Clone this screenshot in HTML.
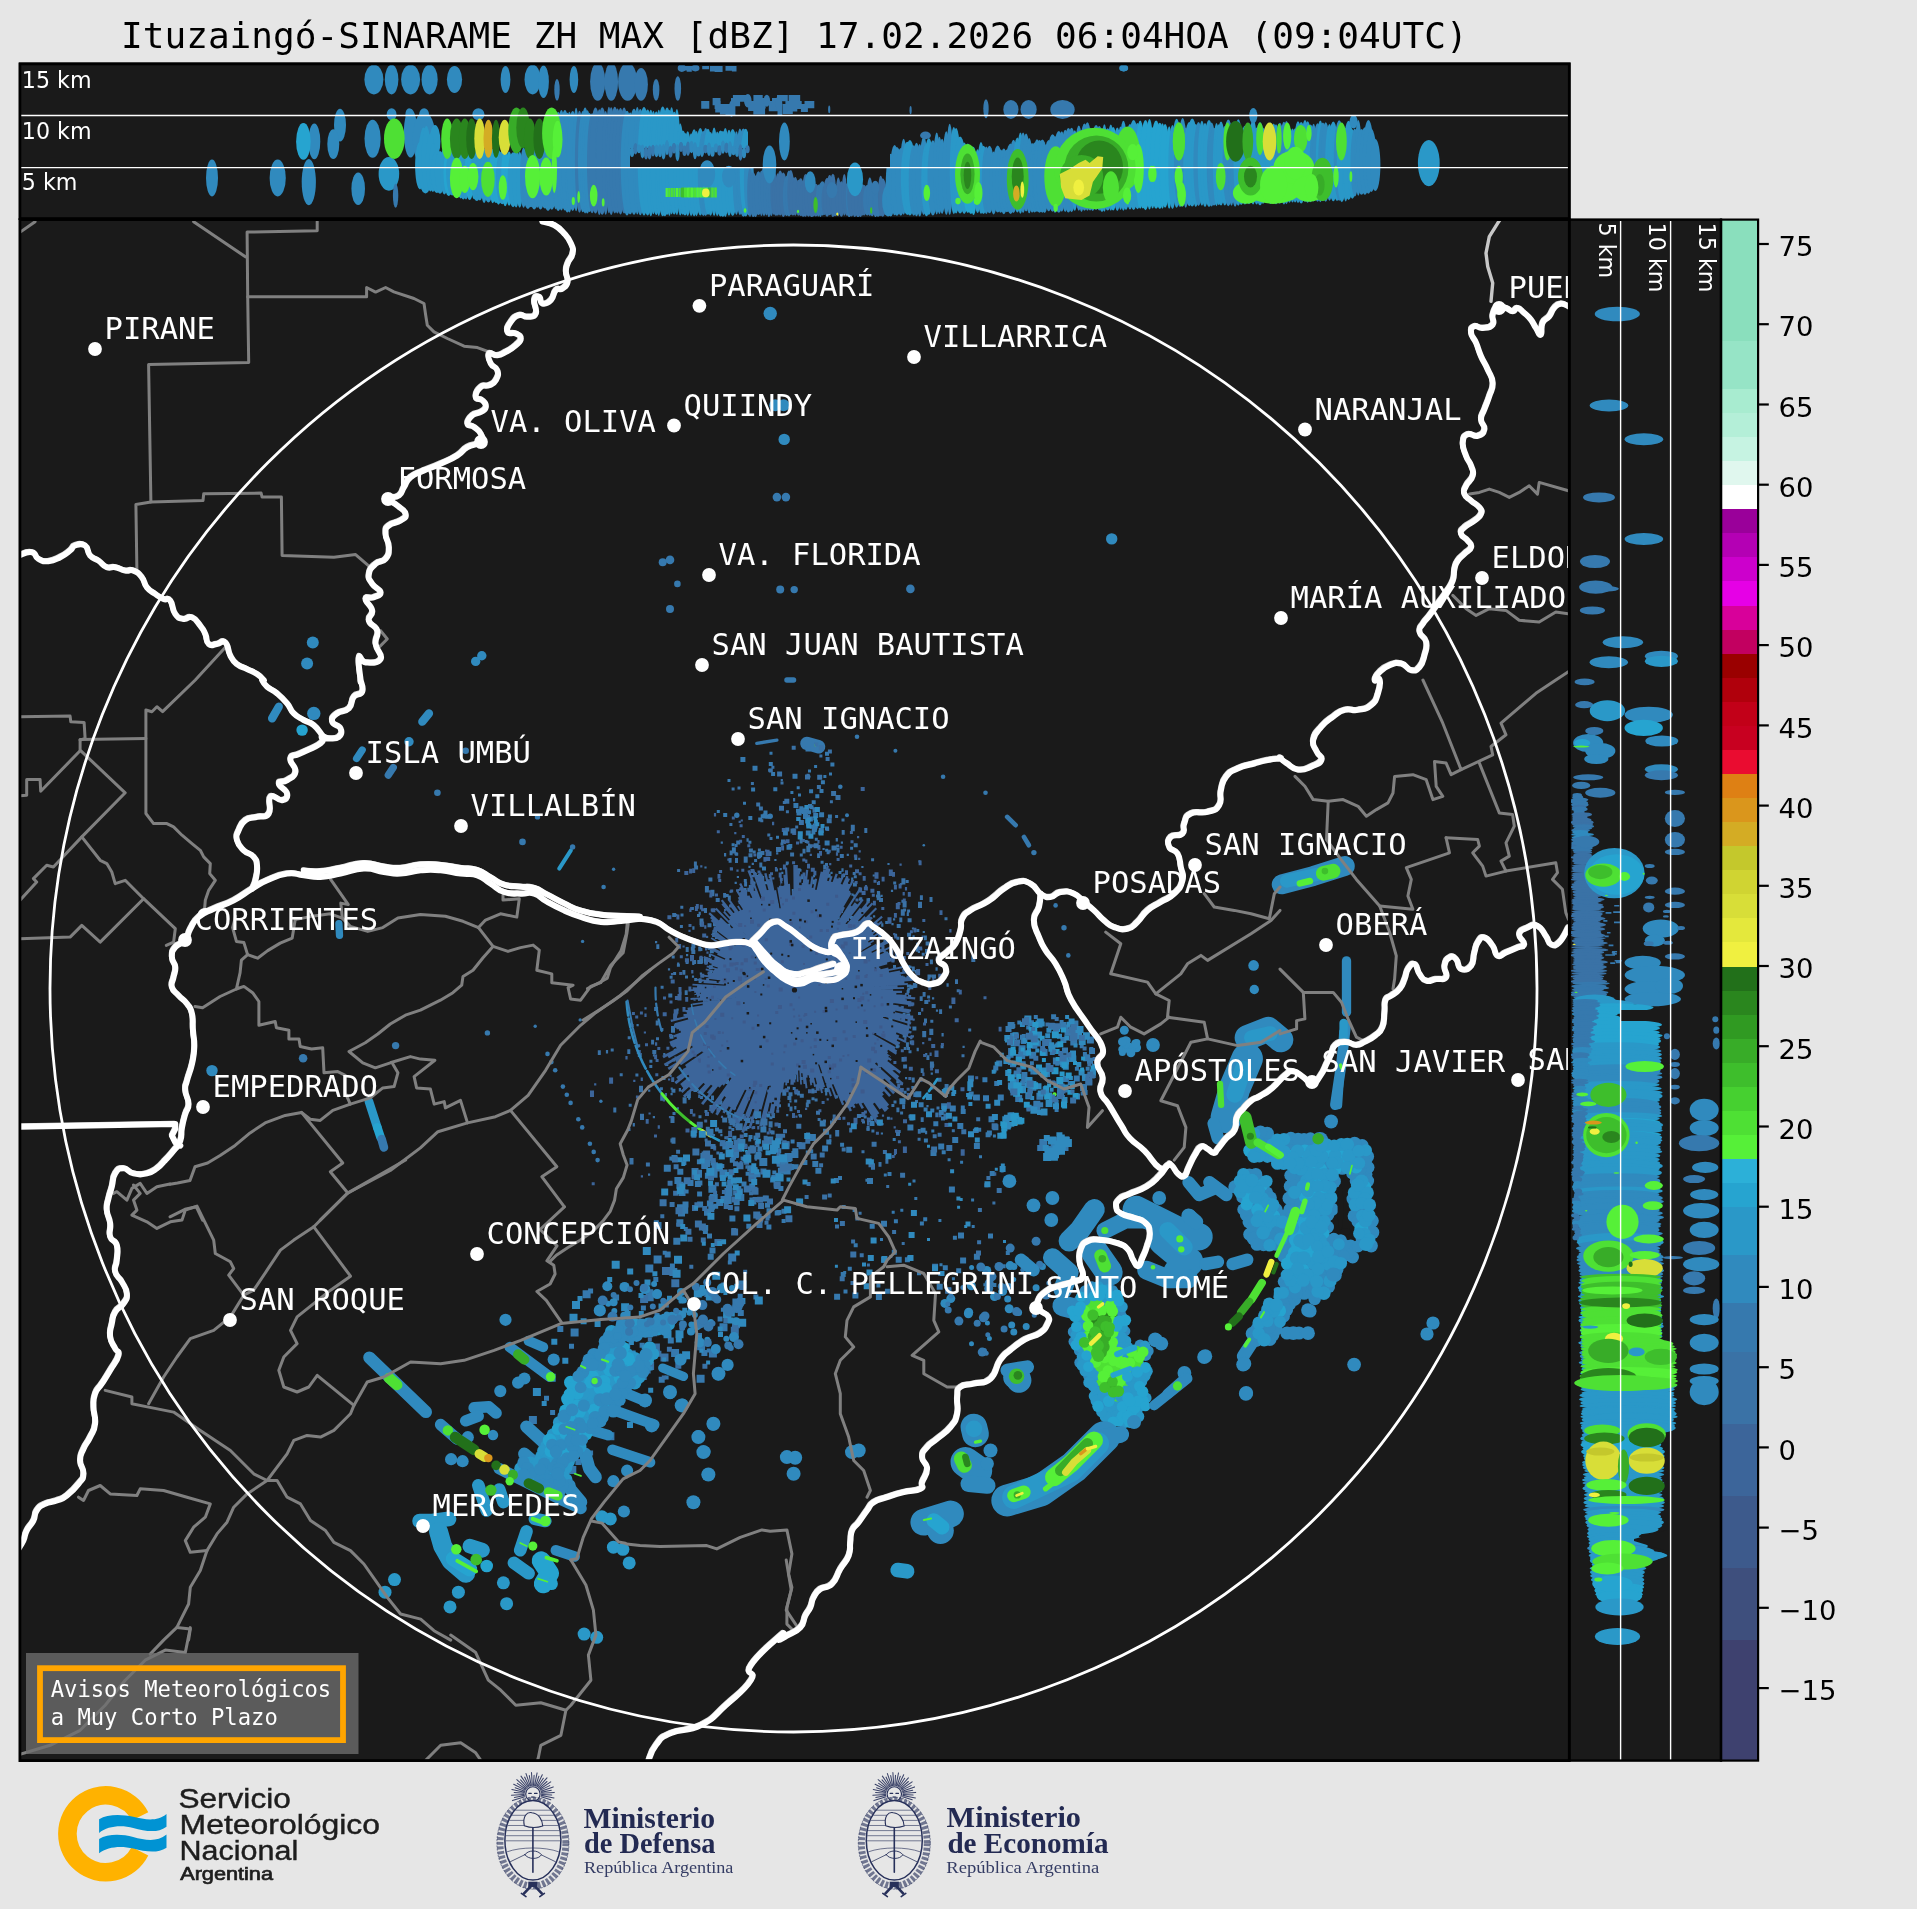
<!DOCTYPE html>
<html lang="es"><head><meta charset="utf-8"><title>Ituzaingó-SINARAME ZH MAX</title>
<style>
html,body{margin:0;padding:0;background:#e6e6e6;}
body{width:1917px;height:1909px;overflow:hidden;position:relative;}
svg{position:absolute;left:0;top:0;display:block;will-change:transform}
.mono{font-family:"DejaVu Sans Mono","Liberation Mono",monospace;}
.sans{font-family:"DejaVu Sans","Liberation Sans",sans-serif;}
.city{font-family:"DejaVu Sans Mono","Liberation Mono",monospace;font-size:30.5px;fill:#fff;}
.km{font-family:"DejaVu Sans","Liberation Sans",sans-serif;font-size:22.2px;fill:#fff;}
.tick{font-family:"DejaVu Sans","Liberation Sans",sans-serif;font-size:27.4px;fill:#000;}
.wb{fill:none;stroke:#fff;stroke-width:6;stroke-linejoin:round;stroke-linecap:round}
.wb2{fill:none;stroke:#d0d0d0;stroke-width:4.2;stroke-linejoin:round;stroke-linecap:round}
.gb{fill:none;stroke:#808080;stroke-width:3;stroke-linejoin:round;stroke-linecap:round}
</style></head><body>
<svg width="1917" height="1909" viewBox="0 0 1917 1909">
<rect x="0" y="0" width="1917" height="1909" fill="#e6e6e6"/>

<text x="121" y="47.5" class="mono" font-size="36.1" fill="#000" xml:space="preserve">Ituzaingó-SINARAME ZH MAX [dBZ] 17.02.2026 06:04HOA (09:04UTC)</text>
<rect x="19" y="62.5" width="1551.5" height="157.5" fill="#1a1a1a"/>
<rect x="19" y="219" width="1551.5" height="1542" fill="#1a1a1a"/>
<rect x="1569" y="219" width="152" height="1542" fill="#1a1a1a"/>
<defs>
<clipPath id="cmap"><rect x="20.6" y="221" width="1547.4" height="1538.6"/></clipPath>
<clipPath id="ctop"><rect x="20.6" y="65" width="1547.4" height="152.5"/></clipPath>
<clipPath id="cside"><rect x="1570.7" y="221" width="149.6" height="1538.6"/></clipPath>
</defs>
<g clip-path="url(#cmap)">
<g fill="none" stroke-linecap="round" stroke-linejoin="round"><path fill="#3a72a6" d="M841.7,1147.5h4v4h-4zM697,914h3v3h-3zM858.5,887.3h2.2v3.5h-2.2zM884.1,951.9h4v4h-4zM640,1113.7h4v6.4h-4zM870.7,1105.4h2.2v3.5h-2.2zM764.1,881.3h3v3h-3zM731.3,1128h3v3h-3zM909.3,985.3h4v4h-4zM871.4,1129.5h3v3h-3zM893,965h3v3h-3zM897.5,1045.2h2.2v2.2h-2.2zM678.8,1087.9h2.2v3.5h-2.2zM908.6,1035h3v3h-3zM925.6,941.6h4v4h-4zM853.8,875.3h3v3h-3zM904.7,992.9h4v4h-4zM880.4,944.3h3v3h-3zM740.9,897.3h3v3h-3zM907.1,988.2h2.2v2.2h-2.2zM903.6,1090.8h3v3h-3zM644.4,1007.2h2.2v2.2h-2.2zM692.1,960h4v4h-4zM748.4,865.8h2.2v2.2h-2.2zM861.3,865.9h2.2v2.2h-2.2zM654.1,1007.1h4v4h-4zM692.3,926.2h2.2v3.5h-2.2zM915,1100.1h3v3h-3zM794.2,1099.6h3v3h-3zM665.3,1063.1h3v3h-3zM824.6,1088.1h4v4h-4zM796.9,1090.8h3v4.8h-3zM825.1,1091.9h2.2v3.5h-2.2zM734.2,1112.2h3v4.8h-3zM939.1,1009.2h3v4.8h-3zM792.7,1087h3v3h-3zM747.3,887.8h4v4h-4zM835.2,1130h4v6.4h-4zM628.7,1103.7h3v3h-3zM704.4,866.4h2.2v2.2h-2.2zM774.3,858.9h2.2v2.2h-2.2zM852.9,882.6h4v4h-4zM860.6,1114h3v3h-3zM656.3,944.2h3v4.8h-3zM637.8,1053.1h4v4h-4zM751.7,862.7h2.2v2.2h-2.2zM771.9,1113.1h3v4.8h-3zM680.5,913.5h3v3h-3zM752.7,850.5h3v3h-3zM770.6,1130.5h4v4h-4zM782.3,1089.3h4v6.4h-4zM879,898.1h4v4h-4zM944.6,1084.1h4v6.4h-4zM906.7,912.5h2.2v3.5h-2.2zM925.1,1053h2.2v2.2h-2.2zM671,1026.3h4v6.4h-4zM878.4,934.1h3v4.8h-3zM627.5,1128.1h3v3h-3zM727.8,895.5h3v4.8h-3zM716.4,1151.5h3v3h-3zM785.7,863.1h2.2v2.2h-2.2zM849.5,883h2.2v2.2h-2.2zM714.9,935.9h3v3h-3zM936.5,1106.5h3v3h-3zM671.7,955.4h3v3h-3zM728.5,1126.3h3v3h-3zM708.4,877.4h4v4h-4zM921.7,952.7h3v3h-3zM962.5,1045.8h2.2v2.2h-2.2zM639,1085.8h4v6.4h-4zM670.6,1087.6h2.2v2.2h-2.2zM814.8,837.7h3v3h-3zM789.5,1106.5h3v4.8h-3zM800.7,874.4h3v4.8h-3zM787.8,1103.3h2.2v3.5h-2.2zM900.1,1111.4h3v3h-3zM645.9,1162.6h4v4h-4zM897.7,1129.9h3v3h-3zM924,1018.4h3v4.8h-3zM652.8,1116.1h2.2v2.2h-2.2zM886.2,1185h3v3h-3zM901.4,878.2h4v6.4h-4zM671.4,1088.7h4v4h-4zM699.4,947.9h3v3h-3zM877.2,891.6h3v4.8h-3zM712.1,932.3h3v4.8h-3zM660.6,985.7h3v3h-3zM741,1146.5h3v3h-3zM837,1116.6h3v3h-3zM684.7,990.3h3v4.8h-3zM907,1046.9h3v3h-3zM712.9,1134h2.2v2.2h-2.2zM851.1,877.5h2.2v3.5h-2.2zM909.4,965.8h2.2v2.2h-2.2zM724.3,1136.3h3v3h-3zM704,957.4h4v6.4h-4zM913.3,1092.3h3v4.8h-3zM713.9,1162.3h4v4h-4zM799.8,1093.7h4v4h-4zM798.4,1114.1h2.2v2.2h-2.2zM707.5,923.3h4v4h-4zM757.5,856.7h2.2v2.2h-2.2zM785.8,861.4h3v3h-3zM769.4,1116.2h3v3h-3zM940.6,1045.3h3v3h-3zM808.1,844.2h4v4h-4zM866.5,898.2h3v4.8h-3zM693.9,861.5h3v4.8h-3zM736.2,840.5h4v4h-4zM886.9,1116.7h3v3h-3zM694.1,865.6h4v4h-4zM673.1,971.9h3v3h-3zM873,915.2h2.2v2.2h-2.2zM697.3,942.1h2.2v2.2h-2.2zM755.6,1120.2h4v4h-4zM911.3,1086h3v3h-3zM674.6,1048.6h2.2v3.5h-2.2zM806,814.7h4v6.4h-4zM725.7,894h3v3h-3zM931.2,1063.8h3v3h-3zM822.5,847.9h2.2v2.2h-2.2zM694.2,978h3v3h-3zM806.3,845.8h4v6.4h-4zM779.6,868h2.2v2.2h-2.2zM923.9,935.5h3v4.8h-3zM876.9,882.1h3v3h-3zM655.7,1020.6h3v4.8h-3zM691.6,1087.2h3v3h-3zM927.3,979.3h2.2v3.5h-2.2zM918.4,860.2h2.2v2.2h-2.2zM955,979.2h3v4.8h-3zM690.8,946.8h4v4h-4zM944.5,917.3h3v3h-3zM893.9,1151.7h2.2v3.5h-2.2zM816,1110.7h4v4h-4zM710.4,889.8h4v6.4h-4zM705.4,943.8h3v4.8h-3zM929.3,1028.7h4v6.4h-4zM913.3,983.7h4v4h-4zM651.1,1039.7h3v4.8h-3zM613.3,1107.6h3v4.8h-3zM728.7,1139.8h3v3h-3zM732.6,1123.8h3v3h-3zM727.3,1114.3h4v4h-4zM909.2,984.5h2.2v2.2h-2.2zM691.4,943.9h4v4h-4zM669.5,1034.7h4v4h-4zM917.8,950.8h2.2v2.2h-2.2zM675.4,1010.8h3v3h-3zM799.6,838.6h3v4.8h-3zM781,839.6h4v4h-4zM841.4,868.2h2.2v3.5h-2.2zM905.9,1042.3h3v4.8h-3zM919.7,996.2h3v4.8h-3zM794.2,1105.9h2.2v3.5h-2.2zM671.5,1137.4h4v6.4h-4zM839.8,853.9h4v4h-4zM709.8,949.3h4v4h-4zM794.5,1090.5h4v4h-4zM660.4,1028.1h3v3h-3zM878.4,1122.7h3v3h-3zM748.8,884.9h2.2v3.5h-2.2zM897.5,975.2h3v3h-3zM871.1,858.3h3v3h-3zM930.7,1072.5h2.2v2.2h-2.2zM723.3,1107h2.2v3.5h-2.2zM708.5,1175.9h3v3h-3zM734.5,852.3h3v3h-3zM806.5,1099.7h4v4h-4zM676.5,1008.6h2.2v2.2h-2.2zM672.2,912.9h4v4h-4zM691.9,975.6h2.2v2.2h-2.2zM902.7,1033.5h4v4h-4zM627.3,1049.3h3v4.8h-3zM672.5,1058.5h3v3h-3zM676.9,963.8h3v3h-3zM893.2,881.5h3v3h-3zM676.3,1023.7h3v3h-3zM668.3,993.6h4v4h-4zM926.4,1105.1h2.2v2.2h-2.2zM850.8,824.8h4v6.4h-4zM660.2,1094.3h4v6.4h-4zM670.5,1116.6h4v6.4h-4zM853.7,843.2h4v4h-4zM823.2,864.7h3v4.8h-3zM935.9,1009.5h2.2v2.2h-2.2zM754.9,1115.6h2.2v3.5h-2.2zM637.2,1044.2h3v3h-3zM629.5,1158.1h4v6.4h-4zM677.1,869h3v3h-3zM670.8,1116.1h3v3h-3zM787.4,1096.1h4v4h-4zM672.5,1112.1h3v3h-3zM767.3,833.6h3v3h-3zM830.4,871.8h2.2v2.2h-2.2zM905,1077.1h2.2v2.2h-2.2zM961.5,1054.2h3v3h-3zM893,918.3h2.2v2.2h-2.2zM805.8,1102.4h3v4.8h-3zM790.1,852.6h4v4h-4zM734.6,844.1h3v3h-3zM713.9,942.8h2.2v2.2h-2.2zM880.5,894.7h2.2v2.2h-2.2zM841.3,874.3h3v3h-3zM901.4,998.2h4v4h-4zM655,941h2.2v2.2h-2.2zM675.1,913.9h2.2v2.2h-2.2zM901.4,899.7h3v3h-3zM788.5,1092.3h4v4h-4zM748.2,1138.4h3v3h-3zM916.6,1047.7h2.2v3.5h-2.2zM708.8,953.8h2.2v3.5h-2.2zM938.9,952.6h4v6.4h-4zM724,853.1h2.2v3.5h-2.2zM861.5,1150.2h3v3h-3zM744.1,881.8h3v4.8h-3zM895.7,1043.4h3v4.8h-3zM708.3,942.6h2.2v3.5h-2.2zM785.9,810.2h3v3h-3zM691.3,950h4v4h-4zM686,954h2.2v2.2h-2.2zM916.3,929.1h3v3h-3zM760.2,876h4v4h-4zM698.2,946.4h3v4.8h-3zM883.5,939.9h3v3h-3zM799.8,853.5h3v3h-3zM896.5,955.5h2.2v3.5h-2.2zM856.9,1113.9h4v4h-4zM890.9,889.7h2.2v2.2h-2.2zM673.9,1024.2h3v3h-3zM746.5,838.2h2.2v3.5h-2.2zM827.1,1089.3h2.2v2.2h-2.2zM649.3,1065.1h3v3h-3zM937.6,1132.8h4v4h-4zM814.6,1098.6h3v3h-3zM850.1,846.7h3v3h-3zM777.8,1123.1h3v4.8h-3zM759.3,862.6h3v4.8h-3zM667.9,968.2h2.2v2.2h-2.2zM891.4,923h2.2v2.2h-2.2zM880.8,1132.4h2.2v2.2h-2.2zM787,1086.4h3v3h-3zM710.7,974.5h2.2v2.2h-2.2zM680.3,905.8h3v3h-3zM768.8,1137.7h4v6.4h-4zM700.4,960.5h2.2v3.5h-2.2zM880.8,930.8h2.2v2.2h-2.2zM739.5,901.5h2.2v2.2h-2.2zM912.4,1026.5h4v4h-4zM925,949h3v4.8h-3zM728.6,857.9h3v4.8h-3zM927.1,995.5h3v3h-3zM840.8,841.6h2.2v2.2h-2.2zM908.5,1114.8h2.2v3.5h-2.2zM773.3,1145.1h3v3h-3zM768.8,874.4h2.2v3.5h-2.2zM906.6,989.9h3v3h-3zM679.9,924.9h3v3h-3zM885.2,920.9h3v3h-3zM743.6,888h3v4.8h-3zM796.7,868.3h4v4h-4zM834.9,1095.3h3v3h-3zM663.2,1053h2.2v2.2h-2.2zM673.7,1049.1h4v4h-4zM903.1,1064.5h4v4h-4zM705.8,1126.8h4v4h-4zM881.2,923.3h2.2v3.5h-2.2zM928.9,974.4h3v3h-3zM710.7,1196.4h4v4h-4zM709.4,970.3h3v3h-3zM723.1,893h3v4.8h-3zM935.3,1112.4h3v4.8h-3zM906.2,1013.4h4v4h-4zM878.5,1162h3v4.8h-3zM927.5,974.4h3v4.8h-3zM887.4,862.9h2.2v2.2h-2.2zM870.1,1115.8h3v4.8h-3zM745.4,1165.2h2.2v3.5h-2.2zM867,1118.1h4v4h-4zM751.5,883.2h2.2v2.2h-2.2zM698.6,911.8h2.2v3.5h-2.2zM919.9,895.2h3v4.8h-3zM774.4,1141.2h2.2v2.2h-2.2zM881.4,1123.1h2.2v2.2h-2.2zM836.5,848h3v4.8h-3zM903.1,908.5h3v3h-3zM911.8,966.6h3v4.8h-3zM728.4,1118h2.2v2.2h-2.2zM692.2,962.7h2.2v2.2h-2.2zM906.9,984.5h3v3h-3zM863.7,1115.4h3v3h-3zM729.6,850.5h3v4.8h-3zM671.1,1026.1h4v4h-4zM781.2,871.8h2.2v2.2h-2.2zM922.7,930.9h2.2v2.2h-2.2zM648.1,1089.6h2.2v2.2h-2.2zM769.5,837.1h3v3h-3zM670.5,1093h2.2v2.2h-2.2zM912.5,935.2h2.2v2.2h-2.2zM768.5,851.2h3v4.8h-3zM956.7,989.3h3v3h-3zM902.6,901.1h4v6.4h-4zM619.7,1073.2h3v3h-3zM720,1168.3h3v3h-3zM683,1087.6h2.2v2.2h-2.2zM676.2,1059h4v4h-4zM720.3,1134.1h2.2v2.2h-2.2zM932,974.4h4v4h-4zM833.5,846.3h3v3h-3zM775,868.4h3v3h-3zM922.6,991.9h3v4.8h-3zM683.3,1068.4h4v4h-4zM677.1,962.6h2.2v3.5h-2.2zM743.7,856.4h4v6.4h-4zM908.8,974.5h3v4.8h-3zM812.9,875h2.2v2.2h-2.2zM720.7,841.5h2.2v2.2h-2.2zM743.8,879h3v3h-3zM903.7,1047.1h3v3h-3zM713,922.3h4v4h-4zM734.6,881.7h2.2v2.2h-2.2zM871,1163.3h4v6.4h-4zM685.7,947.1h3v4.8h-3zM884.9,951.7h3v3h-3zM795.2,825.6h3v3h-3zM732.3,1115.2h4v4h-4zM699.5,918.5h4v6.4h-4zM736.8,875.9h2.2v2.2h-2.2zM718.3,1129.2h4v4h-4zM820.6,860.8h3v3h-3zM676.7,1107.3h2.2v2.2h-2.2zM682.6,1097.2h4v6.4h-4zM694.5,994.1h3v3h-3zM748.5,853.2h4v4h-4zM935.5,967.3h2.2v3.5h-2.2zM776.1,852.2h2.2v2.2h-2.2zM669.6,975.8h3v3h-3zM902.1,1104.3h3v4.8h-3zM846.7,853.7h2.2v2.2h-2.2zM864.3,828.1h3v4.8h-3zM726.4,1111.7h3v3h-3zM872.7,1110h3v4.8h-3zM756.4,875.1h3v4.8h-3zM768.6,1121.2h4v6.4h-4zM852.7,872h3v3h-3zM627.7,1036.2h3v3h-3zM755.5,1142.9h4v4h-4zM924.3,1000h4v4h-4zM817.1,853.3h3v4.8h-3zM610.7,1048.6h3v3h-3zM597.8,1050.2h3v4.8h-3zM698.5,1115.3h3v3h-3zM811.5,1097.2h3v3h-3zM716.2,932.7h2.2v2.2h-2.2zM841.5,818.5h3v3h-3zM757.5,1152.7h4v4h-4zM656,1037.3h3v3h-3zM908,988.1h2.2v2.2h-2.2zM876.9,890.9h3v3h-3zM704.9,886h4v6.4h-4zM912.8,984.1h3v3h-3zM941.5,1033.1h2.2v3.5h-2.2zM930.3,1019.7h3v3h-3zM652.3,1050.1h4v4h-4zM844.9,884.3h4v6.4h-4zM993.6,1067.7h3v4.8h-3zM780.7,779.1h2.2v2.2h-2.2zM636.5,1024.1h2.2v2.2h-2.2zM854.3,855.2h3v4.8h-3zM929.9,959.5h3v4.8h-3zM711,1095.5h3v4.8h-3zM731.9,847.2h4v6.4h-4zM891.4,1104h3v3h-3zM925,1130.7h2.2v3.5h-2.2zM812.3,879.4h3v4.8h-3zM917.6,1137.8h3v3h-3zM893.5,1100.4h3v3h-3zM718.4,1100.7h4v4h-4zM707.6,943.7h4v6.4h-4zM872.7,874.4h2.2v2.2h-2.2zM825,862.9h3v3h-3zM715.7,897.9h4v4h-4zM729.5,890.6h2.2v2.2h-2.2zM734.6,1143.2h3v4.8h-3zM649.4,1059.8h3v3h-3zM661.5,1076h4v4h-4zM853.1,894.6h2.2v2.2h-2.2zM918,1012.1h3v3h-3zM896.3,1080.3h3v3h-3zM876,894.5h3v3h-3zM699.2,956.8h4v6.4h-4zM931.7,1004h4v4h-4zM866.6,1126h3v4.8h-3zM735,858.1h3v4.8h-3zM714.1,929h3v4.8h-3zM905.7,880.1h3v3h-3zM635.4,1073.6h3v3h-3zM688.8,1076.4h3v3h-3zM802.5,848.8h3v4.8h-3zM838.5,870.9h3v3h-3zM951.8,1129.2h3v3h-3zM670.4,1138.6h4v4h-4zM793,798.1h2.2v3.5h-2.2zM749.1,1191.3h4v4h-4zM862,1120.5h3v3h-3zM940.6,953.8h4v4h-4zM867.8,898h2.2v3.5h-2.2zM817.6,1118h3v3h-3zM907.1,932.7h4v4h-4zM746.5,1126.1h3v3h-3zM876.7,896.3h4v4h-4zM914.8,969.9h2.2v3.5h-2.2zM659.9,1087.3h3v3h-3zM911.7,1077.6h3v4.8h-3zM605.9,1050.1h2.2v3.5h-2.2zM699.9,972.6h2.2v2.2h-2.2zM752.5,881.4h3v3h-3zM708.8,965.3h4v4h-4zM799.8,1077h3v3h-3zM885.4,1159h3v4.8h-3zM896.4,936.8h3v3h-3zM899.3,917.5h3v4.8h-3zM699.8,972.4h2.2v2.2h-2.2zM849.2,1127.8h3v4.8h-3zM799,1114.4h3v3h-3zM948.9,1005.4h3v3h-3zM778,1104.3h3v3h-3zM719.8,1152h3v4.8h-3zM686.9,1091.5h4v6.4h-4zM902.6,1012.8h3v3h-3zM918,901.7h4v6.4h-4zM910.1,937.2h3v3h-3zM932.7,1134.3h4v4h-4zM894.1,933.8h3v3h-3zM904.9,1026.6h4v4h-4zM652.9,1054.2h2.2v2.2h-2.2zM968.2,1028.4h3v3h-3zM793.1,1074.8h3v4.8h-3zM830,1120.4h4v4h-4zM688.1,1097.5h2.2v2.2h-2.2zM943.5,1113.4h4v6.4h-4zM896.7,924.1h4v4h-4zM896.4,1107.5h3v4.8h-3zM685.6,959.2h3v4.8h-3zM829.2,1134.5h2.2v3.5h-2.2zM709.4,1104.9h4v4h-4zM798.5,868.9h3v4.8h-3zM929.9,1061.5h4v6.4h-4zM758.7,851.7h2.2v3.5h-2.2zM937.5,1077.7h4v4h-4zM900.1,883h2.2v2.2h-2.2zM917.8,1129h3v4.8h-3zM915.7,947h3v4.8h-3zM858.8,898.5h2.2v2.2h-2.2zM743.5,1145.1h4v4h-4zM698.6,978.2h3v4.8h-3zM911.9,927.4h2.2v2.2h-2.2zM835.7,838h2.2v3.5h-2.2zM841.7,830h3v4.8h-3zM900.8,909.3h4v6.4h-4zM971.3,955.6h4v6.4h-4zM738.7,899.3h3v4.8h-3zM699.9,1095.9h3v3h-3zM632.7,1123h2.2v3.5h-2.2zM648,1173.5h2.2v2.2h-2.2zM682.4,969.9h3v4.8h-3zM914.4,1093.3h2.2v3.5h-2.2zM743.4,1126.8h4v4h-4zM843,873.6h2.2v3.5h-2.2zM901.5,1056.9h3v4.8h-3zM922.2,1030.9h4v6.4h-4zM920.7,1068.3h3v4.8h-3zM943.3,1109.4h3v3h-3zM693.4,1087.9h4v4h-4zM907.3,965.3h3v4.8h-3zM704.5,1109.9h3v3h-3zM704.6,1138.4h3v3h-3zM690.9,907h3v3h-3zM908.5,1050.3h3v3h-3zM769.8,1130.2h3v3h-3zM760.4,850.9h4v4h-4zM907.6,918.3h4v4h-4zM699.8,922.7h4v4h-4zM902.1,976.4h3v3h-3zM929.5,897.1h3v4.8h-3zM877.2,942.6h3v3h-3zM826.7,873.7h4v4h-4zM946.5,983.2h2.2v3.5h-2.2zM920.7,1117.3h3v4.8h-3zM753.8,873.1h3v3h-3zM786.1,1114.1h2.2v2.2h-2.2zM811.5,1088.6h3v4.8h-3zM718.6,1099.7h3v4.8h-3zM832.7,1114.5h3v4.8h-3zM909.7,1040.5h4v4h-4zM780.5,842.6h3v3h-3zM685,975.6h3v3h-3zM698.2,1094.5h2.2v3.5h-2.2zM789.3,1100.2h2.2v2.2h-2.2zM720.9,1140.6h4v4h-4zM704,908.1h3v4.8h-3zM932,997.2h2.2v2.2h-2.2zM808,843.4h2.2v2.2h-2.2zM907.1,909.6h3v3h-3zM891.5,956.6h3v4.8h-3zM741.8,1114.1h3v4.8h-3zM859.3,897.2h3v3h-3zM884.8,951.6h3v4.8h-3zM748.8,886h3v4.8h-3zM926.4,1055.3h3v4.8h-3zM912.9,983.1h3v4.8h-3zM735.6,1141.2h2.2v3.5h-2.2zM916.1,942.8h3v4.8h-3zM697.3,960h4v4h-4zM725,1102.7h3v4.8h-3zM751.4,1119.9h3v3h-3zM768.1,768.7h3v3h-3zM851.4,893.6h2.2v2.2h-2.2zM842.2,976h3v3h-3zM812,960.9h3v3h-3zM789.8,905.5h3v3h-3zM797.6,1044.2h2v2h-2zM754.3,1033.7h3v3h-3zM715.3,998.3h2v2h-2zM744.4,966.8h2v2h-2zM720.6,982.1h2v2h-2zM829.3,1062.3h3v3h-3zM751.9,967.2h4v4h-4zM790.7,938.6h2v2h-2zM799.7,1051.5h3v3h-3zM732.1,972.3h4v4h-4zM814.3,973.9h3v3h-3zM835.9,942h4v4h-4zM747.5,987.2h2v2h-2zM845.6,969.3h3v3h-3zM713.4,1015h3v3h-3zM718.2,996.8h2v2h-2zM827.9,902.2h3v3h-3zM876.6,1039.1h3v3h-3zM762.4,937.3h2v2h-2zM738.7,1052.5h3v3h-3zM865.4,994.3h3v3h-3zM816.7,1040h2v2h-2zM828.7,916.2h4v4h-4zM734.7,1080.8h3v3h-3zM823.9,936h3v3h-3zM725.9,1081h3v3h-3zM773.5,994.1h4v4h-4zM757.8,1083.1h2v2h-2zM777.6,1053.3h3v3h-3zM729.1,969h2v2h-2zM794.2,938.2h3v3h-3zM803.4,924.1h3v3h-3zM744.7,941.7h2v2h-2zM803.5,905.6h2v2h-2zM852.6,1069.2h2v2h-2zM796.2,1056.2h2v2h-2zM852.2,1028.7h2v2h-2zM713.8,1013.7h4v4h-4zM765.7,1005.1h4v4h-4zM739.8,1016.7h4v4h-4zM844.9,1061.8h2v2h-2zM773.8,928.8h4v4h-4zM762.2,963h3v3h-3zM805.1,916.3h4v4h-4zM792.5,1015.8h3v3h-3zM823.6,934.6h4v4h-4zM864.5,1032.4h4v4h-4zM846.2,926.7h3v3h-3zM859.2,1002.3h3v3h-3zM768.5,926.9h3v3h-3zM839.2,1073.8h2v2h-2zM782.9,902.3h3v3h-3zM868,1040.3h3v3h-3zM866.8,1049.6h4v4h-4zM717.2,1015.8h4v4h-4zM715,1006.6h2v2h-2zM811.6,1021h3v3h-3zM708.9,1051.6h4v4h-4zM706.7,1016.8h4v4h-4zM721.8,1066.5h4v4h-4zM736.1,965.6h4v4h-4zM792.4,1023h3v3h-3zM739.4,969h3v3h-3zM806.9,1060.6h4v4h-4zM745.5,956.3h4v4h-4zM846.3,978.3h3v3h-3zM712.5,996.6h3v3h-3zM805.5,1028.4h2v2h-2zM786.9,972.5h3v3h-3zM752.6,1055.5h3v3h-3zM795.1,1057.7h3v3h-3zM850.5,933.7h2v2h-2zM778.1,985.5h4v4h-4zM828.7,1069.2h3v3h-3zM833.8,974.8h3v3h-3zM825.5,992h3v3h-3zM801.3,1041.4h3v3h-3zM862.4,979.1h3v3h-3zM800.4,1030.6h2v2h-2zM802.1,912.4h3v3h-3zM790.6,1038.8h4v4h-4zM784.5,1049.2h4v4h-4zM831.4,947.7h3v3h-3zM833.3,1076.6h3v3h-3zM783.8,1013.5h3v3h-3zM804.5,1031.7h4v4h-4zM752.7,985.9h2v2h-2zM843.5,914.1h3v3h-3zM828.7,892.3h3v3h-3zM731.4,975.8h2v2h-2zM733.3,958.9h2v2h-2zM765,955.9h3v3h-3zM697.6,1030.6h4v4h-4zM766,944h2v2h-2zM762.8,894.2h3v3h-3zM722.6,1030.6h4v4h-4zM827.3,981h4v4h-4zM758.2,1086.4h4v4h-4zM745.4,944.8h2v2h-2zM807,1040.3h3v3h-3zM712,996.5h3v3h-3zM873.9,995.3h3v3h-3zM792.6,957.7h3v3h-3zM857.2,1086.4h3v3h-3zM781,1071.5h3v3h-3zM841.6,923.2h3v3h-3zM859,938.1h2v2h-2zM778.9,1013.7h3v3h-3zM867.7,952.5h3v3h-3zM855.2,919.6h3v3h-3zM760.5,908.7h4v4h-4zM827.3,1017.9h3v3h-3zM780.8,1068.4h2v2h-2zM764.4,1056.6h3v3h-3zM820.6,940.2h3v3h-3zM823.6,937.9h3v3h-3zM827,1008.8h2v2h-2zM855.2,981.8h3v3h-3zM816.1,900.9h2v2h-2zM865.5,979.8h3v3h-3zM810.7,958.6h3v3h-3zM830.3,999.3h4v4h-4zM729.4,1055.3h4v4h-4zM836.4,964.3h2v2h-2zM757,969.7h3v3h-3zM785,925.3h2v2h-2zM822,974.2h3v3h-3zM751.3,957h4v4h-4zM817.5,926.3h3v3h-3zM840.6,907.4h3v3h-3zM822,890.8h3v3h-3zM788.1,921.2h3v3h-3zM712.3,1051h3v3h-3zM744,1022.9h2v2h-2zM846.2,1029.8h3v3h-3zM717.3,1037.2h2v2h-2zM837.9,995.5h3v3h-3zM815.7,1035.1h2v2h-2zM783,940.7h3v3h-3zM830.7,1055.7h4v4h-4zM754.3,979.2h3v3h-3zM851.1,964.3h3v3h-3zM785.3,906.5h3v3h-3zM736.2,1001.4h2v2h-2zM793.5,963.1h2v2h-2zM790.8,963.6h3v3h-3zM842.9,959.3h2v2h-2zM808.3,932.2h4v4h-4zM809.2,957.3h3v3h-3zM791.8,1041h3v3h-3zM750.1,1002.4h4v4h-4zM784.1,1055.1h4v4h-4zM751.9,975.9h2v2h-2zM843.9,989.2h4v4h-4zM760.8,986.6h3v3h-3zM818.4,953.2h3v3h-3zM861.2,927.3h4v4h-4zM748.8,925h3v3h-3zM862.2,1002.1h3v3h-3zM786.6,1028.7h2v2h-2zM836.5,1040.4h3v3h-3zM835.9,1047.3h2v2h-2zM795.5,1059.1h2v2h-2zM776.2,916h3v3h-3zM793.7,1027.8h4v4h-4zM744.7,972.4h3v3h-3zM811.5,973.1h3v3h-3zM771.5,988.9h2v2h-2zM821.1,1014.7h4v4h-4zM866.3,957.9h2v2h-2zM850,915.9h3v3h-3zM859.9,945.4h3v3h-3zM867.5,1060h4v4h-4zM846.1,985.8h3v3h-3zM839,1033.5h4v4h-4zM756.2,957.5h2v2h-2zM729.6,1014.3h3v3h-3zM785.6,1070.1h3v3h-3zM827.4,981.9h3v3h-3zM860.5,1012.1h4v4h-4zM862.6,946.8h2v2h-2zM761.6,1087.6h2v2h-2zM871.3,1002.4h4v4h-4zM734.1,965.9h3v3h-3zM841.1,969.7h3v3h-3zM785.2,915.9h3v3h-3zM788.2,926.3h2v2h-2zM786.9,1039.2h2v2h-2zM838.5,1084.3h2v2h-2zM750.8,1005.1h2v2h-2zM796.7,988.9h4v4h-4zM814.5,1052.6h2v2h-2zM721.7,1048.5h4v4h-4zM803,981.2h3v3h-3zM821.5,896h3v3h-3zM825.2,927.3h3v3h-3zM835.2,946.4h4v4h-4zM889.9,1021.8h2v2h-2zM837.2,979.9h2v2h-2zM817.2,926.5h4v4h-4zM839.9,910.1h3v3h-3zM856.2,955.9h3v3h-3zM812.5,999.4h4v4h-4zM691.5,1047.7h3v3h-3zM853.8,968h3v3h-3zM767.9,1093.2h3v3h-3zM874.2,1041.8h3v3h-3zM815.6,939.2h2v2h-2zM851.5,1002h3v3h-3zM800.1,967.9h4v4h-4zM725.7,1053.1h4v4h-4zM696.1,1024.9h3v3h-3zM825.6,1001.3h2v2h-2zM726.2,969h3v3h-3zM775.6,903.4h3v3h-3zM795,1008.2h4v4h-4zM847.1,1076.7h2v2h-2zM749,996.9h3v3h-3zM800.2,965.4h4v4h-4zM739.7,1041.7h3v3h-3zM740.1,930.8h2v2h-2zM842.7,1085.2h2v2h-2zM853.2,978.6h3v3h-3zM799.7,1061.8h3v3h-3zM857.4,1060.7h3v3h-3zM712.9,1019.1h4v4h-4zM776.1,1056h3v3h-3zM725,1079.4h4v4h-4zM704.5,1040.8h3v3h-3zM886.5,1026h2v2h-2zM840.5,953h4v4h-4zM742.8,922.6h3v3h-3zM791.4,966.5h4v4h-4zM786.7,1010h4v4h-4zM792.8,932.3h2v2h-2zM844.7,975h2v2h-2zM773.8,941.1h3v3h-3zM806.6,1050.6h2v2h-2zM787.6,1058.2h3v3h-3zM844.4,967.5h3v3h-3zM749.2,973.1h3v3h-3zM831.4,890.7h4v4h-4zM800,989.9h3v3h-3zM757.2,1101.3h3v3h-3zM692.7,1043.5h4v4h-4zM759.2,970.6h3v3h-3zM827.8,893.2h2v2h-2zM835.7,915h3v3h-3zM787.1,1040.3h4v4h-4zM773,1029h2v2h-2zM866.7,980h3v3h-3zM740,988.2h4v4h-4zM730.4,959.6h3v3h-3zM740.5,1035.4h4v4h-4zM738.1,915.9h3v3h-3zM853.7,985.5h3v3h-3zM791.6,979.3h3v3h-3zM768.3,1064.8h3v3h-3zM771.1,1068.7h3v3h-3zM745,997h3v3h-3zM741.3,1041.1h4v4h-4zM744.8,1034.6h4v4h-4zM806.9,908h3v3h-3zM812.6,1029.5h2v2h-2zM786.6,1053.6h4v4h-4zM764.3,1071.2h3v3h-3zM877.7,1001.2h3v3h-3zM751,965.6h3v3h-3zM751.3,914.3h3v3h-3zM827.1,1045.4h2v2h-2zM788.9,987.5h3v3h-3zM785.7,1025.7h3v3h-3zM815.3,897.7h2v2h-2zM699.6,1059.9h2v2h-2zM755.1,1070.5h4v4h-4zM722.7,1055.4h4v4h-4zM773.1,953h3v3h-3zM886.7,997.6h4v4h-4zM760,919.2h3v3h-3zM729.7,991.5h3v3h-3zM837.8,954h2v2h-2zM768.6,987.5h3v3h-3zM770.1,897.4h2v2h-2zM861.8,1041.9h3v3h-3zM726.1,923.8h4v4h-4zM836.7,916.4h3v3h-3zM782,929.8h3v3h-3zM847.9,1013.5h3v3h-3zM777.5,915h3v3h-3zM788.2,1030h3v3h-3zM827,1009.1h3v3h-3zM877.9,1067.4h3v3h-3zM781.7,914.9h3v3h-3zM871.8,958.9h3v3h-3zM813.1,973.9h2v2h-2zM792.8,962.1h3v3h-3zM711.6,1009.7h3v3h-3zM838.6,953.1h3v3h-3zM777.9,1079.1h4v4h-4zM850.6,961.3h2v2h-2zM799.3,899.9h4v4h-4zM693.6,1028.1h3v3h-3zM828,971.5h2v2h-2zM837.8,1074.4h4v4h-4zM854.9,930.3h4v4h-4zM775.2,968.3h3v3h-3zM755.4,920.6h4v4h-4zM763,910.8h3v3h-3zM755.1,1008.8h3v3h-3zM755.1,986.7h2v2h-2zM744.8,1060.4h4v4h-4zM772.1,1053.8h3v3h-3zM856.9,969.8h3v3h-3zM841.4,1037.7h2v2h-2zM809.4,978.9h4v4h-4zM883,1004.7h4v4h-4zM751.8,920.8h2v2h-2zM729.5,965.5h3v3h-3zM776.3,907.8h2v2h-2zM764.3,977.7h4v4h-4zM709.3,1021.7h4v4h-4zM814.7,983h3v3h-3zM791.9,1019.9h2v2h-2zM771.1,924.7h4v4h-4zM743.1,963h3v3h-3zM761.8,907.2h2v2h-2zM841.8,974.7h3v3h-3zM739.7,1071.5h2v2h-2zM731.1,987.5h2v2h-2zM803.1,979.9h3v3h-3zM761.9,899h3v3h-3zM794.4,955.8h2v2h-2zM783.2,964.3h4v4h-4zM747.7,1033.6h2v2h-2zM861.3,978.9h4v4h-4zM822.8,929.8h3v3h-3zM766.2,969.8h2v2h-2zM710.3,1026.5h3v3h-3zM734.3,993.4h3v3h-3zM834.4,991.2h4v4h-4zM871,985.8h3v3h-3zM734.7,940.7h3v3h-3zM817.4,962.4h2v2h-2zM709.5,1035.2h3v3h-3zM880.5,1007h2v2h-2zM796.4,1037.6h4v4h-4zM797.2,1025.5h2v2h-2zM754.9,958.4h3v3h-3zM733.5,928.7h3v3h-3zM838.1,945.5h3v3h-3zM844.8,924.1h4v4h-4zM838.3,931.2h3v3h-3zM823.6,964.7h4v4h-4zM865.3,1072.6h3v3h-3zM770.7,1033.6h3v3h-3zM835.6,1067.7h3v3h-3zM869.1,986.3h2v2h-2zM761.7,1029.9h3v3h-3zM818.6,1060.4h4v4h-4zM819.6,1025.4h3v3h-3zM826.5,919.7h2v2h-2zM730.8,971.7h4v4h-4zM870.5,977.7h2v2h-2zM818.7,1045.2h2v2h-2zM723.5,990.7h4v4h-4zM806.4,1038.1h3v3h-3zM727.9,933.3h3v3h-3zM766.6,952.1h3v3h-3zM735.3,941.6h3v3h-3zM741.3,1029h4v4h-4zM819.8,910.2h2v2h-2zM825.6,954h4v4h-4zM858.7,982.2h3v3h-3zM749.7,1035.1h3v3h-3zM735.3,926h4v4h-4zM816.8,923.7h2v2h-2zM701.7,1029.2h3v3h-3zM771.7,993.2h3v3h-3zM772.8,948.3h4v4h-4zM848,928.8h3v3h-3zM791.8,889h2v2h-2zM761.6,974.6h3v3h-3zM787.2,1011.2h3v3h-3zM818.1,1022.7h2v2h-2zM804,1058.8h4v4h-4zM850.7,933.2h2v2h-2zM748.5,946.2h3v3h-3zM816,971.6h3v3h-3zM767.1,937.3h2v2h-2zM856.5,1057.8h2v2h-2zM759.9,931.5h3v3h-3zM700.4,1047.3h2v2h-2zM842.3,975.7h4v4h-4zM784.3,1034.5h3v3h-3zM878.6,977h3v3h-3zM773.5,939.6h3v3h-3zM733,998.3h4v4h-4zM874,987h3v3h-3zM828.7,1039.7h2v2h-2zM733.4,966.5h3v3h-3zM766.1,977.3h2v2h-2zM858.7,995.8h4v4h-4zM868.1,1082.5h3v3h-3zM802.9,900.1h2v2h-2zM743.3,975.5h3v3h-3zM862.4,989.2h3v3h-3zM874.8,980.4h3v3h-3zM835.9,990.8h3v3h-3zM880.7,1011.4h2v2h-2zM732,1067.3h2v2h-2zM861.1,924.5h4v4h-4zM731.2,1055.1h4v4h-4zM888.5,1016.9h4v4h-4zM854.4,931.6h3v3h-3zM854.7,1080.4h2v2h-2zM787.2,1013.7h4v4h-4zM782.9,977.7h2v2h-2zM794.7,1044.5h2v2h-2zM795,933.9h3v3h-3zM867.7,969.4h2v2h-2zM746.3,1059.2h3v3h-3zM704.9,1062.6h4v4h-4zM729.7,948.7h3v3h-3zM796.4,942.9h4v4h-4zM798.5,890h3v3h-3zM727.1,947h4v4h-4zM701.8,1011.7h3v3h-3zM793.2,993.2h3v3h-3zM726.2,924.4h4v4h-4zM829.1,1067.8h3v3h-3zM708.3,999.3h3v3h-3zM711.7,1065.1h3v3h-3zM688.1,1038.3h4v4h-4zM770.1,992.5h3v3h-3zM882.3,986.5h3v3h-3zM800.7,1003.7h3v3h-3zM877.5,1055.3h3v3h-3zM836.5,898.7h4v4h-4zM873,996.5h2v2h-2zM731.1,1008.3h4v4h-4zM850.3,1024.2h3v3h-3zM857.1,981.8h3v3h-3zM727.6,1020.9h3v3h-3zM791.8,1026h4v4h-4zM708.5,1051.6h2v2h-2z"/>
<path fill="#3c659a" d="M808,1089.3h4v4h-4zM763.4,856.9h3v4.8h-3zM688.4,929.7h2.2v2.2h-2.2zM716.4,1107.6h3v4.8h-3zM904.2,1037.1h2.2v3.5h-2.2zM895,1129.7h3v3h-3zM888.5,1084.6h4v4h-4zM934.9,1069.3h4v4h-4zM889.4,949.2h3v4.8h-3zM701.1,908.2h3v3h-3zM921.6,935.6h2.2v2.2h-2.2zM960.7,1149.3h4v6.4h-4zM699.8,904.7h3v4.8h-3zM669.5,1074.8h2.2v2.2h-2.2zM778.7,872.6h3v4.8h-3zM730,867.5h3v3h-3zM713.1,1101.8h2.2v2.2h-2.2zM994.1,1172.2h2.2v3.5h-2.2zM805.2,859.6h2.2v3.5h-2.2zM819,851h3v4.8h-3zM794.2,1089.2h4v4h-4zM925.5,962.9h3v3h-3zM902.6,892.1h2.2v3.5h-2.2zM739.6,824.2h3v3h-3zM809.7,853.8h2.2v2.2h-2.2zM691.2,969.9h2.2v3.5h-2.2zM837.9,1117.1h3v3h-3zM918.2,946.6h4v4h-4zM683.5,1014h2.2v2.2h-2.2zM668,1078.4h2.2v2.2h-2.2zM754.8,1157.3h2.2v3.5h-2.2zM909.5,1002.2h4v4h-4zM888.8,869.5h4v6.4h-4zM727.3,858.6h2.2v2.2h-2.2zM893.9,884.8h3v4.8h-3zM715,893.4h3v3h-3zM692.2,868.2h3v4.8h-3zM951.4,997.5h4v6.4h-4zM920.2,948.3h2.2v2.2h-2.2zM645.7,1118.9h3v4.8h-3zM705.9,958.1h4v4h-4zM882.8,949.3h3v3h-3zM818.4,1109.2h3v3h-3zM719.1,870h3v3h-3zM739.1,839.7h3v3h-3zM682.5,945.4h2.2v2.2h-2.2zM817.4,845h3v4.8h-3zM839.6,845.7h3v3h-3zM861.6,891h4v4h-4zM685.5,1128.5h4v4h-4zM694.9,906.1h3v4.8h-3zM772,821.7h2.2v3.5h-2.2zM801.9,839.1h3v3h-3zM668.9,1116h2.2v2.2h-2.2zM908.3,1076.9h3v3h-3zM734,1116.5h4v4h-4zM797,1110.1h3v3h-3zM928.3,987.1h3v3h-3zM906.9,1093.1h4v6.4h-4zM702.2,933.5h4v4h-4zM902.3,969h2.2v3.5h-2.2zM751.5,1127.1h2.2v2.2h-2.2zM921.1,1008h2.2v3.5h-2.2zM863.9,886.4h4v4h-4zM903.8,1056.7h3v4.8h-3zM729.8,867.2h3v3h-3zM704.2,1119.6h3v3h-3zM709,890.2h2.2v2.2h-2.2zM774.9,866.9h2.2v3.5h-2.2zM704.5,961.7h3v3h-3zM670.9,973.1h2.2v2.2h-2.2zM854.6,881.1h3v3h-3zM866.9,1117.4h4v4h-4zM934.5,1050.6h4v6.4h-4zM932.3,977.9h2.2v3.5h-2.2zM749.8,884.9h4v6.4h-4zM983.5,996.2h3v3h-3zM859.1,887.6h3v4.8h-3zM881.3,907.1h3v3h-3zM706,935.8h2.2v2.2h-2.2zM744.2,889.9h3v4.8h-3zM744.4,1143.7h3v4.8h-3zM781.1,845.6h3v4.8h-3zM867,1118.2h3v3h-3zM736.4,869.6h2.2v2.2h-2.2zM877.1,941.2h3v4.8h-3zM698.9,1095.8h2.2v2.2h-2.2zM884.5,941h3v3h-3zM726.4,1136.1h2.2v3.5h-2.2zM902.9,1146.5h4v6.4h-4zM846.2,1105.2h2.2v2.2h-2.2zM678.5,987.1h3v4.8h-3zM923.1,1054.1h3v3h-3zM688.5,924.1h3v3h-3zM939.5,910.2h3v4.8h-3zM949.3,928.9h2.2v3.5h-2.2zM940.9,1042.9h3v3h-3zM960.5,1087.3h4v4h-4zM884.4,937.8h3v3h-3zM699.5,955.7h3v3h-3zM674.4,1056.6h3v3h-3zM829.1,1138.5h2.2v3.5h-2.2zM861.2,1119.1h3v3h-3zM906.6,1009.8h2.2v2.2h-2.2zM696.2,991.9h3v4.8h-3zM892,872h3v4.8h-3zM710.7,908.4h3v3h-3zM690.1,907h2.2v2.2h-2.2zM717.5,873.9h3v4.8h-3zM922.3,919.1h3v3h-3zM894,1149.1h3v4.8h-3zM778.2,1099.9h2.2v2.2h-2.2zM707.8,971.5h3v4.8h-3zM813.9,1090.1h3v3h-3zM751.1,1148h4v4h-4zM655,1042.3h2.2v3.5h-2.2zM677.5,994.1h4v6.4h-4zM911.3,1002.4h3v3h-3zM692.4,1113.4h3v3h-3zM762.6,1124.8h3v3h-3zM907.5,1019.5h3v4.8h-3zM895.8,902.9h4v6.4h-4zM678.1,944h3v4.8h-3zM737.7,888.9h2.2v2.2h-2.2zM891.5,957.8h3v4.8h-3zM720.9,1115.8h2.2v2.2h-2.2zM724,909.1h2.2v2.2h-2.2zM919.5,1076.9h3v4.8h-3zM753.4,853.4h3v3h-3zM886,953.3h3v3h-3zM938.2,973.8h4v4h-4zM709.3,894.5h3v3h-3zM689.1,868.7h3v4.8h-3zM899.8,1088.1h4v4h-4zM938.5,1112.4h3v4.8h-3zM784.7,1088.3h4v4h-4zM897.2,1083.6h3v4.8h-3zM728.1,1130.8h4v6.4h-4zM654,1134.4h3v3h-3zM861.4,1112h4v4h-4zM718.2,878.9h3v3h-3zM673.7,1009.2h4v6.4h-4zM752.2,1125.9h3v3h-3zM667.4,915.2h4v4h-4zM734.9,1114.4h3v3h-3zM743.5,1115.9h3v4.8h-3zM796,870.7h3v3h-3zM946.9,1102.3h4v6.4h-4zM935.6,956.6h3v3h-3zM810.8,867.8h4v4h-4zM998.6,1026.7h3v4.8h-3zM904.7,999.2h2.2v3.5h-2.2zM870.4,888.7h4v4h-4zM893.6,1126.3h2.2v2.2h-2.2zM975.2,1076.3h3v3h-3zM853.5,1117.8h4v6.4h-4zM753.2,871.9h3v4.8h-3zM887.5,917.3h4v6.4h-4zM757.2,1125.9h2.2v3.5h-2.2zM768.5,1128.1h2.2v3.5h-2.2zM781.8,828.1h4v4h-4zM688.4,986.6h3v4.8h-3zM806.4,840.8h3v3h-3zM739.7,1134.6h4v4h-4zM903,1119.3h4v4h-4zM862.7,876h3v4.8h-3zM728.1,1150.7h4v4h-4zM946.1,947.7h3v3h-3zM750.3,878.6h3v3h-3zM916.1,968.9h4v6.4h-4zM930.1,1067.6h3v3h-3zM922.3,1072.5h2.2v3.5h-2.2zM826.6,1098.3h2.2v2.2h-2.2zM635.2,1015.5h3v3h-3zM842.2,1098.6h2.2v2.2h-2.2zM792.2,828.5h4v6.4h-4zM864.9,885.1h2.2v2.2h-2.2zM792.1,861.3h3v3h-3zM833.3,1116.4h2.2v2.2h-2.2zM767.7,879.2h2.2v2.2h-2.2zM685.8,959.7h3v3h-3zM826.2,827.9h3v3h-3zM891.7,1067.3h3v3h-3zM640.8,1175.3h2.2v2.2h-2.2zM795.3,1115.5h2.2v2.2h-2.2zM881.9,1114.5h2.2v2.2h-2.2zM835.9,852.3h2.2v3.5h-2.2zM594.1,1083.3h2.2v2.2h-2.2zM640.7,1077.6h2.2v3.5h-2.2zM890.3,1117.5h2.2v2.2h-2.2zM891.7,1154.9h3v3h-3zM711.4,908.2h4v4h-4zM625.4,1055.9h2.2v3.5h-2.2zM679.2,972h3v3h-3zM733,1106.4h3v3h-3zM673.1,1013.5h4v6.4h-4zM872.9,900.7h3v4.8h-3zM654.1,1054.4h3v4.8h-3zM750.1,1116.4h3v3h-3zM836.9,1114.7h3v3h-3zM685.2,996.9h3v4.8h-3zM871.8,893.7h3v3h-3zM764.4,1108.4h3v4.8h-3zM927.9,999.6h2.2v2.2h-2.2zM689.3,908.4h2.2v3.5h-2.2zM757.5,1149.5h3v3h-3zM908,1003.6h3v3h-3zM738.6,820.8h2.2v2.2h-2.2zM911.8,1035.2h2.2v2.2h-2.2zM689.9,1109.1h3v4.8h-3zM905.6,992.8h3v4.8h-3zM679.8,955.3h3v3h-3zM706.2,978h3v3h-3zM899.5,863.5h2.2v2.2h-2.2zM853.9,854.6h3v3h-3zM774.5,1122.4h4v4h-4zM906.5,975.8h3v4.8h-3zM858.6,850.2h2.2v2.2h-2.2zM732.5,1136.7h2.2v2.2h-2.2zM860.7,787h4v4h-4zM849.2,864.4h3v3h-3zM731.8,816.5h3v3h-3zM631.9,1012.1h3v3h-3zM776.2,1109.7h3v3h-3zM684.9,958.3h4v4h-4zM889.3,950.2h4v6.4h-4zM847,1122.3h3v3h-3zM894.2,935.4h3v3h-3zM905.5,967.3h2.2v2.2h-2.2zM821.6,1101.1h3v3h-3zM914.5,977.1h3v3h-3zM709.5,1200.2h4v6.4h-4zM662.8,1098h2.2v3.5h-2.2zM772.2,877.3h2.2v2.2h-2.2zM894.9,951.7h3v4.8h-3zM750.4,869.1h4v4h-4zM923,1022.4h3v3h-3zM636.8,1050.1h4v4h-4zM657.3,1047.1h3v3h-3zM675.2,937.8h3v4.8h-3zM590,1090.5h4v6.4h-4zM827.8,849.8h3v3h-3zM911.2,1040.5h3v4.8h-3zM740.7,819.4h2.2v2.2h-2.2zM954.7,1018.2h4v4h-4zM855.5,898.6h3v3h-3zM867,1122.1h2.2v3.5h-2.2zM770,872.2h3v3h-3zM643.8,1031.4h2.2v2.2h-2.2zM759.3,872.5h2.2v3.5h-2.2zM729,1117.8h3v3h-3zM666.4,1046.8h3v3h-3zM858.1,857.7h2.2v2.2h-2.2zM901.7,956.1h4v4h-4zM609.1,1077.4h4v6.4h-4zM901.1,1015.3h4v6.4h-4zM874.5,872.3h4v6.4h-4zM757.5,870.5h3v3h-3zM691.7,1088.1h3v3h-3zM817.4,840h2.2v3.5h-2.2zM782.9,864.6h3v4.8h-3zM913.4,927.7h3v4.8h-3zM906.6,1087.8h3v3h-3zM909.9,930.2h3v3h-3zM811.7,844.2h3v3h-3zM875.9,1131.7h3v3h-3zM766.7,1131.5h3v3h-3zM792,1113.1h3v4.8h-3zM783.7,840.4h2.2v3.5h-2.2zM807,863.8h3v4.8h-3zM873.5,879.7h3v3h-3zM706.4,951.6h2.2v2.2h-2.2zM639.9,1011.6h3v3h-3zM663,996.5h3v3h-3zM929.5,1052.5h2.2v3.5h-2.2zM635.9,1095.4h3v3h-3zM845,870.2h3v4.8h-3zM741.3,868.7h3v3h-3zM850.5,840.3h3v3h-3zM802.3,858.4h3v3h-3zM805,1107.7h2.2v2.2h-2.2zM903.1,1099.6h2.2v2.2h-2.2zM893.9,912.9h3v4.8h-3zM729,904.6h3v3h-3zM907.8,892h3v4.8h-3zM906.3,952.1h3v3h-3zM910.2,1015.4h3v4.8h-3zM907.4,1023.5h2.2v3.5h-2.2zM591.7,1182.2h3v3h-3zM633.2,1079.8h2.2v2.2h-2.2zM737.4,1138h3v4.8h-3zM648.5,1112.4h2.2v2.2h-2.2zM682.5,1007h3v4.8h-3zM898.6,883.8h3v4.8h-3zM765,849.6h2.2v2.2h-2.2zM739.6,1160.9h3v3h-3zM664.8,1093.1h2.2v3.5h-2.2zM700.2,973.8h4v4h-4zM758.3,851.8h4v4h-4zM671.2,1077.3h3v4.8h-3zM796,841.5h3v3h-3zM904.9,887.1h2.2v3.5h-2.2zM779.8,878.1h3v3h-3zM736,889.2h2.2v2.2h-2.2zM741.8,835h3v3h-3zM644.4,1013.5h2.2v3.5h-2.2zM897.5,901.9h3v3h-3zM655.6,1059.1h3v3h-3zM900,1082.3h3v3h-3zM705,1111.9h4v4h-4zM690,954.9h4v6.4h-4zM958.8,989.8h3v4.8h-3zM765.6,849.8h4v6.4h-4zM928.2,1037.7h3v3h-3zM801.1,872.6h4v4h-4zM918.6,860.4h3v4.8h-3zM700.2,865.3h2.2v2.2h-2.2zM763.9,1138h4v4h-4zM678.7,991.7h3v3h-3zM900.8,1049.2h3v3h-3zM881.6,876.8h3v4.8h-3zM881.5,945.6h3v4.8h-3zM944.5,1122.9h4v4h-4zM730.2,889.6h3v3h-3zM813.4,870.7h3v4.8h-3zM716.8,830.2h3v3h-3zM858.6,872.2h3v3h-3zM931.2,1044.1h4v4h-4zM700.2,979.9h2.2v2.2h-2.2zM829.1,863h2.2v2.2h-2.2zM742.2,896.2h3v4.8h-3zM734.2,832.1h2.2v2.2h-2.2zM897.9,1140.2h3v3h-3zM896.1,1130.2h3v3h-3zM878.4,932.8h2.2v3.5h-2.2zM873.8,925.3h3v3h-3zM855,869.2h4v4h-4zM750.2,880h3v4.8h-3zM922.1,1042.1h2.2v2.2h-2.2zM713.9,813h2.2v3.5h-2.2zM655.3,1073.2h3v3h-3zM704.2,925.3h2.2v3.5h-2.2zM645,1043.2h3v3h-3zM670.7,979.4h4v4h-4zM630.6,1023.9h3v3h-3zM657.7,1125.2h2.2v3.5h-2.2zM815.7,1084.3h4v6.4h-4zM695.9,991.5h4v4h-4zM849.9,831.1h3v3h-3zM676.4,914.6h3v4.8h-3zM766.2,857h4v4h-4zM693.5,998.5h2.2v2.2h-2.2zM784,831.4h3v3h-3zM795.5,872.6h4v6.4h-4zM893.4,1061h3v3h-3zM911.2,976h3v3h-3zM747.3,844.3h3v3h-3zM768.1,1111.4h2.2v2.2h-2.2zM836.6,858.1h3v3h-3zM713.4,928.2h3v3h-3zM842.4,1116.8h3v3h-3zM701.1,921.6h3v4.8h-3zM684.3,871.1h4v4h-4zM857,836.1h2.2v2.2h-2.2zM863.9,1110.6h3v3h-3zM709.5,891.9h3v3h-3zM785.5,839.3h4v4h-4zM674.9,995.9h4v4h-4zM662.7,1012.2h4v4h-4zM877.8,880.9h2.2v3.5h-2.2zM751.9,875h2.2v2.2h-2.2zM930.5,1084.7h3v4.8h-3zM908.8,1066.7h4v4h-4zM893.1,933h2.2v2.2h-2.2zM909.8,1035.2h3v3h-3zM695.8,903.9h3v4.8h-3zM705,947h2.2v3.5h-2.2zM910.1,1037h2.2v2.2h-2.2zM713.2,1145.8h3v4.8h-3zM669.1,1034h3v3h-3zM902.8,898.6h3v3h-3zM669.5,1000.5h3v3h-3zM794.5,990L793.3,865.1L795.7,865.1zM794.5,990L795.5,865.1L797.9,865.1zM794.5,990L797.5,869.9L799.8,869.9zM794.5,990L799.4,876.1L801.6,876.2zM794.5,990L801,882.9L803,883zM794.5,990L803.4,876L805.6,876.2zM794.5,990L806,869.8L808.3,870zM794.5,990L807,879.2L809.2,879.4zM794.5,990L808.4,883.9L810.4,884.2zM794.5,990L811.4,876.3L813.6,876.7zM794.5,990L811.6,887.6L813.5,887.9zM794.5,990L815,878.6L817.2,879zM794.5,990L814.8,889.6L816.8,890zM794.5,990L820.7,871.5L822.9,872zM794.5,990L823.3,869.6L825.6,870.1zM794.5,990L826.6,865.6L829,866.2zM794.5,990L828.1,868.3L830.5,869zM794.5,990L826.8,880.5L828.9,881.2zM794.5,990L830.4,875.8L832.6,876.6zM794.5,990L830.7,881.5L832.8,882.2zM794.5,990L835.6,873.5L837.9,874.3zM794.5,990L836.3,878L838.4,878.8zM794.5,990L838.8,877.3L840.9,878.2zM794.5,990L842.7,873.4L844.9,874.3zM794.5,990L840.6,883.8L842.6,884.7zM794.5,990L846.4,875.8L848.6,876.8zM794.5,990L847.9,877.9L850,878.9zM794.5,990L848.1,882.2L850.2,883.3zM794.5,990L852.1,879.2L854.2,880.3zM794.5,990L848.5,890.2L850.5,891.3zM794.5,990L849.8,892.1L851.6,893.2zM794.5,990L843.4,906.8L845,907.7zM794.5,990L837.6,919.6L838.9,920.4zM794.5,990L858.7,889L860.7,890.2zM794.5,990L850.4,905.3L852.1,906.4zM794.5,990L854.7,902.3L856.3,903.5zM794.5,990L856.1,903.4L857.8,904.6zM794.5,990L861.9,898.7L863.7,900zM794.5,990L845.4,923.5L846.7,924.5zM794.5,990L859.9,907.7L861.4,909zM794.5,990L867.9,900.8L869.6,902.2zM794.5,990L866.3,905.8L867.9,907.2zM794.5,990L871.7,902.6L873.3,904.1zM794.5,990L857.1,921.5L858.4,922.7zM794.5,990L864.5,916.1L865.9,917.4zM794.5,990L875.5,907.4L877.1,909zM794.5,990L869.8,915.9L871.2,917.4zM794.5,990L871.5,916.8L872.9,918.3zM794.5,990L869.9,920.7L871.3,922.2zM794.5,990L868.7,924.2L870,925.6zM794.5,990L881.4,915.7L882.8,917.4zM794.5,990L876.9,921.9L878.2,923.5zM794.5,990L881.4,920.8L882.7,922.5zM794.5,990L871.4,930.9L872.6,932.3zM794.5,990L879.4,927.1L880.6,928.7zM794.5,990L872.9,934L873.9,935.5zM794.5,990L882.6,929.3L883.8,931zM794.5,990L867.9,941.3L868.8,942.7zM794.5,990L873.3,939.7L874.2,941.2zM794.5,990L870.5,943.3L871.4,944.8zM794.5,990L860.2,951.2L861,952.5zM794.5,990L875.9,943.8L876.8,945.4zM794.5,990L884.2,941.2L885.1,942.9zM794.5,990L888,941.2L888.9,943zM794.5,990L871.3,951.6L872,953.1zM794.5,990L881.1,948.6L881.9,950.3zM794.5,990L889.8,946.5L890.6,948.3zM794.5,990L878.2,953.5L878.9,955.1zM794.5,990L886.6,951.7L887.4,953.5zM794.5,990L889.3,952.6L890,954.4zM794.5,990L889.9,954.3L890.5,956.1zM794.5,990L889.7,956.2L890.3,958zM794.5,990L896.5,955.8L897.2,957.7zM794.5,990L891,959.5L891.6,961.3zM794.5,990L886.9,962.5L887.4,964.3zM794.5,990L874.7,967.7L875.1,969.2zM794.5,990L880.2,967.8L880.6,969.4zM794.5,990L888.2,967.4L888.6,969.2zM794.5,990L903,965.9L903.4,967.9zM794.5,990L888.8,970.7L889.1,972.5zM794.5,990L899.8,970.4L900.2,972.4zM794.5,990L905.7,971.3L906,973.4zM794.5,990L900.8,974L901.1,976.1zM794.5,990L903.3,975.6L903.6,977.7zM794.5,990L909.6,976.8L909.8,979zM794.5,990L913.3,978.5L913.5,980.7zM794.5,990L904.4,981.3L904.5,983.4zM794.5,990L907.8,983L907.9,985.1zM794.5,990L897.5,985.4L897.6,987.4zM794.5,990L904,987L904.1,989.1zM794.5,990L893.1,989.1L893.1,990.9zM794.5,990L902,990.8L902,992.9zM794.5,990L896.4,992.6L896.3,994.5zM794.5,990L911.2,995L911.1,997.2zM794.5,990L915.3,997.3L915.1,999.6zM794.5,990L905.2,998.6L905,1000.7zM794.5,990L911.5,1001.2L911.3,1003.4zM794.5,990L910.5,1003.1L910.3,1005.3zM794.5,990L893.3,1002.9L893.1,1004.8zM794.5,990L904,1006.3L903.7,1008.4zM794.5,990L911.2,1009.4L910.8,1011.7zM794.5,990L909.9,1011.3L909.5,1013.5zM794.5,990L895.4,1010.4L895,1012.4zM794.5,990L912.4,1016L911.9,1018.3zM794.5,990L915,1018.8L914.4,1021.1zM794.5,990L901.1,1017.5L900.5,1019.5zM794.5,990L911.4,1022.3L910.8,1024.5zM794.5,990L883.6,1016.3L883,1018zM794.5,990L911.4,1026.7L910.7,1029zM794.5,990L907.9,1027.8L907.2,1030zM794.5,990L911.8,1031.4L911,1033.7zM794.5,990L909.5,1032.9L908.7,1035.1zM794.5,990L909.9,1035.4L909,1037.6zM794.5,990L896.6,1032.2L895.8,1034.2zM794.5,990L899.3,1035.5L898.4,1037.5zM794.5,990L906.5,1040.9L905.5,1043.1zM794.5,990L897.5,1039L896.6,1041zM794.5,990L900.3,1042.6L899.3,1044.7zM794.5,990L897.9,1043.7L896.9,1045.7zM794.5,990L873.2,1032.6L872.4,1034.2zM794.5,990L895.8,1047.2L894.7,1049.1zM794.5,990L897.3,1050.4L896.1,1052.4zM794.5,990L897.1,1052.8L895.9,1054.7zM794.5,990L888.2,1049.6L887.1,1051.4zM794.5,990L888.3,1051.9L887.1,1053.7zM794.5,990L890.9,1056.2L889.6,1058zM794.5,990L891.8,1059.3L890.5,1061.1zM794.5,990L888.5,1059.5L887.2,1061.2zM794.5,990L901.1,1071.6L899.5,1073.7zM794.5,990L893.9,1069L892.4,1070.9zM794.5,990L899.3,1076.3L897.6,1078.3zM794.5,990L903.6,1083L901.8,1085.1zM794.5,990L876.3,1062.2L874.9,1063.8zM794.5,990L891.5,1078.7L889.7,1080.5zM794.5,990L903.6,1093.3L901.5,1095.4zM794.5,990L884.6,1078.4L882.9,1080.1zM794.5,990L895.2,1092.3L893.2,1094.2zM794.5,990L886.2,1086.5L884.4,1088.3zM794.5,990L891.1,1095.3L889.1,1097.1zM794.5,990L884,1091L882.1,1092.7zM794.5,990L883.9,1094.5L881.9,1096.2zM794.5,990L889.2,1104.7L887,1106.5zM794.5,990L888.9,1108.4L886.6,1110.2zM794.5,990L887,1110.4L884.7,1112.1zM794.5,990L881.9,1107.9L879.6,1109.5zM794.5,990L874.9,1102.6L872.8,1104.1zM794.5,990L879.4,1113.3L877,1114.9zM794.5,990L878.4,1116.5L875.9,1118.1zM794.5,990L878.9,1122.3L876.4,1123.9zM794.5,990L863.5,1102.4L861.3,1103.7zM794.5,990L864,1107.7L861.7,1109zM794.5,990L858.6,1103.1L856.5,1104.3zM794.5,990L856.1,1103.2L853.9,1104.4zM794.5,990L855.6,1107.2L853.4,1108.3zM794.5,990L852.7,1106.4L850.4,1107.5zM794.5,990L852,1110.4L849.7,1111.5zM794.5,990L844.6,1099.7L842.5,1100.7zM794.5,990L844.3,1104.3L842.1,1105.3zM794.5,990L833.5,1083.9L831.7,1084.7zM794.5,990L837.2,1098.2L835.2,1099zM794.5,990L831,1087.4L829.1,1088.1zM794.5,990L832,1095.7L830,1096.4zM794.5,990L819.3,1064L817.9,1064.5zM794.5,990L825.1,1086.8L823.3,1087.4zM794.5,990L823.9,1088.9L822,1089.4zM794.5,990L823.1,1092.8L821.1,1093.3zM794.5,990L819.1,1084.8L817.3,1085.3zM794.5,990L815.6,1077.5L813.9,1077.9zM794.5,990L816,1086.6L814.1,1087zM794.5,990L813.4,1082.4L811.6,1082.8zM794.5,990L812.2,1085L810.4,1085.4zM794.5,990L808.8,1075.1L807.2,1075.4zM794.5,990L807.7,1077.5L806,1077.8zM794.5,990L807.5,1088.1L805.6,1088.4zM794.5,990L805.3,1083.9L803.5,1084zM794.5,990L802.6,1073.2L801,1073.3zM794.5,990L802,1084.4L800.2,1084.6zM794.5,990L799.5,1070.5L797.9,1070.6zM794.5,990L798.6,1081.8L796.8,1081.8zM794.5,990L796.8,1074.8L795.2,1074.8zM794.5,990L795.4,1082.4L793.6,1082.4zM794.5,990L793.8,1084.7L791.9,1084.7zM794.5,990L792.1,1084.7L790.3,1084.7zM794.5,990L790.7,1079.4L789,1079.3zM794.5,990L788.9,1082.9L787.1,1082.8zM794.5,990L787.1,1085.4L785.2,1085.2zM794.5,990L785.7,1082.5L783.9,1082.3zM794.5,990L782.9,1092.5L780.9,1092.2zM794.5,990L778.8,1109.8L776.5,1109.5zM794.5,990L777.2,1106.4L775,1106.1zM794.5,990L773.6,1115.8L771.1,1115.4zM794.5,990L771.7,1113.6L769.3,1113.2zM794.5,990L771.6,1102.9L769.5,1102.5zM794.5,990L765.9,1119.7L763.4,1119.1zM794.5,990L761.8,1126.6L759.2,1126zM794.5,990L769.7,1086.3L767.8,1085.8zM794.5,990L761.4,1109.7L759.1,1109zM794.5,990L757.6,1115L755.2,1114.2zM794.5,990L751,1128.3L748.4,1127.4zM794.5,990L754.7,1109.4L752.4,1108.7zM794.5,990L744,1132.9L741.3,1131.9zM794.5,990L747.3,1116.5L744.9,1115.6zM794.5,990L755,1090.6L753.1,1089.8zM794.5,990L737.2,1128.7L734.5,1127.6zM794.5,990L736.6,1123.5L734,1122.4zM794.5,990L734.3,1122.5L731.7,1121.3zM794.5,990L746.7,1090.4L744.8,1089.4zM794.5,990L734.6,1110.5L732.2,1109.3zM794.5,990L730.9,1112.4L728.6,1111.2zM794.5,990L730.8,1107.5L728.6,1106.2zM794.5,990L724.7,1113.6L722.4,1112.2zM794.5,990L724.4,1109.3L722.1,1107.9zM794.5,990L717.7,1115.6L715.3,1114.1zM794.5,990L726.2,1097.4L724.2,1096zM794.5,990L712.7,1113.8L710.3,1112.2zM794.5,990L710.9,1111.8L708.6,1110.2zM794.5,990L731.6,1078.4L729.9,1077.2zM794.5,990L723.8,1085.7L722,1084.3zM794.5,990L719.7,1087.7L717.8,1086.2zM794.5,990L703.2,1105L701,1103.2zM794.5,990L708.9,1094.1L706.9,1092.4zM794.5,990L712.6,1086.1L710.8,1084.5zM794.5,990L701.6,1095.2L699.6,1093.4zM794.5,990L699.1,1094.3L697.1,1092.4zM794.5,990L705.1,1084.4L703.3,1082.6zM794.5,990L696.5,1089.9L694.6,1088zM794.5,990L685,1097.8L682.9,1095.7zM794.5,990L690.7,1088.7L688.8,1086.7zM794.5,990L682.4,1092.9L680.5,1090.7zM794.5,990L683.5,1088.3L681.7,1086.2zM794.5,990L682,1086.2L680.2,1084zM794.5,990L689.6,1076.6L688,1074.6zM794.5,990L676.2,1084.3L674.4,1082zM794.5,990L678,1079.5L676.3,1077.3zM794.5,990L682.4,1073.1L680.8,1071zM794.5,990L686.5,1067.2L685,1065.1zM794.5,990L703.9,1052.4L702.7,1050.7zM794.5,990L680.9,1065.3L679.5,1063.2zM794.5,990L669,1070.1L667.5,1067.7zM794.5,990L676.8,1062.3L675.5,1060zM794.5,990L665.2,1066.3L663.8,1063.8zM794.5,990L693.1,1047.5L692,1045.5zM794.5,990L668.9,1058.3L667.6,1055.9zM794.5,990L663.6,1058.3L662.3,1055.8zM794.5,990L676.8,1048.8L675.7,1046.5zM794.5,990L672.9,1048.1L671.8,1045.8zM794.5,990L671.1,1046.4L670.1,1044zM794.5,990L670.3,1044.1L669.3,1041.7zM794.5,990L677.1,1038.7L676.2,1036.5zM794.5,990L674.3,1037.5L673.4,1035.2zM794.5,990L681.1,1032.5L680.3,1030.3zM794.5,990L679.2,1030.9L678.5,1028.7zM794.5,990L676.8,1029.5L676,1027.2zM794.5,990L674.6,1027.9L673.9,1025.6zM794.5,990L675.1,1025.5L674.5,1023.2zM794.5,990L688.3,1019.6L687.7,1017.5zM794.5,990L671.1,1022L670.5,1019.7zM794.5,990L684.8,1016.4L684.3,1014.3zM794.5,990L687.1,1013.9L686.7,1011.8zM794.5,990L685.7,1012.2L685.3,1010.1zM794.5,990L687.8,1009.9L687.4,1007.8zM794.5,990L705.1,1005L704.8,1003.3zM794.5,990L692.5,1005.3L692.2,1003.4zM794.5,990L703,1002.1L702.8,1000.4zM794.5,990L698.1,1001.1L697.9,999.2zM794.5,990L690.6,1000.1L690.4,998.1zM794.5,990L700,997.5L699.9,995.7zM794.5,990L699.4,995.9L699.3,994.1zM794.5,990L700.7,994.2L700.6,992.4zM794.5,990L694.2,992.7L694.2,990.8zM794.5,990L689.9,991L689.9,989zM794.5,990L692.6,989.2L692.6,987.2zM794.5,990L697.1,987.5L697.1,985.7zM794.5,990L692.4,985.6L692.5,983.7zM794.5,990L724.5,985.8L724.6,984.4zM794.5,990L703.5,982.9L703.7,981.2zM794.5,990L696.2,980.6L696.4,978.7zM794.5,990L719.8,981.6L720,980.1zM794.5,990L708.1,978.7L708.4,977zM794.5,990L702.6,976.4L702.9,974.6zM794.5,990L710.5,976L710.8,974.4zM794.5,990L707.3,973.9L707.6,972.2zM794.5,990L712.5,973.4L712.8,971.8zM794.5,990L705.5,970.3L705.9,968.6zM794.5,990L714.1,970.8L714.5,969.2zM794.5,990L706.5,967.3L706.9,965.6zM794.5,990L717.4,968.7L717.8,967.2zM794.5,990L711.2,965.4L711.7,963.8zM794.5,990L709.1,963.1L709.6,961.5zM794.5,990L707.3,960.9L707.9,959.3zM794.5,990L703.5,957.9L704.1,956.1zM794.5,990L711.3,959L711.9,957.4zM794.5,990L714.1,958.4L714.7,956.9zM794.5,990L709.9,955.1L710.6,953.4zM794.5,990L724.7,959.7L725.3,958.4zM794.5,990L717.1,954.8L717.8,953.3zM794.5,990L709.5,949.5L710.3,947.9zM794.5,990L706,945.9L706.8,944.3zM794.5,990L719.7,951.1L720.4,949.7zM794.5,990L708.6,943.5L709.5,941.8zM794.5,990L718,946.8L718.8,945.3zM794.5,990L718.5,945.3L719.4,943.9zM794.5,990L710.7,938.8L711.7,937.2zM794.5,990L724.1,945.2L725,943.9zM794.5,990L710.9,934.8L712,933.2zM794.5,990L714.1,934.8L715.1,933.3zM794.5,990L711.9,931.2L713.1,929.6zM794.5,990L734.9,946L735.8,944.9zM794.5,990L713.4,927.9L714.6,926.3zM794.5,990L715.1,926.9L716.3,925.4zM794.5,990L710.7,921L712,919.4zM794.5,990L710,917.9L711.4,916.3zM794.5,990L708.4,914L709.9,912.3zM794.5,990L718.6,920.6L720,919.2zM794.5,990L719.5,919L720.9,917.5zM794.5,990L731.9,928.6L733.1,927.4zM794.5,990L715.1,909.3L716.6,907.8zM794.5,990L728.6,920.7L730,919.4zM794.5,990L723.1,912.3L724.6,910.9zM794.5,990L729.5,916.6L730.9,915.4zM794.5,990L721.4,904.5L723,903.1zM794.5,990L720.8,900.8L722.6,899.4zM794.5,990L733.4,913.3L734.8,912.1zM794.5,990L729.1,905L730.8,903.7zM794.5,990L727.9,900.2L729.7,898.9zM794.5,990L738.5,911.6L740,910.6zM794.5,990L737,906.5L738.6,905.4zM794.5,990L741.6,910.2L743.1,909.2zM794.5,990L737.6,900.9L739.4,899.9zM794.5,990L737.8,897.7L739.6,896.6zM794.5,990L736,890.9L737.9,889.8zM794.5,990L739.4,892.7L741.2,891.7zM794.5,990L738.9,887.9L740.9,886.8zM794.5,990L739.1,883.9L741.2,882.9zM794.5,990L747.6,896.1L749.4,895.2zM794.5,990L750.6,898.2L752.4,897.4zM794.5,990L748.1,888.4L750.1,887.5zM794.5,990L750.8,889.6L752.7,888.8zM794.5,990L753.5,891.1L755.4,890.4zM794.5,990L747.4,870.8L749.7,869.9zM794.5,990L760.3,898.8L762.1,898.1zM794.5,990L752.2,870.9L754.5,870.1zM794.5,990L756.4,876.3L758.5,875.6zM794.5,990L757.9,874.2L760.1,873.6zM794.5,990L760.3,874.9L762.5,874.3zM794.5,990L766.7,890.3L768.7,889.7zM794.5,990L764.2,873.4L766.5,872.9zM794.5,990L768.3,881.5L770.4,881zM794.5,990L768.7,874.3L771,873.8zM794.5,990L774.1,890.4L776.1,890zM794.5,990L779.3,908.2L780.8,908zM794.5,990L777.2,887.2L779.2,886.9zM794.5,990L778.8,885.7L780.8,885.4zM794.5,990L779,872.9L781.2,872.6zM794.5,990L782.5,885.3L784.5,885.1zM794.5,990L783.3,874.7L785.5,874.5zM794.5,990L784.8,867.6L787.1,867.4zM794.5,990L787.9,883.9L790,883.8zM794.5,990L790.3,895.3L792.1,895.3zM794.5,990L791.8,891.1L793.7,891.1zM834.1,940.4h3v3h-3zM816.3,1022.3h3v3h-3zM786.1,912.7h2v2h-2zM779.6,1034.7h3v3h-3zM790.3,952h3v3h-3zM843.8,915.3h2v2h-2zM758.5,1083.3h3v3h-3zM861.4,1041.7h2v2h-2zM870.6,1080.7h3v3h-3zM735.3,919.5h2v2h-2zM821.4,970.9h4v4h-4zM775.9,957.1h3v3h-3zM795.8,1058.9h4v4h-4zM762.3,894h3v3h-3zM797.4,932.1h3v3h-3zM805.5,980.2h3v3h-3zM865,957.8h3v3h-3zM702.7,1003h3v3h-3zM764.6,1018.5h3v3h-3zM823.5,977.1h3v3h-3zM729.3,1009h4v4h-4zM820.6,1073.2h3v3h-3zM835.2,1047.2h2v2h-2zM815.3,917.8h3v3h-3zM810,1060.2h3v3h-3zM738.4,1053.9h3v3h-3zM819.5,937h3v3h-3zM714,987.4h2v2h-2zM820.2,995.7h3v3h-3zM803.8,968.2h2v2h-2zM719.6,1007h2v2h-2zM801.2,895.7h2v2h-2zM856.4,1010.4h4v4h-4zM765.3,1021.2h4v4h-4zM743.5,920.9h3v3h-3zM759.5,1079h4v4h-4zM874.1,1001.2h3v3h-3zM785.8,999h2v2h-2zM890.8,1021h2v2h-2zM888.5,1022.6h2v2h-2zM851.9,993.3h2v2h-2zM857.2,940.9h4v4h-4zM788.5,989.4h3v3h-3zM708.2,1050.4h2v2h-2zM819.3,1029.4h3v3h-3zM870.7,1057.1h4v4h-4zM799.4,1006.1h2v2h-2zM820.1,1040.2h2v2h-2zM767.7,999.1h3v3h-3zM837.1,958.6h2v2h-2zM821.6,1037.3h4v4h-4zM741,958.4h3v3h-3zM692.1,1030.5h3v3h-3zM845.2,932.3h4v4h-4zM727.8,970.1h2v2h-2zM728.4,978.7h2v2h-2zM886.6,983.9h3v3h-3zM747.2,938.9h3v3h-3zM731.1,947.4h3v3h-3zM796,1020.8h3v3h-3zM725.7,972.5h2v2h-2zM788.4,1027.2h3v3h-3zM818.7,989.3h3v3h-3zM871.1,1014.8h4v4h-4zM700.4,1011.5h3v3h-3zM767.1,1089.5h3v3h-3zM843.2,1019.8h4v4h-4zM844.3,972.8h3v3h-3zM859.4,1075.6h3v3h-3zM757.3,943.8h3v3h-3zM739.7,988.9h3v3h-3zM733.3,938.5h2v2h-2zM832.3,977.5h4v4h-4zM794.1,1052.9h4v4h-4zM877.7,1063h4v4h-4zM849.8,962.7h3v3h-3zM807.3,1021.7h4v4h-4zM730.7,936h3v3h-3zM848.8,1044.3h3v3h-3zM820.8,955.4h3v3h-3zM834.7,1020h2v2h-2zM781.7,942.7h3v3h-3zM715.7,1046.3h2v2h-2zM835.7,909h3v3h-3zM703,1039.8h4v4h-4zM749.3,924.5h3v3h-3zM836.3,1076.9h3v3h-3zM837.8,910.6h3v3h-3zM866.1,981.8h2v2h-2zM847.9,1035.3h3v3h-3zM765.3,1079.6h2v2h-2zM759.4,922.4h4v4h-4zM766.4,996.8h3v3h-3zM883.1,1015h2v2h-2zM759.6,974.4h2v2h-2zM756.7,1013.6h3v3h-3zM808.1,975.5h2v2h-2zM786.4,1033.9h2v2h-2zM770.8,1053.4h2v2h-2zM842.8,1026.9h2v2h-2zM845.9,1016.1h4v4h-4zM807.5,993.4h4v4h-4zM879,1059.6h3v3h-3zM707,1024.8h3v3h-3zM827.8,992.2h2v2h-2zM841,916.2h4v4h-4zM863.7,983h3v3h-3zM837.3,995.1h2v2h-2zM868.7,1004.5h3v3h-3zM763.2,1085.2h3v3h-3zM858.1,931.5h4v4h-4zM716.7,1012.7h2v2h-2zM861.2,944.4h2v2h-2zM835.1,1057.2h3v3h-3zM838.8,1068.5h4v4h-4zM839.7,996.7h3v3h-3zM740.6,928.5h3v3h-3zM858.5,1028.8h4v4h-4zM860.2,1061.3h3v3h-3zM760.8,1031.3h3v3h-3zM861,960h4v4h-4zM752.6,987.9h2v2h-2zM717.6,987.7h3v3h-3zM777.9,1044.7h2v2h-2zM825.9,888.6h3v3h-3zM735.3,1057.2h3v3h-3zM814.6,986.1h2v2h-2zM820.5,1057.8h3v3h-3zM781.4,1015.6h2v2h-2zM756.5,1062.6h2v2h-2zM723.8,1077.8h2v2h-2zM804.3,1014.8h3v3h-3zM753.6,942.6h3v3h-3zM811.2,922h2v2h-2zM759.4,984.4h4v4h-4zM718.4,1018.8h3v3h-3zM827,1017.8h2v2h-2zM773.1,1004.2h4v4h-4zM847.7,974.9h3v3h-3zM736.5,916.6h3v3h-3zM862.8,1030.5h4v4h-4zM772.1,958.9h3v3h-3zM856.6,1062h4v4h-4zM828.4,991.1h3v3h-3zM835.8,947.7h2v2h-2zM726.8,978.2h3v3h-3zM743.5,1030.2h2v2h-2zM841.4,942.5h4v4h-4zM826,1004.8h3v3h-3zM737.7,980.7h3v3h-3zM779.9,980.1h3v3h-3zM804.1,995.6h3v3h-3zM742,971.9h3v3h-3zM749.4,992.2h3v3h-3zM880.2,995h3v3h-3zM825.7,962.5h3v3h-3zM852,966.6h2v2h-2zM790.1,968.1h3v3h-3zM824.3,997.8h3v3h-3zM707.4,1026h3v3h-3zM754.7,1055.4h3v3h-3zM775.2,1077h4v4h-4zM824.5,897.2h2v2h-2zM764.6,931h3v3h-3zM798.8,1053h3v3h-3zM858.9,920.7h3v3h-3zM745.2,1024.1h3v3h-3zM783.7,909.5h4v4h-4zM859.1,997.9h4v4h-4zM835.4,956.7h3v3h-3zM836.6,964.7h4v4h-4zM740.6,1078h2v2h-2zM852.5,923h3v3h-3zM876.2,965.5h3v3h-3zM833.4,925.2h2v2h-2zM846.5,1051.5h3v3h-3zM851.6,959.3h3v3h-3zM837,951.5h4v4h-4zM782.7,982.9h3v3h-3zM699.8,1031.6h3v3h-3zM737.3,999.7h3v3h-3zM835.2,986.3h3v3h-3zM826.8,987.8h4v4h-4zM711.7,1048.7h2v2h-2zM857.1,1017.3h2v2h-2zM783.2,1046.7h4v4h-4zM792.9,1009.4h3v3h-3zM777.3,915.4h3v3h-3zM764.9,1060.4h2v2h-2zM715.2,1045.7h3v3h-3zM806.7,1020.8h3v3h-3zM779.6,1054.8h3v3h-3zM775.3,944.4h3v3h-3zM797.9,1026.2h3v3h-3zM728.6,1081.8h3v3h-3zM783,897h4v4h-4zM822.7,976.5h3v3h-3zM875.6,984.1h2v2h-2zM743.9,1005.3h4v4h-4zM863.6,1011.2h3v3h-3zM775.3,1044.5h4v4h-4zM773.6,948.3h2v2h-2zM783.4,1067.7h3v3h-3zM762.7,937h4v4h-4zM805.2,900.5h3v3h-3zM855.4,1003.9h3v3h-3zM732.8,946h4v4h-4zM803.8,1030.7h4v4h-4zM788.5,914.1h2v2h-2zM858.2,921.1h2v2h-2zM735.2,986h4v4h-4zM775.1,993.6h3v3h-3zM744.5,941.1h4v4h-4zM808.5,1008.8h3v3h-3zM709.4,1070.8h2v2h-2zM846.3,973h2v2h-2zM802.4,941.9h3v3h-3zM824.9,968.1h2v2h-2zM805.7,979.8h3v3h-3zM850.4,1072.9h3v3h-3zM820.6,911.5h3v3h-3zM808.5,1059h3v3h-3zM696.1,1017.7h3v3h-3zM747.8,931.9h2v2h-2zM784.3,896.8h3v3h-3zM773.5,987.5h4v4h-4zM799.8,1063.1h3v3h-3zM734.2,951.5h3v3h-3zM764.2,960.3h3v3h-3zM789.8,1018.6h3v3h-3zM702.3,1048.3h4v4h-4zM834.4,1014.4h2v2h-2zM785.6,930.5h3v3h-3zM732.6,957.2h3v3h-3zM814.9,907.2h3v3h-3zM827.7,983.2h4v4h-4zM847,918.9h2v2h-2zM834.9,902.1h2v2h-2z"/>
<path fill="#3d5a8c" d="M835.1,894.8h3v3h-3zM792,896.4h3v3h-3zM693.6,1053.7h3v3h-3zM844.7,1037.4h3v3h-3zM736.4,1001.3h4v4h-4zM752.9,977.1h3v3h-3zM863.2,1019.9h4v4h-4zM754.7,1101.2h2v2h-2zM791.8,986.5h3v3h-3zM725.2,997.5h2v2h-2zM728.6,947.2h3v3h-3zM754.4,991.1h2v2h-2zM831.2,947.1h4v4h-4zM818.4,984h2v2h-2zM697.9,1058.5h3v3h-3zM708.7,997.8h2v2h-2zM832.2,1063.4h4v4h-4zM800.6,1039.2h3v3h-3zM803.4,1014.7h2v2h-2zM865.8,974.1h2v2h-2zM725.9,968.2h4v4h-4zM802.9,1064.7h4v4h-4zM847.7,929.8h4v4h-4zM813.8,1044.9h3v3h-3zM882.5,1031h2v2h-2zM827.8,967.3h3v3h-3zM763,927.9h3v3h-3zM798.1,996.5h2v2h-2zM691.6,1050.4h3v3h-3zM751.9,938.6h4v4h-4zM841.2,952.3h3v3h-3zM830.9,1066.4h3v3h-3zM843.9,1005.3h4v4h-4zM765.6,1039.3h3v3h-3zM881.4,1033.4h4v4h-4zM822.6,1010h3v3h-3zM874,968.2h3v3h-3zM843.6,941.6h4v4h-4zM819.7,928.9h3v3h-3zM760.9,896.7h4v4h-4zM863.6,1009.4h2v2h-2zM798.9,1018.4h3v3h-3zM775.3,1011h3v3h-3zM873.9,1050.3h3v3h-3zM753.8,961.4h3v3h-3zM710.4,1053.5h3v3h-3zM783.8,1044.6h3v3h-3zM865.2,991.3h3v3h-3zM801.6,1060.1h4v4h-4zM860.6,1089.4h4v4h-4zM753.2,1080.7h4v4h-4zM798.7,926.4h2v2h-2zM851.7,1083.3h4v4h-4zM779.5,973.8h4v4h-4zM851.4,1078.2h3v3h-3zM740.5,982.2h2v2h-2zM744.1,925.1h2v2h-2zM757.2,923.8h3v3h-3zM755.8,968.1h3v3h-3zM718.5,1066.7h3v3h-3zM767,958h4v4h-4zM809.3,935.4h3v3h-3zM736,939.8h4v4h-4zM783.3,1051.2h2v2h-2zM707.7,1070.4h3v3h-3zM782,1067.4h3v3h-3zM792.8,1008.5h2v2h-2zM864.4,975h3v3h-3zM720.3,1012.8h4v4h-4zM827.8,1056h3v3h-3zM789.5,1003.2h3v3h-3zM751.5,1026.7h3v3h-3zM747,1097.3h3v3h-3zM778.7,987.6h4v4h-4zM703.8,1031.9h3v3h-3zM731.2,1017.3h2v2h-2zM729.4,962.6h4v4h-4zM722.7,978.2h4v4h-4zM801.6,945h3v3h-3zM762.7,908.6h3v3h-3zM790.1,939.5h2v2h-2zM726.5,941.4h3v3h-3zM721.3,1044.6h2v2h-2zM832.6,1037.1h4v4h-4zM857.5,1006.4h2v2h-2zM735.6,962.1h3v3h-3zM734.9,967.3h3v3h-3zM789.8,921.7h3v3h-3zM872.3,1032.4h2v2h-2zM782,903.3h2v2h-2zM816.5,968.8h4v4h-4zM857.4,998h4v4h-4zM800.1,981.9h3v3h-3zM814.1,1010.8h2v2h-2zM826,928.9h3v3h-3zM711.7,1035.7h4v4h-4zM759.2,945.9h3v3h-3zM803,963.1h2v2h-2zM835.6,1008.5h2v2h-2zM707,1046.1h3v3h-3zM867.3,1058.6h4v4h-4zM789.2,942h4v4h-4zM810.5,910.2h3v3h-3zM770.8,1062.4h3v3h-3zM733,962.5h3v3h-3zM742.7,1020.6h3v3h-3zM819,915h3v3h-3zM862.3,992.8h2v2h-2zM868.3,959.5h2v2h-2zM739.7,968.7h3v3h-3zM831.2,982.1h2v2h-2zM714.4,1017.9h2v2h-2zM842.5,1054.9h2v2h-2zM740.5,962.3h3v3h-3zM764.7,977.9h2v2h-2zM867.5,999.4h2v2h-2zM848.7,952h2v2h-2zM750,919.7h4v4h-4zM698.8,1060.7h2v2h-2zM748.8,910.2h2v2h-2zM865.3,1071.1h3v3h-3zM754.3,1091.2h3v3h-3zM744.8,974.7h3v3h-3zM852.4,924.5h3v3h-3zM847.9,923.9h4v4h-4zM836.1,1076.1h3v3h-3zM705.5,1025.1h3v3h-3zM732.9,939.8h3v3h-3zM719.6,1050.1h2v2h-2zM737.9,976.4h4v4h-4zM842.6,1030.2h3v3h-3zM713,984.9h3v3h-3zM810.3,1068.5h4v4h-4zM871.7,1068.1h4v4h-4zM726.2,1040.3h2v2h-2zM799.9,982.5h3v3h-3zM751.4,938.9h3v3h-3zM752.8,1084h3v3h-3zM766.7,984.5h3v3h-3zM710.2,1034.6h4v4h-4zM804.2,1013h3v3h-3zM759.4,967.7h3v3h-3zM785,898.7h3v3h-3zM823.4,978h2v2h-2zM763.9,960.4h3v3h-3zM830.3,963.6h3v3h-3zM728.7,945.1h4v4h-4zM792.4,911.8h3v3h-3zM750.7,955.4h3v3h-3zM779.7,897h2v2h-2zM711,995.8h3v3h-3zM809.9,942.1h3v3h-3zM815,951.7h3v3h-3zM743.9,958.3h4v4h-4zM874.3,1042.5h2v2h-2zM757.1,1014.4h2v2h-2zM826.3,902.7h3v3h-3zM798.1,1014.8h2v2h-2zM798,887.9h3v3h-3zM827.7,1070.2h3v3h-3zM804.6,920.2h3v3h-3zM855,937.1h2v2h-2zM738.7,978.2h3v3h-3zM777.9,1004.9h4v4h-4zM840.8,944.6h4v4h-4zM721.9,1031.8h2v2h-2zM879.7,974.1h3v3h-3zM836.8,927.8h2v2h-2zM717.7,1031.1h3v3h-3zM845.2,978.1h2v2h-2zM793.2,1015.4h2v2h-2zM738.2,923.1h4v4h-4zM726.8,1073.4h3v3h-3zM809.9,1046.5h2v2h-2zM852.7,1035h3v3h-3zM816.7,977.9h3v3h-3zM764.8,938.2h3v3h-3zM828.6,1064.5h3v3h-3zM818.3,972.9h2v2h-2zM880.6,1003.2h3v3h-3zM703.1,1043.1h3v3h-3zM771.3,1052.7h2v2h-2zM839.1,1058.5h3v3h-3zM748.6,1088.1h3v3h-3zM871.1,1046.8h4v4h-4zM770.3,900.1h4v4h-4zM706.8,1064.4h3v3h-3zM759.2,1084h3v3h-3zM873.6,1005.2h2v2h-2zM863.6,959.5h4v4h-4zM860.7,948.6h2v2h-2zM879.4,1025.4h3v3h-3zM847.3,1054.3h2v2h-2zM837.4,922h3v3h-3zM740,941.1h3v3h-3zM741.9,944h3v3h-3zM796.1,1063.5h3v3h-3zM813.7,1038.3h3v3h-3zM816.9,914.4h3v3h-3zM759.8,952.2h4v4h-4zM829.9,999h4v4h-4zM860.3,996.2h4v4h-4zM707.5,1055.9h2v2h-2zM880.9,996.4h2v2h-2zM823.3,970.8h2v2h-2zM840.1,910.5h2v2h-2zM876.7,1038.5h2v2h-2zM780.7,960.3h3v3h-3zM766.1,960.5h2v2h-2zM846,934.1h3v3h-3zM835.1,956.4h3v3h-3zM793.2,1042.4h3v3h-3zM723.2,964.4h3v3h-3zM855.8,975.3h4v4h-4z"/>
<rect x="891.2" y="1025.4" width="2" height="2" fill="#1a1a1a"/>
<rect x="762.8" y="984.2" width="1.5" height="1.5" fill="#1a1a1a"/>
<rect x="831.2" y="935.0" width="1.5" height="1.5" fill="#1a1a1a"/>
<rect x="746.7" y="975.4" width="1.5" height="1.5" fill="#1a1a1a"/>
<rect x="774.4" y="1097.7" width="2.5" height="2.5" fill="#1a1a1a"/>
<rect x="855.6" y="1060.0" width="2" height="2" fill="#1a1a1a"/>
<rect x="789.5" y="919.0" width="2" height="2" fill="#1a1a1a"/>
<rect x="775.1" y="967.6" width="2" height="2" fill="#1a1a1a"/>
<rect x="824.7" y="1006.8" width="2.5" height="2.5" fill="#1a1a1a"/>
<rect x="860.3" y="983.9" width="2.5" height="2.5" fill="#1a1a1a"/>
<rect x="742.4" y="971.9" width="2.5" height="2.5" fill="#1a1a1a"/>
<rect x="804.7" y="938.2" width="2.5" height="2.5" fill="#1a1a1a"/>
<rect x="854.6" y="985.6" width="2.5" height="2.5" fill="#1a1a1a"/>
<rect x="720.4" y="999.9" width="2.5" height="2.5" fill="#1a1a1a"/>
<rect x="815.1" y="1062.3" width="2" height="2" fill="#1a1a1a"/>
<rect x="804.0" y="920.5" width="2" height="2" fill="#1a1a1a"/>
<rect x="855.5" y="1021.4" width="1.5" height="1.5" fill="#1a1a1a"/>
<rect x="769.2" y="1022.3" width="2" height="2" fill="#1a1a1a"/>
<rect x="750.2" y="917.5" width="1.5" height="1.5" fill="#1a1a1a"/>
<rect x="712.0" y="1069.2" width="1.5" height="1.5" fill="#1a1a1a"/>
<rect x="879.2" y="927.8" width="2" height="2" fill="#1a1a1a"/>
<rect x="716.7" y="980.8" width="2" height="2" fill="#1a1a1a"/>
<rect x="874.7" y="1033.0" width="1.5" height="1.5" fill="#1a1a1a"/>
<rect x="841.3" y="997.6" width="2.5" height="2.5" fill="#1a1a1a"/>
<rect x="815.1" y="909.3" width="2" height="2" fill="#1a1a1a"/>
<rect x="860.9" y="1004.4" width="2" height="2" fill="#1a1a1a"/>
<rect x="880.2" y="1044.9" width="2" height="2" fill="#1a1a1a"/>
<rect x="749.0" y="1087.1" width="1.5" height="1.5" fill="#1a1a1a"/>
<rect x="819.3" y="1038.8" width="2" height="2" fill="#1a1a1a"/>
<rect x="704.8" y="986.8" width="1.5" height="1.5" fill="#1a1a1a"/>
<rect x="743.2" y="972.7" width="2.5" height="2.5" fill="#1a1a1a"/>
<rect x="760.3" y="993.5" width="2" height="2" fill="#1a1a1a"/>
<rect x="865.9" y="1034.4" width="2.5" height="2.5" fill="#1a1a1a"/>
<rect x="831.7" y="920.9" width="2" height="2" fill="#1a1a1a"/>
<rect x="724.1" y="978.7" width="1.5" height="1.5" fill="#1a1a1a"/>
<rect x="805.8" y="1025.7" width="2.5" height="2.5" fill="#1a1a1a"/>
<rect x="754.8" y="956.8" width="1.5" height="1.5" fill="#1a1a1a"/>
<rect x="841.7" y="988.0" width="1.5" height="1.5" fill="#1a1a1a"/>
<rect x="842.0" y="955.6" width="1.5" height="1.5" fill="#1a1a1a"/>
<rect x="743.1" y="942.5" width="2.5" height="2.5" fill="#1a1a1a"/>
<rect x="853.0" y="997.2" width="2" height="2" fill="#1a1a1a"/>
<rect x="861.3" y="912.0" width="2" height="2" fill="#1a1a1a"/>
<rect x="732.8" y="980.0" width="2" height="2" fill="#1a1a1a"/>
<rect x="790.9" y="1032.1" width="1.5" height="1.5" fill="#1a1a1a"/>
<rect x="743.6" y="982.8" width="1.5" height="1.5" fill="#1a1a1a"/>
<rect x="858.1" y="970.0" width="1.5" height="1.5" fill="#1a1a1a"/>
<rect x="800.0" y="871.7" width="2.5" height="2.5" fill="#1a1a1a"/>
<rect x="746.9" y="985.2" width="2.5" height="2.5" fill="#1a1a1a"/>
<rect x="746.6" y="1012.0" width="2.5" height="2.5" fill="#1a1a1a"/>
<rect x="790.9" y="943.8" width="2.5" height="2.5" fill="#1a1a1a"/>
<rect x="812.7" y="1053.9" width="1.5" height="1.5" fill="#1a1a1a"/>
<rect x="762.9" y="1035.8" width="2.5" height="2.5" fill="#1a1a1a"/>
<rect x="726.8" y="1047.0" width="2.5" height="2.5" fill="#1a1a1a"/>
<rect x="743.1" y="1002.3" width="1.5" height="1.5" fill="#1a1a1a"/>
<rect x="768.3" y="903.8" width="2" height="2" fill="#1a1a1a"/>
<rect x="742.6" y="938.1" width="2.5" height="2.5" fill="#1a1a1a"/>
<rect x="826.7" y="1039.5" width="1.5" height="1.5" fill="#1a1a1a"/>
<rect x="807.3" y="899.4" width="2.5" height="2.5" fill="#1a1a1a"/>
<rect x="902.6" y="991.9" width="2.5" height="2.5" fill="#1a1a1a"/>
<rect x="839.9" y="933.6" width="1.5" height="1.5" fill="#1a1a1a"/>
<rect x="769.2" y="1085.7" width="1.5" height="1.5" fill="#1a1a1a"/>
<rect x="727.4" y="982.4" width="1.5" height="1.5" fill="#1a1a1a"/>
<rect x="865.9" y="1027.2" width="2" height="2" fill="#1a1a1a"/>
<rect x="781.1" y="883.4" width="2.5" height="2.5" fill="#1a1a1a"/>
<rect x="824.7" y="1083.1" width="1.5" height="1.5" fill="#1a1a1a"/>
<rect x="781.2" y="953.7" width="2" height="2" fill="#1a1a1a"/>
<rect x="849.2" y="1092.7" width="1.5" height="1.5" fill="#1a1a1a"/>
<rect x="825.3" y="982.4" width="1.5" height="1.5" fill="#1a1a1a"/>
<rect x="869.8" y="994.1" width="1.5" height="1.5" fill="#1a1a1a"/>
<rect x="761.0" y="967.7" width="2.5" height="2.5" fill="#1a1a1a"/>
<rect x="724.0" y="983.5" width="2" height="2" fill="#1a1a1a"/>
<rect x="796.6" y="1027.3" width="2" height="2" fill="#1a1a1a"/>
<rect x="709.8" y="999.2" width="1.5" height="1.5" fill="#1a1a1a"/>
<rect x="906.5" y="994.9" width="1.5" height="1.5" fill="#1a1a1a"/>
<rect x="714.5" y="941.4" width="2.5" height="2.5" fill="#1a1a1a"/>
<rect x="825.8" y="958.4" width="2" height="2" fill="#1a1a1a"/>
<rect x="831.5" y="1044.6" width="2.5" height="2.5" fill="#1a1a1a"/>
<rect x="759.4" y="1045.5" width="2.5" height="2.5" fill="#1a1a1a"/>
<rect x="856.9" y="938.2" width="1.5" height="1.5" fill="#1a1a1a"/>
<rect x="831.0" y="925.6" width="2" height="2" fill="#1a1a1a"/>
<rect x="761.0" y="903.9" width="1.5" height="1.5" fill="#1a1a1a"/>
<rect x="819.0" y="914.3" width="2.5" height="2.5" fill="#1a1a1a"/>
<rect x="830.0" y="1077.9" width="1.5" height="1.5" fill="#1a1a1a"/>
<rect x="898.7" y="1004.1" width="2.5" height="2.5" fill="#1a1a1a"/>
<rect x="835.0" y="933.8" width="2" height="2" fill="#1a1a1a"/>
<rect x="888.6" y="1055.9" width="1.5" height="1.5" fill="#1a1a1a"/>
<rect x="756.9" y="1024.0" width="2.5" height="2.5" fill="#1a1a1a"/>
<rect x="769.1" y="918.7" width="2.5" height="2.5" fill="#1a1a1a"/>
<rect x="809.8" y="948.8" width="2.5" height="2.5" fill="#1a1a1a"/>
<rect x="806.1" y="1032.1" width="1.5" height="1.5" fill="#1a1a1a"/>
<rect x="829.1" y="1067.6" width="2" height="2" fill="#1a1a1a"/>
<rect x="822.4" y="963.7" width="1.5" height="1.5" fill="#1a1a1a"/>
<rect x="798.4" y="1065.5" width="2" height="2" fill="#1a1a1a"/>
<rect x="789.5" y="940.1" width="2.5" height="2.5" fill="#1a1a1a"/>
<rect x="777.0" y="919.1" width="2" height="2" fill="#1a1a1a"/>
<rect x="799.2" y="882.6" width="2.5" height="2.5" fill="#1a1a1a"/>
<rect x="835.4" y="1020.4" width="2" height="2" fill="#1a1a1a"/>
<rect x="810.3" y="947.0" width="2.5" height="2.5" fill="#1a1a1a"/>
<rect x="848.2" y="882.0" width="2" height="2" fill="#1a1a1a"/>
<rect x="799.1" y="918.8" width="2.5" height="2.5" fill="#1a1a1a"/>
<rect x="908.1" y="1033.6" width="2.5" height="2.5" fill="#1a1a1a"/>
<rect x="787.5" y="955.1" width="2" height="2" fill="#1a1a1a"/>
<rect x="810.4" y="1023.0" width="1.5" height="1.5" fill="#1a1a1a"/>
<rect x="706.3" y="997.1" width="1.5" height="1.5" fill="#1a1a1a"/>
<rect x="893.4" y="1011.8" width="1.5" height="1.5" fill="#1a1a1a"/>
<rect x="767.8" y="976.5" width="2.5" height="2.5" fill="#1a1a1a"/>
<rect x="711.8" y="957.4" width="2.5" height="2.5" fill="#1a1a1a"/>
<rect x="808.4" y="1078.1" width="1.5" height="1.5" fill="#1a1a1a"/>
<rect x="729.5" y="958.1" width="2" height="2" fill="#1a1a1a"/>
<rect x="870.5" y="1068.5" width="2" height="2" fill="#1a1a1a"/>
<rect x="694.3" y="994.9" width="2.5" height="2.5" fill="#1a1a1a"/>
<rect x="795.2" y="1037.8" width="2" height="2" fill="#1a1a1a"/>
<rect x="771.9" y="1102.1" width="2" height="2" fill="#1a1a1a"/>
<rect x="816.1" y="1031.4" width="2.5" height="2.5" fill="#1a1a1a"/>
<rect x="740.7" y="1059.8" width="2.5" height="2.5" fill="#1a1a1a"/>
<rect x="886.7" y="1003.0" width="2.5" height="2.5" fill="#1a1a1a"/>
<rect x="824.5" y="1060.6" width="2.5" height="2.5" fill="#1a1a1a"/>
<rect x="828.7" y="961.6" width="1.5" height="1.5" fill="#1a1a1a"/>
<rect x="770.2" y="952.6" width="2" height="2" fill="#1a1a1a"/>
<rect x="824.9" y="1009.7" width="2.5" height="2.5" fill="#1a1a1a"/>
<path d="M626.6,1001.7 A168.3,168.3 0 0 0 661.9,1093.6" fill="none" stroke="#308abe" stroke-width="2.6" stroke-dasharray="14 3 9 2"/>
<path d="M661.9,1093.6 A168.3,168.3 0 0 0 677.6,1111.1" fill="none" stroke="#56f038" stroke-width="3"/>
<path d="M677.6,1111.1 A168.3,168.3 0 0 0 690.9,1122.6" fill="none" stroke="#3ebe2c" stroke-width="3"/>
<path d="M690.9,1122.6 A168.3,168.3 0 0 0 702.8,1131.1" fill="none" stroke="#56f038" stroke-width="3"/>
<path d="M702.8,1131.1 A168.3,168.3 0 0 0 710.4,1135.8" fill="none" stroke="#f0f040" stroke-width="3.4"/>
<path d="M710.4,1135.8 A168.3,168.3 0 0 0 748.1,1151.8" fill="none" stroke="#2a98c8" stroke-width="2.6" stroke-dasharray="10 3"/>
<path d="M655.5,987.6 A139,139 0 0 0 662.3,1033.0" fill="none" stroke="#3679ae" stroke-width="2.2" stroke-dasharray="12 4"/>
<path d="M679.3,1067.7 A139,139 0 0 0 749.2,1121.4" fill="none" stroke="#3679ae" stroke-width="2.2" stroke-dasharray="16 5 8 3"/>
<path d="M691.5,1004.5 A104,104 0 0 0 734.8,1075.2" fill="none" stroke="#3679ae" stroke-width="1.6" stroke-dasharray="10 6"/>
<path d="M923.4,1098.2 A168.3,168.3 0 0 0 937.2,1079.2" fill="none" stroke="#2a98c8" stroke-width="2.6" stroke-dasharray="6 3"/>
<circle cx="794.5" cy="990.0" r="2.6" fill="#1a1a1a"/>
<g fill="#308abe"><circle cx="312.8" cy="642.4" r="6"/><circle cx="307.1" cy="663.4" r="6"/><circle cx="475.7" cy="661.4" r="4.7"/><circle cx="481.8" cy="655.7" r="4.7"/><circle cx="770.2" cy="313.5" r="6.7"/><circle cx="775.2" cy="405.3" r="6"/><circle cx="783.6" cy="405.3" r="6"/><circle cx="784.2" cy="439.4" r="5.7"/><circle cx="1111.7" cy="538.9" r="5.7"/></g>
<g fill="#3679ae"><circle cx="776.9" cy="497.1" r="4.3"/><circle cx="785.9" cy="497.1" r="4.3"/><circle cx="662.7" cy="562.2" r="4"/><circle cx="670" cy="559.9" r="4.3"/><circle cx="677.4" cy="583.9" r="3.3"/><circle cx="670" cy="609" r="4"/><circle cx="780.2" cy="589.6" r="4"/><circle cx="794.2" cy="589.6" r="3.7"/><circle cx="910.4" cy="588.9" r="4.3"/></g>
<polyline points="272.1,718.4 278.8,706.7" stroke="#308abe" stroke-width="8.3"/>
<polyline points="422.3,721.7 429,713.4" stroke="#308abe" stroke-width="8.3"/>
<polyline points="356.6,758.5 362.2,750.1" stroke="#308abe" stroke-width="7.3"/>
<polyline points="388.3,775.1 393.3,767.5" stroke="#3679ae" stroke-width="7.3"/>
<polyline points="559.2,868.6 570.9,850.3" stroke="#2a98c8" stroke-width="4"/>
<polyline points="338.9,923.7 339.5,935.4" stroke="#308abe" stroke-width="7.3"/>
<polyline points="368.9,1101.3 377.3,1127.4" stroke="#2a98c8" stroke-width="8.7"/>
<polyline points="377.3,1127.4 380.6,1137.4" stroke="#26a4d0" stroke-width="8.7"/>
<polyline points="381.6,1139.1 383.9,1147.4" stroke="#3679ae" stroke-width="8.7"/>
<polyline points="627.6,1000.5 632.7,1027.2 637.7,1047.2" stroke="#3679ae" stroke-width="2"/>
<g fill="#308abe"><circle cx="313.8" cy="713.4" r="6.7"/><circle cx="409" cy="741.8" r="4.7"/><circle cx="212" cy="1070.6" r="5.7"/><circle cx="1253.6" cy="965.4" r="5.3"/><circle cx="1254.3" cy="989.5" r="4.7"/></g>
<g fill="#26a4d0"><circle cx="302.1" cy="730.1" r="5.7"/></g>
<g fill="#3679ae"><circle cx="465.7" cy="750.8" r="3.3"/><circle cx="437.4" cy="792.8" r="3.3"/><circle cx="537.5" cy="816.9" r="2.7"/><circle cx="522.5" cy="841.9" r="3.3"/><circle cx="572.6" cy="846.9" r="2.7"/><circle cx="613.6" cy="869.3" r="1.7"/><circle cx="603.6" cy="887" r="2.3"/><circle cx="582.6" cy="941.4" r="1.7"/><circle cx="395.6" cy="1045.6" r="3.7"/><circle cx="487.4" cy="1032.9" r="2.7"/><circle cx="535.2" cy="1026.2" r="1.7"/><circle cx="580.2" cy="1019.9" r="1.7"/><circle cx="303.1" cy="1058.3" r="4.3"/><circle cx="600.9" cy="1101.3" r="1.7"/><circle cx="547.5" cy="1053.9" r="2.3"/><circle cx="551.4" cy="1062.1" r="2.3"/><circle cx="555.2" cy="1070.3" r="2.3"/><circle cx="562.9" cy="1086.6" r="2.3"/><circle cx="566.8" cy="1094.8" r="2.3"/><circle cx="570.6" cy="1102.9" r="2.3"/><circle cx="578.3" cy="1119.3" r="2.3"/><circle cx="582.2" cy="1127.4" r="2.3"/><circle cx="589.9" cy="1143.8" r="2.3"/><circle cx="593.7" cy="1151.9" r="2.3"/><circle cx="597.6" cy="1160.1" r="2.3"/><circle cx="857" cy="736.8" r="2.3"/><circle cx="895.4" cy="750.8" r="2"/><circle cx="943.1" cy="776.8" r="2.3"/><circle cx="985.5" cy="792.8" r="2.3"/><circle cx="1033.9" cy="852.6" r="2.7"/><circle cx="1064" cy="927.7" r="2.7"/><circle cx="1068.3" cy="955.4" r="2.3"/><circle cx="1055.6" cy="905.4" r="2.3"/><circle cx="1152.5" cy="1044.9" r="3"/><circle cx="923.8" cy="845.3" r="1.3"/><circle cx="808.6" cy="776.8" r="2"/><circle cx="840.3" cy="786.8" r="2.3"/><circle cx="736.8" cy="815.2" r="2.7"/><circle cx="770.2" cy="816.2" r="2.7"/><circle cx="847" cy="815.2" r="2"/></g>
<polyline points="1007.2,816.9 1015.6,825.2" stroke="#3679ae" stroke-width="4.7"/>
<polyline points="1023.9,836.9 1028.9,845.3" stroke="#3679ae" stroke-width="4.7"/>
<polyline points="756.8,743.4 776.9,740.1" stroke="#3679ae" stroke-width="3.3"/>
<polyline points="806.9,743.4 818.6,746.8" stroke="#3679ae" stroke-width="13.4"/>
<polyline points="815.3,745.1 815.3,745.1" stroke="#56f038" stroke-width="2.7"/>
<polyline points="786.9,680 793.6,680" stroke="#3679ae" stroke-width="5.3"/>
<g fill="#308abe"><circle cx="1427" cy="1334" r="6.6"/><circle cx="1433" cy="1323" r="6.6"/><circle cx="1310" cy="1311" r="6.6"/><circle cx="1299" cy="1333" r="6.6"/><circle cx="1287" cy="1333" r="6.6"/></g>
<polyline points="1281.7,884.4 1313.2,876.1 1344.8,866.1" stroke="#308abe" stroke-width="19.9"/>
<polyline points="1286.6,881 1316.6,874.4" stroke="#2a98c8" stroke-width="13.3"/>
<polyline points="1323.2,873.4 1333.2,871.1" stroke="#4ee034" stroke-width="14.6"/>
<polyline points="1299.9,883.4 1309.9,881" stroke="#56f038" stroke-width="6.6"/>
<polyline points="1324.9,871.1 1324.9,871.1" stroke="#3ebe2c" stroke-width="6.6"/>
<polyline points="1346.5,960.8 1346.5,1012.3" stroke="#308abe" stroke-width="9.3"/>
<polyline points="1343.1,1032.2 1338.2,1105.3" stroke="#308abe" stroke-width="8"/>
<polyline points="1329.8,1121.9 1329.9,1121.9" stroke="#308abe" stroke-width="10"/>
<polyline points="1319.9,1140.2 1319.9,1140.2" stroke="#308abe" stroke-width="16.6"/>
<polyline points="1319.2,1140.2 1319.2,1140.2" stroke="#3ebe2c" stroke-width="10"/>
<path fill="#3679ae" d="M677,1204.2h6v6h-6zM726,1185.2h6v6h-6zM732.4,1135.8h4v4h-4zM706.5,1128.7h7v7h-7zM710.6,1170.8h7v7h-7zM762.8,1195.5h6v6h-6zM691.3,1132.8h5v5h-5zM713.2,1203.8h5v5h-5zM806,1132.5h4v4h-4zM707,1233.6h5v5h-5zM802.4,1160h5v5h-5zM750.7,1167.3h7v7h-7zM715,1127.4h4v4h-4zM749.4,1197.4h7v7h-7zM760.4,1126.5h6v6h-6zM781.6,1219.1h4v4h-4zM754.3,1154.5h5v5h-5zM754.1,1111.2h7v7h-7zM722.3,1142.6h7v7h-7zM726,1141.1h7v7h-7zM731.1,1177.4h5v5h-5zM737.3,1194.1h7v7h-7zM677.3,1168.8h6v6h-6zM766.5,1208.3h5v5h-5zM682.4,1161.1h4v4h-4zM791.4,1151.1h7v7h-7zM674.4,1177.1h7v7h-7zM765,1202.8h5v5h-5zM773.7,1182.4h4v4h-4zM790.6,1139.5h4v4h-4zM770.1,1177.6h5v5h-5zM765.5,1140h4v4h-4zM687.5,1180h6v6h-6zM654.5,1222.1h7v7h-7zM774.7,1210.4h5v5h-5zM671.5,1155.1h6v6h-6zM745.6,1171.8h4v4h-4zM776.7,1160.7h6v6h-6zM683.8,1227h4v4h-4zM792.3,1148.2h6v6h-6zM750.1,1170.2h6v6h-6zM708.6,1131.3h4v4h-4zM743.6,1133h4v4h-4zM684.6,1189.6h4v4h-4zM700.4,1152.9h6v6h-6zM748.5,1135.1h4v4h-4zM781.5,1208.8h5v5h-5zM706.9,1200.6h6v6h-6zM805.8,1150.4h4v4h-4zM702,1162.9h6v6h-6zM733.1,1151h6v6h-6zM697.1,1191.5h5v5h-5zM731.1,1154.8h5v5h-5zM705.2,1161.9h5v5h-5zM678.5,1188.9h7v7h-7zM720.3,1164.1h4v4h-4zM708.3,1205.9h6v6h-6zM755.3,1152.1h6v6h-6zM653.8,1220.3h5v5h-5zM746.9,1186h5v5h-5zM678,1209.5h7v7h-7zM704,1208.8h7v7h-7zM776.3,1210.1h5v5h-5zM772.3,1170.5h4v4h-4zM663.8,1164.7h7v7h-7zM729.4,1215.5h6v6h-6zM808.9,1134.1h7v7h-7zM797.1,1198.8h4v4h-4zM736.3,1186h5v5h-5zM793.6,1164.2h5v5h-5zM681.2,1206.7h7v7h-7zM682.5,1201.6h6v6h-6zM812.3,1161h6v6h-6zM673.3,1237.7h7v7h-7zM676.4,1219.2h7v7h-7zM669.3,1156.5h4v4h-4zM784.6,1155h7v7h-7zM734.8,1154h4v4h-4zM716.2,1199h7v7h-7zM783.7,1167.4h7v7h-7zM702.2,1225.1h6v6h-6zM766.3,1113.6h4v4h-4zM733.7,1199.2h6v6h-6zM711.7,1164.3h7v7h-7zM768.4,1137.3h4v4h-4zM766.4,1224.5h5v5h-5zM785.5,1168.4h4v4h-4zM748.7,1147.2h4v4h-4zM746.3,1223.8h5v5h-5zM676.4,1181.7h7v7h-7zM702.9,1228.9h5v5h-5zM697.1,1201.6h6v6h-6zM710.7,1160.6h5v5h-5zM747.2,1165.2h6v6h-6zM815.4,1167.8h6v6h-6zM809.2,1149.2h4v4h-4zM704.9,1172.8h6v6h-6zM678.4,1206.6h7v7h-7zM729.8,1157.7h5v5h-5zM757.5,1146.4h5v5h-5zM694.9,1181.1h6v6h-6zM741.5,1181.5h5v5h-5zM709.3,1194.9h5v5h-5zM749.2,1183.6h6v6h-6zM743.6,1155.8h6v6h-6zM765.2,1136.4h8v8h-8zM771.3,1175.1h6v6h-6zM719.5,1169.6h8v8h-8zM724.5,1188h8v8h-8zM753.5,1135.4h5v5h-5zM716.5,1166.5h5v5h-5zM763.3,1143.4h6v6h-6zM701.2,1163.9h5v5h-5zM775.3,1172.7h6v6h-6zM749.6,1145.3h5v5h-5zM774.4,1184.1h5v5h-5zM727.1,1179.8h6v6h-6zM706.8,1154.7h6v6h-6zM734.2,1143.7h8v8h-8zM708.4,1184.8h8v8h-8zM709.7,1193.9h8v8h-8zM776.2,1148.2h5v5h-5zM710,1204.8h5v5h-5zM702.4,1154.9h8v8h-8zM777.9,1167.7h6v6h-6zM771.4,1146.3h6v6h-6zM781.5,1141.3h8v8h-8zM784.6,1153.1h8v8h-8zM737.4,1139.1h8v8h-8zM736.9,1188.4h6v6h-6zM694,1169.8h8v8h-8zM787.8,1163.9h6v6h-6zM778.4,1186h5v5h-5zM748.4,1173.6h8v8h-8zM755.6,1172.3h5v5h-5zM780.3,1157h8v8h-8zM697.4,1180.5h5v5h-5zM745.4,1150.9h5v5h-5zM759.3,1158.1h8v8h-8zM723.7,1196.1h8v8h-8zM696.9,1159.3h5v5h-5zM720.5,1196h5v5h-5zM992.4,1283.1h4v4h-4zM912.5,1179.5h3v3h-3zM852.4,1292.5h6v6h-6zM932.1,1263.8h6v6h-6zM904.9,1257.3h5v5h-5zM834.1,1293.7h6v6h-6zM883.8,1173.6h3v3h-3zM992.9,1134.6h3v3h-3zM847.8,1266.8h4v4h-4zM852.6,1208h4v4h-4zM914.3,1196.9h3v3h-3zM1001.6,1264.2h4v4h-4zM1001,1287.4h3v3h-3zM843.5,1289.5h4v4h-4zM1000.6,1169.6h3v3h-3zM939.5,1263.2h3v3h-3zM895.7,1256.8h6v6h-6zM867,1178h6v6h-6zM884.9,1288.7h5v5h-5zM941.7,1150.2h4v4h-4zM822.1,1145.6h6v6h-6zM846.2,1146.7h6v6h-6zM958,1232.5h6v6h-6zM869.7,1223.7h5v5h-5zM931.3,1129.5h3v3h-3zM938.1,1271.7h4v4h-4zM952.2,1137h6v6h-6zM840.7,1272h5v5h-5zM900.3,1208.7h3v3h-3zM942.8,1265.2h5v5h-5zM971.1,1198.5h3v3h-3zM952.9,1235.8h4v4h-4zM960.1,1257.4h6v6h-6zM826.3,1139.5h5v5h-5zM881,1220.8h6v6h-6zM881.1,1257h6v6h-6zM917,1271.3h4v4h-4zM880,1238.1h3v3h-3zM840.1,1142.7h4v4h-4zM1005.8,1251.1h4v4h-4zM983.4,1283.3h3v3h-3zM930.5,1149.9h6v6h-6zM887.5,1172.1h4v4h-4zM960.1,1160.8h3v3h-3zM833.9,1177.9h5v5h-5zM951.9,1277.3h3v3h-3zM869.5,1121h5v5h-5zM919.9,1221.4h4v4h-4zM891.8,1249.7h5v5h-5zM973.9,1143.1h6v6h-6zM988,1233.6h5v5h-5zM986.9,1130.4h5v5h-5zM992.4,1124.3h6v6h-6zM909.7,1116.4h4v4h-4zM865.4,1178.8h3v3h-3zM893.9,1219.3h4v4h-4zM907.4,1124.5h6v6h-6zM938.4,1218.9h3v3h-3zM947.6,1158.2h3v3h-3zM936.7,1283.7h6v6h-6zM956.2,1268.2h5v5h-5zM948.9,1186.4h6v6h-6zM923.2,1217.3h4v4h-4zM891.7,1210.8h3v3h-3zM841.7,1205h4v4h-4zM979,1155.3h3v3h-3zM843.2,1271.1h3v3h-3zM823.1,1128.7h6v6h-6zM892.7,1138h3v3h-3zM853.7,1243.2h4v4h-4zM973.9,1253.7h6v6h-6zM876.4,1283.6h4v4h-4zM971.7,1225.1h3v3h-3zM945.3,1287.3h6v6h-6zM819.7,1120.5h6v6h-6zM875.9,1294.1h6v6h-6zM989.7,1171h5v5h-5zM838,1176.1h4v4h-4zM654.5,1312.9h5v5h-5zM707.7,1253.7h6v6h-6zM646.6,1369.6h4v4h-4zM717.6,1316.4h5v5h-5zM664.7,1267.8h5v5h-5zM653.3,1277.1h5v5h-5zM721.3,1282.6h4v4h-4zM691.2,1305.1h6v6h-6zM640.9,1305.6h5v5h-5zM737.8,1310h6v6h-6zM737.7,1293.8h5v5h-5zM645.3,1264.6h8v8h-8zM709.5,1247.5h6v6h-6zM701.1,1341.9h4v4h-4zM640.3,1361.3h4v4h-4zM648.2,1289.3h5v5h-5zM664.7,1251.6h6v6h-6zM706.7,1348.6h4v4h-4zM719.5,1323.3h8v8h-8zM669.3,1268h8v8h-8zM669.9,1263.6h5v5h-5zM732.4,1298.4h8v8h-8zM667.8,1337.6h6v6h-6zM753.4,1294.4h5v5h-5zM701.4,1350.1h6v6h-6zM642.8,1362.5h8v8h-8zM727.8,1260.4h4v4h-4zM720.9,1307.8h4v4h-4zM697,1333.1h5v5h-5zM645.7,1293.3h8v8h-8zM643.1,1363.8h5v5h-5zM639.6,1342.7h5v5h-5zM658.7,1376.7h6v6h-6zM667.7,1318.1h5v5h-5zM697.1,1342.3h8v8h-8zM649.3,1328.3h8v8h-8zM641.3,1284.5h6v6h-6zM696.6,1374.8h8v8h-8zM660.8,1299.6h8v8h-8zM664.6,1375.6h4v4h-4zM708.9,1349.6h8v8h-8zM675.7,1310h5v5h-5zM688,1303.9h8v8h-8zM728.2,1253.5h8v8h-8zM738.5,1280.4h8v8h-8zM647.2,1327.2h8v8h-8zM671.1,1349h8v8h-8zM704.3,1288.9h8v8h-8zM653.6,1255.6h8v8h-8zM662.7,1250.7h4v4h-4zM640.7,1373.9h6v6h-6zM695.7,1300.6h4v4h-4zM638.8,1359h6v6h-6zM704.4,1320.4h6v6h-6zM550.1,1410h5v5h-5zM583,1454h8v8h-8zM616.2,1319.7h6v6h-6zM570.6,1328.5h8v8h-8zM605,1400h5v5h-5zM635.3,1354.5h5v5h-5zM544,1395.8h5v5h-5zM568.3,1466h8v8h-8zM580.9,1409.2h8v8h-8zM588.1,1288.5h5v5h-5zM607,1347.4h8v8h-8zM613.1,1294.6h6v6h-6zM569,1343.8h5v5h-5zM560,1427.5h5v5h-5zM582.6,1290.2h8v8h-8zM606.4,1432.2h8v8h-8zM602.1,1374.7h5v5h-5zM588.1,1450.6h5v5h-5zM528.9,1416.1h8v8h-8zM557.3,1326h6v6h-6zM575.4,1458.9h6v6h-6zM583.1,1450.6h5v5h-5zM582.1,1374.3h8v8h-8zM558.2,1453.1h6v6h-6zM625.8,1372.1h8v8h-8zM620.7,1346.4h8v8h-8zM604.4,1384.4h6v6h-6zM973.7,1127.9h5v5h-5zM972.9,1128.9h4v4h-4zM996.2,1060.4h6v6h-6zM915.3,1091.2h6v6h-6zM923.6,1107.5h4v4h-4zM957.3,1123.1h6v6h-6zM993.3,1065.5h5v5h-5zM994.2,1080.9h5v5h-5zM930.3,1108.6h4v4h-4zM967.9,1075.5h6v6h-6zM977.2,1127.8h4v4h-4zM973.9,1094.6h6v6h-6zM943,1092.1h5v5h-5zM985.6,1132.2h5v5h-5zM960.7,1109.1h5v5h-5zM920.6,1127.7h5v5h-5zM968.7,1091.6h5v5h-5zM941.1,1103.2h6v6h-6zM918.6,1102.2h5v5h-5zM983,1095.3h6v6h-6zM941,1116.6h4v4h-4zM960.8,1105.6h4v4h-4zM923.9,1138.5h4v4h-4zM982.4,1077.2h5v5h-5zM938.8,1110.1h5v5h-5zM973,1095.3h5v5h-5zM933.3,1121.2h5v5h-5zM938.2,1143.6h6v6h-6zM997.8,1094.5h6v6h-6zM899.4,1098.2h6v6h-6zM949.8,1105.5h6v6h-6zM988.5,1116.2h6v6h-6z"/>
<path fill="#3a72a6" d="M681.2,1182.8h4v4h-4zM713.1,1190.8h4v4h-4zM784.4,1141.6h5v5h-5zM779.5,1164.6h7v7h-7zM767,1198.5h6v6h-6zM676.3,1222.8h4v4h-4zM796.7,1141.9h5v5h-5zM764.5,1220.8h4v4h-4zM743.7,1185.6h7v7h-7zM819.1,1163.3h4v4h-4zM675.5,1207.3h7v7h-7zM753.5,1186.8h4v4h-4zM733,1161.3h5v5h-5zM785.4,1215.3h7v7h-7zM692.4,1148.5h7v7h-7zM673.1,1190.7h5v5h-5zM765.6,1213.2h5v5h-5zM673.6,1164.3h5v5h-5zM759.1,1218.5h4v4h-4zM733.5,1139.8h5v5h-5zM728.4,1118.3h5v5h-5zM692,1205.1h6v6h-6zM702.2,1206h5v5h-5zM659.6,1199.3h7v7h-7zM736.5,1162.2h7v7h-7zM732.8,1197.2h4v4h-4zM755.6,1213.7h6v6h-6zM714.9,1182.3h4v4h-4zM701.6,1151.5h7v7h-7zM758.1,1203.1h6v6h-6zM810.7,1153.5h6v6h-6zM728.4,1169.3h6v6h-6zM763.5,1195.8h4v4h-4zM708.6,1195.9h6v6h-6zM798.5,1142.2h7v7h-7zM760.5,1118.6h7v7h-7zM676.1,1149.7h4v4h-4zM763.6,1135.7h4v4h-4zM710.7,1158.1h5v5h-5zM748,1146.5h7v7h-7zM710.5,1144.1h5v5h-5zM752.6,1196.9h5v5h-5zM715.3,1239h6v6h-6zM775.7,1133.7h7v7h-7zM721.9,1190.1h4v4h-4zM758.4,1215.9h5v5h-5zM691.5,1167.9h7v7h-7zM731.7,1145.1h7v7h-7zM698.9,1223.4h7v7h-7zM731.1,1228.5h7v7h-7zM691.3,1126.9h6v6h-6zM683.7,1177.2h7v7h-7zM806.6,1182.1h4v4h-4zM660.3,1214.3h4v4h-4zM757.2,1196.7h6v6h-6zM749.2,1170.1h5v5h-5zM705.1,1154.8h5v5h-5zM769.1,1138.7h4v4h-4zM782.6,1140.3h4v4h-4zM748.9,1176.7h5v5h-5zM735.7,1123.2h7v7h-7zM744.1,1159.7h5v5h-5zM685.4,1228.8h6v6h-6zM761.9,1140.3h7v7h-7zM773.7,1181.4h7v7h-7zM765.5,1216.5h4v4h-4zM805.3,1138.7h5v5h-5zM734.4,1206.3h5v5h-5zM760.4,1168.4h6v6h-6zM738.3,1116.7h4v4h-4zM729.5,1119.3h6v6h-6zM672,1156.6h6v6h-6zM756.5,1222h6v6h-6zM755.2,1132.8h5v5h-5zM703.1,1150.5h7v7h-7zM727.9,1205.1h5v5h-5zM804.6,1195h4v4h-4zM732,1145.6h6v6h-6zM700.8,1237.5h5v5h-5zM776.6,1160.8h4v4h-4zM753.2,1211.4h7v7h-7zM694.4,1202.2h5v5h-5zM750.4,1146.3h6v6h-6zM745.2,1118.1h5v5h-5zM733.1,1190.5h5v5h-5zM722.2,1117.4h5v5h-5zM796.3,1123.8h5v5h-5zM781.1,1133.8h4v4h-4zM731.3,1228.1h5v5h-5zM669.6,1201.9h5v5h-5zM694.9,1220.5h7v7h-7zM705,1140.4h6v6h-6zM783,1129.3h4v4h-4zM667.6,1180.7h5v5h-5zM785.1,1163.6h7v7h-7zM719.7,1140.3h6v6h-6zM696.8,1121.8h6v6h-6zM714.4,1239h7v7h-7zM776.5,1152.3h4v4h-4zM754.8,1141.1h4v4h-4zM708,1174.5h6v6h-6zM731.6,1196.4h6v6h-6zM740.6,1156.5h4v4h-4zM687.5,1236.7h5v5h-5zM751.5,1187.7h7v7h-7zM723.7,1204h5v5h-5zM691.5,1174.5h5v5h-5zM976.2,1117.2h4v4h-4zM822.1,1194.4h5v5h-5zM839.7,1276.2h5v5h-5zM851.1,1239.4h4v4h-4zM871.6,1141.7h5v5h-5zM832,1118.8h4v4h-4zM823,1119.6h3v3h-3zM945.2,1287.8h6v6h-6zM835,1224.5h4v4h-4zM839.9,1220.9h5v5h-5zM996.7,1188.1h5v5h-5zM855.3,1216.6h4v4h-4zM882.9,1150h4v4h-4zM901.7,1241.9h3v3h-3zM984.4,1183.3h4v4h-4zM850.3,1251.6h6v6h-6zM991.6,1123.2h6v6h-6zM900.1,1172.7h5v5h-5zM906.9,1256.3h4v4h-4zM859.7,1253.3h4v4h-4zM896,1131.9h4v4h-4zM868.5,1162.3h5v5h-5zM946.3,1145h6v6h-6zM858.6,1211.8h3v3h-3zM977.1,1240.2h4v4h-4zM827.7,1193.5h4v4h-4zM889.3,1255h3v3h-3zM866.5,1127.7h3v3h-3zM866.9,1263.6h3v3h-3zM992.4,1201.5h3v3h-3zM976,1250.4h5v5h-5zM850.5,1281.1h4v4h-4zM977.9,1208.1h4v4h-4zM931.1,1146.5h6v6h-6zM961.3,1129.2h5v5h-5zM892.1,1230.1h4v4h-4zM819.7,1152.6h5v5h-5zM986.4,1176h4v4h-4zM642.9,1365.4h4v4h-4zM732,1320.2h8v8h-8zM655.4,1350.7h6v6h-6zM675.3,1362.8h6v6h-6zM730.8,1326.7h8v8h-8zM723.3,1315.1h8v8h-8zM661.8,1375.4h4v4h-4zM651.9,1343.6h8v8h-8zM646.1,1362h8v8h-8zM652.4,1343.5h4v4h-4zM660.5,1353.5h8v8h-8zM647.8,1337.2h4v4h-4zM702.4,1363.8h5v5h-5zM666.9,1346.8h5v5h-5zM739.5,1284.1h6v6h-6zM689.3,1264.7h4v4h-4zM662,1267h8v8h-8zM671.3,1279.2h8v8h-8zM743.2,1269.7h4v4h-4zM707.2,1339.3h4v4h-4zM640.1,1295.1h8v8h-8zM641.9,1352.3h8v8h-8z"/>
<path fill="#308abe" d="M733.1,1185.5h5v5h-5zM681.3,1162.1h4v4h-4zM690.6,1130.6h6v6h-6zM786.5,1177.6h4v4h-4zM751.2,1179.1h6v6h-6zM796.1,1198.4h7v7h-7zM730.8,1177.8h6v6h-6zM802.5,1179.5h5v5h-5zM661.2,1188.5h7v7h-7zM725,1172h4v4h-4zM676.8,1187.3h7v7h-7zM804.2,1132.9h6v6h-6zM710.1,1119.9h7v7h-7zM679.3,1183.5h6v6h-6zM775.1,1138.3h6v6h-6zM698.8,1130.7h7v7h-7zM765.5,1150.3h5v5h-5zM707.4,1212.7h7v7h-7zM727.7,1137.9h4v4h-4zM680.2,1234.5h7v7h-7zM677.9,1157.2h5v5h-5zM771,1176.6h5v5h-5zM743.4,1214.6h7v7h-7zM727.7,1174.7h5v5h-5zM763.1,1143.8h6v6h-6zM738.1,1143.6h6v6h-6zM719.9,1198.9h4v4h-4zM694.1,1174.2h6v6h-6zM683,1154.6h7v7h-7zM694.1,1205.8h4v4h-4zM784.1,1206.2h7v7h-7zM680.2,1224h5v5h-5zM782.4,1142.9h6v6h-6zM733.4,1168h5v5h-5zM742.5,1157.1h4v4h-4zM762.5,1169.7h8v8h-8zM708.1,1180.8h5v5h-5zM736,1177.3h6v6h-6zM721.6,1181.6h5v5h-5zM719.9,1174.9h6v6h-6zM770,1144.5h8v8h-8zM755.9,1138.7h5v5h-5zM771.9,1155.8h8v8h-8zM779.1,1154.2h8v8h-8zM706.3,1167.7h8v8h-8zM734.9,1193.3h6v6h-6zM732.7,1184.3h6v6h-6zM716.5,1163.2h6v6h-6zM737.1,1190.2h5v5h-5zM692.1,1169.7h5v5h-5zM775.6,1173.4h8v8h-8zM748.3,1200.1h6v6h-6zM725.5,1149.3h8v8h-8zM751.3,1163.2h5v5h-5zM718.8,1153.6h6v6h-6zM699.6,1158.4h5v5h-5zM771.8,1140.2h8v8h-8zM743.3,1154.8h8v8h-8zM750.9,1166.9h6v6h-6zM754.3,1169.2h5v5h-5zM770,1148.2h6v6h-6zM834.9,1264.7h3v3h-3zM959.7,1198h3v3h-3zM1000.8,1163.5h4v4h-4zM964.2,1225.1h3v3h-3zM939.5,1271.1h5v5h-5zM885.5,1153.3h6v6h-6zM907.5,1255h6v6h-6zM876.9,1119.5h6v6h-6zM850.8,1123.3h6v6h-6zM994.8,1167.8h3v3h-3zM927,1144.8h3v3h-3zM999.6,1165.9h6v6h-6zM868.9,1159.2h5v5h-5zM830.7,1178.5h5v5h-5zM910.9,1210.1h6v6h-6zM834,1217.9h4v4h-4zM950.1,1169.2h4v4h-4zM908.2,1182.7h3v3h-3zM1003,1239.9h3v3h-3zM870.6,1237.6h6v6h-6zM881.4,1255.9h6v6h-6zM866.5,1269.4h6v6h-6zM927,1237.9h3v3h-3zM974.8,1137.6h5v5h-5zM956.4,1196.5h4v4h-4zM965.5,1221.5h5v5h-5zM932,1265.3h6v6h-6zM865.7,1158.6h6v6h-6zM957.1,1205.8h3v3h-3zM862,1262.6h4v4h-4zM984.5,1181.2h6v6h-6zM863.7,1283.3h6v6h-6zM908.6,1232h6v6h-6zM867.8,1254.9h6v6h-6zM723.4,1310.4h6v6h-6zM677.5,1314.5h6v6h-6zM718,1332.1h5v5h-5zM675.5,1330.3h8v8h-8zM727.6,1317.5h6v6h-6zM648.6,1366.4h4v4h-4zM676.1,1294.4h4v4h-4zM652.4,1271.3h5v5h-5zM679.2,1299.4h4v4h-4zM638.1,1356.1h4v4h-4zM664.3,1387.7h4v4h-4zM682.3,1307.8h5v5h-5zM706.1,1360.6h4v4h-4zM672.6,1269.8h8v8h-8zM658.5,1303.5h6v6h-6zM644.5,1279.5h6v6h-6zM642.8,1247h8v8h-8zM721.1,1239.2h5v5h-5zM710.8,1243.1h4v4h-4zM696.9,1321.1h6v6h-6zM717.2,1241.1h5v5h-5zM701.8,1241.8h4v4h-4zM754.8,1296.4h8v8h-8zM688.1,1305.9h8v8h-8zM738.2,1318.8h8v8h-8zM729.7,1286.8h4v4h-4zM674,1255.7h8v8h-8zM682.1,1351.3h8v8h-8zM667,1295.7h5v5h-5zM678.5,1296.6h6v6h-6zM739.4,1298h6v6h-6zM644.9,1329.3h8v8h-8zM697.6,1334.9h4v4h-4zM638.8,1311.1h5v5h-5zM732.2,1307.6h5v5h-5zM648.2,1387.7h5v5h-5zM662.2,1357.4h4v4h-4zM705.8,1292.6h8v8h-8zM638.5,1292.9h5v5h-5zM712.3,1271.8h8v8h-8zM678.5,1355.8h4v4h-4zM723.1,1310.1h8v8h-8zM699.3,1348.7h4v4h-4zM640.4,1357.6h6v6h-6zM734.7,1250.4h5v5h-5zM734.2,1283.8h5v5h-5zM675.8,1336.5h6v6h-6zM663.5,1330.2h8v8h-8zM717.7,1326.4h5v5h-5zM723.4,1290.9h4v4h-4zM693.8,1289.6h8v8h-8zM641.7,1345.3h4v4h-4zM730.8,1312.6h4v4h-4zM700,1284.9h5v5h-5zM614.1,1395.1h6v6h-6zM562.3,1357.8h6v6h-6zM624.6,1311h6v6h-6zM594,1416.7h6v6h-6zM627,1422h6v6h-6zM580.6,1318.2h6v6h-6zM595.3,1395.6h8v8h-8zM594.6,1321.1h6v6h-6zM625.2,1343.6h5v5h-5zM611.7,1260.7h8v8h-8zM541.5,1444.8h6v6h-6zM572,1301h8v8h-8zM577.5,1295.9h5v5h-5zM541.7,1401h5v5h-5zM532.9,1387.9h8v8h-8zM607.2,1277h5v5h-5zM561.8,1453.5h5v5h-5zM551.3,1338.8h6v6h-6zM627.3,1375.6h6v6h-6zM628.9,1340.1h5v5h-5zM568.8,1393.2h8v8h-8zM581.3,1406.9h5v5h-5zM543.9,1373.5h5v5h-5zM621.1,1303.2h8v8h-8zM577.9,1418.5h8v8h-8zM633.8,1323.2h8v8h-8zM547.7,1373.7h8v8h-8zM557.9,1454.1h8v8h-8zM629.7,1350.4h6v6h-6zM586.3,1393.6h6v6h-6zM569.5,1313.7h8v8h-8zM627.2,1268.4h6v6h-6zM616.3,1388.1h8v8h-8zM909.4,1114.2h6v6h-6zM968,1131.3h6v6h-6zM994.2,1099.8h6v6h-6zM952.4,1116.5h5v5h-5zM991.9,1113.9h6v6h-6zM926,1111.2h6v6h-6zM943.3,1087.8h6v6h-6zM945.9,1112.8h6v6h-6zM985.6,1103.7h5v5h-5zM925.9,1093.9h6v6h-6zM941.7,1105.8h5v5h-5zM994.7,1061.8h4v4h-4zM968.4,1101.9h4v4h-4zM997.1,1079.9h5v5h-5zM952.2,1090h4v4h-4zM949.3,1085.6h5v5h-5zM967.3,1087h4v4h-4zM967.2,1094.5h5v5h-5zM911,1101.7h6v6h-6zM974.4,1127.3h4v4h-4zM968,1079.2h5v5h-5zM991.7,1069.7h4v4h-4zM1006.8,1125.5h4v4h-4zM966.1,1092.9h4v4h-4zM967.3,1081.2h6v6h-6zM948.1,1122.8h4v4h-4zM951.3,1092.1h4v4h-4zM941.8,1088.9h6v6h-6z"/>
<g fill="#308abe"><circle cx="1007.7" cy="1298.9" r="3.5"/><circle cx="1010.1" cy="1265.6" r="4.5"/><circle cx="1013.9" cy="1266.5" r="3.5"/><circle cx="971.6" cy="1267.6" r="2.5"/><circle cx="1013.7" cy="1279.6" r="2.5"/><circle cx="950.8" cy="1298.6" r="4.5"/><circle cx="1009.2" cy="1308.7" r="4.5"/><circle cx="991.5" cy="1277.6" r="3.5"/><circle cx="994.5" cy="1296.6" r="4.5"/><circle cx="971.5" cy="1343.8" r="2.5"/><circle cx="1042.4" cy="1266.4" r="3.5"/><circle cx="1013.8" cy="1332.1" r="3.5"/><circle cx="1036.1" cy="1287.7" r="3.5"/><circle cx="1026.2" cy="1326.5" r="3.5"/><circle cx="1067.1" cy="1289.8" r="2.5"/><circle cx="1009.5" cy="1285.8" r="2.5"/><circle cx="1018.6" cy="1312.6" r="3.5"/><circle cx="986.8" cy="1270.4" r="4.5"/><circle cx="989.4" cy="1338.5" r="2.5"/><circle cx="1011.7" cy="1324.9" r="3.5"/><circle cx="1002.6" cy="1291.4" r="4.5"/><circle cx="968.7" cy="1312.3" r="4.5"/><circle cx="944.9" cy="1303.4" r="4.5"/><circle cx="968.4" cy="1313.7" r="4.5"/><circle cx="987.4" cy="1322.9" r="2.5"/><circle cx="1057.9" cy="1266.8" r="4.5"/><circle cx="971.3" cy="1285.8" r="4.5"/></g>
<g fill="#3679ae"><circle cx="989.2" cy="1283.1" r="4.5"/><circle cx="1039.6" cy="1264.3" r="3.5"/><circle cx="1025.7" cy="1260" r="3.5"/><circle cx="1010.2" cy="1248.1" r="4.5"/><circle cx="1001.3" cy="1286.3" r="3.5"/><circle cx="1007.2" cy="1286.4" r="3.5"/><circle cx="985" cy="1316" r="4.5"/><circle cx="950.8" cy="1295.9" r="2.5"/><circle cx="958.9" cy="1321.1" r="4.5"/><circle cx="948.2" cy="1309.9" r="3.5"/><circle cx="982.2" cy="1352.1" r="4.5"/><circle cx="977.2" cy="1323.2" r="3.5"/><circle cx="997.4" cy="1296.4" r="3.5"/><circle cx="987.8" cy="1334.8" r="2.5"/><circle cx="1059.5" cy="1292.9" r="3.5"/><circle cx="1046.1" cy="1295.1" r="4.5"/><circle cx="1048.8" cy="1283.1" r="2.5"/><circle cx="985.8" cy="1272.4" r="2.5"/><circle cx="986.2" cy="1353.3" r="2.5"/><circle cx="947.9" cy="1304.1" r="2.5"/><circle cx="992" cy="1276.6" r="4.5"/><circle cx="962.9" cy="1287.6" r="2.5"/><circle cx="980.8" cy="1267" r="4.5"/><circle cx="1036.1" cy="1241.2" r="4.5"/><circle cx="1022.7" cy="1269.9" r="2.5"/><circle cx="988.7" cy="1288.5" r="4.5"/><circle cx="1016.6" cy="1311.6" r="4.5"/><circle cx="1056" cy="1261.9" r="2.5"/><circle cx="1034.3" cy="1315.2" r="2.5"/><circle cx="1004.1" cy="1329.1" r="3.5"/><circle cx="983.4" cy="1317.7" r="4.5"/><circle cx="984.4" cy="1350.4" r="2.5"/><circle cx="999" cy="1266.5" r="4.5"/></g>
<path fill="#3679ae" d="M827.9,814.5h4v4h-4zM748.3,816h4v4h-4zM740.4,756.9h5v5h-5zM751.1,787.5h4v4h-4zM760.7,814.2h4v4h-4zM806,823.6h3v3h-3zM773.3,787.3h4v4h-4zM808,769.6h3v3h-3zM716.8,810.1h3v3h-3zM825,751.8h4v4h-4zM825,826.6h4v4h-4zM830.4,762.4h4v4h-4zM796.7,786.2h3v3h-3zM823.4,774.9h3v3h-3zM771.1,772.1h4v4h-4zM723.2,812.9h4v4h-4zM788.3,843.9h4v4h-4zM782.9,830.5h5v5h-5zM752.5,765.8h5v5h-5zM743,801.8h3v3h-3zM820.9,780.3h4v4h-4zM786.5,844.7h5v5h-5zM768.8,762.1h4v4h-4zM825.2,848.8h3v3h-3zM732,847.9h3v3h-3zM765.3,814.7h4v4h-4zM762,866.6h4v4h-4zM762.6,813.4h5v5h-5zM757.1,852.3h5v5h-5zM809.1,789.3h4v4h-4zM731.6,843.2h3v3h-3zM758.2,817.4h4v4h-4zM727.5,779.1h3v3h-3zM769.5,751.7h3v3h-3zM776,835.8h3v3h-3zM824.6,840.5h5v5h-5zM829,772.6h3v3h-3zM814.1,764.9h3v3h-3zM815.3,794.2h4v4h-4zM805.5,746.4h5v5h-5zM798,793.6h3v3h-3zM819.5,788.9h4v4h-4zM763.5,810.4h4v4h-4zM792.5,773.8h5v5h-5zM790.4,791.1h3v3h-3zM806.6,822.8h4v4h-4zM801.4,807.5h4v4h-4zM796,808.8h4v4h-4zM818.8,827.9h5v5h-5zM818.3,830.5h4v4h-4zM802,808.9h5v5h-5zM808,804h4v4h-4zM809.5,805.2h4v4h-4zM793.4,803h5v5h-5zM811.8,827h5v5h-5zM797.4,810.2h4v4h-4zM809.8,824.8h4v4h-4zM803,814h5v5h-5zM813,807.2h4v4h-4zM807.9,816.4h5v5h-5zM796.3,817.1h4v4h-4zM819.1,812.3h5v5h-5zM796.5,810.6h5v5h-5zM796.6,809.9h5v5h-5zM811.4,830.4h4v4h-4zM813.1,826.6h4v4h-4zM799.3,806.2h4v4h-4zM811.7,800.2h4v4h-4zM812.8,823.4h5v5h-5zM805.8,830.5h5v5h-5zM807.1,810.3h4v4h-4zM800.6,808.4h5v5h-5zM813.2,812.9h5v5h-5zM799.6,807.4h4v4h-4zM806.8,831.6h4v4h-4zM804.1,808.1h5v5h-5z"/>
<path fill="#3a72a6" d="M756.2,802.5h4v4h-4zM748.9,848.5h4v4h-4zM757,854.2h4v4h-4zM814.2,742.4h4v4h-4zM804.7,840h3v3h-3zM835.5,794.9h5v5h-5zM735.2,852.8h3v3h-3zM791.7,745.8h4v4h-4zM831.5,845.5h5v5h-5zM737.5,786.5h3v3h-3zM818.8,745.2h5v5h-5zM729.4,823.1h3v3h-3zM771.4,765.8h3v3h-3zM758.9,806.5h4v4h-4zM757.9,848.5h3v3h-3zM731.6,787.4h3v3h-3zM748.4,840.8h3v3h-3zM806.5,773.8h3v3h-3zM827.9,749.4h4v4h-4zM816.9,785h4v4h-4zM768.8,768.6h4v4h-4zM798.9,819.9h5v5h-5zM782.8,801.1h3v3h-3zM790.5,828.4h5v5h-5zM780.5,781.4h3v3h-3zM754.1,858.9h3v3h-3zM777.1,771.5h5v5h-5zM831.1,791.1h5v5h-5zM776,846.9h5v5h-5zM779,805.8h5v5h-5zM825.6,757.1h4v4h-4zM785.3,827.4h4v4h-4zM812.5,808.8h4v4h-4zM836.2,844.5h3v3h-3zM760.3,819.3h3v3h-3zM817.2,774.8h5v5h-5zM813.7,843.3h5v5h-5zM819.4,754.6h3v3h-3zM826.6,851.2h3v3h-3zM829.9,800.3h3v3h-3zM750.9,781.9h3v3h-3zM835.1,815.1h3v3h-3zM826.7,818.2h5v5h-5zM784.3,798.7h5v5h-5zM805,774.6h5v5h-5z"/>
<path fill="#308abe" d="M813.3,816.3h4v4h-4zM813.9,819.7h4v4h-4zM814.9,806.9h5v5h-5zM797.8,831.2h5v5h-5zM818.6,830.5h5v5h-5zM806.3,823.4h5v5h-5zM805.2,818.4h5v5h-5zM815.3,822.3h4v4h-4zM820.5,824.1h4v4h-4zM807,817.4h4v4h-4zM804.4,805.1h4v4h-4zM808.4,833.7h5v5h-5zM797.7,834.6h5v5h-5zM796.5,817h4v4h-4z"/>
<polyline points="369.3,1357.5 425.9,1412" stroke="#308abe" stroke-width="12.2"/>
<polyline points="440.6,1424.6 457.3,1439.2" stroke="#308abe" stroke-width="11.5"/>
<polyline points="499.2,1468.6 557.9,1497.9 581,1508.4" stroke="#308abe" stroke-width="11.5"/>
<polyline points="509.7,1347.1 549.5,1376.4" stroke="#308abe" stroke-width="10.5"/>
<polyline points="528.6,1340.8 543.2,1347.1" stroke="#308abe" stroke-width="10.1"/>
<polyline points="620.8,1391.1 645.9,1401.5" stroke="#308abe" stroke-width="10.5"/>
<polyline points="618.7,1412 654.3,1424.6" stroke="#308abe" stroke-width="10.5"/>
<polyline points="612.4,1449.7 650.1,1462.3" stroke="#308abe" stroke-width="10.5"/>
<polyline points="662.7,1368 683.6,1376.4" stroke="#308abe" stroke-width="9.2"/>
<polyline points="597.7,1401.5 610.3,1405.7" stroke="#308abe" stroke-width="10.5"/>
<polyline points="593.5,1430.9 608.2,1435.1" stroke="#308abe" stroke-width="10.5"/>
<polyline points="474.1,1407.8 488.8,1406.8 496.1,1413.1" stroke="#308abe" stroke-width="11.5"/>
<polyline points="465.7,1420.8 478.3,1416.2" stroke="#308abe" stroke-width="11.5"/>
<polyline points="493,1435.1 493,1435.1" stroke="#308abe" stroke-width="10.5"/>
<polyline points="526.5,1426.7 549.5,1447.6" stroke="#308abe" stroke-width="12.6"/>
<polyline points="524.4,1453.9 541.2,1468.6" stroke="#308abe" stroke-width="12.6"/>
<polyline points="585.2,1453.9 589.3,1468.6 595.6,1477" stroke="#308abe" stroke-width="12.6"/>
<polyline points="570.5,1489.5 581,1502.1" stroke="#308abe" stroke-width="12.6"/>
<polyline points="419.6,1521 432.2,1521 449,1518.9" stroke="#2a98c8" stroke-width="14.7"/>
<polyline points="438.5,1531.4 442.7,1546.1 451.1,1560.8 465.7,1573.3" stroke="#2a98c8" stroke-width="18.9"/>
<polyline points="469.9,1546.1 482.5,1550.3" stroke="#2a98c8" stroke-width="14.7"/>
<polyline points="486.7,1566 486.7,1566" stroke="#26a4d0" stroke-width="12.6"/>
<polyline points="453.1,1558.7 469.9,1569.2" stroke="#26a4d0" stroke-width="14.7"/>
<polyline points="478.3,1485.3 486.7,1510.5" stroke="#2a98c8" stroke-width="12.6"/>
<polyline points="499.2,1489.5 503.4,1502.1" stroke="#2a98c8" stroke-width="12.6"/>
<polyline points="526.5,1531.4 520.2,1550.3" stroke="#2a98c8" stroke-width="12.6"/>
<polyline points="513.9,1562.9 528.6,1573.3" stroke="#2a98c8" stroke-width="12.6"/>
<polyline points="541.2,1560.8 549.5,1573.3 543.2,1583.8" stroke="#26a4d0" stroke-width="18.9"/>
<polyline points="555.8,1550.3 574.7,1556.6" stroke="#308abe" stroke-width="10.5"/>
<polyline points="551.6,1583.8 551.6,1583.8" stroke="#26a4d0" stroke-width="12.6"/>
<polyline points="534.9,1518.9 545.3,1521" stroke="#2a98c8" stroke-width="12.6"/>
<g fill="#2a98c8"><circle cx="606.6" cy="1353.9" r="6.5"/><circle cx="585.9" cy="1375.5" r="6"/><circle cx="605.7" cy="1376.7" r="6.2"/><circle cx="532.5" cy="1469.6" r="5.9"/><circle cx="558.8" cy="1456.5" r="6.6"/><circle cx="628" cy="1325.5" r="6.6"/><circle cx="597.3" cy="1404.6" r="5.8"/><circle cx="520.2" cy="1468.2" r="5.9"/><circle cx="610.2" cy="1348.2" r="6.2"/><circle cx="590" cy="1416.7" r="6.3"/><circle cx="550.3" cy="1474.6" r="6.2"/><circle cx="582.6" cy="1416.1" r="6.3"/><circle cx="634.7" cy="1382.7" r="6.7"/><circle cx="579.8" cy="1446.5" r="6.7"/><circle cx="530.6" cy="1462.7" r="6.1"/><circle cx="534.3" cy="1480.4" r="6.4"/><circle cx="541.2" cy="1456.6" r="6.1"/><circle cx="598.6" cy="1409.9" r="6.4"/><circle cx="638.9" cy="1377.2" r="6.5"/><circle cx="593.4" cy="1399.6" r="6.6"/><circle cx="566.4" cy="1479.3" r="6"/><circle cx="546.2" cy="1445.5" r="5.8"/><circle cx="601.7" cy="1404.9" r="6"/><circle cx="586.6" cy="1388.4" r="5.9"/><circle cx="597.2" cy="1393.8" r="6.5"/><circle cx="613.2" cy="1377.7" r="6.4"/><circle cx="587.1" cy="1410.6" r="6.6"/><circle cx="577.2" cy="1381.2" r="6.2"/><circle cx="602.3" cy="1360.2" r="6.6"/><circle cx="633.5" cy="1375.6" r="5.9"/><circle cx="546.8" cy="1468.7" r="6.7"/><circle cx="550.2" cy="1463" r="6.4"/><circle cx="570" cy="1406.1" r="5.9"/><circle cx="615" cy="1381.3" r="5.8"/><circle cx="669" cy="1324.6" r="6"/><circle cx="602.7" cy="1370.4" r="6"/><circle cx="615.7" cy="1347" r="6.6"/><circle cx="588.4" cy="1406.2" r="5.9"/><circle cx="634.7" cy="1324.1" r="6"/><circle cx="662.9" cy="1324.1" r="6.2"/><circle cx="579.5" cy="1400.4" r="5.9"/><circle cx="586.7" cy="1399.2" r="6.2"/><circle cx="559.1" cy="1422.5" r="6.2"/><circle cx="611.5" cy="1331.7" r="6.6"/><circle cx="613.5" cy="1388.3" r="6.5"/><circle cx="599.8" cy="1377.6" r="6.7"/><circle cx="566.1" cy="1467.6" r="6.3"/><circle cx="593.9" cy="1387.2" r="6.4"/><circle cx="608.3" cy="1382.8" r="6.6"/><circle cx="627" cy="1353.7" r="6"/><circle cx="556.2" cy="1440" r="5.9"/><circle cx="573.9" cy="1400" r="6"/><circle cx="605" cy="1364.9" r="6.4"/><circle cx="562.9" cy="1473.3" r="6.1"/><circle cx="658.1" cy="1329.5" r="5.9"/><circle cx="588.7" cy="1392.8" r="6.6"/><circle cx="596" cy="1370.3" r="6.6"/><circle cx="566" cy="1446.3" r="6.6"/><circle cx="612.6" cy="1398.4" r="6"/><circle cx="587.3" cy="1423.6" r="6.4"/><circle cx="572.1" cy="1423.5" r="5.9"/><circle cx="590.7" cy="1370.2" r="5.7"/><circle cx="602.6" cy="1394.8" r="6.4"/><circle cx="615.3" cy="1359.9" r="6"/><circle cx="583.7" cy="1393.9" r="5.9"/><circle cx="543.2" cy="1450.8" r="6.1"/><circle cx="653.2" cy="1353.9" r="6.1"/><circle cx="554.3" cy="1457.5" r="6.2"/><circle cx="547.7" cy="1457.8" r="5.9"/><circle cx="634.9" cy="1358.4" r="6.5"/><circle cx="648" cy="1360" r="6"/><circle cx="568.9" cy="1461.6" r="6.1"/><circle cx="537.8" cy="1462.6" r="6"/><circle cx="560.2" cy="1434.5" r="6.6"/><circle cx="578.7" cy="1434.6" r="6.2"/><circle cx="575.6" cy="1427.7" r="6.2"/><circle cx="623.4" cy="1359.3" r="6.4"/><circle cx="563.4" cy="1440.2" r="6.3"/><circle cx="577.4" cy="1415.8" r="6.5"/><circle cx="583.2" cy="1381.4" r="6.2"/><circle cx="553.2" cy="1434.9" r="6.6"/><circle cx="612" cy="1353.7" r="6.5"/><circle cx="624.9" cy="1365.1" r="6.4"/><circle cx="649.7" cy="1347.5" r="6.3"/><circle cx="608.4" cy="1405" r="5.7"/><circle cx="601.9" cy="1516.8" r="6.5"/><circle cx="610.3" cy="1518.9" r="6.5"/><circle cx="613.4" cy="1547.2" r="6.5"/><circle cx="622.9" cy="1549.3" r="6.5"/><circle cx="629.2" cy="1562.9" r="6.5"/><circle cx="503.4" cy="1582.8" r="6.5"/><circle cx="458.4" cy="1592.2" r="6.5"/><circle cx="450" cy="1606.9" r="6.5"/><circle cx="506.6" cy="1603.7" r="6.5"/><circle cx="394.5" cy="1579.6" r="6.5"/><circle cx="385" cy="1592.2" r="6.5"/><circle cx="584.1" cy="1634.1" r="6.5"/><circle cx="596.7" cy="1637.3" r="6.5"/></g>
<g fill="#26a4d0"><circle cx="549.5" cy="1440.2" r="6.7"/><circle cx="603.8" cy="1381.4" r="6.5"/><circle cx="609.7" cy="1370" r="6.5"/><circle cx="592.4" cy="1376.5" r="6.5"/><circle cx="609.5" cy="1393.8" r="6"/><circle cx="633.6" cy="1365.2" r="6.4"/><circle cx="570.5" cy="1382.3" r="6.5"/><circle cx="576.6" cy="1405.8" r="6.2"/><circle cx="577.4" cy="1393.4" r="6.2"/><circle cx="600.1" cy="1387.7" r="6.7"/><circle cx="567.5" cy="1399.1" r="6.4"/><circle cx="579.8" cy="1412.2" r="5.8"/><circle cx="572.5" cy="1387.7" r="5.8"/><circle cx="609.7" cy="1360.4" r="6.6"/><circle cx="605.1" cy="1388.4" r="6.2"/><circle cx="593.9" cy="1410.1" r="6.3"/><circle cx="557.7" cy="1428.9" r="6"/><circle cx="568.8" cy="1450.6" r="6.4"/><circle cx="612" cy="1365.5" r="6"/><circle cx="537.5" cy="1474.3" r="6.1"/><circle cx="566" cy="1422.8" r="5.8"/><circle cx="565.4" cy="1433.3" r="5.9"/><circle cx="569.5" cy="1394.2" r="6"/><circle cx="623.3" cy="1347.9" r="6.2"/><circle cx="590.1" cy="1382.6" r="5.9"/><circle cx="551" cy="1451.2" r="6.3"/><circle cx="585.9" cy="1434" r="6.5"/><circle cx="620.3" cy="1377.8" r="6.7"/><circle cx="628.2" cy="1358.6" r="6.5"/><circle cx="568.8" cy="1416.4" r="6.6"/><circle cx="562.5" cy="1451.1" r="6.1"/><circle cx="565.6" cy="1410.9" r="6.6"/></g>
<g fill="#308abe"><circle cx="595" cy="1427.8" r="5.8"/><circle cx="664.6" cy="1319.5" r="6.1"/><circle cx="630.2" cy="1336.6" r="6.1"/><circle cx="544.1" cy="1463.8" r="6.3"/><circle cx="583.8" cy="1405.6" r="6.2"/><circle cx="557.5" cy="1486.2" r="6.5"/><circle cx="605" cy="1341.4" r="6.3"/><circle cx="602.3" cy="1417.2" r="6.4"/><circle cx="615" cy="1336" r="6.5"/><circle cx="577.5" cy="1451.5" r="5.8"/><circle cx="582.8" cy="1372" r="6.5"/><circle cx="569.2" cy="1485.5" r="6.5"/><circle cx="582.3" cy="1440" r="5.7"/><circle cx="615.2" cy="1370.8" r="5.9"/><circle cx="621.5" cy="1370.6" r="6.1"/><circle cx="557.2" cy="1463.2" r="6"/><circle cx="586.9" cy="1365.3" r="6.4"/><circle cx="590.1" cy="1428.3" r="5.9"/><circle cx="626.3" cy="1331.1" r="6.7"/><circle cx="652.8" cy="1329.9" r="6.5"/><circle cx="664.8" cy="1329.7" r="6.2"/><circle cx="553.2" cy="1479.4" r="6.2"/><circle cx="596.4" cy="1381.7" r="5.8"/><circle cx="612.1" cy="1342.6" r="5.8"/><circle cx="641.5" cy="1359.7" r="6.3"/><circle cx="603.9" cy="1348.7" r="6.4"/><circle cx="579.3" cy="1423.2" r="6"/><circle cx="645.1" cy="1331.1" r="6.7"/><circle cx="618.2" cy="1389.2" r="6.3"/><circle cx="570.4" cy="1427.7" r="6.6"/><circle cx="609.1" cy="1336.5" r="6.3"/><circle cx="573" cy="1434.1" r="6.2"/><circle cx="553.4" cy="1467.6" r="6.1"/><circle cx="552.2" cy="1444.8" r="6.1"/><circle cx="560.9" cy="1445" r="6"/><circle cx="572.4" cy="1445.9" r="6.5"/><circle cx="570.8" cy="1440.3" r="6.4"/><circle cx="576.9" cy="1440.3" r="6.1"/><circle cx="622.1" cy="1325.6" r="6.6"/><circle cx="544.4" cy="1473.8" r="5.8"/><circle cx="615" cy="1404.6" r="6.1"/><circle cx="595.2" cy="1417.7" r="6.6"/><circle cx="600.6" cy="1421.7" r="5.8"/><circle cx="580.6" cy="1387.5" r="5.8"/><circle cx="605" cy="1411.3" r="6.6"/><circle cx="593.9" cy="1354.6" r="6.7"/><circle cx="638.1" cy="1331.1" r="6.2"/><circle cx="547.3" cy="1480.5" r="6.7"/><circle cx="556.1" cy="1451.9" r="6.3"/><circle cx="636.6" cy="1335.7" r="6.2"/><circle cx="618.7" cy="1341.1" r="6.6"/><circle cx="644.7" cy="1364.8" r="5.9"/><circle cx="635" cy="1369.7" r="5.7"/><circle cx="523.6" cy="1462.7" r="6.3"/><circle cx="597" cy="1360.5" r="6.1"/><circle cx="620.2" cy="1353" r="6.6"/><circle cx="550.6" cy="1485.4" r="6.6"/><circle cx="648.3" cy="1324" r="6.4"/><circle cx="646" cy="1354.6" r="6.6"/><circle cx="539.8" cy="1479" r="6.1"/><circle cx="643.1" cy="1372" r="6.2"/><circle cx="578.5" cy="1376.3" r="6.1"/><circle cx="559.2" cy="1491.2" r="6.5"/><circle cx="600" cy="1399.8" r="6.5"/><circle cx="625.6" cy="1388.4" r="6.3"/><circle cx="600.3" cy="1365.2" r="6"/><circle cx="622" cy="1393.8" r="6.1"/><circle cx="599.9" cy="1354.5" r="6"/><circle cx="658.4" cy="1320.2" r="6"/><circle cx="564.2" cy="1416.3" r="6.7"/><circle cx="581.9" cy="1427.5" r="5.9"/><circle cx="630.1" cy="1382.9" r="6"/><circle cx="588.5" cy="1359.3" r="5.9"/><circle cx="622.5" cy="1382.7" r="6"/><circle cx="643.4" cy="1325.4" r="6.6"/><circle cx="619.9" cy="1400.2" r="5.8"/><circle cx="527.5" cy="1468.7" r="6.6"/><circle cx="592.4" cy="1364.7" r="6.4"/><circle cx="638.8" cy="1366.2" r="6.3"/><circle cx="621.6" cy="1336.5" r="6.2"/><circle cx="671.8" cy="1318.4" r="6.6"/><circle cx="618.9" cy="1331.7" r="6.7"/><circle cx="531.1" cy="1473.5" r="5.8"/><circle cx="566.8" cy="1458" r="5.7"/><circle cx="630.1" cy="1371.8" r="6.1"/><circle cx="632.4" cy="1331.7" r="5.9"/><circle cx="606.8" cy="1398.8" r="6.5"/><circle cx="563" cy="1484.6" r="6.1"/><circle cx="656.7" cy="1325.3" r="6.3"/><circle cx="613.3" cy="1411" r="6.6"/><circle cx="615.4" cy="1394.4" r="6.3"/><circle cx="559.5" cy="1481" r="6.5"/><circle cx="543.4" cy="1485.1" r="6.4"/><circle cx="625.4" cy="1375.8" r="6.1"/><circle cx="562.4" cy="1462.5" r="6.3"/><circle cx="540.1" cy="1469.1" r="6.1"/><circle cx="573.5" cy="1455.9" r="5.8"/><circle cx="559" cy="1469" r="6.2"/><circle cx="557.7" cy="1473.8" r="6.4"/><circle cx="564.2" cy="1429.1" r="5.8"/><circle cx="618.2" cy="1364.6" r="6.6"/><circle cx="572.1" cy="1409.9" r="6.3"/><circle cx="523.6" cy="1475.1" r="6.5"/><circle cx="592.6" cy="1423.4" r="5.7"/><circle cx="537.7" cy="1485.6" r="6"/><circle cx="670" cy="1393.1" r="6.1"/><circle cx="682.6" cy="1404.7" r="6.1"/><circle cx="680.5" cy="1359.6" r="6.1"/><circle cx="727.6" cy="1364.9" r="6.1"/><circle cx="718.2" cy="1374.3" r="6.1"/><circle cx="713" cy="1424.6" r="6.1"/><circle cx="698.3" cy="1436.1" r="6.1"/><circle cx="704.6" cy="1451.8" r="6.1"/><circle cx="707.7" cy="1474.9" r="6.1"/><circle cx="694.1" cy="1502.1" r="6.1"/><circle cx="623.9" cy="1511.5" r="6.1"/><circle cx="613.4" cy="1481.2" r="6.1"/><circle cx="627.1" cy="1470.7" r="6.1"/><circle cx="451.1" cy="1459.2" r="6.1"/><circle cx="462.6" cy="1461.2" r="6.1"/><circle cx="467.8" cy="1437.2" r="6.1"/><circle cx="500.3" cy="1391.1" r="6.1"/><circle cx="505.5" cy="1319.8" r="6.1"/><circle cx="599.8" cy="1310.4" r="6.1"/><circle cx="553.7" cy="1359.6" r="6.1"/><circle cx="524.4" cy="1378.5" r="6.1"/><circle cx="518.1" cy="1382.7" r="6.1"/><circle cx="682.3" cy="1314.4" r="4"/><circle cx="624.5" cy="1286.9" r="5"/><circle cx="608.2" cy="1303.8" r="3"/><circle cx="692.8" cy="1325.3" r="3"/><circle cx="736.1" cy="1321.2" r="4"/><circle cx="681" cy="1292" r="4"/><circle cx="699.7" cy="1342.4" r="5"/><circle cx="640.8" cy="1322.5" r="4"/><circle cx="726.3" cy="1338.8" r="3"/><circle cx="643.7" cy="1288.9" r="4"/><circle cx="689.5" cy="1312.8" r="3"/><circle cx="666.8" cy="1314.5" r="3"/><circle cx="701.4" cy="1291.5" r="5"/><circle cx="607.3" cy="1286.3" r="5"/><circle cx="732.1" cy="1287.9" r="3"/><circle cx="614.3" cy="1310.9" r="3"/><circle cx="696.7" cy="1325.5" r="5"/><circle cx="654.1" cy="1284" r="3"/><circle cx="679.5" cy="1297.2" r="3"/><circle cx="614.3" cy="1339.5" r="4"/><circle cx="617.5" cy="1336" r="4"/><circle cx="694.9" cy="1315" r="3"/><circle cx="683.9" cy="1300.6" r="3"/><circle cx="707.3" cy="1339.7" r="3"/><circle cx="710.9" cy="1322" r="3"/><circle cx="626.9" cy="1331.1" r="4"/><circle cx="613.6" cy="1302.3" r="4"/><circle cx="657.1" cy="1294.1" r="5"/><circle cx="654.4" cy="1322.7" r="5"/><circle cx="734" cy="1337.1" r="5"/><circle cx="624.2" cy="1315.7" r="4"/><circle cx="721.9" cy="1288.3" r="5"/><circle cx="715.8" cy="1349.1" r="5"/><circle cx="645.3" cy="1289.1" r="5"/><circle cx="691.4" cy="1324.4" r="3"/><circle cx="691" cy="1331.4" r="4"/></g>
<g fill="#3679ae"><circle cx="663.1" cy="1322.6" r="3"/><circle cx="613.6" cy="1295.1" r="3"/><circle cx="663.3" cy="1300.7" r="3"/><circle cx="738.5" cy="1344.2" r="5"/><circle cx="736.9" cy="1307.9" r="5"/><circle cx="715.4" cy="1297.8" r="4"/><circle cx="729" cy="1311.8" r="5"/><circle cx="707.7" cy="1343.1" r="4"/><circle cx="682.2" cy="1327.9" r="3"/><circle cx="727.5" cy="1308.7" r="5"/><circle cx="730.8" cy="1347.9" r="3"/><circle cx="682.9" cy="1324.4" r="4"/><circle cx="700.2" cy="1323.4" r="5"/><circle cx="707.2" cy="1282.4" r="4"/><circle cx="708.4" cy="1326.5" r="5"/><circle cx="676.1" cy="1310.8" r="3"/><circle cx="602.7" cy="1300.5" r="5"/><circle cx="629.7" cy="1323.2" r="5"/><circle cx="712.3" cy="1291.9" r="5"/><circle cx="636.5" cy="1283" r="3"/><circle cx="702.4" cy="1321.7" r="3"/><circle cx="612.5" cy="1316.6" r="5"/><circle cx="629.1" cy="1331.8" r="4"/><circle cx="717.2" cy="1299.6" r="4"/><circle cx="712.5" cy="1323.4" r="3"/><circle cx="737.8" cy="1306.2" r="5"/><circle cx="695.8" cy="1286.7" r="4"/><circle cx="672.4" cy="1319.8" r="5"/><circle cx="678.9" cy="1317.5" r="3"/><circle cx="703" cy="1319.5" r="5"/><circle cx="650.6" cy="1321.6" r="4"/><circle cx="647" cy="1324.2" r="3"/><circle cx="630.3" cy="1307.6" r="3"/><circle cx="702.4" cy="1305.1" r="5"/><circle cx="630" cy="1289.3" r="3"/><circle cx="739.7" cy="1302.7" r="5"/><circle cx="728.3" cy="1345.4" r="4"/><circle cx="652.8" cy="1306.5" r="3"/><circle cx="644.1" cy="1287.8" r="4"/></g>
<polyline points="389.2,1378.1 397,1384.8" stroke="#4ee034" stroke-width="10.9"/>
<polyline points="447.9,1430.4 447.9,1430.4" stroke="#4ee034" stroke-width="10.5"/>
<polyline points="455.2,1437.2 474.1,1449.7" stroke="#22701a" stroke-width="10.9"/>
<polyline points="479.3,1453.9 484.6,1457.1" stroke="#d8de38" stroke-width="9.6"/>
<polyline points="488.3,1458.1 488.4,1458.1" stroke="#da961c" stroke-width="8.4"/>
<polyline points="496.1,1465.4 496.1,1465.4" stroke="#22701a" stroke-width="9.6"/>
<polyline points="504.5,1469.6 504.5,1469.6" stroke="#d8de38" stroke-width="10.5"/>
<polyline points="512.9,1474.9 512.9,1474.9" stroke="#38ac28" stroke-width="10.1"/>
<polyline points="528.6,1483.2 539.1,1488.5" stroke="#22701a" stroke-width="10.1"/>
<polyline points="548.5,1492 557.9,1495.8" stroke="#4ee034" stroke-width="9.6"/>
<polyline points="518.1,1354.4 524.4,1359.6" stroke="#38ac28" stroke-width="10.1"/>
<polyline points="550.6,1376.8 550.6,1376.8" stroke="#56f038" stroke-width="9.6"/>
<polyline points="484.6,1429.8 484.6,1429.8" stroke="#56f038" stroke-width="10.5"/>
<polyline points="490.9,1490.2 490.9,1490.2" stroke="#3ebe2c" stroke-width="11.3"/>
<polyline points="509.7,1481.2 509.7,1481.2" stroke="#56f038" stroke-width="8.4"/>
<polyline points="456.3,1549.3 456.3,1549.3" stroke="#56f038" stroke-width="10.5"/>
<polyline points="476.2,1559.7 476.2,1559.7" stroke="#3ebe2c" stroke-width="11.7"/>
<polyline points="457.3,1560.8 476.2,1571.3" stroke="#56f038" stroke-width="3.8"/>
<polyline points="545.3,1521 545.4,1521" stroke="#56f038" stroke-width="10.5"/>
<polyline points="532.8,1518.9 541.2,1522" stroke="#56f038" stroke-width="4.2"/>
<polyline points="532.8,1546.1 532.8,1546.1" stroke="#56f038" stroke-width="9.2"/>
<polyline points="546.4,1557.6 556.9,1560.8" stroke="#56f038" stroke-width="3.8"/>
<polyline points="538,1578.6 547.4,1581.7" stroke="#56f038" stroke-width="1.7"/>
<polyline points="520.2,1543 526.5,1546.1" stroke="#56f038" stroke-width="1.7"/>
<polyline points="574.7,1473.8 581,1475.9" stroke="#56f038" stroke-width="1.7"/>
<polyline points="566.3,1426.7 574.7,1429.8" stroke="#56f038" stroke-width="1.7"/>
<polyline points="594.6,1381 594.6,1381" stroke="#56f038" stroke-width="6.3"/>
<polyline points="581,1365.9 585.2,1368" stroke="#56f038" stroke-width="2.1"/>
<polyline points="601.9,1359.6 608.2,1361.7" stroke="#56f038" stroke-width="2.1"/>
<polyline points="1247.2,1037.7 1268.2,1029.3 1280.8,1039.8" stroke="#308abe" stroke-width="25.1"/>
<polyline points="1251.4,1037.7 1270.3,1033.5" stroke="#2a98c8" stroke-width="14.7"/>
<polyline points="1247.2,1058.7 1234.7,1088 1226.3,1117.3" stroke="#308abe" stroke-width="31.4"/>
<polyline points="1243.1,1069.1 1234.7,1094.3" stroke="#2a98c8" stroke-width="16.8"/>
<polyline points="1213.7,1123.6 1217.9,1138.3" stroke="#308abe" stroke-width="12.6"/>
<polyline points="1345.7,1025.1 1341.5,1062.9 1335.3,1104.8" stroke="#308abe" stroke-width="10.5"/>
<polyline points="1343.6,1023 1343.6,1041.9" stroke="#2a98c8" stroke-width="8.4"/>
<polyline points="1188.6,1182.3 1199.1,1194.9 1213.7,1188.6" stroke="#308abe" stroke-width="12.6"/>
<polyline points="1209.5,1182.3 1226.3,1194.9" stroke="#308abe" stroke-width="12.6"/>
<polyline points="1251.4,1343.6 1243.1,1356.2" stroke="#308abe" stroke-width="12.6"/>
<polyline points="1268.2,1326.9 1278.7,1320.6" stroke="#308abe" stroke-width="12.6"/>
<g fill="#308abe"><circle cx="1270" cy="1139.3" r="6.3"/><circle cx="1263.1" cy="1139.9" r="6.4"/><circle cx="1274.5" cy="1239.8" r="6.8"/><circle cx="1253.6" cy="1214.6" r="6.6"/><circle cx="1357.5" cy="1209.4" r="6.3"/><circle cx="1269.5" cy="1315.3" r="6.2"/><circle cx="1249.4" cy="1175.2" r="6.7"/><circle cx="1299.5" cy="1157.7" r="6.6"/><circle cx="1290.5" cy="1186.2" r="6.7"/><circle cx="1308.4" cy="1262.1" r="6.1"/><circle cx="1287.2" cy="1227.1" r="6.2"/><circle cx="1276.3" cy="1234" r="6"/><circle cx="1350.6" cy="1245.7" r="6.2"/><circle cx="1286.4" cy="1239.8" r="6.8"/><circle cx="1243.4" cy="1209.5" r="6.1"/><circle cx="1294.5" cy="1216.8" r="6"/><circle cx="1365.9" cy="1174.3" r="6.5"/><circle cx="1340.7" cy="1250.7" r="6.6"/><circle cx="1280.4" cy="1298.7" r="6.1"/><circle cx="1314.9" cy="1227.7" r="6.3"/><circle cx="1301.3" cy="1262.3" r="6.7"/><circle cx="1296.7" cy="1210" r="6.3"/><circle cx="1327.2" cy="1273.8" r="6"/><circle cx="1328.8" cy="1181.1" r="5.9"/><circle cx="1368.3" cy="1167.3" r="6.2"/><circle cx="1335.1" cy="1275.3" r="6.7"/><circle cx="1265.8" cy="1240.2" r="6.3"/><circle cx="1260.1" cy="1226.8" r="6.8"/><circle cx="1340.8" cy="1240.3" r="6"/><circle cx="1314.7" cy="1299" r="6.2"/><circle cx="1361.5" cy="1238.5" r="5.9"/><circle cx="1273.6" cy="1322.3" r="6.8"/><circle cx="1325.3" cy="1149.7" r="6.1"/><circle cx="1297.7" cy="1222.3" r="6.1"/><circle cx="1352.7" cy="1257.1" r="6.3"/><circle cx="1304" cy="1139.2" r="6.2"/><circle cx="1331.9" cy="1209.3" r="6.7"/><circle cx="1263.2" cy="1222" r="6.2"/><circle cx="1310.9" cy="1292.7" r="6.4"/><circle cx="1352.7" cy="1199" r="6.2"/><circle cx="1250.1" cy="1210.2" r="6.8"/><circle cx="1299.6" cy="1191.7" r="6.9"/><circle cx="1283" cy="1233.8" r="6.7"/><circle cx="1294.2" cy="1299.2" r="6.9"/><circle cx="1290.2" cy="1222.2" r="6.7"/><circle cx="1263.5" cy="1327.9" r="5.9"/><circle cx="1362.1" cy="1145.7" r="6.6"/><circle cx="1263.5" cy="1245.3" r="5.9"/><circle cx="1252.6" cy="1333.7" r="6.9"/><circle cx="1289.7" cy="1233.9" r="6.1"/><circle cx="1306.7" cy="1286.6" r="6.2"/><circle cx="1287.6" cy="1298.2" r="6.4"/><circle cx="1313.7" cy="1145.3" r="6.5"/><circle cx="1300" cy="1144.9" r="6.4"/><circle cx="1365.3" cy="1209.9" r="6.7"/><circle cx="1351.2" cy="1151.1" r="6.7"/><circle cx="1267.2" cy="1133.5" r="6.8"/><circle cx="1367.4" cy="1156.4" r="6.7"/><circle cx="1266.8" cy="1192.8" r="6.3"/><circle cx="1372.5" cy="1232.4" r="6.8"/><circle cx="1321.9" cy="1286.4" r="6.2"/><circle cx="1321.5" cy="1263.4" r="6.8"/><circle cx="1367.9" cy="1181" r="6.2"/><circle cx="1304.2" cy="1293.5" r="6.3"/><circle cx="1333.8" cy="1239.1" r="6.3"/><circle cx="1290.6" cy="1151.3" r="6.1"/><circle cx="1276.8" cy="1315.5" r="6.9"/><circle cx="1269.8" cy="1339.2" r="6.7"/><circle cx="1287.3" cy="1215.1" r="6.7"/><circle cx="1359" cy="1175.5" r="6.7"/><circle cx="1272.9" cy="1334.9" r="6.5"/><circle cx="1276" cy="1244.4" r="6.4"/><circle cx="1257" cy="1233.8" r="6.4"/><circle cx="1323.3" cy="1268.2" r="6.8"/><circle cx="1292.8" cy="1145.2" r="6.8"/><circle cx="1253.5" cy="1203.3" r="6.1"/><circle cx="1273.2" cy="1227.1" r="6.1"/><circle cx="1354.6" cy="1143.6" r="6.8"/><circle cx="1246.1" cy="1214.8" r="6.3"/><circle cx="1256.9" cy="1329" r="6.4"/><circle cx="1334.7" cy="1251.3" r="6.3"/><circle cx="1311.6" cy="1280.2" r="6"/><circle cx="1300.3" cy="1250.4" r="6"/><circle cx="1334.1" cy="1181.4" r="6.8"/><circle cx="1360.7" cy="1168.7" r="6.2"/><circle cx="1260.4" cy="1132.3" r="6.7"/><circle cx="1354.4" cy="1216" r="6.8"/><circle cx="1265.9" cy="1334.2" r="6.5"/><circle cx="1259.8" cy="1239.7" r="6.4"/><circle cx="1286.5" cy="1145.2" r="6.5"/><circle cx="1371.2" cy="1245.7" r="6.7"/><circle cx="1352.4" cy="1173.4" r="6.2"/><circle cx="1293.9" cy="1202.7" r="6"/><circle cx="1249.8" cy="1234.4" r="6.6"/><circle cx="1279.6" cy="1215.4" r="6.5"/><circle cx="1328.7" cy="1156.4" r="6.6"/><circle cx="1284" cy="1281.6" r="6.3"/><circle cx="1289.7" cy="1304.3" r="6.2"/><circle cx="1358" cy="1221.3" r="6.6"/><circle cx="1345.3" cy="1150" r="6.2"/><circle cx="1313.9" cy="1251.4" r="6.2"/><circle cx="1336.9" cy="1269.6" r="6.5"/><circle cx="1331.1" cy="1244.7" r="6.9"/><circle cx="1296.6" cy="1174.6" r="6.4"/><circle cx="1299.6" cy="1287.9" r="6.8"/><circle cx="1269.4" cy="1233.7" r="6.3"/><circle cx="1320.6" cy="1274.5" r="6.3"/><circle cx="1299.5" cy="1179.8" r="6.4"/><circle cx="1327.5" cy="1214.8" r="6.8"/><circle cx="1339.1" cy="1256.6" r="6.7"/><circle cx="1348.6" cy="1252.3" r="6.5"/><circle cx="1343.9" cy="1256.2" r="6.1"/><circle cx="1284.1" cy="1244.9" r="6.1"/><circle cx="1264.3" cy="1209.5" r="6.4"/><circle cx="1298" cy="1197.3" r="6.9"/><circle cx="1297.6" cy="1186.5" r="6.2"/><circle cx="1279.7" cy="1228.7" r="6.1"/><circle cx="1344.4" cy="1245" r="6"/><circle cx="1310.4" cy="1138.2" r="6"/><circle cx="1328.9" cy="1287" r="6.1"/><circle cx="1371.9" cy="1220.8" r="6.9"/><circle cx="1263.9" cy="1151.7" r="6.1"/><circle cx="1307.9" cy="1144" r="6.4"/><circle cx="1289.8" cy="1244.6" r="6.1"/><circle cx="1252.6" cy="1191.3" r="6.2"/><circle cx="1284.5" cy="1305.2" r="5.9"/><circle cx="1256.1" cy="1340.9" r="6.1"/><circle cx="1337.1" cy="1151.6" r="6.5"/><circle cx="1267.4" cy="1144.3" r="6.3"/><circle cx="1248.9" cy="1221.9" r="6.4"/><circle cx="1255.8" cy="1174.3" r="6.4"/><circle cx="1270.4" cy="1197.8" r="6.5"/><circle cx="1369.7" cy="1227.8" r="6"/><circle cx="1290.6" cy="1292" r="6.9"/><circle cx="1325.3" cy="1163.2" r="6.5"/><circle cx="1252.9" cy="1227.5" r="6.2"/><circle cx="1258.6" cy="1180.6" r="6.4"/><circle cx="1331.3" cy="1269.4" r="6"/><circle cx="1293.5" cy="1180.3" r="6.5"/><circle cx="1319.8" cy="1215.5" r="6"/><circle cx="1253.5" cy="1238.5" r="6.7"/><circle cx="1283.4" cy="1316" r="6.6"/><circle cx="1290.9" cy="1138.3" r="6.5"/><circle cx="1298.1" cy="1139.1" r="6.4"/><circle cx="1327.5" cy="1167.7" r="6.3"/><circle cx="1327.5" cy="1227" r="6.5"/><circle cx="1300.9" cy="1215" r="6.6"/><circle cx="1256.7" cy="1140" r="6.4"/><circle cx="1310.6" cy="1197.9" r="6.3"/><circle cx="1303.7" cy="1173.1" r="6.5"/><circle cx="1355.8" cy="1181" r="6.1"/><circle cx="1311.1" cy="1269.4" r="6.4"/><circle cx="1257" cy="1244.3" r="6.5"/><circle cx="1307.7" cy="1167.6" r="6.4"/><circle cx="1325.5" cy="1279.9" r="6"/><circle cx="1283.4" cy="1256.1" r="6.3"/><circle cx="1296.3" cy="1292.5" r="6.8"/><circle cx="1361.1" cy="1156.6" r="6.7"/><circle cx="1290.3" cy="1209.5" r="6.8"/><circle cx="1290.9" cy="1268.6" r="6.3"/><circle cx="1276.1" cy="1209.5" r="6.5"/><circle cx="1342.3" cy="1168.3" r="6.5"/><circle cx="1286" cy="1286.5" r="5.9"/><circle cx="1330.8" cy="1258" r="6.1"/><circle cx="1234.9" cy="1186.8" r="6.6"/><circle cx="1327.9" cy="1240.6" r="6.7"/><circle cx="1357.9" cy="1246.4" r="6.1"/><circle cx="1290.4" cy="1175.3" r="6.1"/><circle cx="1252.5" cy="1145.7" r="6.1"/><circle cx="1242.2" cy="1197.3" r="5.9"/><circle cx="1300.2" cy="1204.1" r="5.9"/><circle cx="1276.2" cy="1329.3" r="6.4"/><circle cx="1269.6" cy="1327.1" r="6.4"/><circle cx="1286.7" cy="1309.7" r="6.4"/><circle cx="1287.6" cy="1250.2" r="6.2"/><circle cx="1353.8" cy="1156.5" r="6.6"/><circle cx="1289.3" cy="1198.3" r="6.8"/><circle cx="1365.5" cy="1162.2" r="6.1"/><circle cx="1314.4" cy="1287.9" r="6.1"/></g>
<g fill="#26a4d0"><circle cx="1320.6" cy="1179.1" r="6"/><circle cx="1260.9" cy="1204.5" r="6.3"/><circle cx="1356" cy="1167.3" r="6.2"/><circle cx="1298.1" cy="1234.4" r="6.3"/><circle cx="1294" cy="1252.3" r="6"/><circle cx="1249.8" cy="1150.5" r="6.6"/><circle cx="1332" cy="1151.2" r="6.7"/><circle cx="1335.6" cy="1168.6" r="6.2"/><circle cx="1303.8" cy="1234.5" r="6.2"/><circle cx="1319.8" cy="1191" r="6.1"/><circle cx="1313.3" cy="1191.8" r="6.3"/><circle cx="1246.7" cy="1204.5" r="6.1"/><circle cx="1323.3" cy="1233.2" r="6.1"/><circle cx="1297.5" cy="1245.8" r="6.3"/><circle cx="1273.6" cy="1216" r="6.5"/><circle cx="1287.2" cy="1263.7" r="6.3"/><circle cx="1294.7" cy="1263.9" r="6.9"/><circle cx="1344.7" cy="1163.4" r="6.4"/><circle cx="1326.8" cy="1191.6" r="6.1"/><circle cx="1304.5" cy="1221.5" r="6.6"/><circle cx="1306.8" cy="1216" r="6.4"/><circle cx="1305" cy="1197.2" r="5.9"/><circle cx="1313.6" cy="1168" r="6.8"/><circle cx="1301.3" cy="1274.8" r="6.4"/><circle cx="1288" cy="1155.6" r="6"/><circle cx="1248.9" cy="1198.7" r="6.6"/><circle cx="1297.4" cy="1281.6" r="6.1"/><circle cx="1303.1" cy="1269.7" r="6.2"/><circle cx="1306.3" cy="1251.3" r="6.1"/><circle cx="1361.3" cy="1228.3" r="6.9"/><circle cx="1364.6" cy="1187.2" r="6.6"/><circle cx="1304.9" cy="1151.3" r="6.7"/><circle cx="1320.5" cy="1168.9" r="6.3"/><circle cx="1294.7" cy="1240" r="5.9"/><circle cx="1279.7" cy="1310.8" r="6.4"/><circle cx="1314.1" cy="1179.6" r="5.9"/><circle cx="1245" cy="1192.4" r="6.6"/><circle cx="1262" cy="1185.1" r="6.2"/><circle cx="1321.9" cy="1203.2" r="6.1"/><circle cx="1310.3" cy="1256.1" r="6.2"/><circle cx="1341.7" cy="1155.9" r="5.9"/><circle cx="1300.8" cy="1227.8" r="6.9"/><circle cx="1310.6" cy="1245.1" r="5.9"/><circle cx="1291.4" cy="1258.1" r="5.9"/><circle cx="1257.4" cy="1210.1" r="6.2"/></g>
<g fill="#2a98c8"><circle cx="1317.7" cy="1209.8" r="6.2"/><circle cx="1272.7" cy="1145.1" r="6.8"/><circle cx="1324.9" cy="1198.5" r="6.1"/><circle cx="1266" cy="1227" r="6.4"/><circle cx="1313.5" cy="1263.2" r="6.5"/><circle cx="1351.8" cy="1162.3" r="6.2"/><circle cx="1313.1" cy="1275.5" r="6.1"/><circle cx="1258.6" cy="1333.3" r="6.2"/><circle cx="1318.1" cy="1161.5" r="6.8"/><circle cx="1309.9" cy="1233.2" r="6.6"/><circle cx="1270.5" cy="1222.1" r="6.1"/><circle cx="1305.1" cy="1162.9" r="6.6"/><circle cx="1364.7" cy="1233.9" r="6.1"/><circle cx="1306.3" cy="1227.8" r="6.7"/><circle cx="1292.8" cy="1227.9" r="6.4"/><circle cx="1258.9" cy="1322.9" r="6.5"/><circle cx="1323.9" cy="1293.3" r="6.7"/><circle cx="1256.9" cy="1149.5" r="6.7"/><circle cx="1325.5" cy="1209.1" r="6.9"/><circle cx="1357.5" cy="1199.2" r="6.1"/><circle cx="1330.6" cy="1197.9" r="6.9"/><circle cx="1304.2" cy="1244.2" r="5.9"/><circle cx="1273.3" cy="1311" r="6.8"/><circle cx="1362.3" cy="1216" r="6.2"/><circle cx="1320" cy="1240.1" r="6.6"/><circle cx="1284.2" cy="1151.4" r="6.1"/><circle cx="1306.3" cy="1180.3" r="6"/><circle cx="1330.1" cy="1280.9" r="6.6"/><circle cx="1335.2" cy="1155.6" r="6.4"/><circle cx="1303.9" cy="1211" r="6.8"/><circle cx="1362.7" cy="1192.7" r="6.9"/><circle cx="1267.7" cy="1309.3" r="6.5"/><circle cx="1259" cy="1216.3" r="6.1"/><circle cx="1303.2" cy="1186.3" r="6.5"/><circle cx="1267.3" cy="1156.8" r="6.1"/><circle cx="1297.6" cy="1151.3" r="6.8"/><circle cx="1311.1" cy="1174.4" r="6.9"/><circle cx="1262.3" cy="1198.4" r="6.4"/><circle cx="1324.2" cy="1174.7" r="6.8"/><circle cx="1341.4" cy="1144.3" r="6.4"/><circle cx="1283.6" cy="1163.5" r="6.4"/><circle cx="1347.3" cy="1144.6" r="6.8"/><circle cx="1277.2" cy="1150" r="6.5"/><circle cx="1256.1" cy="1185.4" r="6.2"/><circle cx="1361.6" cy="1181.2" r="6.8"/><circle cx="1277.9" cy="1293.4" r="6.3"/><circle cx="1283" cy="1292.8" r="6"/><circle cx="1310.7" cy="1186.2" r="6.7"/><circle cx="1328" cy="1263.6" r="6.9"/><circle cx="1369.1" cy="1239.7" r="6.3"/><circle cx="1348.7" cy="1156.1" r="6.8"/><circle cx="1326.6" cy="1144.5" r="6.3"/><circle cx="1314" cy="1157.3" r="6.3"/><circle cx="1296.5" cy="1258" r="6.6"/><circle cx="1324" cy="1221.3" r="6.4"/><circle cx="1240.2" cy="1191.6" r="6.5"/><circle cx="1311.2" cy="1209.5" r="6"/><circle cx="1243.5" cy="1174.3" r="6.3"/><circle cx="1280.8" cy="1155.8" r="6.1"/><circle cx="1300.8" cy="1169.1" r="6.5"/><circle cx="1277.2" cy="1139.5" r="6.1"/><circle cx="1249.1" cy="1186.7" r="6.7"/><circle cx="1354.3" cy="1192.6" r="6.5"/><circle cx="1338.8" cy="1244.3" r="6"/><circle cx="1283.9" cy="1139.3" r="6.4"/><circle cx="1267.6" cy="1203.4" r="6.3"/><circle cx="1264.1" cy="1339.7" r="6.7"/><circle cx="1269.7" cy="1245.2" r="6.3"/><circle cx="1334.2" cy="1145.7" r="6.1"/><circle cx="1366.1" cy="1244.2" r="6.9"/><circle cx="1317" cy="1233.2" r="6.5"/><circle cx="1327.2" cy="1204.3" r="6.4"/><circle cx="1366" cy="1150.2" r="6"/><circle cx="1317.5" cy="1222.4" r="6.8"/><circle cx="1263.1" cy="1232.8" r="6.8"/><circle cx="1355" cy="1204.9" r="6.4"/><circle cx="1337.4" cy="1162.8" r="6.3"/><circle cx="1307" cy="1275" r="6.5"/><circle cx="1359" cy="1233.5" r="5.9"/><circle cx="1324.1" cy="1246.2" r="6.1"/><circle cx="1311.7" cy="1151.2" r="6.5"/><circle cx="1323.3" cy="1256.5" r="6.7"/><circle cx="1367.5" cy="1192.9" r="6.4"/><circle cx="1253.8" cy="1133.9" r="6.6"/><circle cx="1277.4" cy="1220.7" r="6"/><circle cx="1267.4" cy="1321.1" r="6.2"/><circle cx="1274.4" cy="1156.6" r="6.4"/><circle cx="1259.3" cy="1155.8" r="6.7"/><circle cx="1307.8" cy="1191.5" r="6"/><circle cx="1334.3" cy="1262" r="6.7"/><circle cx="1295" cy="1287.1" r="6.3"/><circle cx="1293.2" cy="1274" r="6.8"/><circle cx="1365.4" cy="1220.9" r="6.6"/><circle cx="1332.1" cy="1163.1" r="6.1"/><circle cx="1368.7" cy="1215.2" r="6.8"/><circle cx="1240.2" cy="1181" r="6.4"/><circle cx="1314" cy="1215.5" r="6.3"/><circle cx="1330.3" cy="1187.4" r="6.4"/><circle cx="1254.1" cy="1156.2" r="6.8"/><circle cx="1311.7" cy="1222.1" r="6.5"/><circle cx="1270.1" cy="1209.1" r="6.3"/><circle cx="1280.9" cy="1239.2" r="6.7"/><circle cx="1313.5" cy="1238.6" r="5.9"/><circle cx="1245.6" cy="1180.4" r="6.4"/><circle cx="1321.4" cy="1251.1" r="6.3"/><circle cx="1279.1" cy="1144.9" r="6.1"/><circle cx="1332.3" cy="1174.9" r="6.6"/><circle cx="1303.2" cy="1280.3" r="6.5"/><circle cx="1321.4" cy="1227.2" r="6.5"/><circle cx="1293" cy="1157.8" r="6.4"/><circle cx="1294.5" cy="1167.9" r="6.3"/><circle cx="1316.8" cy="1245.9" r="6"/><circle cx="1318.7" cy="1256.8" r="6.7"/><circle cx="1324.6" cy="1185.7" r="6.2"/><circle cx="1277.4" cy="1163.4" r="6.4"/><circle cx="1317.5" cy="1291.6" r="6.1"/><circle cx="1308.5" cy="1155.5" r="6"/><circle cx="1294.5" cy="1192.3" r="6.6"/><circle cx="1299.7" cy="1240.6" r="6.6"/><circle cx="1298.3" cy="1163.3" r="6.2"/><circle cx="1258.9" cy="1191.1" r="6.2"/><circle cx="1328" cy="1251.5" r="6.3"/><circle cx="1303.9" cy="1258" r="6.8"/><circle cx="1269.2" cy="1303.7" r="6.3"/><circle cx="1242.6" cy="1185.9" r="6.8"/><circle cx="1308.3" cy="1239.9" r="6.2"/><circle cx="1266.3" cy="1181.3" r="6.3"/><circle cx="1322.1" cy="1156.7" r="6.6"/><circle cx="1317.5" cy="1186.2" r="6.2"/><circle cx="1364.8" cy="1198.6" r="6.6"/><circle cx="1318.7" cy="1198" r="6.5"/><circle cx="1255.4" cy="1197.4" r="6.4"/><circle cx="1276.2" cy="1305.2" r="6.9"/><circle cx="1290.4" cy="1280.8" r="6.2"/><circle cx="1316.6" cy="1150" r="6.9"/><circle cx="1311.2" cy="1161.6" r="6.2"/><circle cx="1316.7" cy="1281.5" r="6.6"/><circle cx="1318.1" cy="1269" r="6.2"/><circle cx="1280" cy="1321.8" r="6"/><circle cx="1267.1" cy="1215.8" r="6.9"/><circle cx="1357.6" cy="1185" r="6.8"/><circle cx="1315.1" cy="1203.2" r="6.8"/><circle cx="1297.6" cy="1268.6" r="6.6"/><circle cx="1259.2" cy="1145.7" r="6.5"/><circle cx="1347.2" cy="1167.4" r="6.5"/><circle cx="1358.7" cy="1150.9" r="6.2"/><circle cx="1256.8" cy="1220.9" r="6.3"/><circle cx="1361.6" cy="1203.2" r="6.2"/><circle cx="1308.4" cy="1204.4" r="6.2"/><circle cx="1289.8" cy="1163.6" r="6.6"/><circle cx="1358.9" cy="1163.2" r="6.3"/><circle cx="1282.7" cy="1222.2" r="6.6"/><circle cx="1317.1" cy="1173.9" r="6.1"/><circle cx="1321.4" cy="1145.7" r="6.6"/><circle cx="1340.8" cy="1263.3" r="6.3"/><circle cx="1251.9" cy="1180.3" r="6.6"/><circle cx="1369.5" cy="1204.9" r="6.6"/><circle cx="1272.9" cy="1204.8" r="6.6"/><circle cx="1286.9" cy="1275" r="6.2"/><circle cx="1270.4" cy="1150.3" r="6.2"/><circle cx="1264.1" cy="1315.3" r="5.9"/></g>
<g fill="#1a1a1a">
<ellipse cx="1276.6" cy="1184.4" rx="3.8" ry="6.3"/>
<ellipse cx="1340.5" cy="1207.4" rx="2.9" ry="23.5"/>
<ellipse cx="1345.7" cy="1231.5" rx="5.4" ry="3.4"/>
<ellipse cx="1272.4" cy="1291.3" rx="1.5" ry="7.5"/>
</g>
<polyline points="1245.2,1117.3 1251.4,1142.5" stroke="#3ebe2c" stroke-width="12.6"/>
<polyline points="1250.4,1136.2 1250.4,1136.2" stroke="#2a861e" stroke-width="7.1"/>
<polyline points="1257.7,1142.5 1278.7,1155.1" stroke="#4ee034" stroke-width="8.4"/>
<polyline points="1268.2,1146.7 1280.8,1155.1" stroke="#56f038" stroke-width="6.3"/>
<polyline points="1318.1,1138.7 1318.1,1138.7" stroke="#38ac28" stroke-width="11.5"/>
<polyline points="1220,1083.8 1221.1,1104.8" stroke="#4ee034" stroke-width="6.3"/>
<polyline points="1304.9,1201.2 1301.7,1211.6" stroke="#56f038" stroke-width="5.4"/>
<polyline points="1295.4,1211.6 1289.2,1230.5" stroke="#56f038" stroke-width="9.6"/>
<polyline points="1287.1,1232.6 1276.6,1255.6" stroke="#56f038" stroke-width="4.6"/>
<polyline points="1308,1184.4 1307,1188.6" stroke="#56f038" stroke-width="4.2"/>
<polyline points="1271.3,1261.9 1266.5,1274.5" stroke="#f0f040" stroke-width="6.3"/>
<polyline points="1276.6,1264 1273.4,1272.4" stroke="#22701a" stroke-width="4.2"/>
<polyline points="1261.9,1282.9 1251.4,1299.6" stroke="#4ee034" stroke-width="8"/>
<polyline points="1249.3,1301.7 1241,1312.2" stroke="#38ac28" stroke-width="8"/>
<polyline points="1238.9,1316.4 1232.6,1322.7" stroke="#22701a" stroke-width="8"/>
<polyline points="1228.4,1326.9 1228.4,1326.9" stroke="#56f038" stroke-width="7.1"/>
<polyline points="1249.3,1339.4 1245.2,1345.7" stroke="#56f038" stroke-width="3.8"/>
<polyline points="1264,1312.2 1260.9,1317.4" stroke="#56f038" stroke-width="2.1"/>
<polyline points="1268.2,1205.3 1265.1,1211.6" stroke="#56f038" stroke-width="1.7"/>
<polyline points="1352,1165.5 1349.9,1173.9" stroke="#56f038" stroke-width="1.7"/>
<polyline points="1340.5,1065 1341.5,1068.1" stroke="#56f038" stroke-width="3.4"/>
<g fill="#308abe"><circle cx="1155.1" cy="1339.4" r="6.9"/><circle cx="1161.3" cy="1343.6" r="6.9"/><circle cx="1205.3" cy="1356.2" r="6.9"/><circle cx="1243.1" cy="1364.6" r="6.9"/><circle cx="1354.1" cy="1364.6" r="6.9"/><circle cx="1308" cy="1310.1" r="6.9"/><circle cx="1293.3" cy="1333.2" r="6.9"/><circle cx="1308" cy="1333.2" r="6.9"/><circle cx="1184.4" cy="1373" r="6.9"/><circle cx="1246.2" cy="1392.9" r="6.9"/><circle cx="1153" cy="1045" r="6.9"/><circle cx="1009.4" cy="1181.2" r="6.9"/><circle cx="1033.5" cy="1205.3" r="6.9"/><circle cx="1052.4" cy="1198" r="6.9"/><circle cx="1051.3" cy="1220" r="6.9"/><circle cx="1159.2" cy="1198" r="6.9"/><circle cx="1189.6" cy="1215.8" r="6.9"/><circle cx="1331.1" cy="1121.5" r="6.9"/><circle cx="1333.2" cy="1274.5" r="6.9"/></g>
<polyline points="1094.3,1209.5 1079.6,1230.5 1069.1,1241" stroke="#308abe" stroke-width="21"/>
<polyline points="1052.4,1257.7 1069.1,1272.4 1062.9,1289.2" stroke="#308abe" stroke-width="18.9"/>
<polyline points="1021,1259.8 1033.5,1270.3" stroke="#308abe" stroke-width="12.6"/>
<polyline points="1104.8,1230.5 1125.7,1220 1146.7,1220" stroke="#308abe" stroke-width="16.8"/>
<polyline points="1136.2,1209.5 1178.1,1230.5 1199.1,1236.8" stroke="#308abe" stroke-width="27.2"/>
<polyline points="1163.4,1241 1188.6,1261.9 1178.1,1272.4" stroke="#308abe" stroke-width="29.3"/>
<polyline points="1188.6,1215.8 1195.9,1222.1" stroke="#308abe" stroke-width="14.7"/>
<polyline points="1167.6,1230.5 1184.4,1247.2" stroke="#2a98c8" stroke-width="16.8"/>
<polyline points="1094.3,1251.4 1109,1272.4" stroke="#308abe" stroke-width="27.2"/>
<polyline points="1146.7,1270.3 1167.6,1278.7 1188.6,1278.7" stroke="#308abe" stroke-width="18.9"/>
<polyline points="1205.3,1264 1217.9,1261.9" stroke="#308abe" stroke-width="12.6"/>
<polyline points="1232.6,1264 1247.2,1259.8" stroke="#308abe" stroke-width="12.6"/>
<polyline points="1062.9,1305.9 1079.6,1310.1" stroke="#308abe" stroke-width="21"/>
<polyline points="1014.7,1377.2 1014.7,1377.2" stroke="#308abe" stroke-width="23"/>
<polyline points="1014.7,1377.2 1014.7,1377.2" stroke="#2a98c8" stroke-width="16.8"/>
<polyline points="1167.6,1393.9 1186.5,1377.2" stroke="#308abe" stroke-width="10.5"/>
<g fill="#308abe"><circle cx="1120.3" cy="1311.9" r="5.4"/><circle cx="1079.7" cy="1362.6" r="5.4"/><circle cx="1088.4" cy="1375.8" r="5.3"/><circle cx="1082.1" cy="1316.3" r="5.7"/><circle cx="1139.7" cy="1365.6" r="5.7"/><circle cx="1092" cy="1286.4" r="5.2"/><circle cx="1073.8" cy="1341.6" r="5.3"/><circle cx="1128" cy="1406.4" r="5.2"/><circle cx="1119.6" cy="1332.3" r="5.4"/><circle cx="1114.5" cy="1299.8" r="5.7"/><circle cx="1107.3" cy="1391.9" r="5.9"/><circle cx="1121.5" cy="1317.2" r="6"/><circle cx="1124.3" cy="1412" r="5.2"/><circle cx="1079.6" cy="1300" r="5.5"/><circle cx="1140.1" cy="1345.2" r="5.6"/><circle cx="1102.9" cy="1401.7" r="5.5"/><circle cx="1099.1" cy="1386.7" r="5.9"/><circle cx="1096.7" cy="1382.6" r="5.9"/><circle cx="1142.5" cy="1370.6" r="5.7"/><circle cx="1115.6" cy="1316.1" r="5.6"/><circle cx="1119.5" cy="1401.6" r="5.3"/><circle cx="1147.9" cy="1351" r="5.8"/><circle cx="1125.2" cy="1331.1" r="5.2"/><circle cx="1123.9" cy="1382.5" r="5.9"/><circle cx="1087.1" cy="1295.5" r="6"/><circle cx="1091" cy="1291.5" r="5.2"/><circle cx="1112.3" cy="1291" r="5.9"/><circle cx="1073.5" cy="1331.8" r="5.7"/><circle cx="1113.1" cy="1402.3" r="5.3"/><circle cx="1103.8" cy="1295.2" r="5.8"/><circle cx="1113.1" cy="1412.5" r="5.5"/><circle cx="1079.3" cy="1350.7" r="5.4"/><circle cx="1103.8" cy="1406.2" r="5.5"/><circle cx="1128" cy="1387.9" r="6"/><circle cx="1145.6" cy="1355.4" r="5.6"/><circle cx="1075.7" cy="1306" r="5.2"/><circle cx="1085.3" cy="1291.1" r="5.8"/><circle cx="1116.9" cy="1306.4" r="5.5"/></g>
<g fill="#4ee034"><circle cx="1136.6" cy="1351.1" r="5.3"/><circle cx="1084.1" cy="1331.5" r="5.3"/><circle cx="1137.6" cy="1362.7" r="5.6"/><circle cx="1090.3" cy="1301.6" r="5.6"/><circle cx="1102.7" cy="1361.8" r="6"/><circle cx="1109.5" cy="1377.8" r="5.9"/><circle cx="1109.9" cy="1336.1" r="5.9"/><circle cx="1120.2" cy="1371.8" r="6"/><circle cx="1128.4" cy="1366" r="5.5"/><circle cx="1102.8" cy="1372.5" r="5.9"/><circle cx="1102.4" cy="1381.1" r="6"/><circle cx="1116.6" cy="1396.4" r="5.7"/><circle cx="1105.9" cy="1306.6" r="5.7"/><circle cx="1086.6" cy="1304.9" r="5.3"/><circle cx="1093.4" cy="1306" r="6"/><circle cx="1099.6" cy="1367.7" r="5.2"/><circle cx="1099.1" cy="1375.8" r="5.3"/><circle cx="1121.7" cy="1367.1" r="5.3"/><circle cx="1122.7" cy="1385.6" r="5.6"/><circle cx="1089.2" cy="1310.6" r="5.2"/><circle cx="1096.1" cy="1300.6" r="5.9"/><circle cx="1093.4" cy="1366.5" r="5.8"/><circle cx="1117.2" cy="1367.3" r="5.7"/><circle cx="1105.1" cy="1367.3" r="5.2"/><circle cx="1091.3" cy="1320.6" r="5.5"/><circle cx="1127.5" cy="1355.4" r="5.5"/><circle cx="1090.4" cy="1332.1" r="5.6"/><circle cx="1106.8" cy="1382.5" r="5.7"/><circle cx="1106.8" cy="1362.3" r="5.8"/><circle cx="1115.8" cy="1346.7" r="5.9"/><circle cx="1111.1" cy="1366.3" r="5.9"/><circle cx="1097" cy="1371.6" r="5.6"/><circle cx="1083.4" cy="1320.3" r="5.4"/><circle cx="1094.1" cy="1357.2" r="5.5"/><circle cx="1133.7" cy="1356.4" r="5.2"/><circle cx="1115.6" cy="1376" r="5.5"/><circle cx="1102.3" cy="1301.4" r="5.9"/><circle cx="1098.5" cy="1305" r="5.2"/><circle cx="1095.7" cy="1311" r="5.7"/><circle cx="1133.4" cy="1367.3" r="5.7"/><circle cx="1113.1" cy="1370.4" r="5.8"/></g>
<g fill="#2a98c8"><circle cx="1133.7" cy="1417.1" r="5.2"/><circle cx="1130.8" cy="1381" r="5.6"/><circle cx="1093" cy="1386.1" r="5.3"/><circle cx="1085.3" cy="1361.5" r="5.5"/><circle cx="1095.9" cy="1390.9" r="5.2"/><circle cx="1122.3" cy="1306.8" r="5.5"/><circle cx="1138.4" cy="1377" r="5.7"/><circle cx="1136.3" cy="1391.9" r="5.4"/><circle cx="1082.1" cy="1356.8" r="5.4"/><circle cx="1082.4" cy="1365.4" r="5.8"/><circle cx="1120.4" cy="1413.1" r="5.5"/><circle cx="1094" cy="1396.1" r="5.3"/><circle cx="1096.6" cy="1290.5" r="5.2"/><circle cx="1136.7" cy="1380.7" r="5.2"/><circle cx="1138.7" cy="1407.7" r="5.2"/><circle cx="1094" cy="1375.6" r="5.8"/><circle cx="1127.9" cy="1347.4" r="5.6"/><circle cx="1107.5" cy="1301.1" r="5.4"/><circle cx="1131.7" cy="1372.5" r="5.5"/><circle cx="1075.8" cy="1335.2" r="5.4"/><circle cx="1132.9" cy="1375.7" r="5.6"/><circle cx="1089.2" cy="1382.4" r="5.9"/><circle cx="1139.9" cy="1397.1" r="5.8"/><circle cx="1115.5" cy="1407" r="5.7"/><circle cx="1121" cy="1396.8" r="5.9"/><circle cx="1126.1" cy="1340.8" r="5.2"/><circle cx="1122.2" cy="1355.8" r="6"/><circle cx="1085.3" cy="1300.1" r="5.4"/><circle cx="1135.7" cy="1412.4" r="5.5"/><circle cx="1138.8" cy="1416.5" r="5.5"/><circle cx="1122.9" cy="1346.6" r="5.6"/><circle cx="1146.2" cy="1398" r="5.4"/><circle cx="1084.9" cy="1371.1" r="5.4"/><circle cx="1110.2" cy="1397.2" r="5.5"/><circle cx="1131.2" cy="1392.4" r="5.2"/><circle cx="1147.2" cy="1371.2" r="5.6"/><circle cx="1099" cy="1395.7" r="5.4"/><circle cx="1089.3" cy="1362.4" r="5.4"/><circle cx="1115.7" cy="1335.1" r="5.3"/><circle cx="1145" cy="1346" r="5.4"/><circle cx="1110" cy="1407.5" r="5.7"/><circle cx="1101.7" cy="1391.4" r="5.5"/><circle cx="1107.7" cy="1289.7" r="5.5"/><circle cx="1119.9" cy="1342" r="5.7"/><circle cx="1122.4" cy="1327.3" r="5.5"/><circle cx="1079.8" cy="1321.6" r="5.4"/><circle cx="1134.9" cy="1396.4" r="5.2"/><circle cx="1084.3" cy="1350.5" r="5.6"/><circle cx="1098.2" cy="1286.7" r="5.7"/><circle cx="1121.3" cy="1337" r="5.5"/><circle cx="1145" cy="1376.1" r="5.6"/><circle cx="1115.6" cy="1416.5" r="5.9"/><circle cx="1077.9" cy="1330.2" r="6"/><circle cx="1124.2" cy="1422.2" r="6"/><circle cx="1125.7" cy="1402.7" r="6"/><circle cx="1106.5" cy="1412.6" r="6"/><circle cx="1110" cy="1417.1" r="5.2"/><circle cx="1096.5" cy="1400.7" r="6"/><circle cx="1133.6" cy="1386.6" r="5.3"/><circle cx="1125.7" cy="1351.4" r="5.7"/><circle cx="1105.6" cy="1416.7" r="5.9"/><circle cx="1081.8" cy="1347.3" r="6"/><circle cx="1103.6" cy="1395.7" r="6"/><circle cx="1090.4" cy="1371.8" r="6"/><circle cx="1101.6" cy="1411.9" r="5.5"/><circle cx="1082.4" cy="1326.5" r="5.8"/><circle cx="1141.3" cy="1381.2" r="6"/><circle cx="1125.9" cy="1390.8" r="5.4"/></g>
<g fill="#2a861e"><circle cx="1092.8" cy="1326.7" r="5.6"/><circle cx="1092.3" cy="1345.8" r="6"/><circle cx="1099.8" cy="1316.8" r="5.7"/><circle cx="1096.8" cy="1322.2" r="5.7"/><circle cx="1108.4" cy="1310.5" r="5.4"/><circle cx="1104.9" cy="1315" r="5.4"/><circle cx="1101.3" cy="1331.2" r="5.6"/><circle cx="1111.6" cy="1315.4" r="5.8"/></g>
<g fill="#56f038"><circle cx="1110.5" cy="1305.7" r="5.9"/><circle cx="1113.9" cy="1351.9" r="5.4"/><circle cx="1143.1" cy="1352" r="5.4"/><circle cx="1089.2" cy="1350.8" r="5.4"/><circle cx="1125.2" cy="1370.9" r="5.4"/><circle cx="1111.6" cy="1357.5" r="5.2"/><circle cx="1112.5" cy="1342.2" r="5.5"/><circle cx="1090.2" cy="1340.6" r="6"/><circle cx="1106.7" cy="1351.9" r="5.2"/><circle cx="1088.3" cy="1337.3" r="5.6"/><circle cx="1107.4" cy="1341.3" r="5.8"/><circle cx="1117.1" cy="1357.4" r="5.3"/><circle cx="1101.2" cy="1310.6" r="5.9"/><circle cx="1112.4" cy="1311.3" r="5.7"/><circle cx="1119.9" cy="1362.2" r="5.8"/><circle cx="1130" cy="1362.7" r="5.2"/><circle cx="1121.6" cy="1377.7" r="5.6"/><circle cx="1107.8" cy="1370.4" r="5.2"/><circle cx="1120.3" cy="1380.7" r="5.3"/><circle cx="1087.6" cy="1345.8" r="5.7"/><circle cx="1112.8" cy="1321.2" r="5.2"/><circle cx="1110.6" cy="1345.4" r="6"/><circle cx="1088.2" cy="1326" r="5.5"/><circle cx="1095.7" cy="1362" r="5.7"/><circle cx="1117.2" cy="1385.8" r="5.8"/><circle cx="1104.7" cy="1357.3" r="5.9"/><circle cx="1139.4" cy="1357.1" r="5.6"/><circle cx="1124.2" cy="1362.3" r="5.2"/><circle cx="1084.6" cy="1310.8" r="5.3"/><circle cx="1103.6" cy="1376.5" r="6"/><circle cx="1112.4" cy="1332.2" r="6"/><circle cx="1086.6" cy="1316" r="5.3"/><circle cx="1118.9" cy="1352.1" r="5.4"/><circle cx="1113.5" cy="1360.7" r="5.3"/><circle cx="1131.3" cy="1351.6" r="5.5"/></g>
<g fill="#26a4d0"><circle cx="1117.1" cy="1295.3" r="5.9"/><circle cx="1128" cy="1398" r="5.8"/><circle cx="1081" cy="1336.9" r="5.5"/><circle cx="1142.9" cy="1400.8" r="5.8"/><circle cx="1139.5" cy="1386.3" r="5.5"/><circle cx="1102.1" cy="1289.9" r="5.7"/><circle cx="1086.5" cy="1355.4" r="5.2"/><circle cx="1130" cy="1422.1" r="6"/><circle cx="1098.1" cy="1406.3" r="5.8"/><circle cx="1122.4" cy="1406.5" r="5.6"/><circle cx="1127.4" cy="1376.5" r="5.4"/><circle cx="1118.7" cy="1421.1" r="5.4"/><circle cx="1093.7" cy="1296" r="5.3"/><circle cx="1108.7" cy="1401.2" r="5.8"/><circle cx="1088.4" cy="1366.7" r="5.3"/><circle cx="1075.2" cy="1316.3" r="5.9"/><circle cx="1113" cy="1422" r="5.5"/><circle cx="1079" cy="1341.5" r="5.5"/><circle cx="1072.4" cy="1311" r="5.5"/><circle cx="1145.6" cy="1367.5" r="5.4"/><circle cx="1132" cy="1411" r="5.6"/><circle cx="1125.3" cy="1320.2" r="5.8"/><circle cx="1081" cy="1296.6" r="5.2"/><circle cx="1080.5" cy="1306.5" r="5.3"/><circle cx="1142.6" cy="1391.7" r="5.8"/><circle cx="1122.8" cy="1416.3" r="6"/><circle cx="1110.6" cy="1296.3" r="5.3"/><circle cx="1075.8" cy="1345.2" r="5.3"/><circle cx="1134.8" cy="1407.8" r="5.8"/><circle cx="1119" cy="1301" r="5.4"/><circle cx="1076.5" cy="1326.7" r="5.5"/><circle cx="1137.8" cy="1401.2" r="5.7"/><circle cx="1119.2" cy="1321.4" r="6"/><circle cx="1127.8" cy="1416.7" r="5.9"/><circle cx="1116.8" cy="1326.4" r="5.4"/><circle cx="1137.3" cy="1372" r="5.7"/><circle cx="1129.8" cy="1401.2" r="5.7"/><circle cx="1099.7" cy="1295.4" r="5.5"/><circle cx="1145.4" cy="1406.1" r="5.2"/><circle cx="1078.4" cy="1310.7" r="5.6"/></g>
<g fill="#38ac28"><circle cx="1103.8" cy="1346.8" r="5.9"/><circle cx="1101.1" cy="1352.5" r="5.8"/><circle cx="1098.9" cy="1325.7" r="5.4"/><circle cx="1099.9" cy="1335.8" r="5.2"/><circle cx="1093.2" cy="1336.5" r="5.5"/><circle cx="1105.9" cy="1336.7" r="5.2"/><circle cx="1106.5" cy="1321.1" r="5.4"/><circle cx="1111" cy="1385.9" r="5.7"/><circle cx="1103" cy="1342.2" r="5.6"/><circle cx="1102.8" cy="1321" r="5.9"/></g>
<g fill="#3ebe2c"><circle cx="1104.7" cy="1387.5" r="5.4"/><circle cx="1105.9" cy="1326.5" r="5.5"/><circle cx="1097.9" cy="1345.7" r="6"/><circle cx="1096.5" cy="1352.5" r="5.6"/><circle cx="1084.3" cy="1342.4" r="5.4"/><circle cx="1112.5" cy="1381.4" r="5.3"/><circle cx="1113.1" cy="1392.1" r="5.4"/><circle cx="1095.2" cy="1332" r="5.7"/><circle cx="1092.9" cy="1315" r="5.6"/><circle cx="1098.4" cy="1355.9" r="6"/><circle cx="1118.3" cy="1391.2" r="5.8"/><circle cx="1108.8" cy="1332" r="5.2"/><circle cx="1109.5" cy="1327.3" r="5.4"/><circle cx="1095.1" cy="1340.7" r="5.6"/></g>
<polyline points="1100.6,1255.6 1104.8,1266.1" stroke="#4ee034" stroke-width="12.6"/>
<polyline points="1102.3,1258.8 1102.3,1258.8" stroke="#38ac28" stroke-width="7.5"/>
<polyline points="1104.8,1230.5 1104.8,1230.5" stroke="#4ee034" stroke-width="7.1"/>
<polyline points="1179.8,1238.9 1179.8,1238.9" stroke="#56f038" stroke-width="7.1"/>
<polyline points="1181.2,1249.3 1181.3,1249.3" stroke="#56f038" stroke-width="6.3"/>
<polyline points="1153,1267.2 1153,1267.2" stroke="#56f038" stroke-width="4.6"/>
<polyline points="1117.3,1354.1 1134.1,1347.8" stroke="#26a4d0" stroke-width="6.3"/>
<polyline points="1113.1,1375.1 1129.9,1368.8" stroke="#26a4d0" stroke-width="5.4"/>
<polyline points="1098.5,1307 1102.7,1303.8" stroke="#f0f040" stroke-width="3.4"/>
<polyline points="1091.1,1343.6 1099.5,1335.3" stroke="#f0f040" stroke-width="4.6"/>
<polyline points="1015.7,1377.2 1015.7,1377.2" stroke="#3ebe2c" stroke-width="12.6"/>
<polyline points="1017.8,1375.1 1017.8,1375.1" stroke="#2a861e" stroke-width="7.5"/>
<polyline points="1177.1,1386.6 1177.1,1386.6" stroke="#4ee034" stroke-width="7.5"/>
<polyline points="1054.5,1094.3 1054.5,1094.3" stroke="#56f038" stroke-width="4.2"/>
<polyline points="1018.9,1119.4 1018.9,1119.4" stroke="#3ebe2c" stroke-width="4.2"/>
<polyline points="1016.3,1123.2 1016.4,1123.2" stroke="#da961c" stroke-width="3.8"/>
<path fill="#3679ae" d="M1054.6,1108.1h4v4h-4zM1036.2,1106.4h4v4h-4zM1062,1047.4h6v6h-6zM1072.4,1020.6h6v6h-6zM1080,1083.9h7v7h-7zM1015.7,1055.9h4v4h-4zM1062.9,1076h6v6h-6zM1045.1,1071.9h5v5h-5zM1058.6,1083.4h6v6h-6zM1038.2,1102.3h5v5h-5zM1064.5,1028.8h7v7h-7zM1029.4,1083.8h7v7h-7zM1074.8,1026.5h4v4h-4zM1020,1034.8h5v5h-5zM1070.3,1038.5h7v7h-7zM1052.9,1057.5h7v7h-7zM1008.6,1052.8h5v5h-5zM1089.3,1046.9h4v4h-4zM1086.3,1079.6h6v6h-6zM1005.5,1025.9h6v6h-6zM1008.1,1047.9h7v7h-7zM1057.1,1086.2h7v7h-7zM1029.4,1105.7h5v5h-5zM1085.7,1066.7h4v4h-4zM1010.1,1032.8h7v7h-7zM1031.6,1081.5h4v4h-4zM1060.4,1037h6v6h-6zM1087,1057.8h6v6h-6zM1051.1,1014.2h5v5h-5zM1015.2,1095.1h7v7h-7zM1063.8,1088.5h4v4h-4zM1045.7,1063h5v5h-5zM1055.2,1061.7h4v4h-4zM1057,1090.2h7v7h-7zM1074.9,1066.8h4v4h-4zM1060.1,1061.9h5v5h-5zM1073.8,1075.5h6v6h-6zM1018.6,1045.3h7v7h-7zM1033.8,1015.1h4v4h-4zM1082.9,1052h4v4h-4zM1083.2,1054.2h7v7h-7zM1010,1061.2h6v6h-6zM1007.9,1082.4h7v7h-7zM1089.2,1047.9h4v4h-4zM1021.4,1071.9h6v6h-6zM1029.9,1061.2h4v4h-4zM1089,1047.9h6v6h-6zM1021.3,1089.2h4v4h-4zM1062.5,1024.4h6v6h-6zM1029,1029.2h7v7h-7zM1031.4,1042.7h6v6h-6zM1091.9,1063.7h5v5h-5zM1047.6,1039h4v4h-4zM1050.3,1023h5v5h-5zM1063.1,1085.2h4v4h-4zM1089.8,1072.1h6v6h-6zM1059.6,1021.9h7v7h-7zM1033.3,1100.7h7v7h-7zM1072.4,1026.2h7v7h-7zM1009.9,1087.7h5v5h-5zM1026.2,1025.5h4v4h-4zM1059.6,1020.1h4v4h-4zM1080.7,1091.6h4v4h-4zM1007.9,1061h4v4h-4zM1029,1029.5h6v6h-6zM1020.7,1061.3h5v5h-5zM1049.8,1049.9h5v5h-5zM1016.4,1039.6h4v4h-4zM1020.2,1087.6h4v4h-4zM1022.7,1050.2h6v6h-6zM1018.2,1051.9h7v7h-7zM1007.6,1021.9h7v7h-7zM1021.2,1076.6h6v6h-6zM1090.6,1069h5v5h-5zM1045.2,1090.7h4v4h-4zM1043.2,1086.1h5v5h-5zM1027.9,1020.3h6v6h-6zM1074,1093.6h6v6h-6zM1013.7,1070.4h7v7h-7zM1019.5,1047.8h5v5h-5zM1016,1054.1h6v6h-6zM1049,1094.5h6v6h-6zM1020.2,1080.7h5v5h-5zM1086.9,1036.6h7v7h-7zM1017.3,1020.4h4v4h-4zM1027.3,1083h5v5h-5zM1034.9,1040.5h6v6h-6zM1011.3,1024h4v4h-4zM1029.2,1051.7h7v7h-7zM1068.9,1056.9h5v5h-5zM1018.5,1048.1h6v6h-6zM1082.6,1089.9h5v5h-5zM1011.9,1078.8h7v7h-7zM1079.7,1044.2h4v4h-4zM1006.4,1054.9h4v4h-4zM1021,1039.1h5v5h-5zM1067.8,1081.1h4v4h-4zM1060.9,1094.9h4v4h-4zM1055.7,1042.3h5v5h-5zM1013.5,1072.5h5v5h-5zM1036.4,1092.8h7v7h-7zM1021.8,1034h4v4h-4zM1030.4,1067.4h7v7h-7zM1040.6,1048.9h7v7h-7zM1055,1139.4h8v8h-8zM1037.2,1145.1h6v6h-6zM1044.4,1148.4h8v8h-8zM1061.9,1136.8h8v8h-8zM1050.7,1142.5h6v6h-6zM1052.4,1137.3h8v8h-8zM1046.7,1147.4h8v8h-8zM1060.5,1143h8v8h-8zM1061.6,1138.8h6v6h-6zM1047.5,1145.8h6v6h-6zM1052.2,1146.7h8v8h-8zM1039.3,1139.1h8v8h-8zM1049.1,1146.9h6v6h-6z"/>
<path fill="#308abe" d="M1065.1,1015h4v4h-4zM1045.2,1033.2h5v5h-5zM1053,1103.3h6v6h-6zM1022.4,1037.9h5v5h-5zM1068.6,1018.4h6v6h-6zM1020.2,1063.5h6v6h-6zM1035.5,1083.2h6v6h-6zM1024.4,1015.5h7v7h-7zM1039.7,1021.4h5v5h-5zM1073.5,1043.5h4v4h-4zM1081.9,1073.9h7v7h-7zM1048.1,1024.7h5v5h-5zM1068.8,1029.8h4v4h-4zM1070,1050.4h6v6h-6zM1023.1,1050.9h4v4h-4zM1075,1032.2h7v7h-7zM1089.9,1069.4h6v6h-6zM1076.3,1062h5v5h-5zM1078.7,1037.9h7v7h-7zM1056.8,1095.1h4v4h-4zM1070.3,1055.4h6v6h-6zM1066.7,1023.6h4v4h-4zM1026.6,1104.8h5v5h-5zM1054.5,1043.5h4v4h-4zM1063.6,1084.6h5v5h-5zM1030.4,1106.7h7v7h-7zM1010.7,1039.9h6v6h-6zM1078.6,1069.4h6v6h-6zM1003.4,1056.9h7v7h-7zM1040.5,1108.4h7v7h-7zM1068.9,1076.1h4v4h-4zM1071.4,1026h7v7h-7zM1035.1,1031.5h7v7h-7zM1028.3,1067.4h4v4h-4zM1085.1,1035.8h4v4h-4zM999.8,1052.7h4v4h-4zM1026.6,1093h5v5h-5zM1025.5,1076.9h7v7h-7zM1059.4,1059.6h6v6h-6zM1061.5,1097h6v6h-6zM1019.9,1022.1h5v5h-5zM1052.5,1031.5h4v4h-4zM1068.9,1052.2h6v6h-6zM1046.4,1027.8h5v5h-5zM1035.5,1020.6h7v7h-7zM1062.8,1063.8h6v6h-6zM1037,1110.1h5v5h-5zM1004.3,1035h6v6h-6zM1054.6,1099.7h4v4h-4zM1042,1067.6h7v7h-7zM1048.4,1044.8h7v7h-7zM1004.5,1056.8h5v5h-5zM1050.7,1023.4h4v4h-4zM1035.3,1048.6h4v4h-4zM1008.1,1085h4v4h-4zM1045,1092.5h7v7h-7zM1019.1,1098.3h4v4h-4zM1037.8,1068.1h4v4h-4zM1064.3,1035.4h5v5h-5zM1064.8,1056.8h4v4h-4zM1036.8,1018.4h7v7h-7zM1066.8,1021.8h4v4h-4zM1070.1,1080.9h5v5h-5zM1030.2,1095.9h4v4h-4zM1048.1,1042.2h6v6h-6zM1012.5,1032.3h6v6h-6zM1043.9,1090h5v5h-5zM1025.3,1092.3h7v7h-7zM1021,1088.1h5v5h-5zM1004.9,1037.5h5v5h-5zM1073.8,1031.5h5v5h-5zM1037.7,1090.5h6v6h-6zM1026.9,1047.7h4v4h-4zM1005.2,1070.1h6v6h-6zM1010,1079.9h6v6h-6zM1082.9,1032.2h7v7h-7zM1092.3,1063.9h6v6h-6zM1049.6,1087.8h4v4h-4zM1076.5,1026h7v7h-7zM1008.9,1083.5h7v7h-7zM1033.3,1068.2h6v6h-6zM1064.1,1059.6h5v5h-5zM1024.9,1082.7h5v5h-5zM1042.7,1086.4h6v6h-6zM1057,1033.8h5v5h-5zM1064.6,1085.6h4v4h-4zM1032.4,1032.7h6v6h-6zM1029.4,1081h7v7h-7zM1018.9,1085.8h7v7h-7zM1045.6,1100h7v7h-7zM1043.1,1153.1h8v8h-8zM1057.8,1142.1h8v8h-8zM1051,1150.2h8v8h-8zM1056.4,1132.3h6v6h-6zM1042.7,1145h6v6h-6zM1054.5,1140.5h8v8h-8zM1049.9,1152.8h8v8h-8zM1049.3,1152.1h6v6h-6zM1049.1,1147.4h6v6h-6zM1056.8,1134.5h8v8h-8zM1048,1136.4h8v8h-8zM1061,1136.4h8v8h-8zM1063.9,1138.9h8v8h-8zM1057,1146.8h8v8h-8zM1044.9,1147.7h6v6h-6zM1052.3,1145.3h8v8h-8zM1043.8,1135h6v6h-6zM1002.3,1116.2h5v5h-5zM1013,1118.1h6v6h-6zM1001.4,1125.2h6v6h-6zM997.3,1132.8h6v6h-6zM1009.2,1112.2h5v5h-5zM1001.5,1133.6h5v5h-5zM1005.4,1121.9h6v6h-6zM1003,1118.7h5v5h-5zM1003.5,1118h6v6h-6zM1007.5,1112.4h6v6h-6zM1013.4,1115.5h6v6h-6zM1007.2,1115.1h6v6h-6zM1009.3,1121.7h5v5h-5zM1003.9,1114.7h5v5h-5zM1017.1,1117h5v5h-5z"/>
<path fill="#2a98c8" d="M1010.6,1046.6h5v5h-5zM1056.3,1077.1h7v7h-7zM1015.8,1086.3h7v7h-7zM1027.6,1088.3h5v5h-5zM1090.5,1065.6h4v4h-4zM1026.1,1050.6h5v5h-5zM1067.4,1089.8h5v5h-5zM1007.3,1069h4v4h-4zM1020.6,1047.5h4v4h-4zM1044.1,1093.6h6v6h-6zM1036,1064.5h6v6h-6zM1015.9,1056.8h6v6h-6zM1059.6,1071.6h5v5h-5zM1020.7,1064.3h4v4h-4zM1080.1,1067.6h4v4h-4zM1054.6,1048.9h5v5h-5zM1040.5,1070.6h7v7h-7zM1055.7,1057h4v4h-4zM1061,1101.5h6v6h-6zM1057.3,1041.2h6v6h-6zM1013.3,1082.3h7v7h-7zM1053.3,1025.1h7v7h-7zM1053.4,1082.9h5v5h-5zM1061.5,1062.2h6v6h-6zM1061,1027.6h5v5h-5zM1023.8,1101.8h6v6h-6zM1010.1,1049.8h6v6h-6zM1072.6,1093.1h6v6h-6zM1051.8,1031.3h7v7h-7zM1013.1,1089.8h7v7h-7zM1051.5,1067.3h7v7h-7zM1073,1060.9h4v4h-4zM1041.9,1058h4v4h-4zM1016.3,1073.9h5v5h-5zM1026.6,1042.1h6v6h-6zM1047.1,1083.4h4v4h-4zM1032.2,1025.3h5v5h-5zM1032.3,1029.3h5v5h-5zM1081.1,1056.4h4v4h-4zM1032.7,1039.2h6v6h-6zM1044,1085.5h5v5h-5zM1039.7,1049.7h6v6h-6zM1007.6,1037.4h7v7h-7zM1053.9,1098.6h4v4h-4zM1028.5,1026.8h4v4h-4zM1039.7,1035.7h5v5h-5zM1014.6,1082.4h7v7h-7zM1031.1,1082.2h7v7h-7zM1069.8,1083.9h5v5h-5zM1007.7,1074.3h7v7h-7zM1032.4,1022h6v6h-6zM1065.7,1072.6h6v6h-6zM1011.7,1060.6h5v5h-5zM1062.1,1103.4h5v5h-5zM1018.4,1117.8h6v6h-6zM1017.8,1119.6h5v5h-5zM1000.3,1121.3h5v5h-5zM1011.7,1116.1h5v5h-5zM1011.5,1120.1h6v6h-6zM1000.4,1132.6h6v6h-6zM1012.8,1112.8h6v6h-6zM1001.5,1128.6h5v5h-5zM1001.1,1122.3h6v6h-6zM1010.4,1113.8h6v6h-6z"/>
<path fill="#3a72a6" d="M1042.1,1039h7v7h-7zM1041.9,1048.2h4v4h-4zM1031.2,1026.9h4v4h-4zM1059.6,1054.6h7v7h-7zM1030.7,1035.4h7v7h-7zM1070.5,1089.4h4v4h-4zM1068.5,1026.8h7v7h-7zM1090.7,1074.6h4v4h-4zM1057.9,1093.8h5v5h-5zM1054.7,1017h4v4h-4zM1052.9,1025.4h6v6h-6zM1058.3,1051h5v5h-5zM1066.3,1052.6h5v5h-5zM1070.8,1024h6v6h-6zM1082.6,1046.5h4v4h-4zM1046.5,1065h7v7h-7zM1078.8,1034.9h6v6h-6zM1085.5,1073.8h4v4h-4zM1054.6,1023.3h6v6h-6zM1022,1018.3h7v7h-7zM1007,1039.2h6v6h-6zM1014,1033.4h5v5h-5zM1087.3,1071.6h6v6h-6zM1051,1080.5h4v4h-4zM1026.3,1093.6h5v5h-5zM1087.3,1062.4h4v4h-4zM1051.9,1096.6h6v6h-6zM1034.6,1068.4h4v4h-4zM1045.4,1022.4h4v4h-4zM1047,1079.3h4v4h-4zM1025.8,1032.7h7v7h-7zM1026.6,1080.6h7v7h-7zM1024.2,1017.1h5v5h-5zM1027.6,1088.5h5v5h-5zM1026.5,1033.4h6v6h-6zM1069.3,1035.1h6v6h-6zM1026.4,1107.4h4v4h-4zM1040.7,1089.5h5v5h-5zM1016.4,1067.2h5v5h-5zM1052.2,1049.6h4v4h-4zM1070.1,1097.5h6v6h-6zM1092.6,1057h4v4h-4zM1009.6,1036.3h4v4h-4zM1033.3,1055.7h5v5h-5zM1070.5,1032.9h7v7h-7zM1010.4,1088.5h7v7h-7zM1040.1,1046h5v5h-5zM1052.9,1081.3h4v4h-4zM1085.2,1077.7h7v7h-7zM1061.4,1089.4h4v4h-4zM1013.8,1040.3h6v6h-6zM1048.7,1022.8h6v6h-6z"/>
<g fill="#308abe"><circle cx="1129.2" cy="1046.3" r="3.5"/><circle cx="1136.6" cy="1047.8" r="4.5"/><circle cx="1124.3" cy="1030.2" r="4.5"/><circle cx="1122.4" cy="1052.4" r="3.5"/><circle cx="1125.7" cy="1040.8" r="4.5"/><circle cx="1131.5" cy="1048.9" r="4.5"/><circle cx="1121.8" cy="1049.2" r="3.5"/><circle cx="1125.6" cy="1049.3" r="3.5"/><circle cx="1125.9" cy="1043.9" r="4.5"/><circle cx="1136.9" cy="1042.5" r="3.5"/><circle cx="1127.2" cy="1040.4" r="3.5"/><circle cx="1135.6" cy="1043.8" r="4.5"/><circle cx="1130.9" cy="1052.7" r="4.5"/><circle cx="1122.5" cy="1041.8" r="4.5"/></g>
<polyline points="1017.3,1375.3 1018.9,1380.3" stroke="#308abe" stroke-width="25"/>
<polyline points="1007.2,1370.3 1027.3,1367" stroke="#308abe" stroke-width="13.4"/>
<polyline points="1016.6,1376.3 1016.6,1376.3" stroke="#3ebe2c" stroke-width="15.4"/>
<polyline points="1017.9,1375.3 1017.9,1375.3" stroke="#2a861e" stroke-width="8.7"/>
<polyline points="973.9,1427.1 975.5,1433.8" stroke="#308abe" stroke-width="26.7"/>
<polyline points="973.9,1428.8 973.9,1428.8" stroke="#2a98c8" stroke-width="16.7"/>
<polyline points="975.5,1442.1 980.5,1441.1" stroke="#56f038" stroke-width="3.3"/>
<polyline points="990.5,1450.5 990.6,1450.5" stroke="#308abe" stroke-width="10"/>
<polyline points="965.5,1462.1 977.2,1470.5" stroke="#308abe" stroke-width="30"/>
<polyline points="968.8,1483.8 987.2,1485.5" stroke="#308abe" stroke-width="16.7"/>
<polyline points="987.2,1463.8 987.2,1463.8" stroke="#308abe" stroke-width="13.4"/>
<polyline points="961.2,1458.8 964.5,1465.5" stroke="#4ee034" stroke-width="14.7"/>
<polyline points="965.5,1457.1 967.2,1463.8" stroke="#2a861e" stroke-width="6.7"/>
<polyline points="1007.2,1500.5 1040.6,1490.5 1074,1467.1 1104.1,1437.1" stroke="#308abe" stroke-width="31.7"/>
<polyline points="1104.1,1437.1 1120.8,1434.4" stroke="#308abe" stroke-width="16.7"/>
<polyline points="1013.9,1497.2 1070.7,1470.5 1097.4,1443.8" stroke="#2a98c8" stroke-width="23.4"/>
<polyline points="1054,1477.2 1070.7,1463.8 1094,1440.4" stroke="#56f038" stroke-width="18"/>
<polyline points="1060.7,1470.5 1087.4,1443.8" stroke="#38ac28" stroke-width="11.4"/>
<polyline points="1065.7,1472.2 1074,1462.1 1087.4,1450.5" stroke="#d8de38" stroke-width="7.3"/>
<polyline points="1080.7,1453.8 1085.7,1449.8" stroke="#da961c" stroke-width="3.3"/>
<polyline points="1087.4,1448.8 1095.7,1446.4" stroke="#f0f040" stroke-width="3.3"/>
<polyline points="1013.9,1495.5 1023.9,1492.2" stroke="#56f038" stroke-width="13.4"/>
<polyline points="1017.3,1494.9 1017.3,1494.9" stroke="#38ac28" stroke-width="7.3"/>
<polyline points="1016.6,1495.5 1022.3,1493.2" stroke="#f0f040" stroke-width="2.7"/>
<polyline points="1045.6,1488.8 1054,1482.2" stroke="#56f038" stroke-width="5.3"/>
<polyline points="923.8,1522.2 950.5,1513.9" stroke="#308abe" stroke-width="26.7"/>
<polyline points="940.5,1530.6 940.5,1530.6" stroke="#308abe" stroke-width="26.7"/>
<polyline points="933.8,1520.6 942.1,1527.2" stroke="#26a4d0" stroke-width="14.7"/>
<polyline points="923.8,1519.9 931.1,1518.6" stroke="#56f038" stroke-width="2"/>
<polyline points="897.7,1570 907.1,1571.3" stroke="#2a98c8" stroke-width="14.7"/>
<polyline points="1154.1,1405.4 1187.5,1378.7" stroke="#308abe" stroke-width="10"/>
<polyline points="1177.5,1386 1177.5,1386" stroke="#4ee034" stroke-width="9.3"/>
<g fill="#308abe"><circle cx="1134.1" cy="1422.1" r="7"/><circle cx="1245.9" cy="1393.7" r="7"/><circle cx="1204.2" cy="1357" r="7"/><circle cx="1244.3" cy="1363.7" r="7"/><circle cx="1155.8" cy="1340.3" r="7"/><circle cx="990.5" cy="1450.5" r="7"/><circle cx="858.7" cy="1450.5" r="7"/><circle cx="852" cy="1452.1" r="7"/><circle cx="786.9" cy="1457.1" r="7"/><circle cx="795.2" cy="1457.8" r="7"/><circle cx="793.6" cy="1473.8" r="7"/><circle cx="708.4" cy="1474.5" r="7"/><circle cx="693.4" cy="1502.2" r="7"/><circle cx="703.4" cy="1452.1" r="7"/><circle cx="698.4" cy="1437.1" r="7"/><circle cx="713.4" cy="1423.7" r="7"/><circle cx="718.5" cy="1373.7" r="7"/><circle cx="670" cy="1392" r="7"/><circle cx="681.7" cy="1405.4" r="7"/><circle cx="651.7" cy="1425.4" r="7"/><circle cx="645" cy="1400.4" r="7"/></g></g>
<polyline class="gb" points="18.4,233.4 35.1,221.7"/>
<polyline class="gb" points="193.6,221.7 245.4,256.8"/>
<polyline class="gb" points="317.2,221.7 317.2,230.7 247.1,232.1 247.7,296.8 248.7,362.6 148.6,364.6 150.9,502.1"/>
<polyline class="gb" points="247.7,296.8 366.6,296.8 366.6,287.5 375.6,292.1 385.6,287.5 393.9,291.8 414.0,298.5 424.0,303.5 425.7,315.2 427.3,325.2 434.0,331.9 447.4,338.5 464.1,346.2 477.4,347.6 489.1,351.9"/>
<polyline class="gb" points="136.9,570.6 135.9,504.5 150.9,502.1 203.0,500.5 203.7,493.8 261.1,493.1 262.1,497.1 281.4,497.1 282.1,555.6 333.9,557.2 355.6,554.6 372.2,568.9"/>
<polyline class="gb" points="380.6,630.7 387.3,639.0 378.9,647.4"/>
<polyline class="gb" points="225.4,647.3 195.3,680.0 162.6,711.7 156.9,706.7 151.9,711.7 145.9,710.0 145.9,813.5 153.6,823.6 166.9,823.6 173.6,826.9 182.0,835.2 192.0,843.6 200.3,850.3 203.7,856.9 210.3,863.6 209.7,873.6 215.3,880.3 208.7,890.3 205.3,900.3 204.3,912.0"/>
<polyline class="gb" points="18.4,716.7 70.1,716.1 70.8,721.7 84.1,722.4 85.1,738.4 80.1,740.1"/>
<polyline class="gb" points="80.1,739.4 145.9,738.4"/>
<polyline class="gb" points="80.1,740.1 80.1,750.1 125.2,792.8 81.8,836.9 53.4,867.0 46.7,865.3 33.4,878.6 36.7,882.0 18.4,902.0"/>
<polyline class="gb" points="18.4,795.8 26.7,795.2 26.7,779.5 40.1,779.5 40.7,791.2 80.1,750.8"/>
<polyline class="gb" points="81.8,836.9 100.2,860.3 106.8,863.6 111.8,872.0 115.2,883.7 125.2,880.3 143.6,898.7 175.3,928.7 173.6,942.1 166.3,945.4"/>
<polyline class="gb" points="143.6,898.7 100.2,942.1 81.8,925.4 70.1,937.1 18.4,938.7"/>
<polyline class="gb" points="330.3,878.8 348.3,904.6 340.8,903.1 342.3,918.1"/>
<polyline class="gb" points="295.2,919.6 310.2,916.6 330.3,913.8 342.3,918.1 350.3,926.4 367.8,931.4 382.8,927.6 397.9,918.1 420.4,914.6 445.4,916.3 463.0,921.3 478.5,927.6"/>
<polyline class="gb" points="478.5,927.6 485.5,920.1 500.5,913.8 516.8,917.1 519.3,898.8 503.0,900.1 503.0,895.1"/>
<polyline class="gb" points="478.5,927.6 493.0,946.4 508.0,951.4 520.5,947.6 533.1,945.1 539.3,950.1 536.8,970.2 551.8,973.9 551.8,982.7 573.1,985.2 568.1,987.7 570.6,999.0 580.6,1000.2 590.7,986.4 600.7,982.7 610.7,965.2 623.2,952.6 627.0,932.6 628.2,923.8"/>
<polyline class="gb" points="235.6,916.3 232.6,927.6 236.4,941.4 243.9,942.6 247.6,954.6 257.6,958.2 267.7,950.6 280.2,943.1 292.2,938.1 295.2,919.6"/>
<polyline class="gb" points="247.6,954.6 241.4,960.2 240.1,972.7 236.4,989.0 243.9,986.4 252.6,992.7 258.9,1001.5 258.9,1025.3 275.2,1021.5 276.4,1027.8 288.9,1030.3 288.9,1039.0 299.0,1039.0 300.2,1046.5 311.5,1049.0 322.7,1047.8 324.0,1072.8 337.8,1071.6 345.3,1075.3 345.3,1092.9 350.3,1104.1"/>
<polyline class="gb" points="236.4,989.0 220.1,996.5 202.6,1007.7 195.0,1006.5"/>
<polyline class="gb" points="493.0,946.4 483.0,957.7 473.0,970.2 463.0,976.4 461.7,985.2 452.9,992.7 440.4,1000.2 430.4,1005.2 420.4,1010.2 405.4,1015.2 390.3,1024.0 377.8,1034.0 365.3,1042.8 349.0,1051.5 362.8,1062.8 375.3,1067.8 390.3,1062.8 410.4,1056.6 420.4,1059.1 434.9,1060.3 414.1,1076.6 416.6,1087.9 430.4,1089.1 434.2,1104.1 444.2,1101.6 445.4,1107.9 460.5,1100.4 467.5,1122.9"/>
<polyline class="gb" points="392.8,1064.1 397.9,1072.8 394.1,1086.6 382.8,1087.9 370.3,1097.9 350.3,1104.1 332.8,1110.4 320.2,1120.4 310.2,1119.2 301.5,1112.4 285.2,1115.4 265.1,1122.9 250.1,1132.9 235.1,1145.4 220.1,1155.5 207.6,1163.0 195.0,1166.7 190.0,1180.5 177.5,1183.0 170.0,1184.3"/>
<polyline class="gb" points="301.5,1112.4 342.8,1163.0 330.3,1171.7 347.8,1193.0 320.2,1220.1"/>
<polyline class="gb" points="347.8,1193.0 390.3,1170.5 420.4,1147.9 437.9,1131.7 467.5,1122.9 495.5,1116.7 510.5,1110.4 528.1,1095.4 545.6,1070.3 560.6,1045.3 580.6,1025.3 595.7,1012.7 620.7,995.2 650.0,970.2"/>
<polyline class="gb" points="510.5,1110.4 556.9,1166.7 541.8,1176.7 564.4,1206.8"/>
<polyline class="gb" points="170.0,1216.8 185.0,1209.3 196.3,1206.8 202.6,1220.1"/>
<polyline class="gb" points="169.9,1184.0 156.9,1186.7 146.9,1193.4 140.2,1183.4 131.9,1188.4 126.9,1200.1 116.8,1191.7 113.5,1193.4"/>
<polyline class="gb" points="133.5,1185.0 140.2,1193.4 133.5,1200.1 136.9,1210.1 131.9,1215.1 146.9,1221.8 156.9,1228.4 170.3,1221.8 182.0,1220.1 185.3,1210.1 197.0,1206.1 213.7,1240.1 215.3,1253.5 230.4,1261.8 233.7,1268.5 228.7,1275.2 243.7,1295.2"/>
<polyline class="gb" points="405.6,1160.0 347.2,1193.4 313.8,1226.8 293.8,1240.1 280.4,1250.1 267.1,1270.2 253.7,1290.2 243.7,1295.2 230.4,1316.9 213.7,1330.3 190.3,1338.6 176.9,1357.0 163.6,1377.0 148.6,1403.7"/>
<polyline class="gb" points="313.8,1226.8 350.5,1276.2 330.5,1290.2 297.1,1316.9 290.5,1330.3 297.1,1343.6 283.8,1357.0 278.8,1370.3 283.8,1387.0 297.1,1392.0 308.8,1387.0 317.2,1375.3 353.9,1405.4 350.5,1413.7 340.5,1423.7 333.9,1430.4 320.5,1437.1 307.1,1435.4 293.8,1440.4 287.1,1453.8 277.1,1467.1 267.1,1480.5"/>
<polyline class="gb" points="105.2,1390.4 131.9,1397.0 131.9,1403.7 148.6,1407.1 173.6,1412.1 200.3,1430.4 230.4,1450.5 253.7,1473.8 267.1,1480.5 277.1,1480.5 287.1,1497.2 300.5,1503.9 310.5,1520.6 325.5,1530.6 333.9,1542.3 350.5,1550.6 363.9,1564.0 375.6,1580.7 387.3,1597.4 400.6,1614.0 420.7,1619.1 434.0,1630.7 450.7,1640.1"/>
<polyline class="gb" points="78.5,1497.2 83.5,1500.5 88.5,1490.5 100.2,1485.5 110.2,1493.9 136.9,1495.5 140.2,1488.8 163.6,1490.5 187.0,1497.2 210.3,1503.9 205.3,1517.2 193.6,1527.2 185.3,1540.6 190.3,1552.3 207.0,1550.6"/>
<polyline class="gb" points="267.1,1480.5 247.1,1493.9 233.7,1507.2 227.0,1522.2 217.0,1533.9 207.0,1550.6 200.3,1570.6 190.3,1587.3 188.6,1604.0 176.9,1627.4 163.6,1640.1 150.2,1654.1"/>
<polyline class="gb" points="176.9,1627.4 190.3,1629.1 188.6,1640.1"/>
<polyline class="gb" points="353.9,1405.4 367.2,1382.0 383.9,1377.0 410.6,1362.0 440.7,1363.7 464.1,1360.3 494.1,1350.3 520.8,1340.3 560.9,1323.6 600.9,1319.6 640.0,1316.9"/>
<polyline class="gb" points="564.4,1206.8 540.1,1229.5 557.0,1245.8 546.9,1260.8 553.8,1265.2 555.1,1274.0 550.1,1284.0 536.9,1291.5 546.3,1300.3 561.3,1322.2"/>
<polyline class="gb" points="627.2,923.6 626.2,934.1 621.0,950.9 610.5,967.6 607.3,978.1 600.0,982.3 587.4,988.6"/>
<polyline class="gb" points="669.1,937.2 678.6,946.7 673.3,953.0 658.7,963.4 641.9,976.0 627.2,990.7 612.6,1001.2 600.0,1009.5 583.2,1020.0"/>
<polyline class="gb" points="763.4,971.8 746.7,982.3 725.7,997.0 715.2,1009.5 704.8,1022.1 692.2,1032.6 688.0,1051.4 669.1,1074.5 648.2,1087.1 637.7,1099.6 631.4,1120.6 627.7,1130.0 620.2,1143.8 623.3,1155.0 627.1,1165.0 623.3,1177.6 616.4,1188.8 614.6,1200.1 610.2,1211.4 602.7,1221.4 592.6,1231.4 580.1,1240.2 567.6,1247.7 556.3,1255.2 550.0,1261.5"/>
<polyline class="gb" points="860.9,1067.2 857.7,1082.9 847.2,1103.8 830.5,1126.9 813.7,1143.6 801.2,1164.6 788.6,1187.6 782.3,1200.0"/>
<polyline class="gb" points="860.9,1067.2 908.0,1098.6 920.6,1078.7 929.0,1082.9 945.7,1096.5 948.9,1089.2 956.2,1080.8 968.8,1068.2 975.1,1051.4 980.3,1041.0"/>
<polyline class="gb" points="980.2,1042.2 993.9,1047.2 1007.2,1060.6 1032.3,1067.3 1047.3,1080.6 1064.0,1089.0 1080.7,1084.0 1089.0,1107.3 1087.4,1127.4 1102.4,1110.7"/>
<polyline class="gb" points="1105.7,932.1 1120.8,943.7 1110.7,973.8 1147.5,982.1 1155.8,993.8 1169.2,1000.5 1167.5,1017.2 1204.2,1022.2 1207.6,1038.9 1237.6,1045.6 1261.0,1042.2 1280.0,1030.5"/>
<polyline class="gb" points="1155.8,993.8 1180.8,973.8 1187.5,963.8 1200.9,955.4 1207.6,960.4 1251.0,933.7 1271.0,920.4 1280.0,910.4"/>
<polyline class="gb" points="1204.2,893.7 1214.2,907.0 1234.3,910.4 1251.0,913.7 1269.3,918.7 1274.3,893.7 1280.0,887.0"/>
<polyline class="gb" points="1100.7,1033.9 1117.4,1027.2 1120.8,1017.2 1130.8,1027.2 1144.1,1033.9 1160.8,1023.9 1169.2,1017.2"/>
<polyline class="gb" points="1207.6,1038.9 1190.9,1042.2 1160.8,1100.7 1177.5,1105.7 1185.9,1127.4 1184.2,1147.4 1174.2,1160.1"/>
<polyline class="gb" points="1422.9,680.0 1442.8,723.2 1461.1,769.7 1492.7,754.8 1491.0,746.5 1506.0,734.8 1501.0,723.2 1535.9,693.3 1555.8,680.0 1568.4,671.7"/>
<polyline class="gb" points="1461.1,769.7 1451.1,774.7 1446.1,763.1 1434.5,761.4 1436.2,786.3 1442.8,796.3 1432.9,799.6 1426.2,779.7 1412.9,774.7 1394.6,776.4 1393.0,793.0 1388.0,802.9 1376.4,809.6 1366.4,816.2 1358.1,806.3 1343.1,799.6 1328.2,801.3 1313.2,799.6 1304.9,786.3 1295.0,776.4"/>
<polyline class="gb" points="1479.4,763.1 1499.3,812.9 1512.6,814.6 1514.3,826.2 1506.0,842.8 1509.3,856.1 1501.0,861.1 1506.0,871.1 1555.8,862.8 1557.5,872.7 1552.5,879.4 1562.4,889.3 1565.8,912.6 1568.4,919.2"/>
<polyline class="gb" points="1328.2,801.3 1326.5,839.5 1339.8,857.8 1356.4,879.4 1379.7,906.0 1389.7,932.5 1396.3,955.8 1394.6,979.1 1393.0,989.0"/>
<polyline class="gb" points="1446.1,837.8 1477.7,839.5 1479.4,846.1 1472.7,852.8 1482.7,866.1 1486.0,876.1 1506.0,871.1"/>
<polyline class="gb" points="1446.1,837.8 1449.5,852.8 1406.3,867.7 1411.3,879.4 1407.9,896.0 1412.9,909.3 1379.7,906.0"/>
<polyline class="gb" points="1280.0,969.1 1290.0,979.1 1303.3,992.4 1304.9,1018.9 1296.6,1020.6 1296.6,1028.9 1280.0,1033.9"/>
<polyline class="gb" points="1303.3,992.4 1333.2,992.4 1341.5,1002.3 1348.1,1018.9 1356.4,1037.2 1363.1,1040.5"/>
<polyline class="gb" points="1469.4,494.1 1479.4,492.4 1489.3,489.1 1499.3,492.4 1509.3,497.4 1519.2,492.4 1529.2,485.8 1537.5,494.1 1539.2,482.4 1568.4,490.8"/>
<polyline class="gb" points="1452.8,595.4 1466.1,608.7 1476.1,615.4 1489.3,608.7 1506.0,610.4 1519.2,620.3 1539.2,622.0 1555.8,612.0 1568.4,613.7"/>
<polyline class="gb" points="783.6,1200.1 756.8,1223.4 723.5,1253.5 693.4,1283.5 683.4,1290.2 660.0,1310.2 640.0,1316.9"/>
<polyline class="gb" points="683.4,1290.2 693.4,1306.9 696.8,1333.6 693.4,1373.7 695.1,1393.7 683.4,1413.7 666.7,1437.1 650.0,1460.5 640.0,1470.5 626.6,1477.2"/>
<polyline class="gb" points="783.6,1200.1 806.9,1206.7 837.0,1210.1 840.3,1206.7 855.3,1208.4 857.0,1218.4 878.7,1223.4 888.7,1236.8 895.4,1251.8 887.1,1260.2 883.7,1266.8 870.4,1276.8 870.4,1296.9 853.7,1306.9 847.0,1320.3 845.3,1336.9 853.7,1347.0 840.3,1360.3 835.3,1373.7 840.3,1393.7 840.3,1413.7 848.7,1437.1 853.7,1460.5 863.7,1470.5 870.4,1490.5 867.0,1497.2"/>
<polyline class="gb" points="887.1,1266.8 903.7,1265.2 923.8,1273.5 935.5,1293.5 933.8,1320.3 938.8,1331.9 912.1,1355.3 923.8,1360.3 923.8,1373.7 947.1,1387.0 958.8,1387.0"/>
<polyline class="gb" points="626.6,1543.9 640.0,1545.6 660.0,1546.6 706.8,1545.6 716.8,1548.9 740.2,1537.3 761.9,1529.9 770.2,1531.2 786.9,1529.9 791.9,1553.9 788.6,1574.0 791.9,1587.3 786.9,1607.4 786.9,1624.1 793.6,1630.7"/>
<polyline class="gb" points="450.7,1635.1 475.7,1652.6 488.3,1680.2 500.8,1690.2 515.8,1705.2 540.8,1702.7 565.9,1710.2 560.9,1735.3 540.8,1745.3 538.3,1757.8 535.8,1765.3"/>
<polyline class="gb" points="570.9,1560.0 585.9,1585.0 593.4,1610.1 595.9,1635.1 588.4,1655.1 590.9,1680.2 570.9,1705.2 565.9,1710.2"/>
<polyline class="gb" points="190.3,1627.6 185.3,1652.6 165.3,1650.1 145.2,1660.2 125.2,1680.2 105.2,1705.2 80.1,1730.3 50.1,1745.3 20.0,1754.3"/>
<polyline class="gb" points="786.2,1560.0 791.2,1590.0 786.2,1610.1 796.2,1625.1"/>
<polyline class="gb" points="425.7,1760.3 440.7,1745.3 460.7,1742.8 475.7,1752.8 480.8,1760.3"/>
<polyline class="gb" points="626.6,1477.0 622.9,1479.1 604.0,1502.1 591.4,1518.9 583.1,1537.7 576.8,1558.7 570.7,1559.9"/>
<polyline class="gb" points="591.4,1521.0 601.9,1523.1 618.7,1541.9 625.4,1543.2"/>
<polyline class="gb" style="stroke:#c8c8c8;stroke-width:3.4" points="1491.0,301.3 1492.7,283.1 1487.7,266.5 1486.0,253.2 1489.3,236.6 1497.6,223.3 1501.0,218.3"/>
<path class="wb2" transform="translate(-1,-1.2)" d="M542.5,221.7C545.6,222.6 548.4,221.9 554.2,225.0C560.0,228.2 559.8,228.5 564.2,233.4C568.7,238.3 568.7,238.1 570.9,243.4C573.1,248.7 573.5,248.1 572.6,253.4C571.7,258.8 569.3,258.5 567.6,263.4C565.8,268.3 565.9,266.9 565.9,271.8C565.9,276.7 568.4,277.3 567.6,281.8C566.7,286.2 565.7,286.2 562.5,288.5C559.4,290.7 559.0,287.0 555.9,290.1C552.8,293.3 554.4,296.6 550.9,300.2C547.3,303.7 545.6,304.4 542.5,303.5C539.4,302.6 541.4,297.7 539.2,296.8C537.0,295.9 535.1,295.7 534.2,300.2C533.3,304.6 537.6,309.1 535.8,313.5C534.1,318.0 531.9,316.4 527.5,316.8C523.0,317.3 523.6,313.8 519.1,315.2C514.7,316.5 513.9,317.4 510.8,321.9C507.7,326.3 506.1,328.8 507.5,331.9C508.8,335.0 512.2,331.8 515.8,333.5C519.4,335.3 520.8,335.4 520.8,338.5C520.8,341.7 519.8,341.7 515.8,345.2C511.8,348.8 510.7,349.2 505.8,351.9C500.9,354.6 501.9,354.8 497.4,355.2C493.0,355.7 490.9,351.3 489.1,353.6C487.3,355.8 488.5,359.1 490.8,363.6C493.0,368.0 496.1,365.8 497.4,370.3C498.8,374.7 498.0,376.3 495.8,380.3C493.5,384.3 493.1,383.5 489.1,385.3C485.1,387.1 484.3,383.8 480.8,387.0C477.2,390.1 475.3,393.4 475.7,397.0C476.2,400.5 479.7,397.6 482.4,400.3C485.1,403.0 486.2,403.9 485.8,407.0C485.3,410.1 484.3,409.8 480.8,412.0C477.2,414.2 476.0,412.2 472.4,415.3C468.8,418.5 467.0,420.6 467.4,423.7C467.8,426.8 470.5,424.4 474.1,427.0C477.6,429.7 479.0,429.7 480.8,433.7C482.5,437.7 484.3,438.5 480.8,442.0C477.2,445.6 473.6,443.5 467.4,447.1C461.2,450.6 464.5,450.9 457.4,455.4C450.3,459.9 449.6,459.7 440.7,463.7C431.8,467.8 432.0,466.9 424.0,470.4C416.0,474.0 416.0,472.6 410.6,477.1C405.3,481.6 407.1,482.2 404.0,487.1C400.8,492.0 403.0,492.3 399.0,495.5C395.0,498.6 389.4,496.1 388.9,498.8C388.5,501.5 392.8,501.5 397.3,505.5C401.7,509.5 404.7,509.8 405.6,513.8C406.5,517.8 405.1,517.4 400.6,520.5C396.2,523.6 392.9,521.9 388.9,525.5C384.9,529.1 385.6,528.1 385.6,533.9C385.6,539.6 388.9,540.5 388.9,547.2C388.9,553.9 389.2,554.4 385.6,558.9C382.0,563.3 380.0,559.9 375.6,563.9C371.1,567.9 369.8,568.6 368.9,573.9C368.0,579.3 369.1,579.0 372.2,583.9C375.4,588.8 380.1,588.7 380.6,592.3C381.0,595.8 377.9,595.5 373.9,597.3C369.9,599.1 366.0,595.4 365.6,599.0C365.1,602.5 371.4,604.9 372.2,610.6C373.1,616.4 367.6,615.3 368.9,620.7C370.2,626.0 375.5,624.4 377.3,630.7C379.0,636.9 374.7,636.5 375.6,644.0C376.5,651.6 383.3,654.2 380.6,659.1C377.9,663.9 371.4,662.8 365.6,662.4C359.8,661.9 360.2,652.7 358.9,657.4C357.6,662.1 360.1,674.1 360.6,680.1C361.0,686.1 360.1,676.9 360.6,680.0C361.0,683.1 364.0,687.2 362.2,691.7C360.5,696.1 357.4,692.2 353.9,696.7C350.3,701.1 353.3,703.9 348.9,708.4C344.4,712.8 341.6,709.8 337.2,713.4C332.7,716.9 331.3,717.7 332.2,721.7C333.1,725.7 338.8,724.4 340.5,728.4C342.3,732.4 342.0,734.1 338.9,736.8C335.7,739.4 333.3,738.4 328.8,738.4C324.4,738.4 324.4,735.4 322.2,736.8C319.9,738.1 326.3,739.0 320.5,743.4C314.7,747.9 308.5,749.4 300.5,753.4C292.5,757.5 291.8,753.6 290.5,758.5C289.1,763.4 296.4,766.0 295.5,771.8C294.6,777.6 291.6,777.0 287.1,780.2C282.7,783.3 278.8,779.9 278.8,783.5C278.8,787.1 286.2,789.1 287.1,793.5C288.0,798.0 286.6,799.3 282.1,800.2C277.7,801.1 274.0,793.3 270.4,796.8C266.9,800.4 272.3,808.2 268.8,813.5C265.2,818.9 263.3,815.1 257.1,816.9C250.8,818.7 250.3,816.7 245.4,820.2C240.5,823.8 240.9,824.9 238.7,830.2C236.5,835.6 235.7,834.9 237.0,840.3C238.4,845.6 239.3,845.8 243.7,850.3C248.2,854.7 250.2,852.5 253.7,856.9C257.3,861.4 256.6,860.7 257.1,867.0C257.5,873.2 256.7,874.5 255.4,880.3C254.1,886.1 253.0,886.4 252.1,888.7"/>
<path class="wb2" transform="translate(-1,-1.2)" d="M18.4,555.6C21.9,554.7 26.4,551.3 31.7,552.2C37.1,553.1 33.9,556.5 38.4,558.9C42.8,561.3 42.6,561.7 48.4,561.2C54.2,560.8 54.3,560.1 60.1,557.2C65.9,554.4 66.1,553.7 70.1,550.5C74.1,547.4 71.1,546.9 75.1,545.5C79.1,544.2 81.1,542.9 85.1,545.5C89.1,548.2 86.6,551.5 90.1,555.6C93.7,559.6 94.0,557.4 98.5,560.6C102.9,563.7 102.4,565.5 106.8,567.2C111.3,569.0 110.3,566.4 115.2,567.2C120.1,568.1 120.3,569.7 125.2,570.6C130.1,571.5 129.1,568.8 133.5,570.6C138.0,572.4 138.3,572.8 141.9,577.3C145.4,581.7 143.3,582.8 146.9,587.3C150.5,591.7 150.8,590.8 155.2,593.9C159.7,597.1 159.6,597.2 163.6,599.0C167.6,600.7 167.2,596.6 170.3,600.6C173.4,604.6 171.7,609.1 175.3,614.0C178.8,618.9 179.2,618.1 183.6,619.0C188.1,619.9 187.5,615.5 192.0,617.3C196.4,619.1 196.8,621.2 200.3,625.7C203.9,630.1 203.1,629.1 205.3,634.0C207.5,638.9 205.5,641.4 208.7,644.0C211.8,646.7 212.6,644.5 217.0,644.0C221.5,643.6 221.8,639.2 225.4,642.4C228.9,645.5 227.2,649.9 230.4,655.7C233.5,661.5 232.6,660.5 237.0,664.1C241.5,667.6 241.7,666.4 247.1,669.1C252.4,671.7 252.6,671.1 257.1,674.1C261.5,677.0 262.4,678.5 263.7,680.1C265.1,681.7 261.2,678.2 262.1,680.0C263.0,681.8 263.1,683.1 267.1,686.7C271.1,690.2 271.8,688.9 277.1,693.4C282.4,697.8 282.7,698.0 287.1,703.4C291.6,708.7 289.3,708.9 293.8,713.4C298.2,717.8 298.5,716.9 303.8,720.1C309.1,723.2 308.9,721.1 313.8,725.1C318.7,729.1 319.9,732.4 322.2,735.1"/>
<path class="wb2" transform="translate(-1,-1.2)" d="M640.0,918.7C634.9,919.3 631.4,920.2 621.0,921.0C610.6,921.9 611.6,923.1 600.9,922.0C590.3,921.0 590.7,920.2 580.9,917.0C571.1,913.9 573.1,914.4 564.2,910.4C555.3,906.4 555.5,906.5 547.5,902.0C539.5,897.6 541.3,895.9 534.2,893.7C527.0,891.4 528.8,894.1 520.8,893.7C512.8,893.2 512.1,894.7 504.1,892.0C496.1,889.3 497.9,888.1 490.8,883.7C483.6,879.2 485.4,878.0 477.4,875.3C469.4,872.6 470.5,875.0 460.7,873.6C450.9,872.3 451.4,871.2 440.7,870.3C430.0,869.4 431.3,869.4 420.7,870.3C410.0,871.2 410.4,873.2 400.6,873.6C390.8,874.1 393.7,873.3 383.9,872.0C374.1,870.6 375.5,868.2 363.9,868.6C352.3,869.1 352.1,871.4 340.5,873.6C329.0,875.9 330.3,876.5 320.5,877.0C310.7,877.4 312.7,876.2 303.8,875.3C294.9,874.4 296.9,872.3 287.1,873.6C277.3,875.0 276.4,876.3 267.1,880.3C257.7,884.3 261.0,883.3 252.1,888.7C243.2,894.0 243.9,895.0 233.7,900.3C223.5,905.7 223.0,904.2 213.7,908.7C204.3,913.1 204.9,911.7 198.6,917.0C192.4,922.4 193.9,922.5 190.3,928.7C186.7,935.0 189.3,935.5 185.3,940.4C181.3,945.3 178.8,942.6 175.3,947.1C171.7,951.5 171.9,951.8 171.9,957.1C171.9,962.4 174.8,961.8 175.3,967.1C175.7,972.5 174.5,971.8 173.6,977.1C172.7,982.5 170.6,982.3 171.9,987.1C173.3,992.0 174.6,991.0 178.6,995.5C182.6,999.9 183.4,998.9 187.0,1003.8C190.5,1008.7 190.4,1006.7 192.0,1013.9C193.6,1021.0 192.3,1021.6 193.0,1030.5C193.6,1039.5 194.6,1038.3 194.3,1047.2C194.0,1056.1 193.9,1055.0 192.0,1063.9C190.0,1072.8 188.7,1073.5 187.0,1080.6C185.2,1087.7 184.8,1084.4 185.3,1090.6C185.7,1096.9 188.6,1097.8 188.6,1104.0C188.6,1110.2 187.1,1107.8 185.3,1114.0C183.5,1120.2 183.3,1120.2 182.0,1127.4C180.6,1134.5 182.5,1134.5 180.3,1140.7C178.1,1147.0 177.6,1145.6 173.6,1150.7C169.6,1155.9 167.5,1157.6 165.3,1160.1C163.0,1162.6 167.5,1157.8 165.3,1160.0C163.0,1162.2 161.8,1164.8 156.9,1168.3C152.0,1171.9 153.1,1172.0 146.9,1173.4C140.7,1174.7 139.8,1174.7 133.5,1173.4C127.3,1172.0 128.4,1168.3 123.5,1168.3C118.6,1168.3 118.3,1168.5 115.2,1173.4C112.1,1178.3 113.6,1180.0 111.8,1186.7C110.1,1193.4 109.8,1192.2 108.5,1198.4C107.2,1204.6 106.4,1203.4 106.8,1210.1C107.3,1216.8 109.3,1216.3 110.2,1223.4C111.1,1230.6 108.4,1231.0 110.2,1236.8C112.0,1242.6 115.1,1238.9 116.8,1245.1C118.6,1251.4 117.3,1253.0 116.8,1260.2C116.4,1267.3 113.8,1266.1 115.2,1271.8C116.5,1277.6 118.7,1276.1 121.9,1281.9C125.0,1287.6 126.4,1287.8 126.9,1293.5C127.3,1299.3 126.6,1298.7 123.5,1303.6C120.4,1308.5 118.3,1306.6 115.2,1311.9C112.1,1317.2 113.2,1316.9 111.8,1323.6C110.5,1330.3 109.3,1330.3 110.2,1336.9C111.1,1343.6 113.0,1343.7 115.2,1348.6C117.4,1353.5 119.9,1349.5 118.5,1355.3C117.2,1361.1 114.6,1362.8 110.2,1370.3C105.7,1377.9 105.8,1377.5 101.8,1383.7C97.8,1389.9 97.4,1387.5 95.1,1393.7C92.9,1399.9 93.5,1399.0 93.5,1407.1C93.5,1415.1 96.0,1415.7 95.1,1423.7C94.3,1431.8 93.3,1430.4 90.1,1437.1C87.0,1443.8 86.1,1442.6 83.5,1448.8C80.8,1455.0 80.1,1453.8 80.1,1460.5C80.1,1467.1 83.9,1467.6 83.5,1473.8C83.0,1480.1 82.9,1478.1 78.5,1483.8C74.0,1489.6 72.6,1491.1 66.8,1495.5C61.0,1500.0 62.5,1498.3 56.8,1500.5C51.0,1502.8 50.4,1501.2 45.1,1503.9C39.7,1506.5 39.8,1506.1 36.7,1510.5C33.6,1515.0 36.1,1515.2 33.4,1520.6C30.7,1525.9 29.4,1525.2 26.7,1530.6C24.0,1535.9 25.6,1535.7 23.4,1540.6C21.1,1545.5 19.7,1546.7 18.4,1548.9"/>
<path class="wb2" transform="translate(-1,-1.2)" d="M640.0,916.7C634.9,916.5 631.4,916.6 621.0,916.0C610.6,915.5 611.6,916.1 600.9,914.7C590.3,913.3 590.7,913.7 580.9,910.7C571.1,907.7 573.1,907.6 564.2,903.4C555.3,899.1 555.5,898.8 547.5,894.7C539.5,890.6 541.3,890.1 534.2,888.0C527.0,885.9 528.8,887.6 520.8,886.7C512.8,885.8 512.1,887.2 504.1,884.7C496.1,882.2 497.9,881.2 490.8,877.3C483.6,873.4 485.4,872.5 477.4,870.0C469.4,867.5 470.5,869.3 460.7,868.0C450.9,866.6 451.4,865.9 440.7,865.0C430.0,864.1 431.3,863.8 420.7,864.6C410.0,865.4 410.4,867.4 400.6,868.0C390.8,868.5 393.7,867.9 383.9,866.6C374.1,865.4 375.5,862.9 363.9,863.3C352.3,863.6 352.1,865.8 340.5,868.0C329.0,870.1 330.3,870.6 320.5,871.3C310.7,872.0 308.3,870.8 303.8,870.6"/>
<path class="wb2" transform="translate(-1,-1.2)" d="M18.4,1126.7C18.4,1126.7 175.3,1124.0 175.3,1124.0C175.3,1124.0 175.3,1129.0 175.3,1129.0C175.3,1129.0 171.9,1135.7 171.9,1135.7C171.9,1135.7 175.3,1142.4 175.3,1142.4C175.3,1142.4 180.3,1145.7 180.3,1145.7"/>
<path class="wb2" transform="translate(-1,-1.2)" d="M1568.4,306.3C1566.4,305.6 1564.6,303.2 1560.8,303.7C1557.0,304.1 1557.2,304.6 1554.1,308.0C1551.0,311.4 1552.3,312.3 1549.2,316.3C1546.1,320.3 1544.7,318.1 1542.5,322.9C1540.3,327.8 1542.6,333.2 1540.8,334.6C1539.1,335.9 1538.5,331.9 1535.9,327.9C1533.2,323.9 1534.0,323.6 1530.9,319.6C1527.8,315.6 1527.8,316.1 1524.2,313.0C1520.7,309.9 1520.7,308.4 1517.6,308.0C1514.5,307.6 1515.7,311.3 1512.6,311.3C1509.5,311.3 1509.9,309.1 1506.0,308.0C1502.0,306.8 1501.2,305.2 1497.6,307.0C1494.1,308.8 1494.0,309.9 1492.7,314.6C1491.3,319.3 1495.3,321.1 1492.7,324.6C1490.0,328.2 1487.6,327.5 1482.7,327.9C1477.8,328.4 1477.5,324.9 1474.4,326.3C1471.3,327.6 1470.6,328.5 1471.1,332.9C1471.5,337.3 1473.4,336.7 1476.1,342.9C1478.7,349.1 1477.9,349.1 1481.0,356.2C1484.1,363.3 1484.6,362.4 1487.7,369.5C1490.8,376.6 1492.2,375.7 1492.7,382.8C1493.1,389.8 1491.6,389.0 1489.3,396.1C1487.1,403.1 1486.6,403.1 1484.4,409.3C1482.1,415.5 1481.0,414.0 1481.0,419.3C1481.0,424.6 1485.2,424.8 1484.4,429.3C1483.5,433.7 1482.1,434.6 1477.7,435.9C1473.3,437.3 1471.7,432.5 1467.7,434.3C1463.8,436.0 1463.2,436.8 1462.8,442.6C1462.3,448.3 1463.9,449.7 1466.1,455.9C1468.3,462.1 1469.3,460.5 1471.1,465.8C1472.8,471.1 1474.1,470.5 1472.7,475.8C1471.4,481.1 1468.3,480.9 1466.1,485.8C1463.9,490.6 1463.1,490.1 1464.4,494.1C1465.8,498.1 1467.1,497.2 1471.1,500.7C1475.1,504.3 1476.7,503.8 1479.4,507.4C1482.0,510.9 1482.4,510.5 1481.0,514.0C1479.7,517.6 1478.8,517.1 1474.4,520.7C1470.0,524.2 1468.0,523.8 1464.4,527.3C1460.9,530.9 1460.2,530.4 1461.1,534.0C1462.0,537.5 1465.1,537.1 1467.7,540.6C1470.4,544.1 1472.0,543.7 1471.1,547.2C1470.2,550.8 1468.0,550.3 1464.4,553.9C1460.9,557.4 1460.4,556.5 1457.8,560.5C1455.1,564.5 1455.8,563.5 1454.5,568.8C1453.1,574.2 1455.0,574.3 1452.8,580.5C1450.6,586.7 1450.1,585.9 1446.1,592.1C1442.2,598.3 1442.3,597.5 1437.8,603.7C1433.4,609.9 1433.5,610.0 1429.5,615.4C1425.5,620.7 1425.5,619.2 1422.9,623.7C1420.2,628.1 1418.7,627.1 1419.6,632.0C1420.4,636.9 1424.9,635.7 1426.2,641.9C1427.5,648.1 1426.3,648.6 1424.5,655.2C1422.8,661.9 1423.1,662.9 1419.6,666.9C1416.0,670.9 1416.1,671.1 1411.3,670.2C1406.4,669.3 1407.0,664.9 1401.3,663.5C1395.5,662.2 1395.4,663.0 1389.7,665.2C1383.9,667.4 1383.7,667.9 1379.7,671.9C1375.7,675.8 1374.7,678.0 1374.7,680.2C1374.7,682.3 1378.8,676.5 1379.7,680.0C1380.6,683.5 1380.2,686.6 1378.0,693.3C1375.8,699.9 1376.7,700.5 1371.4,704.9C1366.1,709.4 1365.2,708.6 1358.1,709.9C1351.0,711.2 1351.4,708.1 1344.8,709.9C1338.2,711.7 1339.4,712.1 1333.2,716.6C1327.0,721.0 1326.9,720.3 1321.5,726.5C1316.2,732.7 1314.6,733.2 1313.2,739.8C1311.9,746.5 1314.3,746.1 1316.6,751.4C1318.8,756.8 1322.9,755.8 1321.5,759.7C1320.2,763.7 1317.8,763.7 1311.6,766.4C1305.4,769.1 1304.9,770.6 1298.3,769.7C1291.6,768.8 1291.5,766.2 1286.6,763.1C1281.8,760.0 1281.8,759.3 1280.0,758.1C1278.2,756.9 1283.3,757.9 1280.0,758.5C1276.7,759.0 1274.5,758.8 1267.6,760.1C1260.8,761.5 1262.3,761.2 1254.3,763.5C1246.3,765.7 1245.2,764.9 1237.6,768.5C1230.0,772.0 1230.4,771.0 1225.9,776.8C1221.5,782.6 1222.7,782.6 1220.9,790.2C1219.1,797.7 1222.8,799.4 1219.2,805.2C1215.7,811.0 1215.1,809.6 1207.6,811.9C1200.0,814.1 1197.1,810.4 1190.9,813.5C1184.6,816.7 1186.4,818.2 1184.2,823.6C1182.0,828.9 1186.1,830.0 1182.5,833.6C1179.0,837.1 1174.4,833.4 1170.8,836.9C1167.3,840.5 1167.4,842.5 1169.2,846.9C1170.9,851.4 1174.4,848.3 1177.5,853.6C1180.6,858.9 1179.5,859.8 1180.8,867.0C1182.2,874.1 1184.3,873.2 1182.5,880.3C1180.7,887.4 1180.0,887.9 1174.2,893.7C1168.4,899.5 1167.9,897.6 1160.8,902.0C1153.7,906.5 1153.7,905.0 1147.5,910.4C1141.2,915.7 1142.8,917.1 1137.4,922.0C1132.1,926.9 1133.7,927.4 1127.4,928.7C1121.2,930.1 1120.3,929.3 1114.1,927.1C1107.8,924.8 1109.4,924.8 1104.1,920.4C1098.7,915.9 1099.4,915.3 1094.0,910.4C1088.7,905.5 1089.4,906.5 1084.0,902.0C1078.7,897.6 1080.2,896.3 1074.0,893.7C1067.8,891.0 1066.9,891.1 1060.7,892.0C1054.4,892.9 1056.0,896.6 1050.6,897.0C1045.3,897.5 1046.0,897.2 1040.6,893.7C1035.3,890.1 1036.8,886.8 1030.6,883.7C1024.4,880.5 1024.4,880.6 1017.3,882.0C1010.1,883.3 1010.1,884.7 1003.9,888.7C997.7,892.7 999.2,893.0 993.9,897.0C988.5,901.0 990.1,900.1 983.9,903.7C977.6,907.2 976.3,906.4 970.5,910.4C964.7,914.4 964.8,913.4 962.2,918.7C959.5,924.0 962.3,923.7 960.5,930.4C958.7,937.1 959.1,938.0 955.5,943.7C951.9,949.5 951.6,947.6 947.1,952.1C942.7,956.5 939.2,956.4 938.8,960.4C938.4,964.4 944.1,962.7 945.5,967.1C946.8,971.6 946.9,972.7 943.8,977.1C940.7,981.6 939.6,982.5 933.8,983.8C928.0,985.1 927.9,984.4 922.1,982.1C916.3,979.9 917.0,980.4 912.1,975.5C907.2,970.6 907.8,970.5 903.7,963.8C899.7,957.1 901.5,957.5 897.1,950.4C892.6,943.3 893.3,943.3 887.1,937.1C880.8,930.8 879.0,930.6 873.7,927.1C868.4,923.5 871.5,922.4 867.0,923.7C862.6,925.0 864.1,928.9 857.0,932.1C849.9,935.2 846.5,933.6 840.3,935.4C834.1,937.2 835.9,934.7 833.6,938.7C831.4,942.7 830.2,945.5 832.0,950.4C833.7,955.3 836.3,952.6 840.3,957.1C844.3,961.6 847.0,961.8 847.0,967.1C847.0,972.5 845.7,973.6 840.3,977.1C835.0,980.7 834.1,980.0 827.0,980.5C819.8,980.9 820.7,977.9 813.6,978.8C806.5,979.7 807.4,983.4 800.3,983.8C793.1,984.3 794.0,984.0 786.9,980.5C779.8,976.9 779.8,975.8 773.5,970.5C767.3,965.1 768.0,965.8 763.5,960.4C759.1,955.1 760.4,954.9 756.8,950.4C753.3,946.0 755.5,946.0 750.2,943.7C744.8,941.5 743.9,942.1 736.8,942.1C729.7,942.1 730.6,942.9 723.5,943.7C716.3,944.6 717.2,945.9 710.1,945.4C703.0,945.0 703.9,944.3 696.8,942.1C689.6,939.9 690.5,940.2 683.4,937.1C676.3,934.0 677.2,934.4 670.0,930.4C662.9,926.4 664.7,925.2 656.7,922.0C648.7,918.9 644.5,919.6 640.0,918.7"/>
<path class="wb2" transform="translate(-1,-1.2)" d="M750.2,943.7C752.8,941.1 754.0,939.5 760.2,933.7C766.4,927.9 766.4,923.8 773.5,922.0C780.7,920.3 779.8,923.0 786.9,927.1C794.0,931.1 793.1,931.7 800.3,937.1C807.4,942.4 806.5,943.1 813.6,947.1C820.7,951.1 822.1,951.2 827.0,952.1C831.9,953.0 830.6,950.9 832.0,950.4"/>
<path class="wb2" transform="translate(-1,-1.2)" d="M755.2,947.1C758.3,950.6 760.2,953.8 766.9,960.4C773.5,967.1 772.2,966.8 780.2,972.1C788.2,977.5 788.0,979.6 796.9,980.5C805.8,981.4 805.6,977.2 813.6,975.5C821.6,973.7 819.8,975.1 827.0,973.8C834.1,972.5 835.4,973.1 840.3,970.5C845.2,967.8 845.3,968.2 845.3,963.8C845.3,959.3 843.0,958.2 840.3,953.8C837.6,949.3 836.6,948.9 835.3,947.1"/>
<path class="wb2" transform="translate(-1,-1.2)" d="M753.5,940.4C756.6,944.0 759.0,947.1 765.2,953.8C771.4,960.4 769.8,960.1 776.9,965.4C784.0,970.8 783.9,972.0 791.9,973.8C799.9,975.6 799.4,973.7 806.9,972.1C814.5,970.5 813.2,970.0 820.3,967.8C827.4,965.6 830.1,964.8 833.6,963.8"/>
<path class="wb2" transform="translate(-1,-1.2)" d="M1040.6,893.7C1040.2,897.2 1040.7,899.9 1039.0,907.0C1037.2,914.1 1033.9,912.4 1033.9,920.4C1033.9,928.4 1035.8,929.1 1039.0,937.1C1042.1,945.1 1041.2,943.3 1045.6,950.4C1050.1,957.5 1050.8,955.8 1055.6,963.8C1060.5,971.8 1059.8,970.8 1064.0,980.5C1068.2,990.1 1064.8,988.1 1071.2,1000.0C1077.6,1011.9 1079.6,1012.3 1088.0,1025.1C1096.4,1038.0 1100.2,1038.1 1102.7,1048.2C1105.2,1058.3 1097.4,1055.0 1097.4,1062.9C1097.4,1070.7 1101.8,1069.7 1102.7,1077.5C1103.5,1085.4 1098.9,1084.9 1100.6,1092.2C1102.3,1099.5 1103.4,1095.8 1109.0,1104.8C1114.5,1113.7 1115.9,1116.8 1121.5,1125.7C1127.1,1134.7 1123.8,1131.6 1129.9,1138.3C1136.1,1145.0 1136.8,1143.0 1144.6,1150.9C1152.4,1158.7 1153.1,1163.7 1159.2,1167.6C1165.4,1171.5 1165.4,1166.1 1167.6,1165.5"/>
<path class="wb2" transform="translate(-1,-1.2)" d="M1568.4,927.6C1565.9,931.5 1563.8,938.1 1559.1,942.5C1554.4,946.9 1554.4,945.9 1550.8,944.2C1547.3,942.4 1549.4,940.7 1545.8,935.9C1542.3,931.0 1542.4,928.1 1537.5,925.9C1532.7,923.7 1532.4,925.3 1527.6,927.6C1522.7,929.8 1520.1,929.8 1519.2,934.2C1518.4,938.6 1524.7,940.6 1524.2,944.2C1523.8,947.7 1522.5,945.3 1517.6,947.5C1512.7,949.7 1511.3,950.3 1506.0,952.5C1500.6,954.7 1501.2,957.6 1497.6,955.8C1494.1,954.0 1496.2,950.7 1492.7,945.8C1489.1,941.0 1488.3,938.4 1484.4,937.5C1480.4,936.6 1480.4,938.5 1477.7,942.5C1475.1,946.5 1476.2,946.3 1474.4,952.5C1472.6,958.7 1474.6,961.3 1471.1,965.8C1467.5,970.2 1465.1,970.9 1461.1,969.1C1457.1,967.3 1459.2,962.2 1456.1,959.1C1453.0,956.0 1452.6,955.7 1449.5,957.5C1446.4,959.2 1445.4,960.5 1444.5,965.8C1443.6,971.1 1448.4,973.9 1446.1,977.4C1443.9,980.9 1441.5,978.2 1436.2,979.1C1430.9,979.9 1430.6,982.1 1426.2,980.7C1421.8,979.4 1422.7,978.5 1419.6,974.1C1416.5,969.6 1417.7,965.4 1414.6,964.1C1411.5,962.8 1410.6,965.1 1407.9,969.1C1405.3,973.1 1406.8,973.7 1404.6,979.1C1402.4,984.4 1403.2,984.6 1399.6,989.0C1396.1,993.5 1395.1,992.8 1391.3,995.7C1387.6,998.6 1387.4,995.5 1385.5,1000.0C1383.7,1004.5 1385.3,1005.3 1384.5,1012.6C1383.7,1019.8 1384.9,1021.1 1382.4,1027.2C1379.9,1033.4 1379.8,1031.7 1375.1,1035.6C1370.3,1039.5 1369.6,1039.4 1364.6,1041.9C1359.6,1044.4 1361.2,1045.0 1356.2,1045.0C1351.2,1045.0 1351.3,1041.9 1345.7,1041.9C1340.1,1041.9 1339.2,1041.7 1335.3,1045.0C1331.3,1048.4 1333.3,1049.7 1331.1,1054.5C1328.8,1059.2 1329.7,1057.3 1326.9,1062.9C1324.1,1068.4 1324.5,1069.8 1320.6,1075.4C1316.7,1081.0 1316.7,1083.3 1312.2,1083.8C1307.7,1084.4 1308.9,1080.9 1303.8,1077.5C1298.8,1074.2 1298.4,1071.8 1293.3,1071.2C1288.3,1070.7 1290.6,1071.0 1285.0,1075.4C1279.4,1079.9 1279.1,1082.4 1272.4,1088.0C1265.7,1093.6 1265.4,1093.0 1259.8,1096.4C1254.2,1099.7 1255.9,1097.2 1251.4,1100.6C1247.0,1103.9 1247.0,1104.5 1243.1,1109.0C1239.1,1113.4 1239.0,1111.8 1236.8,1117.3C1234.5,1122.9 1237.5,1124.3 1234.7,1129.9C1231.9,1135.5 1230.8,1133.3 1226.3,1138.3C1221.8,1143.3 1221.3,1144.9 1217.9,1148.8C1214.6,1152.7 1216.5,1153.0 1213.7,1153.0C1210.9,1153.0 1210.8,1150.4 1207.4,1148.8C1204.1,1147.1 1204.5,1145.0 1201.2,1146.7C1197.8,1148.3 1198.2,1149.5 1194.9,1155.1C1191.5,1160.6 1191.4,1162.0 1188.6,1167.6C1185.8,1173.2 1187.2,1174.3 1184.4,1176.0C1181.6,1177.7 1181.5,1176.7 1178.1,1173.9C1174.8,1171.1 1174.6,1167.8 1171.8,1165.5C1169.0,1163.3 1171.0,1162.7 1167.6,1165.5C1164.3,1168.3 1164.8,1170.4 1159.2,1176.0C1153.7,1181.6 1154.5,1181.7 1146.7,1186.5C1138.9,1191.2 1137.2,1190.5 1129.9,1193.8C1122.6,1197.2 1123.1,1195.4 1119.4,1199.1C1115.8,1202.7 1115.7,1203.5 1116.3,1207.4C1116.9,1211.3 1116.8,1210.9 1121.5,1213.7C1126.3,1216.5 1128.0,1215.7 1134.1,1217.9C1140.2,1220.2 1140.4,1218.2 1144.6,1222.1C1148.8,1226.0 1149.3,1225.9 1149.8,1232.6C1150.4,1239.3 1148.6,1240.5 1146.7,1247.2C1144.7,1254.0 1144.7,1252.7 1142.5,1257.7C1140.2,1262.8 1140.8,1265.5 1138.3,1266.1C1135.8,1266.7 1135.8,1264.3 1133.1,1259.8C1130.3,1255.4 1132.0,1253.8 1127.8,1249.3C1123.6,1244.9 1124.6,1245.6 1117.3,1243.1C1110.1,1240.5 1108.4,1240.5 1100.6,1239.9C1092.8,1239.4 1093.3,1238.4 1088.0,1241.0C1082.7,1243.5 1082.9,1243.8 1080.7,1249.3C1078.4,1254.9 1079.1,1254.7 1079.6,1261.9C1080.2,1269.2 1084.4,1271.3 1082.8,1276.6C1081.1,1281.9 1079.8,1279.3 1073.3,1281.8C1066.9,1284.3 1065.9,1283.5 1058.7,1286.0C1051.4,1288.5 1051.7,1287.1 1046.1,1291.3C1040.5,1295.4 1039.4,1296.7 1037.7,1301.7C1036.0,1306.8 1037.0,1306.2 1039.8,1310.1C1042.6,1314.0 1046.2,1312.5 1048.2,1316.4C1050.1,1320.3 1049.4,1320.3 1047.1,1324.8C1044.9,1329.2 1045.7,1329.2 1039.8,1333.2C1033.9,1337.1 1033.0,1335.0 1025.1,1339.4C1017.3,1343.9 1017.2,1344.3 1010.5,1349.9C1003.8,1355.5 1005.3,1352.7 1000.0,1360.4C994.7,1368.1 997.5,1372.5 990.5,1378.7C983.6,1384.9 981.9,1381.5 973.9,1383.7C965.8,1385.9 965.0,1383.5 960.5,1387.0C956.0,1390.6 958.1,1389.9 957.2,1397.0C956.3,1404.2 958.9,1405.7 957.2,1413.7C955.4,1421.7 955.8,1420.4 950.5,1427.1C945.1,1433.8 943.4,1433.4 937.1,1438.8C930.9,1444.1 931.1,1442.2 927.1,1447.1C923.1,1452.0 922.1,1451.3 922.1,1457.1C922.1,1462.9 927.1,1462.1 927.1,1468.8C927.1,1475.5 923.9,1476.8 922.1,1482.2C920.3,1487.5 925.3,1486.2 920.4,1488.8C915.5,1491.5 912.6,1490.0 903.7,1492.2C894.8,1494.4 895.1,1494.5 887.1,1497.2C879.0,1499.9 879.0,1498.6 873.7,1502.2C868.4,1505.8 871.0,1505.2 867.0,1510.5C863.0,1515.9 862.7,1516.9 858.7,1522.2C854.7,1527.6 854.2,1525.2 852.0,1530.6C849.8,1535.9 851.2,1535.6 850.3,1542.3C849.4,1548.9 851.3,1548.5 848.7,1555.6C846.0,1562.7 844.8,1561.4 840.3,1569.0C835.9,1576.5 837.3,1578.7 832.0,1584.0C826.6,1589.3 825.2,1585.4 820.3,1589.0C815.4,1592.6 816.3,1592.5 813.6,1597.4C810.9,1602.2 812.5,1602.5 810.3,1607.4C808.0,1612.3 807.9,1610.4 805.3,1615.7C802.6,1621.1 805.1,1622.1 800.3,1627.4C795.4,1632.7 792.7,1632.4 786.9,1635.7C781.1,1639.1 780.1,1640.3 778.5,1640.1C777.0,1639.9 788.3,1628.4 781.0,1635.0C773.7,1641.6 759.0,1653.0 751.0,1665.0C743.0,1677.0 757.7,1669.3 751.0,1680.0C744.3,1690.7 739.3,1693.0 726.0,1705.0C712.7,1717.0 715.7,1717.5 701.0,1725.0C686.3,1732.5 683.0,1727.7 671.0,1733.0C659.0,1738.3 662.1,1737.3 656.0,1745.0C649.9,1752.7 650.1,1757.5 648.0,1762.0"/>
<path class="wb" d="M542.5,221.7C545.6,222.6 548.4,221.9 554.2,225.0C560.0,228.2 559.8,228.5 564.2,233.4C568.7,238.3 568.7,238.1 570.9,243.4C573.1,248.7 573.5,248.1 572.6,253.4C571.7,258.8 569.3,258.5 567.6,263.4C565.8,268.3 565.9,266.9 565.9,271.8C565.9,276.7 568.4,277.3 567.6,281.8C566.7,286.2 565.7,286.2 562.5,288.5C559.4,290.7 559.0,287.0 555.9,290.1C552.8,293.3 554.4,296.6 550.9,300.2C547.3,303.7 545.6,304.4 542.5,303.5C539.4,302.6 541.4,297.7 539.2,296.8C537.0,295.9 535.1,295.7 534.2,300.2C533.3,304.6 537.6,309.1 535.8,313.5C534.1,318.0 531.9,316.4 527.5,316.8C523.0,317.3 523.6,313.8 519.1,315.2C514.7,316.5 513.9,317.4 510.8,321.9C507.7,326.3 506.1,328.8 507.5,331.9C508.8,335.0 512.2,331.8 515.8,333.5C519.4,335.3 520.8,335.4 520.8,338.5C520.8,341.7 519.8,341.7 515.8,345.2C511.8,348.8 510.7,349.2 505.8,351.9C500.9,354.6 501.9,354.8 497.4,355.2C493.0,355.7 490.9,351.3 489.1,353.6C487.3,355.8 488.5,359.1 490.8,363.6C493.0,368.0 496.1,365.8 497.4,370.3C498.8,374.7 498.0,376.3 495.8,380.3C493.5,384.3 493.1,383.5 489.1,385.3C485.1,387.1 484.3,383.8 480.8,387.0C477.2,390.1 475.3,393.4 475.7,397.0C476.2,400.5 479.7,397.6 482.4,400.3C485.1,403.0 486.2,403.9 485.8,407.0C485.3,410.1 484.3,409.8 480.8,412.0C477.2,414.2 476.0,412.2 472.4,415.3C468.8,418.5 467.0,420.6 467.4,423.7C467.8,426.8 470.5,424.4 474.1,427.0C477.6,429.7 479.0,429.7 480.8,433.7C482.5,437.7 484.3,438.5 480.8,442.0C477.2,445.6 473.6,443.5 467.4,447.1C461.2,450.6 464.5,450.9 457.4,455.4C450.3,459.9 449.6,459.7 440.7,463.7C431.8,467.8 432.0,466.9 424.0,470.4C416.0,474.0 416.0,472.6 410.6,477.1C405.3,481.6 407.1,482.2 404.0,487.1C400.8,492.0 403.0,492.3 399.0,495.5C395.0,498.6 389.4,496.1 388.9,498.8C388.5,501.5 392.8,501.5 397.3,505.5C401.7,509.5 404.7,509.8 405.6,513.8C406.5,517.8 405.1,517.4 400.6,520.5C396.2,523.6 392.9,521.9 388.9,525.5C384.9,529.1 385.6,528.1 385.6,533.9C385.6,539.6 388.9,540.5 388.9,547.2C388.9,553.9 389.2,554.4 385.6,558.9C382.0,563.3 380.0,559.9 375.6,563.9C371.1,567.9 369.8,568.6 368.9,573.9C368.0,579.3 369.1,579.0 372.2,583.9C375.4,588.8 380.1,588.7 380.6,592.3C381.0,595.8 377.9,595.5 373.9,597.3C369.9,599.1 366.0,595.4 365.6,599.0C365.1,602.5 371.4,604.9 372.2,610.6C373.1,616.4 367.6,615.3 368.9,620.7C370.2,626.0 375.5,624.4 377.3,630.7C379.0,636.9 374.7,636.5 375.6,644.0C376.5,651.6 383.3,654.2 380.6,659.1C377.9,663.9 371.4,662.8 365.6,662.4C359.8,661.9 360.2,652.7 358.9,657.4C357.6,662.1 360.1,674.1 360.6,680.1C361.0,686.1 360.1,676.9 360.6,680.0C361.0,683.1 364.0,687.2 362.2,691.7C360.5,696.1 357.4,692.2 353.9,696.7C350.3,701.1 353.3,703.9 348.9,708.4C344.4,712.8 341.6,709.8 337.2,713.4C332.7,716.9 331.3,717.7 332.2,721.7C333.1,725.7 338.8,724.4 340.5,728.4C342.3,732.4 342.0,734.1 338.9,736.8C335.7,739.4 333.3,738.4 328.8,738.4C324.4,738.4 324.4,735.4 322.2,736.8C319.9,738.1 326.3,739.0 320.5,743.4C314.7,747.9 308.5,749.4 300.5,753.4C292.5,757.5 291.8,753.6 290.5,758.5C289.1,763.4 296.4,766.0 295.5,771.8C294.6,777.6 291.6,777.0 287.1,780.2C282.7,783.3 278.8,779.9 278.8,783.5C278.8,787.1 286.2,789.1 287.1,793.5C288.0,798.0 286.6,799.3 282.1,800.2C277.7,801.1 274.0,793.3 270.4,796.8C266.9,800.4 272.3,808.2 268.8,813.5C265.2,818.9 263.3,815.1 257.1,816.9C250.8,818.7 250.3,816.7 245.4,820.2C240.5,823.8 240.9,824.9 238.7,830.2C236.5,835.6 235.7,834.9 237.0,840.3C238.4,845.6 239.3,845.8 243.7,850.3C248.2,854.7 250.2,852.5 253.7,856.9C257.3,861.4 256.6,860.7 257.1,867.0C257.5,873.2 256.7,874.5 255.4,880.3C254.1,886.1 253.0,886.4 252.1,888.7"/>
<path class="wb" d="M18.4,555.6C21.9,554.7 26.4,551.3 31.7,552.2C37.1,553.1 33.9,556.5 38.4,558.9C42.8,561.3 42.6,561.7 48.4,561.2C54.2,560.8 54.3,560.1 60.1,557.2C65.9,554.4 66.1,553.7 70.1,550.5C74.1,547.4 71.1,546.9 75.1,545.5C79.1,544.2 81.1,542.9 85.1,545.5C89.1,548.2 86.6,551.5 90.1,555.6C93.7,559.6 94.0,557.4 98.5,560.6C102.9,563.7 102.4,565.5 106.8,567.2C111.3,569.0 110.3,566.4 115.2,567.2C120.1,568.1 120.3,569.7 125.2,570.6C130.1,571.5 129.1,568.8 133.5,570.6C138.0,572.4 138.3,572.8 141.9,577.3C145.4,581.7 143.3,582.8 146.9,587.3C150.5,591.7 150.8,590.8 155.2,593.9C159.7,597.1 159.6,597.2 163.6,599.0C167.6,600.7 167.2,596.6 170.3,600.6C173.4,604.6 171.7,609.1 175.3,614.0C178.8,618.9 179.2,618.1 183.6,619.0C188.1,619.9 187.5,615.5 192.0,617.3C196.4,619.1 196.8,621.2 200.3,625.7C203.9,630.1 203.1,629.1 205.3,634.0C207.5,638.9 205.5,641.4 208.7,644.0C211.8,646.7 212.6,644.5 217.0,644.0C221.5,643.6 221.8,639.2 225.4,642.4C228.9,645.5 227.2,649.9 230.4,655.7C233.5,661.5 232.6,660.5 237.0,664.1C241.5,667.6 241.7,666.4 247.1,669.1C252.4,671.7 252.6,671.1 257.1,674.1C261.5,677.0 262.4,678.5 263.7,680.1C265.1,681.7 261.2,678.2 262.1,680.0C263.0,681.8 263.1,683.1 267.1,686.7C271.1,690.2 271.8,688.9 277.1,693.4C282.4,697.8 282.7,698.0 287.1,703.4C291.6,708.7 289.3,708.9 293.8,713.4C298.2,717.8 298.5,716.9 303.8,720.1C309.1,723.2 308.9,721.1 313.8,725.1C318.7,729.1 319.9,732.4 322.2,735.1"/>
<path class="wb" d="M640.0,918.7C634.9,919.3 631.4,920.2 621.0,921.0C610.6,921.9 611.6,923.1 600.9,922.0C590.3,921.0 590.7,920.2 580.9,917.0C571.1,913.9 573.1,914.4 564.2,910.4C555.3,906.4 555.5,906.5 547.5,902.0C539.5,897.6 541.3,895.9 534.2,893.7C527.0,891.4 528.8,894.1 520.8,893.7C512.8,893.2 512.1,894.7 504.1,892.0C496.1,889.3 497.9,888.1 490.8,883.7C483.6,879.2 485.4,878.0 477.4,875.3C469.4,872.6 470.5,875.0 460.7,873.6C450.9,872.3 451.4,871.2 440.7,870.3C430.0,869.4 431.3,869.4 420.7,870.3C410.0,871.2 410.4,873.2 400.6,873.6C390.8,874.1 393.7,873.3 383.9,872.0C374.1,870.6 375.5,868.2 363.9,868.6C352.3,869.1 352.1,871.4 340.5,873.6C329.0,875.9 330.3,876.5 320.5,877.0C310.7,877.4 312.7,876.2 303.8,875.3C294.9,874.4 296.9,872.3 287.1,873.6C277.3,875.0 276.4,876.3 267.1,880.3C257.7,884.3 261.0,883.3 252.1,888.7C243.2,894.0 243.9,895.0 233.7,900.3C223.5,905.7 223.0,904.2 213.7,908.7C204.3,913.1 204.9,911.7 198.6,917.0C192.4,922.4 193.9,922.5 190.3,928.7C186.7,935.0 189.3,935.5 185.3,940.4C181.3,945.3 178.8,942.6 175.3,947.1C171.7,951.5 171.9,951.8 171.9,957.1C171.9,962.4 174.8,961.8 175.3,967.1C175.7,972.5 174.5,971.8 173.6,977.1C172.7,982.5 170.6,982.3 171.9,987.1C173.3,992.0 174.6,991.0 178.6,995.5C182.6,999.9 183.4,998.9 187.0,1003.8C190.5,1008.7 190.4,1006.7 192.0,1013.9C193.6,1021.0 192.3,1021.6 193.0,1030.5C193.6,1039.5 194.6,1038.3 194.3,1047.2C194.0,1056.1 193.9,1055.0 192.0,1063.9C190.0,1072.8 188.7,1073.5 187.0,1080.6C185.2,1087.7 184.8,1084.4 185.3,1090.6C185.7,1096.9 188.6,1097.8 188.6,1104.0C188.6,1110.2 187.1,1107.8 185.3,1114.0C183.5,1120.2 183.3,1120.2 182.0,1127.4C180.6,1134.5 182.5,1134.5 180.3,1140.7C178.1,1147.0 177.6,1145.6 173.6,1150.7C169.6,1155.9 167.5,1157.6 165.3,1160.1C163.0,1162.6 167.5,1157.8 165.3,1160.0C163.0,1162.2 161.8,1164.8 156.9,1168.3C152.0,1171.9 153.1,1172.0 146.9,1173.4C140.7,1174.7 139.8,1174.7 133.5,1173.4C127.3,1172.0 128.4,1168.3 123.5,1168.3C118.6,1168.3 118.3,1168.5 115.2,1173.4C112.1,1178.3 113.6,1180.0 111.8,1186.7C110.1,1193.4 109.8,1192.2 108.5,1198.4C107.2,1204.6 106.4,1203.4 106.8,1210.1C107.3,1216.8 109.3,1216.3 110.2,1223.4C111.1,1230.6 108.4,1231.0 110.2,1236.8C112.0,1242.6 115.1,1238.9 116.8,1245.1C118.6,1251.4 117.3,1253.0 116.8,1260.2C116.4,1267.3 113.8,1266.1 115.2,1271.8C116.5,1277.6 118.7,1276.1 121.9,1281.9C125.0,1287.6 126.4,1287.8 126.9,1293.5C127.3,1299.3 126.6,1298.7 123.5,1303.6C120.4,1308.5 118.3,1306.6 115.2,1311.9C112.1,1317.2 113.2,1316.9 111.8,1323.6C110.5,1330.3 109.3,1330.3 110.2,1336.9C111.1,1343.6 113.0,1343.7 115.2,1348.6C117.4,1353.5 119.9,1349.5 118.5,1355.3C117.2,1361.1 114.6,1362.8 110.2,1370.3C105.7,1377.9 105.8,1377.5 101.8,1383.7C97.8,1389.9 97.4,1387.5 95.1,1393.7C92.9,1399.9 93.5,1399.0 93.5,1407.1C93.5,1415.1 96.0,1415.7 95.1,1423.7C94.3,1431.8 93.3,1430.4 90.1,1437.1C87.0,1443.8 86.1,1442.6 83.5,1448.8C80.8,1455.0 80.1,1453.8 80.1,1460.5C80.1,1467.1 83.9,1467.6 83.5,1473.8C83.0,1480.1 82.9,1478.1 78.5,1483.8C74.0,1489.6 72.6,1491.1 66.8,1495.5C61.0,1500.0 62.5,1498.3 56.8,1500.5C51.0,1502.8 50.4,1501.2 45.1,1503.9C39.7,1506.5 39.8,1506.1 36.7,1510.5C33.6,1515.0 36.1,1515.2 33.4,1520.6C30.7,1525.9 29.4,1525.2 26.7,1530.6C24.0,1535.9 25.6,1535.7 23.4,1540.6C21.1,1545.5 19.7,1546.7 18.4,1548.9"/>
<path class="wb" d="M640.0,916.7C634.9,916.5 631.4,916.6 621.0,916.0C610.6,915.5 611.6,916.1 600.9,914.7C590.3,913.3 590.7,913.7 580.9,910.7C571.1,907.7 573.1,907.6 564.2,903.4C555.3,899.1 555.5,898.8 547.5,894.7C539.5,890.6 541.3,890.1 534.2,888.0C527.0,885.9 528.8,887.6 520.8,886.7C512.8,885.8 512.1,887.2 504.1,884.7C496.1,882.2 497.9,881.2 490.8,877.3C483.6,873.4 485.4,872.5 477.4,870.0C469.4,867.5 470.5,869.3 460.7,868.0C450.9,866.6 451.4,865.9 440.7,865.0C430.0,864.1 431.3,863.8 420.7,864.6C410.0,865.4 410.4,867.4 400.6,868.0C390.8,868.5 393.7,867.9 383.9,866.6C374.1,865.4 375.5,862.9 363.9,863.3C352.3,863.6 352.1,865.8 340.5,868.0C329.0,870.1 330.3,870.6 320.5,871.3C310.7,872.0 308.3,870.8 303.8,870.6"/>
<path class="wb" d="M18.4,1126.7C18.4,1126.7 175.3,1124.0 175.3,1124.0C175.3,1124.0 175.3,1129.0 175.3,1129.0C175.3,1129.0 171.9,1135.7 171.9,1135.7C171.9,1135.7 175.3,1142.4 175.3,1142.4C175.3,1142.4 180.3,1145.7 180.3,1145.7"/>
<path class="wb" d="M1568.4,306.3C1566.4,305.6 1564.6,303.2 1560.8,303.7C1557.0,304.1 1557.2,304.6 1554.1,308.0C1551.0,311.4 1552.3,312.3 1549.2,316.3C1546.1,320.3 1544.7,318.1 1542.5,322.9C1540.3,327.8 1542.6,333.2 1540.8,334.6C1539.1,335.9 1538.5,331.9 1535.9,327.9C1533.2,323.9 1534.0,323.6 1530.9,319.6C1527.8,315.6 1527.8,316.1 1524.2,313.0C1520.7,309.9 1520.7,308.4 1517.6,308.0C1514.5,307.6 1515.7,311.3 1512.6,311.3C1509.5,311.3 1509.9,309.1 1506.0,308.0C1502.0,306.8 1501.2,305.2 1497.6,307.0C1494.1,308.8 1494.0,309.9 1492.7,314.6C1491.3,319.3 1495.3,321.1 1492.7,324.6C1490.0,328.2 1487.6,327.5 1482.7,327.9C1477.8,328.4 1477.5,324.9 1474.4,326.3C1471.3,327.6 1470.6,328.5 1471.1,332.9C1471.5,337.3 1473.4,336.7 1476.1,342.9C1478.7,349.1 1477.9,349.1 1481.0,356.2C1484.1,363.3 1484.6,362.4 1487.7,369.5C1490.8,376.6 1492.2,375.7 1492.7,382.8C1493.1,389.8 1491.6,389.0 1489.3,396.1C1487.1,403.1 1486.6,403.1 1484.4,409.3C1482.1,415.5 1481.0,414.0 1481.0,419.3C1481.0,424.6 1485.2,424.8 1484.4,429.3C1483.5,433.7 1482.1,434.6 1477.7,435.9C1473.3,437.3 1471.7,432.5 1467.7,434.3C1463.8,436.0 1463.2,436.8 1462.8,442.6C1462.3,448.3 1463.9,449.7 1466.1,455.9C1468.3,462.1 1469.3,460.5 1471.1,465.8C1472.8,471.1 1474.1,470.5 1472.7,475.8C1471.4,481.1 1468.3,480.9 1466.1,485.8C1463.9,490.6 1463.1,490.1 1464.4,494.1C1465.8,498.1 1467.1,497.2 1471.1,500.7C1475.1,504.3 1476.7,503.8 1479.4,507.4C1482.0,510.9 1482.4,510.5 1481.0,514.0C1479.7,517.6 1478.8,517.1 1474.4,520.7C1470.0,524.2 1468.0,523.8 1464.4,527.3C1460.9,530.9 1460.2,530.4 1461.1,534.0C1462.0,537.5 1465.1,537.1 1467.7,540.6C1470.4,544.1 1472.0,543.7 1471.1,547.2C1470.2,550.8 1468.0,550.3 1464.4,553.9C1460.9,557.4 1460.4,556.5 1457.8,560.5C1455.1,564.5 1455.8,563.5 1454.5,568.8C1453.1,574.2 1455.0,574.3 1452.8,580.5C1450.6,586.7 1450.1,585.9 1446.1,592.1C1442.2,598.3 1442.3,597.5 1437.8,603.7C1433.4,609.9 1433.5,610.0 1429.5,615.4C1425.5,620.7 1425.5,619.2 1422.9,623.7C1420.2,628.1 1418.7,627.1 1419.6,632.0C1420.4,636.9 1424.9,635.7 1426.2,641.9C1427.5,648.1 1426.3,648.6 1424.5,655.2C1422.8,661.9 1423.1,662.9 1419.6,666.9C1416.0,670.9 1416.1,671.1 1411.3,670.2C1406.4,669.3 1407.0,664.9 1401.3,663.5C1395.5,662.2 1395.4,663.0 1389.7,665.2C1383.9,667.4 1383.7,667.9 1379.7,671.9C1375.7,675.8 1374.7,678.0 1374.7,680.2C1374.7,682.3 1378.8,676.5 1379.7,680.0C1380.6,683.5 1380.2,686.6 1378.0,693.3C1375.8,699.9 1376.7,700.5 1371.4,704.9C1366.1,709.4 1365.2,708.6 1358.1,709.9C1351.0,711.2 1351.4,708.1 1344.8,709.9C1338.2,711.7 1339.4,712.1 1333.2,716.6C1327.0,721.0 1326.9,720.3 1321.5,726.5C1316.2,732.7 1314.6,733.2 1313.2,739.8C1311.9,746.5 1314.3,746.1 1316.6,751.4C1318.8,756.8 1322.9,755.8 1321.5,759.7C1320.2,763.7 1317.8,763.7 1311.6,766.4C1305.4,769.1 1304.9,770.6 1298.3,769.7C1291.6,768.8 1291.5,766.2 1286.6,763.1C1281.8,760.0 1281.8,759.3 1280.0,758.1C1278.2,756.9 1283.3,757.9 1280.0,758.5C1276.7,759.0 1274.5,758.8 1267.6,760.1C1260.8,761.5 1262.3,761.2 1254.3,763.5C1246.3,765.7 1245.2,764.9 1237.6,768.5C1230.0,772.0 1230.4,771.0 1225.9,776.8C1221.5,782.6 1222.7,782.6 1220.9,790.2C1219.1,797.7 1222.8,799.4 1219.2,805.2C1215.7,811.0 1215.1,809.6 1207.6,811.9C1200.0,814.1 1197.1,810.4 1190.9,813.5C1184.6,816.7 1186.4,818.2 1184.2,823.6C1182.0,828.9 1186.1,830.0 1182.5,833.6C1179.0,837.1 1174.4,833.4 1170.8,836.9C1167.3,840.5 1167.4,842.5 1169.2,846.9C1170.9,851.4 1174.4,848.3 1177.5,853.6C1180.6,858.9 1179.5,859.8 1180.8,867.0C1182.2,874.1 1184.3,873.2 1182.5,880.3C1180.7,887.4 1180.0,887.9 1174.2,893.7C1168.4,899.5 1167.9,897.6 1160.8,902.0C1153.7,906.5 1153.7,905.0 1147.5,910.4C1141.2,915.7 1142.8,917.1 1137.4,922.0C1132.1,926.9 1133.7,927.4 1127.4,928.7C1121.2,930.1 1120.3,929.3 1114.1,927.1C1107.8,924.8 1109.4,924.8 1104.1,920.4C1098.7,915.9 1099.4,915.3 1094.0,910.4C1088.7,905.5 1089.4,906.5 1084.0,902.0C1078.7,897.6 1080.2,896.3 1074.0,893.7C1067.8,891.0 1066.9,891.1 1060.7,892.0C1054.4,892.9 1056.0,896.6 1050.6,897.0C1045.3,897.5 1046.0,897.2 1040.6,893.7C1035.3,890.1 1036.8,886.8 1030.6,883.7C1024.4,880.5 1024.4,880.6 1017.3,882.0C1010.1,883.3 1010.1,884.7 1003.9,888.7C997.7,892.7 999.2,893.0 993.9,897.0C988.5,901.0 990.1,900.1 983.9,903.7C977.6,907.2 976.3,906.4 970.5,910.4C964.7,914.4 964.8,913.4 962.2,918.7C959.5,924.0 962.3,923.7 960.5,930.4C958.7,937.1 959.1,938.0 955.5,943.7C951.9,949.5 951.6,947.6 947.1,952.1C942.7,956.5 939.2,956.4 938.8,960.4C938.4,964.4 944.1,962.7 945.5,967.1C946.8,971.6 946.9,972.7 943.8,977.1C940.7,981.6 939.6,982.5 933.8,983.8C928.0,985.1 927.9,984.4 922.1,982.1C916.3,979.9 917.0,980.4 912.1,975.5C907.2,970.6 907.8,970.5 903.7,963.8C899.7,957.1 901.5,957.5 897.1,950.4C892.6,943.3 893.3,943.3 887.1,937.1C880.8,930.8 879.0,930.6 873.7,927.1C868.4,923.5 871.5,922.4 867.0,923.7C862.6,925.0 864.1,928.9 857.0,932.1C849.9,935.2 846.5,933.6 840.3,935.4C834.1,937.2 835.9,934.7 833.6,938.7C831.4,942.7 830.2,945.5 832.0,950.4C833.7,955.3 836.3,952.6 840.3,957.1C844.3,961.6 847.0,961.8 847.0,967.1C847.0,972.5 845.7,973.6 840.3,977.1C835.0,980.7 834.1,980.0 827.0,980.5C819.8,980.9 820.7,977.9 813.6,978.8C806.5,979.7 807.4,983.4 800.3,983.8C793.1,984.3 794.0,984.0 786.9,980.5C779.8,976.9 779.8,975.8 773.5,970.5C767.3,965.1 768.0,965.8 763.5,960.4C759.1,955.1 760.4,954.9 756.8,950.4C753.3,946.0 755.5,946.0 750.2,943.7C744.8,941.5 743.9,942.1 736.8,942.1C729.7,942.1 730.6,942.9 723.5,943.7C716.3,944.6 717.2,945.9 710.1,945.4C703.0,945.0 703.9,944.3 696.8,942.1C689.6,939.9 690.5,940.2 683.4,937.1C676.3,934.0 677.2,934.4 670.0,930.4C662.9,926.4 664.7,925.2 656.7,922.0C648.7,918.9 644.5,919.6 640.0,918.7"/>
<path class="wb" d="M750.2,943.7C752.8,941.1 754.0,939.5 760.2,933.7C766.4,927.9 766.4,923.8 773.5,922.0C780.7,920.3 779.8,923.0 786.9,927.1C794.0,931.1 793.1,931.7 800.3,937.1C807.4,942.4 806.5,943.1 813.6,947.1C820.7,951.1 822.1,951.2 827.0,952.1C831.9,953.0 830.6,950.9 832.0,950.4"/>
<path class="wb" d="M755.2,947.1C758.3,950.6 760.2,953.8 766.9,960.4C773.5,967.1 772.2,966.8 780.2,972.1C788.2,977.5 788.0,979.6 796.9,980.5C805.8,981.4 805.6,977.2 813.6,975.5C821.6,973.7 819.8,975.1 827.0,973.8C834.1,972.5 835.4,973.1 840.3,970.5C845.2,967.8 845.3,968.2 845.3,963.8C845.3,959.3 843.0,958.2 840.3,953.8C837.6,949.3 836.6,948.9 835.3,947.1"/>
<path class="wb" d="M753.5,940.4C756.6,944.0 759.0,947.1 765.2,953.8C771.4,960.4 769.8,960.1 776.9,965.4C784.0,970.8 783.9,972.0 791.9,973.8C799.9,975.6 799.4,973.7 806.9,972.1C814.5,970.5 813.2,970.0 820.3,967.8C827.4,965.6 830.1,964.8 833.6,963.8"/>
<path class="wb" d="M1040.6,893.7C1040.2,897.2 1040.7,899.9 1039.0,907.0C1037.2,914.1 1033.9,912.4 1033.9,920.4C1033.9,928.4 1035.8,929.1 1039.0,937.1C1042.1,945.1 1041.2,943.3 1045.6,950.4C1050.1,957.5 1050.8,955.8 1055.6,963.8C1060.5,971.8 1059.8,970.8 1064.0,980.5C1068.2,990.1 1064.8,988.1 1071.2,1000.0C1077.6,1011.9 1079.6,1012.3 1088.0,1025.1C1096.4,1038.0 1100.2,1038.1 1102.7,1048.2C1105.2,1058.3 1097.4,1055.0 1097.4,1062.9C1097.4,1070.7 1101.8,1069.7 1102.7,1077.5C1103.5,1085.4 1098.9,1084.9 1100.6,1092.2C1102.3,1099.5 1103.4,1095.8 1109.0,1104.8C1114.5,1113.7 1115.9,1116.8 1121.5,1125.7C1127.1,1134.7 1123.8,1131.6 1129.9,1138.3C1136.1,1145.0 1136.8,1143.0 1144.6,1150.9C1152.4,1158.7 1153.1,1163.7 1159.2,1167.6C1165.4,1171.5 1165.4,1166.1 1167.6,1165.5"/>
<path class="wb" d="M1568.4,927.6C1565.9,931.5 1563.8,938.1 1559.1,942.5C1554.4,946.9 1554.4,945.9 1550.8,944.2C1547.3,942.4 1549.4,940.7 1545.8,935.9C1542.3,931.0 1542.4,928.1 1537.5,925.9C1532.7,923.7 1532.4,925.3 1527.6,927.6C1522.7,929.8 1520.1,929.8 1519.2,934.2C1518.4,938.6 1524.7,940.6 1524.2,944.2C1523.8,947.7 1522.5,945.3 1517.6,947.5C1512.7,949.7 1511.3,950.3 1506.0,952.5C1500.6,954.7 1501.2,957.6 1497.6,955.8C1494.1,954.0 1496.2,950.7 1492.7,945.8C1489.1,941.0 1488.3,938.4 1484.4,937.5C1480.4,936.6 1480.4,938.5 1477.7,942.5C1475.1,946.5 1476.2,946.3 1474.4,952.5C1472.6,958.7 1474.6,961.3 1471.1,965.8C1467.5,970.2 1465.1,970.9 1461.1,969.1C1457.1,967.3 1459.2,962.2 1456.1,959.1C1453.0,956.0 1452.6,955.7 1449.5,957.5C1446.4,959.2 1445.4,960.5 1444.5,965.8C1443.6,971.1 1448.4,973.9 1446.1,977.4C1443.9,980.9 1441.5,978.2 1436.2,979.1C1430.9,979.9 1430.6,982.1 1426.2,980.7C1421.8,979.4 1422.7,978.5 1419.6,974.1C1416.5,969.6 1417.7,965.4 1414.6,964.1C1411.5,962.8 1410.6,965.1 1407.9,969.1C1405.3,973.1 1406.8,973.7 1404.6,979.1C1402.4,984.4 1403.2,984.6 1399.6,989.0C1396.1,993.5 1395.1,992.8 1391.3,995.7C1387.6,998.6 1387.4,995.5 1385.5,1000.0C1383.7,1004.5 1385.3,1005.3 1384.5,1012.6C1383.7,1019.8 1384.9,1021.1 1382.4,1027.2C1379.9,1033.4 1379.8,1031.7 1375.1,1035.6C1370.3,1039.5 1369.6,1039.4 1364.6,1041.9C1359.6,1044.4 1361.2,1045.0 1356.2,1045.0C1351.2,1045.0 1351.3,1041.9 1345.7,1041.9C1340.1,1041.9 1339.2,1041.7 1335.3,1045.0C1331.3,1048.4 1333.3,1049.7 1331.1,1054.5C1328.8,1059.2 1329.7,1057.3 1326.9,1062.9C1324.1,1068.4 1324.5,1069.8 1320.6,1075.4C1316.7,1081.0 1316.7,1083.3 1312.2,1083.8C1307.7,1084.4 1308.9,1080.9 1303.8,1077.5C1298.8,1074.2 1298.4,1071.8 1293.3,1071.2C1288.3,1070.7 1290.6,1071.0 1285.0,1075.4C1279.4,1079.9 1279.1,1082.4 1272.4,1088.0C1265.7,1093.6 1265.4,1093.0 1259.8,1096.4C1254.2,1099.7 1255.9,1097.2 1251.4,1100.6C1247.0,1103.9 1247.0,1104.5 1243.1,1109.0C1239.1,1113.4 1239.0,1111.8 1236.8,1117.3C1234.5,1122.9 1237.5,1124.3 1234.7,1129.9C1231.9,1135.5 1230.8,1133.3 1226.3,1138.3C1221.8,1143.3 1221.3,1144.9 1217.9,1148.8C1214.6,1152.7 1216.5,1153.0 1213.7,1153.0C1210.9,1153.0 1210.8,1150.4 1207.4,1148.8C1204.1,1147.1 1204.5,1145.0 1201.2,1146.7C1197.8,1148.3 1198.2,1149.5 1194.9,1155.1C1191.5,1160.6 1191.4,1162.0 1188.6,1167.6C1185.8,1173.2 1187.2,1174.3 1184.4,1176.0C1181.6,1177.7 1181.5,1176.7 1178.1,1173.9C1174.8,1171.1 1174.6,1167.8 1171.8,1165.5C1169.0,1163.3 1171.0,1162.7 1167.6,1165.5C1164.3,1168.3 1164.8,1170.4 1159.2,1176.0C1153.7,1181.6 1154.5,1181.7 1146.7,1186.5C1138.9,1191.2 1137.2,1190.5 1129.9,1193.8C1122.6,1197.2 1123.1,1195.4 1119.4,1199.1C1115.8,1202.7 1115.7,1203.5 1116.3,1207.4C1116.9,1211.3 1116.8,1210.9 1121.5,1213.7C1126.3,1216.5 1128.0,1215.7 1134.1,1217.9C1140.2,1220.2 1140.4,1218.2 1144.6,1222.1C1148.8,1226.0 1149.3,1225.9 1149.8,1232.6C1150.4,1239.3 1148.6,1240.5 1146.7,1247.2C1144.7,1254.0 1144.7,1252.7 1142.5,1257.7C1140.2,1262.8 1140.8,1265.5 1138.3,1266.1C1135.8,1266.7 1135.8,1264.3 1133.1,1259.8C1130.3,1255.4 1132.0,1253.8 1127.8,1249.3C1123.6,1244.9 1124.6,1245.6 1117.3,1243.1C1110.1,1240.5 1108.4,1240.5 1100.6,1239.9C1092.8,1239.4 1093.3,1238.4 1088.0,1241.0C1082.7,1243.5 1082.9,1243.8 1080.7,1249.3C1078.4,1254.9 1079.1,1254.7 1079.6,1261.9C1080.2,1269.2 1084.4,1271.3 1082.8,1276.6C1081.1,1281.9 1079.8,1279.3 1073.3,1281.8C1066.9,1284.3 1065.9,1283.5 1058.7,1286.0C1051.4,1288.5 1051.7,1287.1 1046.1,1291.3C1040.5,1295.4 1039.4,1296.7 1037.7,1301.7C1036.0,1306.8 1037.0,1306.2 1039.8,1310.1C1042.6,1314.0 1046.2,1312.5 1048.2,1316.4C1050.1,1320.3 1049.4,1320.3 1047.1,1324.8C1044.9,1329.2 1045.7,1329.2 1039.8,1333.2C1033.9,1337.1 1033.0,1335.0 1025.1,1339.4C1017.3,1343.9 1017.2,1344.3 1010.5,1349.9C1003.8,1355.5 1005.3,1352.7 1000.0,1360.4C994.7,1368.1 997.5,1372.5 990.5,1378.7C983.6,1384.9 981.9,1381.5 973.9,1383.7C965.8,1385.9 965.0,1383.5 960.5,1387.0C956.0,1390.6 958.1,1389.9 957.2,1397.0C956.3,1404.2 958.9,1405.7 957.2,1413.7C955.4,1421.7 955.8,1420.4 950.5,1427.1C945.1,1433.8 943.4,1433.4 937.1,1438.8C930.9,1444.1 931.1,1442.2 927.1,1447.1C923.1,1452.0 922.1,1451.3 922.1,1457.1C922.1,1462.9 927.1,1462.1 927.1,1468.8C927.1,1475.5 923.9,1476.8 922.1,1482.2C920.3,1487.5 925.3,1486.2 920.4,1488.8C915.5,1491.5 912.6,1490.0 903.7,1492.2C894.8,1494.4 895.1,1494.5 887.1,1497.2C879.0,1499.9 879.0,1498.6 873.7,1502.2C868.4,1505.8 871.0,1505.2 867.0,1510.5C863.0,1515.9 862.7,1516.9 858.7,1522.2C854.7,1527.6 854.2,1525.2 852.0,1530.6C849.8,1535.9 851.2,1535.6 850.3,1542.3C849.4,1548.9 851.3,1548.5 848.7,1555.6C846.0,1562.7 844.8,1561.4 840.3,1569.0C835.9,1576.5 837.3,1578.7 832.0,1584.0C826.6,1589.3 825.2,1585.4 820.3,1589.0C815.4,1592.6 816.3,1592.5 813.6,1597.4C810.9,1602.2 812.5,1602.5 810.3,1607.4C808.0,1612.3 807.9,1610.4 805.3,1615.7C802.6,1621.1 805.1,1622.1 800.3,1627.4C795.4,1632.7 792.7,1632.4 786.9,1635.7C781.1,1639.1 780.1,1640.3 778.5,1640.1C777.0,1639.9 788.3,1628.4 781.0,1635.0C773.7,1641.6 759.0,1653.0 751.0,1665.0C743.0,1677.0 757.7,1669.3 751.0,1680.0C744.3,1690.7 739.3,1693.0 726.0,1705.0C712.7,1717.0 715.7,1717.5 701.0,1725.0C686.3,1732.5 683.0,1727.7 671.0,1733.0C659.0,1738.3 662.1,1737.3 656.0,1745.0C649.9,1752.7 650.1,1757.5 648.0,1762.0"/>
<circle cx="793.5" cy="988.5" r="743.5" fill="none" stroke="#fff" stroke-width="2.8"/>
<circle cx="95" cy="349" r="6.9" fill="#fff"/>
<circle cx="699.4" cy="305.8" r="6.9" fill="#fff"/>
<circle cx="914" cy="357" r="6.9" fill="#fff"/>
<circle cx="674" cy="425.5" r="6.9" fill="#fff"/>
<circle cx="481" cy="442" r="6.9" fill="#fff"/>
<circle cx="1305" cy="429.5" r="6.9" fill="#fff"/>
<circle cx="388" cy="499" r="6.9" fill="#fff"/>
<circle cx="709" cy="575" r="6.9" fill="#fff"/>
<circle cx="1482" cy="578" r="6.9" fill="#fff"/>
<circle cx="1281" cy="618" r="6.9" fill="#fff"/>
<circle cx="702" cy="665" r="6.9" fill="#fff"/>
<circle cx="738" cy="739" r="6.9" fill="#fff"/>
<circle cx="356" cy="773" r="6.9" fill="#fff"/>
<circle cx="461" cy="826" r="6.9" fill="#fff"/>
<circle cx="1195" cy="865" r="6.9" fill="#fff"/>
<circle cx="1083" cy="903" r="6.9" fill="#fff"/>
<circle cx="185" cy="940" r="6.9" fill="#fff"/>
<circle cx="1326" cy="945" r="6.9" fill="#fff"/>
<circle cx="841" cy="968.8" r="6.9" fill="#fff"/>
<circle cx="203" cy="1107" r="6.9" fill="#fff"/>
<circle cx="1125" cy="1091" r="6.9" fill="#fff"/>
<circle cx="1312" cy="1082" r="6.9" fill="#fff"/>
<circle cx="1518" cy="1080" r="6.9" fill="#fff"/>
<circle cx="1499" cy="308" r="6.9" fill="#fff"/>
<circle cx="477" cy="1254" r="6.9" fill="#fff"/>
<circle cx="694" cy="1304" r="6.9" fill="#fff"/>
<circle cx="1036" cy="1308" r="6.9" fill="#fff"/>
<circle cx="230" cy="1320" r="6.9" fill="#fff"/>
<circle cx="423" cy="1526" r="6.9" fill="#fff"/>
<text class="city" x="104.6" y="339.4" xml:space="preserve">PIRANE</text>
<text class="city" x="709.0" y="296.2" xml:space="preserve">PARAGUARÍ</text>
<text class="city" x="923.6" y="347.4" xml:space="preserve">VILLARRICA</text>
<text class="city" x="683.6" y="415.9" xml:space="preserve">QUIINDY</text>
<text class="city" x="490.6" y="432.4" xml:space="preserve">VA. OLIVA</text>
<text class="city" x="1314.6" y="419.9" xml:space="preserve">NARANJAL</text>
<text class="city" x="397.6" y="489.4" xml:space="preserve">FORMOSA</text>
<text class="city" x="718.6" y="565.4" xml:space="preserve">VA. FLORIDA</text>
<text class="city" x="1491.6" y="568.4" xml:space="preserve">ELDORADO</text>
<text class="city" x="1290.6" y="608.4" xml:space="preserve">MARÍA AUXILIADORA</text>
<text class="city" x="711.6" y="655.4" xml:space="preserve">SAN JUAN BAUTISTA</text>
<text class="city" x="747.6" y="729.4" xml:space="preserve">SAN IGNACIO</text>
<text class="city" x="365.6" y="763.4" xml:space="preserve">ISLA UMBÚ</text>
<text class="city" x="470.6" y="816.4" xml:space="preserve">VILLALBÍN</text>
<text class="city" x="1204.6" y="855.4" xml:space="preserve">SAN IGNACIO</text>
<text class="city" x="1092.6" y="893.4" xml:space="preserve">POSADAS</text>
<text class="city" x="194.6" y="930.4" xml:space="preserve">CORRIENTES</text>
<text class="city" x="1335.6" y="935.4" xml:space="preserve">OBERÁ</text>
<text class="city" x="850.6" y="959.2" xml:space="preserve">ITUZAINGÓ</text>
<text class="city" x="212.6" y="1097.4" xml:space="preserve">EMPEDRADO</text>
<text class="city" x="1134.6" y="1081.4" xml:space="preserve">APÓSTOLES</text>
<text class="city" x="1321.6" y="1072.4" xml:space="preserve">SAN JAVIER</text>
<text class="city" x="1527.6" y="1070.4" xml:space="preserve">SANTA ROSA</text>
<text class="city" x="1508.6" y="298.4" xml:space="preserve">PUERTO IGUAZÚ</text>
<text class="city" x="486.6" y="1244.4" xml:space="preserve">CONCEPCIÓN</text>
<text class="city" x="703.6" y="1294.4" xml:space="preserve">COL. C. PELLEGRINI</text>
<text class="city" x="1045.6" y="1298.4" xml:space="preserve">SANTO TOMÉ</text>
<text class="city" x="239.6" y="1310.4" xml:space="preserve">SAN ROQUE</text>
<text class="city" x="432.6" y="1516.4" xml:space="preserve">MERCEDES</text>
<rect x="26" y="1653" width="332.5" height="101" fill="#6e6e6e" fill-opacity="0.78"/>
<rect x="40" y="1668.2" width="303" height="71.9" fill="none" stroke="#ffa500" stroke-width="5.8"/>
<text class="mono" font-size="22.2" fill="#fff" x="50.7" y="1697.4" xml:space="preserve">Avisos Meteorológicos</text>
<text class="mono" font-size="22.2" fill="#fff" x="50.7" y="1724.5" xml:space="preserve">a Muy Corto Plazo</text>
</g>
<g clip-path="url(#ctop)">
<g fill="none" stroke-linecap="round" stroke-linejoin="round"><g fill="#308abe"><ellipse cx="373.9" cy="79.5" rx="9.5" ry="14.9"/><ellipse cx="391.6" cy="79.5" rx="6.8" ry="14.9"/><ellipse cx="410.6" cy="79.5" rx="9.5" ry="14.9"/><ellipse cx="429.6" cy="79.5" rx="8.1" ry="14.9"/><ellipse cx="454.5" cy="79.5" rx="7.6" ry="13.6"/><ellipse cx="505.5" cy="79.5" rx="4.9" ry="13.6"/><ellipse cx="532.6" cy="79.5" rx="8.1" ry="14.9"/><ellipse cx="543.5" cy="81.7" rx="5.4" ry="16.3"/></g>
<g fill="#3679ae"><ellipse cx="557" cy="89.8" rx="2.7" ry="10.9"/></g>
<g fill="#308abe"><ellipse cx="573.9" cy="79.5" rx="4.3" ry="13.6"/></g>
<g fill="#3679ae"><ellipse cx="597.7" cy="81.7" rx="7.6" ry="19"/><ellipse cx="611.3" cy="81.7" rx="6.8" ry="19"/><ellipse cx="627.6" cy="81.7" rx="9.5" ry="19"/><ellipse cx="641.1" cy="84.4" rx="6.8" ry="16.3"/><ellipse cx="656.1" cy="89.8" rx="3.3" ry="10.9"/><ellipse cx="677.8" cy="88.5" rx="3.3" ry="12.2"/><ellipse cx="681.8" cy="68.1" rx="4.1" ry="3.8"/><ellipse cx="695.4" cy="68.1" rx="4.1" ry="3.3"/></g>
<g fill="#308abe"><ellipse cx="212" cy="178" rx="6" ry="18.4"/><ellipse cx="277.7" cy="178" rx="8.1" ry="18.4"/><ellipse cx="314.3" cy="141.4" rx="6" ry="17.9"/></g>
<g fill="#26a4d0"><ellipse cx="303.4" cy="141.4" rx="7.3" ry="18.4"/></g>
<g fill="#308abe"><ellipse cx="308.8" cy="182.1" rx="7.1" ry="23.1"/><ellipse cx="340" cy="125.1" rx="6" ry="16.3"/><ellipse cx="333.3" cy="144.1" rx="6" ry="14.9"/><ellipse cx="358.2" cy="188.8" rx="6.8" ry="16.3"/><ellipse cx="372.6" cy="138.7" rx="8.1" ry="19"/></g>
<g fill="#2a98c8"><ellipse cx="388.9" cy="173.9" rx="10.3" ry="16.8"/></g>
<g fill="#3679ae"><ellipse cx="395.6" cy="195.6" rx="2.7" ry="12.2"/></g>
<g fill="#308abe"><ellipse cx="410.6" cy="133.2" rx="6.8" ry="24.4"/><ellipse cx="391.6" cy="114.3" rx="4.9" ry="6"/><ellipse cx="409.2" cy="114.3" rx="3.8" ry="6"/><ellipse cx="424.1" cy="114.3" rx="4.9" ry="6"/><ellipse cx="478.4" cy="114.3" rx="6" ry="6"/><ellipse cx="424.1" cy="138.7" rx="11.4" ry="27.1"/></g>
<g fill="#2a98c8"><ellipse cx="425.5" cy="176.6" rx="6" ry="16.8"/><ellipse cx="435" cy="141.4" rx="5.4" ry="16.3"/><ellipse cx="420" cy="165.6" rx="4.9" ry="23.8"/><ellipse cx="423.6" cy="159.8" rx="5.2" ry="32.2"/><ellipse cx="426.3" cy="158.8" rx="4.7" ry="32.8"/><ellipse cx="430.5" cy="162.4" rx="4.7" ry="29"/><ellipse cx="432.9" cy="167.5" rx="3.6" ry="24.4"/><ellipse cx="436.9" cy="172.1" rx="6.3" ry="20.8"/><ellipse cx="440" cy="172.4" rx="5.2" ry="21.4"/><ellipse cx="444.4" cy="170.7" rx="4.2" ry="23.8"/></g>
<g fill="#26a4d0"><ellipse cx="448.7" cy="172.4" rx="5.2" ry="23.6"/></g>
<g fill="#2a98c8"><ellipse cx="452.2" cy="172.1" rx="6.1" ry="23.5"/><ellipse cx="456.6" cy="173.3" rx="6.4" ry="23"/></g>
<g fill="#26a4d0"><ellipse cx="460.8" cy="174" rx="4.4" ry="24.4"/></g>
<g fill="#2a98c8"><ellipse cx="463.3" cy="175.5" rx="4.7" ry="24"/><ellipse cx="466" cy="173.7" rx="3.6" ry="25.8"/></g>
<g fill="#26a4d0"><ellipse cx="469.6" cy="173.1" rx="5" ry="26.9"/><ellipse cx="474.1" cy="173.6" rx="3.6" ry="25.6"/></g>
<g fill="#2a98c8"><ellipse cx="476.8" cy="174.8" rx="6.4" ry="26.2"/><ellipse cx="479.9" cy="174.4" rx="4.6" ry="26.1"/><ellipse cx="484.1" cy="175.7" rx="3.8" ry="27.3"/><ellipse cx="488.4" cy="176.8" rx="5.6" ry="25.6"/></g>
<g fill="#26a4d0"><ellipse cx="492.7" cy="176" rx="3.5" ry="27.2"/><ellipse cx="496" cy="176.4" rx="5.4" ry="26.7"/><ellipse cx="498.5" cy="177.4" rx="4.6" ry="27.3"/></g>
<g fill="#2a98c8"><ellipse cx="502.3" cy="177.5" rx="6.4" ry="26.8"/></g>
<g fill="#26a4d0"><ellipse cx="505.2" cy="177.6" rx="4.1" ry="28.7"/><ellipse cx="509.1" cy="178.6" rx="3.8" ry="27.2"/></g>
<g fill="#2a98c8"><ellipse cx="513.1" cy="179.7" rx="5.5" ry="27.5"/><ellipse cx="516.1" cy="177.8" rx="3.8" ry="29.7"/><ellipse cx="519.7" cy="179.9" rx="3.7" ry="27.8"/></g>
<g fill="#308abe"><ellipse cx="523.6" cy="177.6" rx="3.6" ry="30.2"/><ellipse cx="527.9" cy="178.5" rx="6.1" ry="30.4"/><ellipse cx="531" cy="179.3" rx="5.3" ry="28"/><ellipse cx="534.2" cy="179.4" rx="5.4" ry="30.1"/><ellipse cx="537.2" cy="178.7" rx="4.1" ry="29.1"/><ellipse cx="540.5" cy="180.4" rx="5.2" ry="29.1"/><ellipse cx="544.9" cy="179.5" rx="5.8" ry="29"/><ellipse cx="548" cy="175" rx="6.1" ry="35.9"/><ellipse cx="551.8" cy="166.4" rx="6.2" ry="43.3"/><ellipse cx="555.6" cy="161.3" rx="4" ry="48.1"/><ellipse cx="558.2" cy="161.5" rx="6.3" ry="49.4"/><ellipse cx="561.4" cy="160.3" rx="4.9" ry="50.2"/><ellipse cx="564.9" cy="160.3" rx="6" ry="50.3"/><ellipse cx="567.3" cy="162.7" rx="6" ry="49.9"/><ellipse cx="569.4" cy="162.1" rx="4.2" ry="50.4"/><ellipse cx="572.7" cy="160.9" rx="6.1" ry="50"/><ellipse cx="576.1" cy="159.5" rx="3.6" ry="51.7"/></g>
<g fill="#3679ae"><ellipse cx="579.5" cy="161.6" rx="4.6" ry="50.9"/></g>
<g fill="#308abe"><ellipse cx="582.8" cy="161.7" rx="4.8" ry="50.6"/><ellipse cx="585.1" cy="160.4" rx="5.2" ry="53"/><ellipse cx="587.3" cy="161.8" rx="5.4" ry="51.6"/><ellipse cx="589.5" cy="162.5" rx="5.8" ry="49.6"/></g>
<g fill="#3679ae"><ellipse cx="592.1" cy="163.2" rx="5.1" ry="50"/><ellipse cx="595.5" cy="160.5" rx="6.1" ry="53"/><ellipse cx="599.3" cy="162.1" rx="4.3" ry="52.8"/><ellipse cx="602.2" cy="161.2" rx="6.2" ry="53.6"/><ellipse cx="605.7" cy="162.9" rx="3.8" ry="51.8"/><ellipse cx="608.9" cy="160" rx="3.6" ry="53.3"/><ellipse cx="611.2" cy="161.2" rx="4.5" ry="53.9"/><ellipse cx="614.8" cy="160.1" rx="5.6" ry="53.3"/><ellipse cx="617.4" cy="160.9" rx="5.2" ry="52.5"/><ellipse cx="620.5" cy="161.3" rx="5.2" ry="53.3"/><ellipse cx="624.1" cy="160.5" rx="5.4" ry="53"/></g>
<g fill="#308abe"><ellipse cx="627" cy="163.2" rx="6.3" ry="52.4"/><ellipse cx="630.2" cy="163.4" rx="6" ry="50.9"/><ellipse cx="634" cy="161.8" rx="6.3" ry="53"/><ellipse cx="637.3" cy="160.8" rx="4" ry="53.7"/><ellipse cx="640.3" cy="162.2" rx="5.3" ry="53.1"/></g>
<g fill="#2a98c8"><ellipse cx="644" cy="161.2" rx="6.3" ry="54.3"/><ellipse cx="647.6" cy="162.5" rx="6.1" ry="53.1"/><ellipse cx="650.8" cy="163" rx="4.4" ry="53.2"/><ellipse cx="653.4" cy="162.7" rx="4.2" ry="51.6"/><ellipse cx="656.3" cy="163.2" rx="5.6" ry="51.7"/><ellipse cx="658.8" cy="162.9" rx="3.6" ry="53.2"/><ellipse cx="662.7" cy="161.4" rx="6.1" ry="54.9"/><ellipse cx="664.9" cy="164" rx="5.8" ry="52.2"/><ellipse cx="667.1" cy="161.1" rx="5.8" ry="53.7"/><ellipse cx="669.4" cy="162.9" rx="4" ry="52.9"/><ellipse cx="671.6" cy="160.8" rx="3.9" ry="53.6"/><ellipse cx="674.2" cy="163.1" rx="5.7" ry="51.3"/><ellipse cx="676.9" cy="162" rx="3.7" ry="53.1"/><ellipse cx="680.2" cy="169.4" rx="3.9" ry="46.2"/><ellipse cx="682.8" cy="172.6" rx="6.2" ry="42.1"/><ellipse cx="685" cy="174.2" rx="5.8" ry="41.2"/><ellipse cx="687.7" cy="173.7" rx="4.3" ry="42.4"/><ellipse cx="691.1" cy="174.7" rx="3.8" ry="41.5"/><ellipse cx="694.1" cy="172.8" rx="5.2" ry="43.6"/><ellipse cx="696.5" cy="173.7" rx="3.9" ry="42.6"/><ellipse cx="700.3" cy="171.8" rx="5.3" ry="43.8"/></g>
<g fill="#308abe"><ellipse cx="703.4" cy="173.5" rx="5.6" ry="42.4"/><ellipse cx="705.7" cy="172.1" rx="4.7" ry="44"/></g>
<g fill="#2a98c8"><ellipse cx="708" cy="171.8" rx="5" ry="43.1"/><ellipse cx="710.5" cy="173.8" rx="4.8" ry="41.9"/><ellipse cx="714.1" cy="171.7" rx="4" ry="44.3"/><ellipse cx="717.2" cy="173.8" rx="3.8" ry="42.4"/><ellipse cx="720.6" cy="173.5" rx="6.5" ry="42.9"/><ellipse cx="722.9" cy="173.9" rx="5.1" ry="43"/><ellipse cx="725.3" cy="172.5" rx="4.4" ry="44.4"/><ellipse cx="729" cy="172.8" rx="4.4" ry="43"/><ellipse cx="732.7" cy="172.5" rx="5.6" ry="43.5"/></g>
<g fill="#308abe"><ellipse cx="736.4" cy="173.1" rx="3.8" ry="41.8"/><ellipse cx="739.9" cy="171.9" rx="4.1" ry="43.4"/><ellipse cx="743.4" cy="172.6" rx="6.3" ry="44.2"/></g>
<g fill="#2a98c8"><ellipse cx="745.7" cy="172.6" rx="5.9" ry="43.8"/></g>
<g fill="#308abe"><ellipse cx="748.9" cy="180.6" rx="5" ry="35"/></g>
<g fill="#3679ae"><ellipse cx="750" cy="192.3" rx="2.8" ry="24.6"/><ellipse cx="753.2" cy="194.6" rx="4" ry="22.4"/><ellipse cx="755.5" cy="196.3" rx="3.4" ry="20.8"/><ellipse cx="758.5" cy="193.2" rx="4.2" ry="21.9"/><ellipse cx="761.4" cy="193.2" rx="2.9" ry="22.7"/><ellipse cx="764" cy="190.7" rx="3.4" ry="25.2"/><ellipse cx="766.5" cy="190.8" rx="3.4" ry="24.6"/><ellipse cx="768.9" cy="194.5" rx="3" ry="22.7"/><ellipse cx="771.3" cy="197.4" rx="2.8" ry="18.7"/></g>
<g fill="#3a72a6"><ellipse cx="773.8" cy="192" rx="3.4" ry="22.8"/><ellipse cx="775.9" cy="197.5" rx="3.9" ry="18.3"/><ellipse cx="777.8" cy="194.5" rx="3" ry="21.2"/><ellipse cx="780.2" cy="193.1" rx="3.7" ry="22.5"/><ellipse cx="783.3" cy="194.8" rx="4.1" ry="22.3"/></g>
<g fill="#3679ae"><ellipse cx="786.6" cy="196" rx="3.8" ry="20.1"/><ellipse cx="789" cy="193.5" rx="3.7" ry="22.9"/></g>
<g fill="#3a72a6"><ellipse cx="790.8" cy="192.5" rx="3.5" ry="22.5"/><ellipse cx="792.9" cy="196.4" rx="4" ry="19.2"/><ellipse cx="795.3" cy="196.4" rx="3.3" ry="19.3"/><ellipse cx="798.3" cy="197.8" rx="2.9" ry="18"/><ellipse cx="800.7" cy="197.2" rx="4.1" ry="18.9"/><ellipse cx="803.2" cy="200" rx="4.4" ry="16.8"/><ellipse cx="805.5" cy="195.3" rx="3.4" ry="21.4"/><ellipse cx="808.5" cy="196.5" rx="4" ry="20.2"/><ellipse cx="811.7" cy="199.3" rx="3.9" ry="17.8"/><ellipse cx="813.6" cy="197.4" rx="2.7" ry="19.2"/><ellipse cx="815.8" cy="200.1" rx="4.2" ry="16.3"/></g>
<g fill="#3679ae"><ellipse cx="818.3" cy="200.6" rx="2.5" ry="16"/><ellipse cx="820.4" cy="200.1" rx="2.7" ry="16.9"/><ellipse cx="822.4" cy="198.3" rx="4.4" ry="17.1"/></g>
<g fill="#3a72a6"><ellipse cx="824.4" cy="200.6" rx="2.9" ry="14.5"/><ellipse cx="827.1" cy="197.4" rx="4.1" ry="19.3"/><ellipse cx="829.7" cy="195.1" rx="3.7" ry="20.2"/><ellipse cx="832.9" cy="195.4" rx="3.4" ry="21.6"/><ellipse cx="835.1" cy="200.3" rx="4" ry="16"/><ellipse cx="838.3" cy="196.9" rx="2.7" ry="19.4"/><ellipse cx="841.4" cy="199" rx="3.4" ry="17.8"/><ellipse cx="844.3" cy="194.8" rx="2.6" ry="20.9"/><ellipse cx="847" cy="199.6" rx="3.7" ry="16.2"/></g>
<g fill="#3679ae"><ellipse cx="849.2" cy="197.6" rx="3.4" ry="19.6"/></g>
<g fill="#3a72a6"><ellipse cx="851.4" cy="197.2" rx="4.2" ry="19.4"/><ellipse cx="854.7" cy="199.6" rx="3.3" ry="17.4"/><ellipse cx="858" cy="201.9" rx="4" ry="15.2"/><ellipse cx="860.5" cy="202.6" rx="2.9" ry="14.4"/><ellipse cx="862.5" cy="199.9" rx="3.8" ry="15.6"/><ellipse cx="864.3" cy="200.2" rx="3.2" ry="15.3"/></g>
<g fill="#3679ae"><ellipse cx="867.3" cy="200.3" rx="4.3" ry="15.2"/><ellipse cx="869.8" cy="196.7" rx="3.1" ry="19.2"/><ellipse cx="872.2" cy="201.3" rx="3.4" ry="15"/><ellipse cx="875.5" cy="199.5" rx="3.1" ry="17.7"/><ellipse cx="878.1" cy="202.4" rx="4.4" ry="14.4"/></g>
<g fill="#3a72a6"><ellipse cx="880.7" cy="196" rx="2.8" ry="20.3"/><ellipse cx="882.6" cy="197.6" rx="4.5" ry="19.1"/><ellipse cx="885.6" cy="202.4" rx="3.1" ry="12.5"/><ellipse cx="888.9" cy="197.9" rx="3.4" ry="18.4"/><ellipse cx="891.1" cy="185.7" rx="3.2" ry="30.3"/></g>
<g fill="#308abe"><ellipse cx="888" cy="200.7" rx="5.9" ry="15.7"/><ellipse cx="890.7" cy="185.2" rx="5" ry="31.4"/><ellipse cx="894.6" cy="180.1" rx="5" ry="35.2"/><ellipse cx="896.9" cy="181.4" rx="5.8" ry="34.4"/><ellipse cx="900.8" cy="181.8" rx="5.4" ry="33.9"/><ellipse cx="903.6" cy="176.8" rx="3.8" ry="38"/></g>
<g fill="#2a98c8"><ellipse cx="907.3" cy="178.4" rx="6.4" ry="36.7"/><ellipse cx="909.9" cy="177.8" rx="6.1" ry="37.8"/></g>
<g fill="#308abe"><ellipse cx="913.7" cy="180.5" rx="5" ry="35.2"/><ellipse cx="916.5" cy="179.5" rx="4.6" ry="36.8"/><ellipse cx="919.7" cy="180.2" rx="4.1" ry="36.2"/><ellipse cx="923.7" cy="175.7" rx="4.4" ry="39.2"/></g>
<g fill="#2a98c8"><ellipse cx="926.5" cy="179.8" rx="5.2" ry="36.4"/><ellipse cx="928.8" cy="176.4" rx="5" ry="38.5"/></g>
<g fill="#308abe"><ellipse cx="932.9" cy="177.9" rx="5.4" ry="37.6"/><ellipse cx="936.7" cy="173.5" rx="3.7" ry="40.9"/><ellipse cx="939.4" cy="175.5" rx="3.6" ry="38.8"/><ellipse cx="942.1" cy="176.3" rx="4" ry="37.6"/><ellipse cx="946.3" cy="173.1" rx="4" ry="41.9"/><ellipse cx="949.7" cy="169.3" rx="3.6" ry="45.6"/></g>
<g fill="#2a98c8"><ellipse cx="953.8" cy="170.6" rx="4" ry="43.6"/><ellipse cx="956.1" cy="170.7" rx="4.6" ry="42.8"/><ellipse cx="960.1" cy="175" rx="6.5" ry="38.5"/><ellipse cx="964.2" cy="178.2" rx="5" ry="35.7"/></g>
<g fill="#26a4d0"><ellipse cx="967.8" cy="178.2" rx="5.2" ry="34.8"/><ellipse cx="970.9" cy="179.9" rx="6" ry="34"/><ellipse cx="973.5" cy="180.9" rx="4" ry="34.2"/></g>
<g fill="#2a98c8"><ellipse cx="977.6" cy="181.2" rx="3.9" ry="31.9"/><ellipse cx="981" cy="178.1" rx="4" ry="36"/><ellipse cx="983.5" cy="179.8" rx="5.6" ry="34.1"/></g>
<g fill="#308abe"><ellipse cx="986.3" cy="180.2" rx="4.5" ry="33.7"/><ellipse cx="989.5" cy="179.5" rx="5.3" ry="33.7"/><ellipse cx="993.6" cy="183" rx="4.4" ry="31.4"/><ellipse cx="997.7" cy="179" rx="5.7" ry="33.5"/><ellipse cx="1000.6" cy="181.1" rx="4.9" ry="31.7"/><ellipse cx="1003.8" cy="181.4" rx="5.1" ry="32.8"/><ellipse cx="1006.9" cy="180.9" rx="6" ry="31.3"/><ellipse cx="1010.6" cy="178.7" rx="6.4" ry="35.2"/><ellipse cx="1013.5" cy="176.4" rx="4.8" ry="36.7"/></g>
<g fill="#2a98c8"><ellipse cx="1017.4" cy="175" rx="4.7" ry="37.6"/><ellipse cx="1020.4" cy="173.2" rx="3.9" ry="40.6"/></g>
<g fill="#308abe"><ellipse cx="1023.1" cy="172.8" rx="4.1" ry="40.3"/><ellipse cx="1026.1" cy="172.6" rx="4.4" ry="39"/><ellipse cx="1029.2" cy="175.7" rx="4.1" ry="37.6"/><ellipse cx="1032.1" cy="177.8" rx="4.2" ry="34.9"/><ellipse cx="1034.6" cy="177.6" rx="5.3" ry="35"/><ellipse cx="1037" cy="175.7" rx="4.9" ry="36.4"/><ellipse cx="1039.5" cy="176.3" rx="6.3" ry="36.4"/><ellipse cx="1042.4" cy="176.1" rx="6.1" ry="36.6"/><ellipse cx="1044.7" cy="178.5" rx="4.5" ry="34.4"/><ellipse cx="1048.7" cy="175.6" rx="5.4" ry="35.7"/><ellipse cx="1052.6" cy="173" rx="6.4" ry="38.7"/><ellipse cx="1055" cy="174.5" rx="4.2" ry="38.5"/><ellipse cx="1058.8" cy="171.9" rx="6.3" ry="40.9"/><ellipse cx="1061.8" cy="171.5" rx="4.2" ry="40.3"/><ellipse cx="1065.2" cy="170.9" rx="4.6" ry="41.2"/><ellipse cx="1068.4" cy="170.3" rx="5.7" ry="42.3"/><ellipse cx="1071.6" cy="170" rx="5.4" ry="42.2"/></g>
<g fill="#2a98c8"><ellipse cx="1074.8" cy="170.6" rx="3.9" ry="40.3"/></g>
<g fill="#308abe"><ellipse cx="1078.8" cy="168.2" rx="4.5" ry="42.6"/><ellipse cx="1081.5" cy="171" rx="4.2" ry="40.9"/><ellipse cx="1084.5" cy="167.2" rx="5.6" ry="43.6"/><ellipse cx="1087.4" cy="166.5" rx="5.2" ry="44.2"/><ellipse cx="1090.1" cy="169.2" rx="5.3" ry="41.4"/><ellipse cx="1092.7" cy="169.5" rx="5.3" ry="41.4"/><ellipse cx="1096.1" cy="167.5" rx="6.1" ry="42.5"/><ellipse cx="1099.3" cy="168.3" rx="5.6" ry="42.2"/></g>
<g fill="#2a98c8"><ellipse cx="1102" cy="170.1" rx="5.8" ry="41.9"/><ellipse cx="1104.4" cy="168" rx="3.8" ry="43.7"/><ellipse cx="1107.7" cy="169.4" rx="6.1" ry="41.2"/><ellipse cx="1110.8" cy="167.6" rx="4.1" ry="43.1"/></g>
<g fill="#26a4d0"><ellipse cx="1113.2" cy="168.8" rx="5.1" ry="41.8"/></g>
<g fill="#2a98c8"><ellipse cx="1117.3" cy="169.2" rx="4.8" ry="41.7"/><ellipse cx="1120.6" cy="168.3" rx="4" ry="41.7"/><ellipse cx="1123.4" cy="165.8" rx="4.5" ry="45"/><ellipse cx="1126" cy="168.8" rx="4.9" ry="41.1"/><ellipse cx="1130" cy="166.7" rx="5.3" ry="42.8"/><ellipse cx="1133.6" cy="165" rx="6.3" ry="45"/><ellipse cx="1137.5" cy="166.2" rx="5.6" ry="43.1"/></g>
<g fill="#26a4d0"><ellipse cx="1140.2" cy="164.6" rx="4.8" ry="44.1"/><ellipse cx="1142.9" cy="167.9" rx="5" ry="40.6"/><ellipse cx="1145.5" cy="165.2" rx="5.7" ry="45.1"/><ellipse cx="1149.5" cy="164.2" rx="4.2" ry="45.3"/><ellipse cx="1152.6" cy="167.9" rx="4" ry="40.6"/><ellipse cx="1156.1" cy="164.7" rx="6.1" ry="44.1"/><ellipse cx="1159.8" cy="165.9" rx="5.9" ry="43.1"/><ellipse cx="1162.5" cy="166" rx="3.6" ry="42.7"/><ellipse cx="1165.1" cy="165.9" rx="5" ry="41.8"/><ellipse cx="1169.2" cy="167.5" rx="3.6" ry="41.3"/></g>
<g fill="#2a98c8"><ellipse cx="1172.5" cy="167.1" rx="4.2" ry="42"/><ellipse cx="1176.6" cy="163.2" rx="5.1" ry="44.5"/></g>
<g fill="#308abe"><ellipse cx="1180.1" cy="165.4" rx="6.2" ry="41.6"/><ellipse cx="1182.6" cy="162.4" rx="4.7" ry="44.3"/><ellipse cx="1185.7" cy="167.7" rx="3.7" ry="40.1"/></g>
<g fill="#2a98c8"><ellipse cx="1189.3" cy="164.1" rx="6" ry="42.1"/><ellipse cx="1192.2" cy="162.5" rx="6.3" ry="44.1"/><ellipse cx="1195.8" cy="165.5" rx="4.5" ry="41.5"/></g>
<g fill="#308abe"><ellipse cx="1198.5" cy="164" rx="5.1" ry="42"/></g>
<g fill="#2a98c8"><ellipse cx="1201.9" cy="163.3" rx="4.2" ry="42.5"/><ellipse cx="1205" cy="165" rx="4.6" ry="42.1"/><ellipse cx="1209" cy="163.5" rx="5.9" ry="43.4"/></g>
<g fill="#308abe"><ellipse cx="1211.5" cy="164.5" rx="4.8" ry="42.1"/><ellipse cx="1214" cy="166.7" rx="6.5" ry="38.9"/></g>
<g fill="#2a98c8"><ellipse cx="1216.5" cy="164.6" rx="3.6" ry="41.6"/><ellipse cx="1218.8" cy="164.7" rx="4.9" ry="40.5"/><ellipse cx="1221" cy="163.6" rx="5" ry="42"/><ellipse cx="1224.8" cy="165.7" rx="4.7" ry="39.8"/></g>
<g fill="#308abe"><ellipse cx="1228.3" cy="162.8" rx="5.7" ry="43.4"/><ellipse cx="1231.5" cy="165.7" rx="3.7" ry="40"/><ellipse cx="1235.1" cy="165" rx="4.6" ry="41.7"/></g>
<g fill="#2a98c8"><ellipse cx="1238.3" cy="162.5" rx="4.8" ry="43.3"/><ellipse cx="1241.2" cy="166.2" rx="5.4" ry="38.7"/><ellipse cx="1244.9" cy="165.1" rx="5.7" ry="39.4"/><ellipse cx="1249" cy="163.7" rx="5.5" ry="40.5"/><ellipse cx="1253.1" cy="161.8" rx="4.5" ry="42.7"/><ellipse cx="1256.6" cy="166" rx="4.8" ry="38.5"/><ellipse cx="1260" cy="163.8" rx="5.9" ry="41.5"/><ellipse cx="1263" cy="165.8" rx="3.9" ry="38.3"/><ellipse cx="1266.9" cy="164.6" rx="6" ry="38.5"/><ellipse cx="1270.3" cy="163.3" rx="5.2" ry="40.7"/><ellipse cx="1273.7" cy="163.1" rx="4" ry="39.7"/><ellipse cx="1276" cy="164.3" rx="3.8" ry="40"/></g>
<g fill="#308abe"><ellipse cx="1279.8" cy="163.2" rx="5.3" ry="40.5"/><ellipse cx="1283.9" cy="163.1" rx="4.8" ry="41.3"/><ellipse cx="1286.4" cy="162.6" rx="4.4" ry="41.6"/></g>
<g fill="#2a98c8"><ellipse cx="1289.5" cy="165.3" rx="4.5" ry="37.4"/><ellipse cx="1292.5" cy="165.5" rx="4.2" ry="37.1"/><ellipse cx="1295.1" cy="165.3" rx="4.5" ry="37.1"/><ellipse cx="1298" cy="162.1" rx="4.7" ry="40.9"/><ellipse cx="1301.2" cy="162.8" rx="5.8" ry="40.8"/><ellipse cx="1305" cy="161" rx="4.5" ry="41.1"/><ellipse cx="1307.6" cy="162" rx="4.9" ry="40.8"/><ellipse cx="1310.4" cy="163.3" rx="6" ry="38.9"/></g>
<g fill="#308abe"><ellipse cx="1313.6" cy="162.6" rx="3.8" ry="38.9"/><ellipse cx="1317.6" cy="162.5" rx="5.3" ry="39.3"/></g>
<g fill="#2a98c8"><ellipse cx="1320.3" cy="161.4" rx="4.5" ry="40.8"/></g>
<g fill="#308abe"><ellipse cx="1322.9" cy="161.8" rx="4.7" ry="39.2"/><ellipse cx="1325.7" cy="162" rx="4.8" ry="39.7"/></g>
<g fill="#2a98c8"><ellipse cx="1329.5" cy="162.4" rx="4.3" ry="38.3"/><ellipse cx="1333.3" cy="161.4" rx="5.6" ry="39.9"/><ellipse cx="1337" cy="164.7" rx="5.1" ry="36.2"/></g>
<g fill="#308abe"><ellipse cx="1339.2" cy="160.5" rx="5.5" ry="40.2"/></g>
<g fill="#2a98c8"><ellipse cx="1341.8" cy="164.5" rx="5.1" ry="37.7"/><ellipse cx="1345.7" cy="164.6" rx="3.7" ry="36.8"/><ellipse cx="1348.6" cy="160.4" rx="5.7" ry="39.7"/><ellipse cx="1352.4" cy="164" rx="5.1" ry="34.7"/></g>
<g fill="#308abe"><ellipse cx="1354.8" cy="162.5" rx="4.3" ry="34.1"/><ellipse cx="1358.3" cy="157.9" rx="3.6" ry="37.8"/><ellipse cx="1361.5" cy="161.8" rx="5.7" ry="32.9"/><ellipse cx="1364.9" cy="161" rx="5.6" ry="33.7"/><ellipse cx="1368.4" cy="156.9" rx="5.6" ry="36.8"/><ellipse cx="1371.3" cy="160.5" rx="5.4" ry="31.5"/><ellipse cx="1375.3" cy="165" rx="5.1" ry="26.1"/></g>
<rect x="630" y="148" width="120" height="19" fill="#1a1a1a"/>
<rect x="748" y="108" width="142" height="60" fill="#1a1a1a"/>
<g fill="#308abe"><ellipse cx="632" cy="151.8" rx="2.2" ry="5.2"/></g>
<g fill="#3679ae"><ellipse cx="635.5" cy="148.8" rx="2.2" ry="5.7"/></g>
<g fill="#308abe"><ellipse cx="639" cy="148.8" rx="2.2" ry="4.4"/><ellipse cx="642.5" cy="151.4" rx="2.2" ry="7"/></g>
<g fill="#3679ae"><ellipse cx="646" cy="152.8" rx="2.2" ry="6.6"/><ellipse cx="649.5" cy="152.5" rx="2.2" ry="7.1"/><ellipse cx="653" cy="150.6" rx="2.2" ry="5.8"/></g>
<g fill="#308abe"><ellipse cx="656.5" cy="150.9" rx="2.2" ry="6.3"/><ellipse cx="660" cy="150.7" rx="2.2" ry="6.5"/><ellipse cx="663.5" cy="151.7" rx="2.2" ry="7.7"/><ellipse cx="667" cy="147.5" rx="2.2" ry="7.5"/></g>
<g fill="#3679ae"><ellipse cx="670.5" cy="151.7" rx="2.2" ry="6"/><ellipse cx="674" cy="148.2" rx="2.2" ry="5.3"/></g>
<g fill="#308abe"><ellipse cx="677.5" cy="152.8" rx="2.2" ry="8.5"/></g>
<g fill="#3679ae"><ellipse cx="681" cy="147" rx="2.2" ry="4.9"/><ellipse cx="684.5" cy="150.8" rx="2.2" ry="5.2"/><ellipse cx="688" cy="148.7" rx="2.2" ry="7.3"/></g>
<g fill="#308abe"><ellipse cx="691.5" cy="147" rx="2.2" ry="6.2"/><ellipse cx="695" cy="150.6" rx="2.2" ry="8.6"/><ellipse cx="698.5" cy="151.7" rx="2.2" ry="4.9"/><ellipse cx="702" cy="150.5" rx="2.2" ry="6.5"/></g>
<g fill="#3679ae"><ellipse cx="705.5" cy="149.1" rx="2.2" ry="4.3"/></g>
<g fill="#308abe"><ellipse cx="709" cy="149.2" rx="2.2" ry="6.7"/><ellipse cx="712.5" cy="151.9" rx="2.2" ry="4.9"/><ellipse cx="716" cy="147.9" rx="2.2" ry="4.5"/></g>
<g fill="#3679ae"><ellipse cx="719.5" cy="150.5" rx="2.2" ry="5.2"/></g>
<g fill="#308abe"><ellipse cx="723" cy="147.1" rx="2.2" ry="6.7"/></g>
<g fill="#3679ae"><ellipse cx="726.5" cy="147.9" rx="2.2" ry="5.4"/></g>
<g fill="#308abe"><ellipse cx="730" cy="149.1" rx="2.2" ry="7.9"/><ellipse cx="733.5" cy="150.5" rx="2.2" ry="4.7"/><ellipse cx="737" cy="151" rx="2.2" ry="6"/></g>
<g fill="#3679ae"><ellipse cx="740.5" cy="152.5" rx="2.2" ry="8.2"/></g>
<g fill="#308abe"><ellipse cx="744" cy="152.9" rx="2.2" ry="5.3"/></g>
<g fill="#3679ae"><ellipse cx="747.5" cy="149.2" rx="2.2" ry="4"/></g>
<path fill="#3679ae" d="M732.9,95h7.2v11.3h-7.2zM777,95h10.8v6.3h-10.8zM715.2,101h5.5v11.4h-5.5zM725.5,104h9.9v11.6h-9.9zM769,101h11.7v7.4h-11.7zM800.9,104h7v8.1h-7zM758.8,98h6.9v10.4h-6.9zM712.6,98h7.9v7.2h-7.9zM753.3,104h11.8v10.6h-11.8zM748.1,104h11.1v7h-11.1zM785.4,101h11.9v10.6h-11.9zM731,98h7v6.6h-7zM791.1,101h10.6v8.1h-10.6zM719.9,104h9.2v10.6h-9.2zM701.2,101h8.1v7.7h-8.1zM804.5,101h9.8v7.2h-9.8zM768.8,104h9.2v7.3h-9.2zM772,98h7v9.5h-7zM738.1,95h11.9v6.7h-11.9zM753.4,95h9.3v9.5h-9.3zM788.6,95h11.6v11h-11.6zM750.3,101h6.5v8.1h-6.5zM774.9,98h6.1v11.6h-6.1zM782.6,104h10.2v10h-10.2zM714.6,98h5.3v11.1h-5.3zM777.5,104h4.7v10.9h-4.7zM683,66h5.8v4.5h-5.8zM686.7,66h5.1v5.7h-5.1zM731.9,66h4.6v5.4h-4.6zM710.4,66h7.5v4.2h-7.5zM688.2,66h7.9v3.2h-7.9zM702.2,66h6.9v3.3h-6.9zM725.5,66h7.3v4.8h-7.3zM709.9,66h6.8v5.5h-6.8zM728.3,66h6.1v4h-6.1zM714.6,66h8v5.9h-8z"/>
<g fill="#308abe"><ellipse cx="784.4" cy="141.4" rx="5.4" ry="19"/><ellipse cx="769.5" cy="164.4" rx="6.8" ry="19"/></g>
<g fill="#2a98c8"><ellipse cx="855" cy="179.4" rx="8.1" ry="16.8"/></g>
<g fill="#3679ae"><ellipse cx="747.8" cy="100.7" rx="3.8" ry="6.8"/><ellipse cx="766.8" cy="100.7" rx="3.3" ry="6"/><ellipse cx="779" cy="103.4" rx="3.3" ry="8.1"/><ellipse cx="731.5" cy="108.8" rx="2.7" ry="8.1"/><ellipse cx="986" cy="108.8" rx="2.7" ry="9.5"/><ellipse cx="1010.9" cy="109.4" rx="7.6" ry="9.5"/><ellipse cx="1028.6" cy="109.4" rx="8.1" ry="9.5"/><ellipse cx="1062.5" cy="109.4" rx="12.2" ry="9.5"/></g>
<g fill="#308abe"><ellipse cx="1123.5" cy="68.1" rx="4.3" ry="3.3"/></g>
<g fill="#3679ae"><ellipse cx="910.6" cy="110.2" rx="1.1" ry="4.1"/><ellipse cx="829.2" cy="109.4" rx="1.1" ry="3.8"/><ellipse cx="925.5" cy="135.4" rx="5.4" ry="3.8"/></g>
<g fill="#308abe"><ellipse cx="707.1" cy="173.9" rx="8.1" ry="13.6"/><ellipse cx="728.8" cy="176.6" rx="6.8" ry="10.9"/><ellipse cx="810.2" cy="182.1" rx="5.4" ry="10.9"/></g>
<g fill="#3679ae"><ellipse cx="831.9" cy="190.2" rx="5.4" ry="8.1"/><ellipse cx="875.3" cy="187.5" rx="4.1" ry="6.8"/></g>
<g fill="#308abe"><ellipse cx="1253.3" cy="115.6" rx="4.1" ry="7.6"/><ellipse cx="1353.6" cy="121.8" rx="4.1" ry="6.8"/></g>
<g fill="#2a98c8"><ellipse cx="1428.8" cy="163.1" rx="10.9" ry="23.1"/></g>
<g fill="#308abe"><ellipse cx="1123.9" cy="68.1" rx="4.3" ry="3.3"/></g>
<g fill="#4ee034"><ellipse cx="394.3" cy="138.7" rx="10.3" ry="20.3"/><ellipse cx="447.2" cy="138.7" rx="6" ry="20.3"/></g>
<g fill="#2a861e"><ellipse cx="456.7" cy="138.7" rx="6.8" ry="20.3"/><ellipse cx="464.8" cy="138.7" rx="6" ry="20.3"/></g>
<g fill="#22701a"><ellipse cx="471.6" cy="138.7" rx="5.4" ry="20.3"/></g>
<g fill="#d8de38"><ellipse cx="479.7" cy="138.7" rx="5.4" ry="20.3"/></g>
<g fill="#d4ac24"><ellipse cx="488.4" cy="138.7" rx="4.9" ry="19"/></g>
<g fill="#22701a"><ellipse cx="496" cy="138.7" rx="4.1" ry="19"/></g>
<g fill="#d8de38"><ellipse cx="504.7" cy="137.3" rx="6" ry="17.6"/></g>
<g fill="#38ac28"><ellipse cx="516.4" cy="130.5" rx="8.1" ry="23.1"/></g>
<g fill="#2a861e"><ellipse cx="523.1" cy="127.8" rx="6.8" ry="20.3"/><ellipse cx="529.9" cy="138.7" rx="6" ry="20.3"/></g>
<g fill="#22701a"><ellipse cx="539.4" cy="138.7" rx="6" ry="20.3"/></g>
<g fill="#4ee034"><ellipse cx="551.6" cy="133.2" rx="9.5" ry="25.8"/></g>
<g fill="#56f038"><ellipse cx="557.6" cy="139.2" rx="4.9" ry="18.4"/><ellipse cx="456.7" cy="178" rx="6.8" ry="20.3"/><ellipse cx="464.8" cy="179.4" rx="5.4" ry="13.6"/><ellipse cx="473" cy="176.6" rx="5.4" ry="13.6"/></g>
<g fill="#4ee034"><ellipse cx="487.9" cy="179.4" rx="6.8" ry="17.6"/></g>
<g fill="#56f038"><ellipse cx="502.8" cy="187.5" rx="4.1" ry="12.2"/><ellipse cx="532.6" cy="176.6" rx="7.6" ry="21.7"/><ellipse cx="546.2" cy="176.6" rx="6.8" ry="19"/><ellipse cx="554.3" cy="169.9" rx="2.7" ry="23.1"/><ellipse cx="593.7" cy="195.6" rx="3.8" ry="10.9"/><ellipse cx="573.3" cy="201.1" rx="1.6" ry="4.1"/><ellipse cx="578.7" cy="197" rx="1.4" ry="6"/><ellipse cx="603.2" cy="202.4" rx="1.4" ry="4.1"/></g>
<path fill="#56f038" d="M665.6,187.9h2.2v9h-2.2zM675.9,187.9h2.2v9h-2.2zM686.2,187.9h2.2v9h-2.2zM691.3,187.9h2.2v9h-2.2zM693.9,187.9h2.2v9h-2.2zM696.5,187.9h2.2v9h-2.2zM699.1,187.9h2.2v9h-2.2zM687.3,187.4h2.6v10h-2.6zM690.3,187.4h2.6v10h-2.6zM696.3,187.4h2.6v10h-2.6zM699.3,187.4h2.6v10h-2.6zM702.2,187.4h2.6v10h-2.6zM705.2,187.4h2.6v10h-2.6z"/>
<path fill="#4ee034" d="M668.1,187.9h2.2v9h-2.2zM670.7,187.9h2.2v9h-2.2zM673.3,187.9h2.2v9h-2.2zM678.4,187.9h2.2v9h-2.2zM683.6,187.9h2.2v9h-2.2zM688.7,187.9h2.2v9h-2.2zM684.3,187.4h2.6v10h-2.6zM693.3,187.4h2.6v10h-2.6zM711.2,187.4h2.6v10h-2.6zM714.2,187.4h2.6v10h-2.6z"/>
<path fill="#3ebe2c" d="M681,187.9h2.2v9h-2.2zM681.4,187.4h2.6v10h-2.6zM708.2,187.4h2.6v10h-2.6z"/>
<g fill="#f0f040"><ellipse cx="705.8" cy="192.9" rx="3.8" ry="4.3"/></g>
<g fill="#3ebe2c"><ellipse cx="815.6" cy="205.1" rx="2.2" ry="8.1"/></g>
<g fill="#56f038"><ellipse cx="745.1" cy="210.5" rx="1.4" ry="2.2"/></g>
<g fill="#3ebe2c"><ellipse cx="871.2" cy="210.5" rx="1.1" ry="3.3"/></g>
<g fill="#56f038"><ellipse cx="798" cy="211.4" rx="1.1" ry="1.6"/></g>
<g fill="#f0f040"><ellipse cx="837.3" cy="214.1" rx="1.1" ry="1.6"/></g>
<g fill="#4ee034"><ellipse cx="967.5" cy="173.9" rx="12.5" ry="29.8"/></g>
<g fill="#38ac28"><ellipse cx="967.5" cy="173.9" rx="7.1" ry="20.3"/></g>
<g fill="#2a861e"><ellipse cx="967.5" cy="175.3" rx="3.8" ry="13.6"/></g>
<g fill="#56f038"><ellipse cx="978.4" cy="192.9" rx="4.1" ry="10.9"/><ellipse cx="926.8" cy="192.9" rx="3.3" ry="8.1"/><ellipse cx="958" cy="201.1" rx="2.7" ry="3.3"/><ellipse cx="977" cy="201.1" rx="3.3" ry="3.8"/></g>
<g fill="#3ebe2c"><ellipse cx="1017.7" cy="179.4" rx="10.9" ry="30.4"/></g>
<g fill="#2a861e"><ellipse cx="1017.7" cy="176.6" rx="6" ry="19"/></g>
<g fill="#d4ac24"><ellipse cx="1016.4" cy="193.5" rx="3.3" ry="8.1"/></g>
<g fill="#f0f040"><ellipse cx="1022.3" cy="189.7" rx="1.9" ry="8.1"/></g>
<g fill="#4ee034"><ellipse cx="1055.7" cy="176.6" rx="11.4" ry="30.4"/><ellipse cx="1127.6" cy="157.7" rx="13" ry="31.2"/></g>
<g fill="#56f038"><ellipse cx="1138.4" cy="168.5" rx="5.4" ry="24.4"/></g>
<g fill="#4ee034"><ellipse cx="1095" cy="168.5" rx="40.7" ry="40.7"/></g>
<g fill="#38ac28"><ellipse cx="1096.4" cy="168.5" rx="32" ry="33.1"/></g>
<g fill="#2a861e"><ellipse cx="1099.1" cy="167.1" rx="23.9" ry="26.6"/></g>
<g fill="#38ac28"><ellipse cx="1081.5" cy="176.6" rx="21.7" ry="21.7"/></g>
<g fill="#4ee034"><ellipse cx="1179.1" cy="141.4" rx="6" ry="19"/></g>
<g fill="#56f038"><ellipse cx="1179.1" cy="179.4" rx="3.3" ry="13.6"/><ellipse cx="1181.8" cy="195.6" rx="4.1" ry="10.9"/><ellipse cx="1153.3" cy="173.9" rx="3.3" ry="8.1"/><ellipse cx="1055.7" cy="207.8" rx="2.2" ry="4.1"/><ellipse cx="1127.6" cy="199.7" rx="1.6" ry="4.9"/></g>
<path fill="#d8de38" d="M1059.8,173.9L1070.6,168.5L1078.7,163.1L1085.5,159.8L1089.6,163.1L1097.7,156.3L1103.2,157.1L1102.3,168.5L1092.9,182.1L1089.6,195.6L1081.5,200L1065.2,198.3L1061.1,187.5z"/>
<g fill="#f0f040"><ellipse cx="1078.7" cy="187.5" rx="5.4" ry="8.1"/></g>
<g fill="#4ee034"><ellipse cx="1178.7" cy="141.4" rx="6" ry="19"/></g>
<g fill="#56f038"><ellipse cx="1178.7" cy="176.6" rx="4.1" ry="10.9"/><ellipse cx="1181.4" cy="192.9" rx="4.1" ry="10.9"/></g>
<g fill="#4ee034"><ellipse cx="1227.5" cy="141.4" rx="4.1" ry="19"/></g>
<g fill="#22701a"><ellipse cx="1235.6" cy="141.4" rx="9.5" ry="20.3"/></g>
<g fill="#38ac28"><ellipse cx="1247.8" cy="141.4" rx="5.4" ry="19"/></g>
<g fill="#4ee034"><ellipse cx="1260" cy="138.7" rx="3.8" ry="16.3"/></g>
<g fill="#d8de38"><ellipse cx="1269.5" cy="141.4" rx="6.8" ry="19"/></g>
<g fill="#4ee034"><ellipse cx="1279" cy="138.7" rx="2.7" ry="14.9"/></g>
<g fill="#56f038"><ellipse cx="1287.2" cy="136" rx="4.1" ry="13.6"/></g>
<g fill="#4ee034"><ellipse cx="1300.7" cy="138.7" rx="6.8" ry="13.6"/></g>
<g fill="#56f038"><ellipse cx="1308.9" cy="133.2" rx="2.7" ry="8.1"/></g>
<g fill="#4ee034"><ellipse cx="1341.4" cy="141.4" rx="5.4" ry="19"/></g>
<g fill="#56f038"><ellipse cx="1273.6" cy="188.8" rx="28.5" ry="14.9"/><ellipse cx="1293.9" cy="167.1" rx="20.3" ry="16.3"/><ellipse cx="1308.9" cy="188.8" rx="16.3" ry="13"/><ellipse cx="1246.5" cy="192.9" rx="13.6" ry="10.9"/></g>
<g fill="#4ee034"><ellipse cx="1220.7" cy="176.6" rx="4.9" ry="13.6"/></g>
<g fill="#3ebe2c"><ellipse cx="1250.5" cy="176.6" rx="12.5" ry="19"/></g>
<g fill="#2a861e"><ellipse cx="1250.5" cy="176.6" rx="6.5" ry="10.9"/></g>
<g fill="#56f038"><ellipse cx="1273.6" cy="184.8" rx="13.6" ry="19"/><ellipse cx="1295.3" cy="163.1" rx="10.9" ry="16.3"/></g>
<g fill="#3ebe2c"><ellipse cx="1322.4" cy="179.4" rx="10.9" ry="21.7"/></g>
<g fill="#38ac28"><ellipse cx="1319.7" cy="184.8" rx="4.9" ry="10.9"/></g>
<g fill="#56f038"><ellipse cx="1311.6" cy="187.5" rx="6.8" ry="13.6"/><ellipse cx="1151.5" cy="173.9" rx="3.3" ry="8.1"/><ellipse cx="1132.6" cy="152.2" rx="5.4" ry="8.1"/><ellipse cx="1127.1" cy="195.6" rx="4.1" ry="8.1"/></g>
<g fill="#4ee034"><ellipse cx="1110.9" cy="187.5" rx="8.1" ry="16.3"/></g>
<g fill="#56f038"><ellipse cx="1336" cy="176.6" rx="2.7" ry="10.9"/><ellipse cx="1350.9" cy="176.6" rx="1.4" ry="5.4"/></g></g>
</g>
<line x1="20" y1="115.5" x2="1568" y2="115.5" stroke="#fff" stroke-width="1.4"/>
<line x1="20" y1="167.6" x2="1568" y2="167.6" stroke="#fff" stroke-width="1.4"/>
<text class="km" x="21.8" y="87.9">15 km</text>
<text class="km" x="21.8" y="138.8">10 km</text>
<text class="km" x="21.8" y="189.8">5 km</text>
<g clip-path="url(#cside)">
<g fill="none" stroke-linecap="round" stroke-linejoin="round"><g fill="#308abe"><ellipse cx="1617.3" cy="314" rx="22.6" ry="7.3"/><ellipse cx="1609" cy="405.4" rx="19.3" ry="6"/><ellipse cx="1643.9" cy="439.2" rx="19.3" ry="6"/></g>
<g fill="#3679ae"><ellipse cx="1599" cy="497.4" rx="15.9" ry="5"/></g>
<g fill="#308abe"><ellipse cx="1643.9" cy="538.9" rx="19.3" ry="6"/></g>
<g fill="#3679ae"><ellipse cx="1595" cy="561.5" rx="15" ry="6.6"/><ellipse cx="1595.7" cy="587.1" rx="16.6" ry="6.6"/><ellipse cx="1607.3" cy="588.8" rx="11.6" ry="2.7"/><ellipse cx="1592.4" cy="610.4" rx="12.6" ry="4"/><ellipse cx="1577.2" cy="795" rx="4.8" ry="2"/><ellipse cx="1577.7" cy="797.2" rx="5.4" ry="2.6"/><ellipse cx="1579.7" cy="799.7" rx="8.7" ry="2.1"/><ellipse cx="1576.7" cy="801.4" rx="6.1" ry="3"/><ellipse cx="1580.4" cy="803" rx="7.8" ry="2.9"/><ellipse cx="1579.9" cy="804.8" rx="8.8" ry="2.7"/></g>
<g fill="#3a72a6"><ellipse cx="1578.9" cy="807.6" rx="7.2" ry="2.8"/></g>
<g fill="#3679ae"><ellipse cx="1579.7" cy="809.2" rx="8" ry="2.6"/><ellipse cx="1579.1" cy="811.9" rx="5.7" ry="1.8"/></g>
<g fill="#3a72a6"><ellipse cx="1581.8" cy="814.5" rx="10.3" ry="2.3"/><ellipse cx="1579.9" cy="816.8" rx="7.7" ry="2.5"/><ellipse cx="1580.1" cy="818.5" rx="7.8" ry="2.9"/><ellipse cx="1581.9" cy="820.1" rx="9.7" ry="2.6"/><ellipse cx="1582.2" cy="822.4" rx="11.6" ry="2.9"/><ellipse cx="1582.5" cy="824.2" rx="10.5" ry="2.3"/></g>
<g fill="#3679ae"><ellipse cx="1583.4" cy="826.4" rx="10.8" ry="2.2"/><ellipse cx="1582.8" cy="828.5" rx="9.4" ry="1.5"/><ellipse cx="1580.6" cy="830.2" rx="9.4" ry="2"/></g>
<g fill="#308abe"><ellipse cx="1580.3" cy="832.1" rx="8.3" ry="2.2"/><ellipse cx="1582.6" cy="834.6" rx="11.4" ry="1.8"/><ellipse cx="1581.6" cy="837.4" rx="9.9" ry="2.1"/></g>
<g fill="#3679ae"><ellipse cx="1583.2" cy="839.8" rx="12.1" ry="2.9"/><ellipse cx="1580.9" cy="842.4" rx="9.6" ry="1.5"/><ellipse cx="1581.7" cy="844.1" rx="10.6" ry="2.9"/></g>
<g fill="#3a72a6"><ellipse cx="1582.4" cy="846.1" rx="11.4" ry="2.6"/></g>
<g fill="#3679ae"><ellipse cx="1581.9" cy="848" rx="11" ry="2.4"/><ellipse cx="1582.3" cy="850.6" rx="9.8" ry="2.4"/></g>
<g fill="#3a72a6"><ellipse cx="1582.8" cy="852.6" rx="9.5" ry="1.7"/><ellipse cx="1582.6" cy="855.2" rx="9.5" ry="2.4"/><ellipse cx="1582.8" cy="857.4" rx="12.1" ry="1.9"/><ellipse cx="1583.9" cy="859.1" rx="11.4" ry="2.2"/><ellipse cx="1584" cy="861" rx="12" ry="2.8"/><ellipse cx="1582.7" cy="863.3" rx="9.3" ry="1.7"/><ellipse cx="1583.8" cy="865.8" rx="11.9" ry="1.6"/><ellipse cx="1585.3" cy="868.1" rx="13.7" ry="2.8"/><ellipse cx="1584.8" cy="869.7" rx="12.5" ry="2.1"/><ellipse cx="1584.3" cy="871.3" rx="13.2" ry="1.5"/><ellipse cx="1584.5" cy="873.7" rx="12.4" ry="1.6"/><ellipse cx="1584.3" cy="875.3" rx="12.8" ry="1.7"/><ellipse cx="1583.5" cy="877.4" rx="11.6" ry="2.5"/><ellipse cx="1586.3" cy="879.5" rx="15.4" ry="1.7"/><ellipse cx="1585.6" cy="882.3" rx="12.1" ry="2.2"/><ellipse cx="1585.8" cy="884.5" rx="14.2" ry="2.6"/><ellipse cx="1584.1" cy="887" rx="13.5" ry="2.9"/><ellipse cx="1587.3" cy="889.2" rx="15.6" ry="2"/><ellipse cx="1587.1" cy="891.9" rx="14.6" ry="2.7"/><ellipse cx="1588.3" cy="894.7" rx="15.5" ry="2.8"/><ellipse cx="1585.8" cy="897.5" rx="12.4" ry="2.1"/><ellipse cx="1588.3" cy="899.4" rx="16.2" ry="2.1"/><ellipse cx="1586.5" cy="901.1" rx="15.1" ry="2.2"/><ellipse cx="1585.1" cy="903.1" rx="13.6" ry="2.3"/><ellipse cx="1587.9" cy="904.9" rx="15.3" ry="2"/><ellipse cx="1588.2" cy="907.1" rx="15.9" ry="2.6"/><ellipse cx="1586.6" cy="908.9" rx="14.5" ry="2.2"/><ellipse cx="1588.2" cy="911.6" rx="16.7" ry="1.6"/><ellipse cx="1587.1" cy="914" rx="15.7" ry="3"/><ellipse cx="1586.1" cy="916" rx="15.3" ry="2.3"/><ellipse cx="1588.6" cy="918.6" rx="16.9" ry="2.3"/><ellipse cx="1587" cy="920.6" rx="13.7" ry="2.4"/><ellipse cx="1586.8" cy="923.2" rx="13.9" ry="2.5"/><ellipse cx="1589" cy="924.8" rx="17" ry="2.9"/><ellipse cx="1586" cy="927.3" rx="14.7" ry="2.5"/><ellipse cx="1588.4" cy="929.1" rx="16.9" ry="2.3"/><ellipse cx="1585.9" cy="931.9" rx="15.4" ry="2.5"/><ellipse cx="1586.2" cy="933.6" rx="15.3" ry="2.9"/><ellipse cx="1588.2" cy="935.4" rx="17.1" ry="2.8"/><ellipse cx="1589.5" cy="938.3" rx="16.2" ry="1.6"/><ellipse cx="1587.8" cy="940.9" rx="16.1" ry="2.9"/><ellipse cx="1590.5" cy="943.1" rx="17.3" ry="1.9"/><ellipse cx="1588.3" cy="945" rx="16.4" ry="1.5"/><ellipse cx="1587" cy="947.4" rx="15.5" ry="1.5"/><ellipse cx="1590.3" cy="949.9" rx="18" ry="2"/><ellipse cx="1587.8" cy="952.4" rx="16.3" ry="2.2"/><ellipse cx="1586.6" cy="955.2" rx="16" ry="2.5"/><ellipse cx="1588.8" cy="957.8" rx="15.5" ry="2.8"/><ellipse cx="1587.4" cy="960" rx="14.4" ry="1.7"/><ellipse cx="1590.4" cy="962.1" rx="17.6" ry="2.4"/><ellipse cx="1587.9" cy="964.3" rx="15.9" ry="2.3"/><ellipse cx="1589.8" cy="967.1" rx="17.1" ry="2.9"/><ellipse cx="1588.3" cy="968.8" rx="15.3" ry="1.9"/><ellipse cx="1588.9" cy="970.8" rx="18.4" ry="1.9"/><ellipse cx="1589.1" cy="973.5" rx="17.5" ry="1.7"/><ellipse cx="1587.5" cy="976.4" rx="16.7" ry="2"/><ellipse cx="1588" cy="978.6" rx="15.3" ry="2.6"/><ellipse cx="1588.9" cy="981.4" rx="18.3" ry="2.8"/></g>
<g fill="#3679ae"><ellipse cx="1591.1" cy="983.4" rx="18.6" ry="1.6"/><ellipse cx="1589" cy="986.3" rx="17.6" ry="2.6"/><ellipse cx="1591.3" cy="987.9" rx="18.1" ry="1.8"/><ellipse cx="1587.9" cy="989.8" rx="16" ry="2.1"/><ellipse cx="1589.7" cy="992.6" rx="18.7" ry="2.5"/><ellipse cx="1588.8" cy="994.7" rx="18.2" ry="3"/><ellipse cx="1589.3" cy="997.5" rx="15.8" ry="2.6"/><ellipse cx="1588.2" cy="999.8" rx="15.9" ry="1.7"/><ellipse cx="1591.6" cy="1002" rx="19" ry="1.6"/></g>
<g fill="#308abe"><ellipse cx="1622.9" cy="642.2" rx="20.2" ry="6"/><ellipse cx="1608.8" cy="662.3" rx="19.2" ry="6"/><ellipse cx="1661.4" cy="656.3" rx="16.5" ry="5.6"/></g>
<g fill="#2a98c8"><ellipse cx="1661.4" cy="661.3" rx="16.5" ry="5.6"/></g>
<g fill="#3679ae"><ellipse cx="1584.6" cy="681.9" rx="10.1" ry="3.4"/><ellipse cx="1584.2" cy="704.7" rx="9.1" ry="3.6"/></g>
<g fill="#2a98c8"><ellipse cx="1607.4" cy="710.7" rx="17.7" ry="10.5"/></g>
<g fill="#308abe"><ellipse cx="1648.7" cy="714.8" rx="24.2" ry="8.1"/></g>
<g fill="#26a4d0"><ellipse cx="1643.7" cy="727.9" rx="19.2" ry="8.1"/></g>
<g fill="#308abe"><ellipse cx="1661.8" cy="741" rx="16.5" ry="5.6"/></g>
<g fill="#3679ae"><ellipse cx="1594.3" cy="730.9" rx="9.1" ry="4"/></g>
<g fill="#308abe"><ellipse cx="1588.2" cy="743" rx="15.1" ry="9.1"/></g>
<g fill="#26a4d0"><ellipse cx="1582.2" cy="743" rx="8.1" ry="4"/></g>
<g fill="#308abe"><ellipse cx="1600.3" cy="751.1" rx="15.1" ry="8.1"/><ellipse cx="1596.3" cy="759.1" rx="12.1" ry="5"/><ellipse cx="1661.4" cy="769.2" rx="16.5" ry="5"/></g>
<g fill="#3679ae"><ellipse cx="1661.4" cy="775.3" rx="16.5" ry="5"/><ellipse cx="1588.2" cy="777.3" rx="15.1" ry="3"/><ellipse cx="1581.2" cy="785.4" rx="9.1" ry="3.6"/><ellipse cx="1600.3" cy="792.8" rx="15.1" ry="5"/><ellipse cx="1674.9" cy="792.4" rx="10.1" ry="2.6"/><ellipse cx="1674.9" cy="818.6" rx="10.1" ry="8.5"/><ellipse cx="1674.9" cy="839.8" rx="10.1" ry="7.7"/><ellipse cx="1674.9" cy="851.9" rx="10.1" ry="3.2"/></g>
<g fill="#2a98c8"><ellipse cx="1614.4" cy="873.1" rx="30.2" ry="25.2"/></g>
<g fill="#26a4d0"><ellipse cx="1616.5" cy="874.5" rx="27.8" ry="20.2"/></g>
<g fill="#3679ae"><ellipse cx="1586.2" cy="841.8" rx="13.1" ry="6"/><ellipse cx="1649.7" cy="866" rx="5" ry="2"/><ellipse cx="1651.8" cy="880.5" rx="6" ry="4"/><ellipse cx="1649.7" cy="897.3" rx="5" ry="1.6"/><ellipse cx="1648.7" cy="907.4" rx="5.6" ry="5"/><ellipse cx="1674.9" cy="891.2" rx="10.1" ry="3.6"/><ellipse cx="1674.9" cy="904.9" rx="10.1" ry="3.2"/><ellipse cx="1666.9" cy="911.4" rx="4" ry="1.6"/><ellipse cx="1665.9" cy="916.4" rx="3" ry="1.2"/></g>
<g fill="#308abe"><ellipse cx="1660.8" cy="928.5" rx="18.1" ry="9.1"/></g>
<g fill="#3679ae"><ellipse cx="1681" cy="928.1" rx="4" ry="2"/></g>
<g fill="#308abe"><ellipse cx="1654.8" cy="940.6" rx="10.1" ry="6"/></g>
<g fill="#3679ae"><ellipse cx="1648.7" cy="943.7" rx="5" ry="2.4"/><ellipse cx="1667.9" cy="942.7" rx="5" ry="2"/><ellipse cx="1674.9" cy="956.4" rx="10.1" ry="3.2"/></g>
<g fill="#308abe"><ellipse cx="1642.7" cy="962.8" rx="18.1" ry="7.1"/><ellipse cx="1654.8" cy="974.9" rx="30.2" ry="9.1"/><ellipse cx="1648.7" cy="989" rx="24.2" ry="8.1"/><ellipse cx="1652.8" cy="999.1" rx="28.2" ry="7.1"/><ellipse cx="1668.9" cy="986" rx="14.1" ry="8.1"/></g>
<path fill="#3679ae" d="M1605.3,954.2h4.7v1.6h-4.7zM1603.3,920.1h4.1v1.6h-4.1zM1612.1,951h5v1.6h-5zM1615.8,961.6h5v1.6h-5zM1614.2,904.9h5.1v1.6h-5.1zM1611.8,951.8h3.3v1.6h-3.3zM1612.5,953.1h4.3v1.6h-4.3zM1613.2,911.3h6.8v1.6h-6.8zM1610.2,962.3h5v1.6h-5zM1607,931.9h3.5v1.6h-3.5zM1608.6,944.6h4.8v1.6h-4.8zM1609.7,954.2h5.3v1.6h-5.3zM1604.6,935.6h4.1v1.6h-4.1zM1614,921.6h5.9v1.6h-5.9zM1614.6,959.9h7v1.6h-7zM1605.6,912.1h5.8v1.6h-5.8z"/>
<g fill="#4ee034"><ellipse cx="1603.4" cy="875.1" rx="18.1" ry="11.7"/></g>
<g fill="#3ebe2c"><ellipse cx="1600.3" cy="872.1" rx="12.1" ry="7.1"/></g>
<g fill="#56f038"><ellipse cx="1624.5" cy="876.5" rx="5.6" ry="4.4"/><ellipse cx="1643.7" cy="873.7" rx="1" ry="1"/><ellipse cx="1581.2" cy="746.6" rx="8.1" ry="1"/><ellipse cx="1606.4" cy="895.3" rx="1.6" ry="0.6"/></g>
<g fill="#f0f040"><ellipse cx="1574.1" cy="944.3" rx="1.6" ry="0.6"/></g>
<g fill="#56f038"><ellipse cx="1576.1" cy="992.3" rx="1.6" ry="0.6"/></g>
<g fill="#2a98c8"><ellipse cx="1594.7" cy="1001" rx="21.1" ry="6.6"/><ellipse cx="1603.7" cy="1003.9" rx="30.1" ry="4.4"/></g>
<g fill="#26a4d0"><ellipse cx="1613.5" cy="1007.6" rx="40.1" ry="4.3"/><ellipse cx="1602.8" cy="1010.4" rx="30.2" ry="4.1"/><ellipse cx="1594.9" cy="1014" rx="22.9" ry="3.5"/><ellipse cx="1597.2" cy="1017.9" rx="23.3" ry="4.4"/><ellipse cx="1607.8" cy="1022.1" rx="35.8" ry="4.4"/><ellipse cx="1617.9" cy="1024.7" rx="44.2" ry="4.9"/><ellipse cx="1616.3" cy="1028.3" rx="43.8" ry="4.4"/><ellipse cx="1616.8" cy="1032.4" rx="43" ry="4"/><ellipse cx="1618.1" cy="1035.6" rx="44.6" ry="4"/><ellipse cx="1617.4" cy="1038.5" rx="43.3" ry="3.8"/><ellipse cx="1617" cy="1040.9" rx="44.2" ry="5.9"/><ellipse cx="1616.4" cy="1044.2" rx="42.7" ry="5.9"/></g>
<g fill="#2a98c8"><ellipse cx="1616.6" cy="1047.1" rx="43.8" ry="4.9"/><ellipse cx="1616.7" cy="1051" rx="44.9" ry="3.6"/><ellipse cx="1617.8" cy="1054.5" rx="44.2" ry="5"/><ellipse cx="1617.3" cy="1058.2" rx="44.7" ry="4.5"/><ellipse cx="1616.8" cy="1061.6" rx="44.5" ry="6.8"/><ellipse cx="1617" cy="1064.1" rx="43.4" ry="6.2"/><ellipse cx="1617.8" cy="1068" rx="43.7" ry="6.8"/></g>
<g fill="#308abe"><ellipse cx="1616.5" cy="1070.8" rx="44.2" ry="6.5"/><ellipse cx="1618.2" cy="1073.4" rx="44.1" ry="3.6"/><ellipse cx="1618.2" cy="1077.3" rx="44.3" ry="4.5"/><ellipse cx="1616.2" cy="1081.1" rx="43.3" ry="6.3"/></g>
<g fill="#2a98c8"><ellipse cx="1616.5" cy="1084.7" rx="43.1" ry="3.6"/><ellipse cx="1617.1" cy="1088.5" rx="44.6" ry="3.8"/><ellipse cx="1618.6" cy="1092.5" rx="44" ry="3.6"/><ellipse cx="1618.6" cy="1096.1" rx="44.1" ry="6.8"/><ellipse cx="1616.9" cy="1100.1" rx="43.2" ry="5"/></g>
<g fill="#308abe"><ellipse cx="1616.3" cy="1103.7" rx="43.2" ry="5.8"/><ellipse cx="1617.4" cy="1107" rx="44" ry="5.6"/><ellipse cx="1617" cy="1110.4" rx="44.3" ry="5.1"/><ellipse cx="1617.4" cy="1113" rx="44" ry="6.1"/></g>
<g fill="#2a98c8"><ellipse cx="1618.1" cy="1115.9" rx="44.2" ry="3.7"/><ellipse cx="1617.2" cy="1118.6" rx="42.6" ry="4.2"/></g>
<g fill="#26a4d0"><ellipse cx="1616.9" cy="1122.4" rx="43.6" ry="4.7"/></g>
<g fill="#2a98c8"><ellipse cx="1619" cy="1125" rx="44.2" ry="6.3"/><ellipse cx="1618.4" cy="1128.1" rx="43.8" ry="5.6"/><ellipse cx="1617.9" cy="1130.4" rx="44.8" ry="4.4"/></g>
<g fill="#26a4d0"><ellipse cx="1617.9" cy="1134.5" rx="43.4" ry="3.7"/></g>
<g fill="#2a98c8"><ellipse cx="1617.7" cy="1137.5" rx="44.5" ry="6.7"/><ellipse cx="1617.7" cy="1140.3" rx="44.8" ry="4.9"/><ellipse cx="1617.2" cy="1142.7" rx="43.9" ry="5.7"/><ellipse cx="1617.6" cy="1146.7" rx="43.2" ry="3.6"/><ellipse cx="1616.8" cy="1149.3" rx="44.2" ry="5.6"/><ellipse cx="1617.9" cy="1151.7" rx="44.4" ry="4.2"/><ellipse cx="1617.7" cy="1155.7" rx="42.7" ry="4.8"/><ellipse cx="1617.4" cy="1159.6" rx="42.3" ry="4.6"/><ellipse cx="1616.6" cy="1163" rx="43.7" ry="5"/><ellipse cx="1618.1" cy="1165.9" rx="44.8" ry="6.4"/><ellipse cx="1616.4" cy="1168.8" rx="43.5" ry="5.5"/><ellipse cx="1618.2" cy="1172.8" rx="43.8" ry="6.7"/></g>
<g fill="#308abe"><ellipse cx="1616.4" cy="1176.8" rx="43.5" ry="3.6"/><ellipse cx="1616.8" cy="1180.9" rx="43.7" ry="6.8"/><ellipse cx="1616.4" cy="1184.8" rx="43.3" ry="4.8"/><ellipse cx="1616.9" cy="1188.4" rx="43.6" ry="5.1"/></g>
<g fill="#2a98c8"><ellipse cx="1618.2" cy="1191" rx="44.6" ry="4.6"/></g>
<g fill="#308abe"><ellipse cx="1616.9" cy="1194.5" rx="42.6" ry="4.6"/><ellipse cx="1618.8" cy="1198" rx="44.1" ry="6.1"/><ellipse cx="1618.9" cy="1201.5" rx="45" ry="4.8"/><ellipse cx="1618.1" cy="1204" rx="42.8" ry="6"/><ellipse cx="1618.1" cy="1206.4" rx="43.6" ry="3.9"/><ellipse cx="1616.6" cy="1210" rx="43.2" ry="6.8"/><ellipse cx="1618.7" cy="1213.3" rx="44.2" ry="4.4"/><ellipse cx="1620.2" cy="1217.4" rx="43.8" ry="4.3"/><ellipse cx="1617.1" cy="1220" rx="42.8" ry="6.7"/><ellipse cx="1618.5" cy="1223.9" rx="43" ry="3.6"/><ellipse cx="1618.8" cy="1226.2" rx="42.2" ry="4.4"/><ellipse cx="1618.3" cy="1229.9" rx="41.3" ry="6.7"/><ellipse cx="1618.9" cy="1233.6" rx="44" ry="4.1"/><ellipse cx="1618.6" cy="1237.1" rx="41.9" ry="6.5"/></g>
<g fill="#2a98c8"><ellipse cx="1619.3" cy="1239.5" rx="42.9" ry="6.8"/><ellipse cx="1620.2" cy="1242.3" rx="43.6" ry="6.8"/></g>
<g fill="#308abe"><ellipse cx="1619.7" cy="1244.8" rx="41.4" ry="4.6"/><ellipse cx="1618.1" cy="1248.3" rx="42.2" ry="4.7"/><ellipse cx="1619.2" cy="1251" rx="40.8" ry="4.1"/><ellipse cx="1619.9" cy="1254.2" rx="41.5" ry="5.6"/><ellipse cx="1620.2" cy="1256.9" rx="43.5" ry="6.2"/><ellipse cx="1619.8" cy="1260.1" rx="43.4" ry="4.6"/><ellipse cx="1620.5" cy="1263.5" rx="43.5" ry="3.7"/><ellipse cx="1620.2" cy="1267.1" rx="41.5" ry="6.8"/><ellipse cx="1621.2" cy="1270.6" rx="42.9" ry="6.2"/><ellipse cx="1621.3" cy="1273.9" rx="41.9" ry="5.1"/><ellipse cx="1621.1" cy="1276.6" rx="41.9" ry="3.7"/></g>
<g fill="#2a98c8"><ellipse cx="1621" cy="1280.1" rx="41.6" ry="6.3"/><ellipse cx="1620.2" cy="1282.7" rx="41.9" ry="4.1"/><ellipse cx="1620.4" cy="1285.2" rx="40.4" ry="5.8"/><ellipse cx="1620.3" cy="1287.8" rx="42.6" ry="6.3"/><ellipse cx="1620.2" cy="1290.3" rx="41.6" ry="6.9"/><ellipse cx="1620.6" cy="1294.3" rx="40.5" ry="6.6"/><ellipse cx="1621" cy="1296.5" rx="43.2" ry="4.2"/><ellipse cx="1619.7" cy="1300.5" rx="41.5" ry="5.2"/><ellipse cx="1620.2" cy="1303.6" rx="41.1" ry="6.1"/><ellipse cx="1620.8" cy="1307.7" rx="40.8" ry="5.9"/></g>
<g fill="#26a4d0"><ellipse cx="1621" cy="1310.4" rx="40.3" ry="6.5"/><ellipse cx="1620.3" cy="1314.1" rx="40.3" ry="3.8"/><ellipse cx="1620.4" cy="1317.1" rx="42" ry="3.6"/></g>
<g fill="#2a98c8"><ellipse cx="1620.6" cy="1320.5" rx="42.2" ry="6.5"/><ellipse cx="1621.7" cy="1323.5" rx="41.5" ry="5.1"/><ellipse cx="1621.9" cy="1326.2" rx="41.9" ry="6.3"/><ellipse cx="1620.8" cy="1330.3" rx="41.1" ry="5.9"/><ellipse cx="1621.6" cy="1332.7" rx="41" ry="4.9"/><ellipse cx="1621.2" cy="1336.2" rx="41.4" ry="4.9"/><ellipse cx="1620.6" cy="1339.7" rx="39.7" ry="5.9"/><ellipse cx="1620.2" cy="1342.8" rx="42" ry="5"/><ellipse cx="1622" cy="1346.3" rx="41.7" ry="6.6"/></g>
<g fill="#308abe"><ellipse cx="1620.9" cy="1349.2" rx="39.9" ry="4.6"/><ellipse cx="1619.7" cy="1352.7" rx="40.5" ry="5.1"/><ellipse cx="1620.9" cy="1356.2" rx="41.1" ry="6.7"/><ellipse cx="1621.1" cy="1359.6" rx="40.4" ry="5.7"/></g>
<g fill="#2a98c8"><ellipse cx="1621.1" cy="1362.7" rx="42.4" ry="4.2"/><ellipse cx="1621.8" cy="1365.8" rx="40.7" ry="7"/><ellipse cx="1622.2" cy="1369.2" rx="40.9" ry="5.6"/><ellipse cx="1620.8" cy="1373.4" rx="40.7" ry="3.8"/><ellipse cx="1620.9" cy="1376.5" rx="39.7" ry="4.6"/><ellipse cx="1621.2" cy="1379.9" rx="40.2" ry="3.6"/><ellipse cx="1625.5" cy="1382.6" rx="45.8" ry="6.6"/><ellipse cx="1628" cy="1385.8" rx="48.7" ry="6.3"/><ellipse cx="1627.7" cy="1389.3" rx="47.2" ry="4.8"/><ellipse cx="1627.9" cy="1392.9" rx="46.6" ry="3.9"/><ellipse cx="1626.9" cy="1395.3" rx="47.6" ry="4.9"/><ellipse cx="1628.1" cy="1399.3" rx="49.1" ry="4.9"/><ellipse cx="1628.2" cy="1402.9" rx="47.9" ry="5.6"/><ellipse cx="1627.8" cy="1405.9" rx="48.3" ry="3.8"/><ellipse cx="1628.8" cy="1409" rx="46.9" ry="3.9"/><ellipse cx="1628.1" cy="1411.3" rx="46.8" ry="5.5"/><ellipse cx="1628.8" cy="1413.8" rx="48" ry="6.9"/><ellipse cx="1629.1" cy="1416.7" rx="48.7" ry="4.1"/><ellipse cx="1627.8" cy="1419.7" rx="46.2" ry="6.6"/><ellipse cx="1628" cy="1423.2" rx="48.3" ry="4.4"/><ellipse cx="1627.9" cy="1425.6" rx="47.1" ry="4.1"/><ellipse cx="1628.2" cy="1428" rx="47.6" ry="6.9"/><ellipse cx="1623.4" cy="1431" rx="41.3" ry="6.6"/><ellipse cx="1621.5" cy="1434.9" rx="39.9" ry="4.8"/><ellipse cx="1620.8" cy="1438.4" rx="40.6" ry="6.3"/><ellipse cx="1621.7" cy="1442.1" rx="40.5" ry="5.1"/></g>
<g fill="#26a4d0"><ellipse cx="1620.9" cy="1444.8" rx="40.4" ry="6.8"/><ellipse cx="1622.7" cy="1448.6" rx="40.3" ry="5.4"/><ellipse cx="1623" cy="1451.8" rx="42" ry="6.9"/><ellipse cx="1623.9" cy="1455.9" rx="40.8" ry="5.9"/><ellipse cx="1622.9" cy="1458.6" rx="39.2" ry="6.3"/></g>
<g fill="#2a98c8"><ellipse cx="1622.6" cy="1462.5" rx="40.6" ry="5.5"/><ellipse cx="1622.4" cy="1465" rx="40.3" ry="4.6"/><ellipse cx="1623.6" cy="1467.8" rx="40.8" ry="5.1"/><ellipse cx="1624.3" cy="1470.8" rx="40.1" ry="3.7"/><ellipse cx="1623.5" cy="1474.5" rx="40.7" ry="3.8"/><ellipse cx="1622.8" cy="1477.8" rx="39" ry="4.4"/><ellipse cx="1622.3" cy="1480" rx="40.4" ry="4.2"/></g>
<g fill="#308abe"><ellipse cx="1623.4" cy="1482.9" rx="41" ry="3.9"/></g>
<g fill="#2a98c8"><ellipse cx="1622.9" cy="1485.9" rx="38.5" ry="6.6"/><ellipse cx="1622.2" cy="1488.4" rx="39.8" ry="5.5"/><ellipse cx="1623.4" cy="1491.2" rx="38.9" ry="4"/><ellipse cx="1623.2" cy="1494.7" rx="39.3" ry="4"/><ellipse cx="1623.7" cy="1498.5" rx="40.1" ry="5.5"/><ellipse cx="1624.1" cy="1502.5" rx="40.8" ry="5.3"/><ellipse cx="1624.4" cy="1506" rx="39.8" ry="4"/></g>
<g fill="#308abe"><ellipse cx="1623.8" cy="1509.7" rx="40.7" ry="3.8"/></g>
<g fill="#2a98c8"><ellipse cx="1623" cy="1512.4" rx="38" ry="3.9"/><ellipse cx="1622.7" cy="1516.5" rx="38.4" ry="5.7"/><ellipse cx="1623.8" cy="1518.9" rx="38.6" ry="4.7"/><ellipse cx="1624.6" cy="1522.3" rx="39.4" ry="6.3"/><ellipse cx="1624.4" cy="1525.5" rx="37.8" ry="6.6"/><ellipse cx="1623" cy="1529.5" rx="35.6" ry="5.2"/><ellipse cx="1614.5" cy="1533.2" rx="27.2" ry="6.1"/><ellipse cx="1613" cy="1536.6" rx="26.2" ry="3.8"/><ellipse cx="1615.5" cy="1539.4" rx="27.2" ry="4.8"/><ellipse cx="1615.7" cy="1543" rx="27.2" ry="5.3"/><ellipse cx="1618.4" cy="1545.9" rx="29.4" ry="5.8"/></g>
<g fill="#308abe"><ellipse cx="1616.9" cy="1548.2" rx="29.8" ry="4.6"/></g>
<g fill="#2a98c8"><ellipse cx="1621.7" cy="1551.5" rx="33" ry="6.2"/><ellipse cx="1628" cy="1555.4" rx="39.4" ry="5"/><ellipse cx="1624.6" cy="1558" rx="34.7" ry="5.4"/><ellipse cx="1620.5" cy="1560.7" rx="30.7" ry="7"/><ellipse cx="1619.2" cy="1564.5" rx="27.6" ry="4.8"/><ellipse cx="1618" cy="1568.3" rx="28.4" ry="3.6"/><ellipse cx="1617.4" cy="1572.2" rx="27.5" ry="5.4"/><ellipse cx="1617.1" cy="1575.8" rx="26.9" ry="5"/><ellipse cx="1617.6" cy="1579.7" rx="26.7" ry="5.4"/><ellipse cx="1619.2" cy="1583.6" rx="25.2" ry="6"/></g>
<g fill="#26a4d0"><ellipse cx="1619" cy="1587.2" rx="25.1" ry="4.2"/><ellipse cx="1618.8" cy="1590.4" rx="24.3" ry="6.6"/><ellipse cx="1619.1" cy="1594.3" rx="23.6" ry="5.1"/><ellipse cx="1619.4" cy="1596.6" rx="22.7" ry="6.6"/></g>
<rect x="1620" y="1010" width="36" height="11" fill="#1a1a1a"/>
<g fill="#3679ae"><ellipse cx="1715.3" cy="1019.2" rx="3" ry="3"/><ellipse cx="1716.3" cy="1030.2" rx="3" ry="3.6"/><ellipse cx="1716.3" cy="1043.4" rx="3.6" ry="6"/></g>
<g fill="#308abe"><ellipse cx="1704.2" cy="1109.9" rx="14.5" ry="11.1"/><ellipse cx="1704.2" cy="1128.1" rx="14.5" ry="8.1"/></g>
<g fill="#3679ae"><ellipse cx="1699.1" cy="1143.2" rx="20.2" ry="8.1"/></g>
<g fill="#308abe"><ellipse cx="1705.2" cy="1167.4" rx="13.1" ry="5.6"/></g>
<g fill="#3679ae"><ellipse cx="1694.1" cy="1179.1" rx="11.1" ry="4"/></g>
<g fill="#308abe"><ellipse cx="1704.2" cy="1194.6" rx="14.1" ry="5.6"/><ellipse cx="1701.2" cy="1210.7" rx="18.1" ry="7.7"/><ellipse cx="1704.2" cy="1229.9" rx="14.5" ry="8.1"/></g>
<g fill="#3679ae"><ellipse cx="1699.1" cy="1248" rx="16.1" ry="7.1"/></g>
<g fill="#308abe"><ellipse cx="1701.2" cy="1264.2" rx="18.1" ry="7.1"/></g>
<g fill="#3679ae"><ellipse cx="1672.9" cy="1257.7" rx="10.1" ry="1.6"/><ellipse cx="1694.1" cy="1278.3" rx="11.1" ry="7.1"/><ellipse cx="1694.1" cy="1290.4" rx="11.1" ry="3.6"/><ellipse cx="1716.3" cy="1308.5" rx="3.6" ry="10.1"/></g>
<g fill="#308abe"><ellipse cx="1704.2" cy="1319.6" rx="14.5" ry="5.6"/><ellipse cx="1704.2" cy="1342.8" rx="14.5" ry="9.1"/><ellipse cx="1704.2" cy="1369" rx="14.5" ry="5.6"/><ellipse cx="1704.2" cy="1381.1" rx="14.5" ry="5"/></g>
<g fill="#3679ae"><ellipse cx="1674.9" cy="1054.4" rx="5" ry="5.6"/><ellipse cx="1674.9" cy="1064.5" rx="5" ry="2.4"/><ellipse cx="1674.9" cy="1073.6" rx="5" ry="5.6"/><ellipse cx="1674.9" cy="1087.1" rx="5" ry="2.4"/><ellipse cx="1674.9" cy="1100.8" rx="5" ry="3.6"/><ellipse cx="1666.9" cy="1036.3" rx="3" ry="3"/><ellipse cx="1585.3" cy="1001" rx="12.7" ry="2"/><ellipse cx="1586.3" cy="1003.2" rx="14.1" ry="1.6"/><ellipse cx="1586.4" cy="1005.5" rx="13.9" ry="2.7"/><ellipse cx="1583.9" cy="1008.1" rx="12" ry="2.3"/><ellipse cx="1584.7" cy="1010.8" rx="13.2" ry="2.7"/><ellipse cx="1586" cy="1013.5" rx="13.4" ry="3"/><ellipse cx="1585.1" cy="1015.7" rx="11.6" ry="1.7"/><ellipse cx="1586" cy="1017.7" rx="12.7" ry="2.8"/><ellipse cx="1583.1" cy="1020" rx="11.2" ry="2.3"/><ellipse cx="1582.1" cy="1021.9" rx="10.3" ry="2.4"/><ellipse cx="1585.2" cy="1024.3" rx="11.9" ry="2.8"/><ellipse cx="1582.8" cy="1027.1" rx="10.9" ry="2.2"/><ellipse cx="1582.7" cy="1030.1" rx="11.1" ry="2.6"/><ellipse cx="1582.3" cy="1033" rx="8.9" ry="1.9"/><ellipse cx="1583.9" cy="1034.8" rx="11.3" ry="1.8"/><ellipse cx="1581.7" cy="1036.6" rx="10" ry="2"/><ellipse cx="1582" cy="1039.2" rx="9.7" ry="2.9"/><ellipse cx="1583.9" cy="1041.5" rx="11.1" ry="2"/><ellipse cx="1580.3" cy="1044" rx="9.3" ry="1.7"/><ellipse cx="1581.6" cy="1046.5" rx="9.4" ry="2.3"/></g>
<g fill="#308abe"><ellipse cx="1582.5" cy="1049.3" rx="10.2" ry="2.4"/><ellipse cx="1581.8" cy="1052" rx="9.7" ry="2.5"/></g>
<g fill="#3679ae"><ellipse cx="1580.2" cy="1054.9" rx="9.5" ry="2.6"/><ellipse cx="1579.6" cy="1057.5" rx="8.4" ry="2.9"/></g>
<g fill="#308abe"><ellipse cx="1582.5" cy="1060" rx="9.3" ry="2.3"/><ellipse cx="1579.6" cy="1062.6" rx="8.7" ry="1.5"/><ellipse cx="1581.1" cy="1065" rx="8.8" ry="2.5"/><ellipse cx="1580.3" cy="1067.8" rx="7.5" ry="2.5"/><ellipse cx="1581" cy="1070.9" rx="7.8" ry="2.7"/><ellipse cx="1580.5" cy="1073.4" rx="9.3" ry="2.7"/><ellipse cx="1580.2" cy="1075.4" rx="8.6" ry="3"/><ellipse cx="1580.4" cy="1077.5" rx="7.5" ry="2.2"/></g>
<g fill="#3679ae"><ellipse cx="1579.6" cy="1080.6" rx="8.5" ry="1.8"/><ellipse cx="1579.9" cy="1082.8" rx="9" ry="1.6"/><ellipse cx="1579.2" cy="1085.3" rx="5.8" ry="2.8"/></g>
<g fill="#308abe"><ellipse cx="1580" cy="1088" rx="6.5" ry="2.3"/><ellipse cx="1579.5" cy="1090.9" rx="6.3" ry="2.1"/><ellipse cx="1578.8" cy="1093.3" rx="7.2" ry="1.6"/></g>
<g fill="#3679ae"><ellipse cx="1577.9" cy="1095.9" rx="6.5" ry="2.7"/></g>
<g fill="#308abe"><ellipse cx="1579.8" cy="1098.8" rx="8.4" ry="2.3"/><ellipse cx="1579.9" cy="1101.8" rx="7.5" ry="2.2"/><ellipse cx="1578.9" cy="1104.5" rx="6.4" ry="2.6"/></g>
<g fill="#3679ae"><ellipse cx="1577.8" cy="1107.4" rx="5.6" ry="1.6"/><ellipse cx="1579.9" cy="1109.6" rx="8.1" ry="1.9"/></g>
<g fill="#308abe"><ellipse cx="1577.6" cy="1111.7" rx="5.7" ry="1.9"/></g>
<g fill="#3679ae"><ellipse cx="1580.6" cy="1113.4" rx="7.3" ry="2.8"/><ellipse cx="1578.2" cy="1116.1" rx="7.2" ry="2.6"/><ellipse cx="1579.1" cy="1118.8" rx="7.4" ry="2.5"/><ellipse cx="1579.2" cy="1121.2" rx="7.8" ry="2.5"/><ellipse cx="1578.2" cy="1123" rx="4.5" ry="1.6"/><ellipse cx="1579.9" cy="1125.7" rx="6.9" ry="2.9"/><ellipse cx="1577.7" cy="1128.6" rx="5.9" ry="2.5"/><ellipse cx="1579.7" cy="1131.1" rx="7.1" ry="1.9"/><ellipse cx="1579.1" cy="1132.9" rx="7.8" ry="1.5"/><ellipse cx="1577.3" cy="1135.2" rx="5.7" ry="1.9"/><ellipse cx="1576.7" cy="1137" rx="4.3" ry="2.2"/><ellipse cx="1578.4" cy="1140.2" rx="5.7" ry="2"/><ellipse cx="1576.8" cy="1142" rx="5.1" ry="2.8"/><ellipse cx="1579.5" cy="1144.4" rx="6.2" ry="2.3"/><ellipse cx="1579.4" cy="1147" rx="6.3" ry="2.6"/><ellipse cx="1579.2" cy="1149.5" rx="5.8" ry="2.1"/><ellipse cx="1576.9" cy="1152.1" rx="3.4" ry="2.5"/><ellipse cx="1578.2" cy="1154.6" rx="5.7" ry="2.3"/><ellipse cx="1578.4" cy="1157.5" rx="5.1" ry="2.5"/><ellipse cx="1577.9" cy="1160.2" rx="5.1" ry="2.8"/><ellipse cx="1576.5" cy="1162.6" rx="5.3" ry="2.6"/><ellipse cx="1578" cy="1165.3" rx="4.5" ry="1.6"/><ellipse cx="1576.8" cy="1167.6" rx="3.4" ry="1.9"/><ellipse cx="1576.2" cy="1169.6" rx="4.4" ry="1.9"/><ellipse cx="1578" cy="1172.6" rx="6.8" ry="2.9"/><ellipse cx="1577.3" cy="1174.7" rx="6.2" ry="1.8"/><ellipse cx="1575.9" cy="1177.6" rx="3.9" ry="2.6"/><ellipse cx="1577.1" cy="1179.5" rx="5.1" ry="2.8"/><ellipse cx="1577.2" cy="1181.5" rx="3.3" ry="2.3"/></g>
<g fill="#308abe"><ellipse cx="1577.6" cy="1183.9" rx="4.4" ry="3"/><ellipse cx="1576.5" cy="1186.8" rx="4.4" ry="2.6"/><ellipse cx="1576" cy="1189" rx="3.3" ry="2.1"/></g>
<g fill="#3679ae"><ellipse cx="1578.1" cy="1191.2" rx="4" ry="2.8"/><ellipse cx="1578.8" cy="1194.1" rx="4.8" ry="1.6"/><ellipse cx="1576.1" cy="1196.8" rx="2.3" ry="2.7"/><ellipse cx="1575.8" cy="1198.8" rx="3.7" ry="1.6"/><ellipse cx="1576.3" cy="1200.7" rx="4.2" ry="2.9"/></g>
<g fill="#308abe"><ellipse cx="1576.4" cy="1202.5" rx="4.4" ry="2.1"/><ellipse cx="1577.2" cy="1204.9" rx="4" ry="2.4"/><ellipse cx="1575.9" cy="1207.2" rx="3.6" ry="2.5"/><ellipse cx="1575.8" cy="1209" rx="2.6" ry="2"/><ellipse cx="1575.4" cy="1211.1" rx="3.4" ry="1.9"/><ellipse cx="1576.2" cy="1213.6" rx="2.1" ry="1.8"/></g>
<g fill="#3679ae"><ellipse cx="1575" cy="1215.4" rx="3.8" ry="2.1"/><ellipse cx="1577.1" cy="1217.8" rx="3.1" ry="3"/><ellipse cx="1574.7" cy="1220.6" rx="2.5" ry="2.2"/></g>
<g fill="#308abe"><ellipse cx="1575.8" cy="1222.9" rx="3.8" ry="2.3"/><ellipse cx="1576.1" cy="1224.7" rx="3.5" ry="2.4"/></g>
<g fill="#3679ae"><ellipse cx="1575.8" cy="1226.7" rx="3.2" ry="2.9"/><ellipse cx="1576.4" cy="1229.2" rx="4.6" ry="1.7"/><ellipse cx="1577.4" cy="1232" rx="3.1" ry="1.9"/><ellipse cx="1577.9" cy="1234.9" rx="3.9" ry="1.6"/><ellipse cx="1575.7" cy="1237.7" rx="3.2" ry="2.6"/></g>
<g fill="#56f038"><ellipse cx="1644.7" cy="1066.5" rx="19.2" ry="5.6"/></g>
<g fill="#3ebe2c"><ellipse cx="1608.4" cy="1094.8" rx="18.1" ry="12.1"/></g>
<g fill="#56f038"><ellipse cx="1582.2" cy="1094.4" rx="6" ry="2"/><ellipse cx="1588.2" cy="1103.9" rx="8.1" ry="2.4"/></g>
<g fill="#4ee034"><ellipse cx="1606.4" cy="1135.1" rx="23.2" ry="22.2"/></g>
<g fill="#3ebe2c"><ellipse cx="1606.4" cy="1135.1" rx="20.2" ry="18.1"/></g>
<g fill="#2a861e"><ellipse cx="1611.4" cy="1137.1" rx="9.1" ry="6"/></g>
<g fill="#da961c"><ellipse cx="1593.3" cy="1122.6" rx="8.5" ry="2"/></g>
<g fill="#f0f040"><ellipse cx="1594.7" cy="1131.5" rx="5" ry="3.2"/></g>
<g fill="#22701a"><ellipse cx="1592.3" cy="1127.4" rx="4.4" ry="1.2"/></g>
<g fill="#56f038"><ellipse cx="1636.6" cy="1142.8" rx="1.2" ry="1.2"/><ellipse cx="1653.8" cy="1185.5" rx="9.1" ry="4.4"/><ellipse cx="1652.8" cy="1205.7" rx="10.1" ry="4.4"/><ellipse cx="1616.5" cy="1173" rx="3" ry="0.8"/><ellipse cx="1586.2" cy="1210.7" rx="1.2" ry="0.8"/><ellipse cx="1622.5" cy="1221.8" rx="16.1" ry="17.1"/><ellipse cx="1648.7" cy="1239" rx="15.1" ry="4.4"/></g>
<g fill="#4ee034"><ellipse cx="1608.4" cy="1256.1" rx="25.2" ry="15.7"/></g>
<g fill="#38ac28"><ellipse cx="1608.4" cy="1257.1" rx="15.1" ry="10.1"/></g>
<g fill="#56f038"><ellipse cx="1644.7" cy="1255.1" rx="15.1" ry="4"/></g>
<g fill="#d8de38"><ellipse cx="1644.7" cy="1268.2" rx="18.1" ry="9.1"/></g>
<g fill="#22701a"><ellipse cx="1630.6" cy="1264.2" rx="2" ry="2.8"/></g>
<g fill="#3ebe2c"><ellipse cx="1620.7" cy="1277" rx="40.5" ry="3.2"/></g>
<g fill="#4ee034"><ellipse cx="1621.8" cy="1280.8" rx="40.6" ry="5"/><ellipse cx="1621.1" cy="1284.3" rx="40.3" ry="3.4"/></g>
<g fill="#3ebe2c"><ellipse cx="1621.2" cy="1286.9" rx="40.4" ry="5.3"/><ellipse cx="1621.9" cy="1290.6" rx="40.7" ry="5.7"/><ellipse cx="1621.3" cy="1292.7" rx="39.9" ry="5.1"/><ellipse cx="1620.9" cy="1296.4" rx="39.9" ry="3.2"/><ellipse cx="1620.6" cy="1299.2" rx="40.6" ry="4.6"/><ellipse cx="1620.7" cy="1302.7" rx="40.8" ry="3.5"/><ellipse cx="1621.6" cy="1305.4" rx="40.7" ry="5.1"/></g>
<g fill="#4ee034"><ellipse cx="1621.1" cy="1309.2" rx="40.1" ry="3.6"/><ellipse cx="1620.7" cy="1312.8" rx="40.5" ry="4.7"/><ellipse cx="1622.3" cy="1315.4" rx="40.3" ry="5.7"/><ellipse cx="1621.2" cy="1319.1" rx="39.5" ry="3.1"/><ellipse cx="1621.6" cy="1321.8" rx="39.7" ry="5.3"/><ellipse cx="1620.8" cy="1324.9" rx="40.5" ry="5.3"/></g>
<g fill="#56f038"><ellipse cx="1621.1" cy="1327.9" rx="40.5" ry="3.9"/><ellipse cx="1620.9" cy="1330.6" rx="41" ry="4.1"/><ellipse cx="1621.6" cy="1333.6" rx="40.8" ry="5.9"/></g>
<g fill="#4ee034"><ellipse cx="1620.8" cy="1337.1" rx="41.1" ry="5.1"/><ellipse cx="1622.6" cy="1340.7" rx="41.3" ry="4.6"/><ellipse cx="1627.4" cy="1343.6" rx="46.1" ry="5.8"/><ellipse cx="1628" cy="1346.3" rx="47" ry="3.5"/><ellipse cx="1628.7" cy="1348.8" rx="48.1" ry="3.5"/><ellipse cx="1628.6" cy="1351.9" rx="47.1" ry="5.8"/><ellipse cx="1629.3" cy="1354.7" rx="47.8" ry="5.6"/><ellipse cx="1629.6" cy="1357.4" rx="47.1" ry="4.4"/><ellipse cx="1628.8" cy="1360.7" rx="46.7" ry="5.9"/><ellipse cx="1629.3" cy="1363" rx="47.5" ry="4.4"/><ellipse cx="1628" cy="1366.3" rx="47.7" ry="3.5"/><ellipse cx="1630.2" cy="1369.7" rx="47.7" ry="4.7"/></g>
<g fill="#56f038"><ellipse cx="1628.9" cy="1372.3" rx="48.5" ry="5.2"/><ellipse cx="1628.3" cy="1376.1" rx="48.7" ry="4.4"/><ellipse cx="1628.3" cy="1378.7" rx="48.3" ry="3.3"/></g>
<g fill="#4ee034"><ellipse cx="1629" cy="1381.1" rx="48.9" ry="4.8"/><ellipse cx="1629.4" cy="1385" rx="48.2" ry="5.5"/></g>
<g fill="#2a861e"><ellipse cx="1620.5" cy="1302.5" rx="41.3" ry="5"/></g>
<g fill="#22701a"><ellipse cx="1644.7" cy="1320.6" rx="18.1" ry="7.1"/></g>
<g fill="#f0f040"><ellipse cx="1626.1" cy="1306.1" rx="4" ry="2.8"/><ellipse cx="1614" cy="1338.8" rx="9.1" ry="6"/></g>
<g fill="#3ebe2c"><ellipse cx="1660.8" cy="1356.9" rx="16.1" ry="8.1"/></g>
<g fill="#38ac28"><ellipse cx="1608.4" cy="1350.9" rx="20.2" ry="12.1"/></g>
<g fill="#2a861e"><ellipse cx="1608.4" cy="1377.1" rx="28.2" ry="9.1"/></g>
<g fill="#2a98c8"><ellipse cx="1590.2" cy="1327.1" rx="8.1" ry="1.6"/><ellipse cx="1636.6" cy="1351.9" rx="8.1" ry="4.4"/></g>
<g fill="#56f038"><ellipse cx="1612.4" cy="1290.4" rx="30.2" ry="4"/></g>
<g fill="#308abe"><ellipse cx="1704.2" cy="1392.1" rx="14.5" ry="13.1"/></g>
<g fill="#2a98c8"><ellipse cx="1619.5" cy="1606.9" rx="24.2" ry="8.5"/><ellipse cx="1617.5" cy="1636.5" rx="22.6" ry="8.5"/></g>
<g fill="#26a4d0"><ellipse cx="1612.4" cy="1583.7" rx="20.2" ry="8.1"/></g>
<g fill="#2a98c8"><ellipse cx="1652.8" cy="1555.4" rx="12.1" ry="4"/></g>
<g fill="#4ee034"><ellipse cx="1620.5" cy="1383" rx="46.4" ry="8.1"/><ellipse cx="1602.3" cy="1430.4" rx="18.1" ry="6"/><ellipse cx="1646.7" cy="1434.4" rx="19.2" ry="11.1"/></g>
<g fill="#2a861e"><ellipse cx="1604.4" cy="1438.5" rx="20.2" ry="6"/></g>
<g fill="#22701a"><ellipse cx="1646.7" cy="1437.5" rx="18.1" ry="9.7"/></g>
<g fill="#d8de38"><ellipse cx="1603.4" cy="1460.7" rx="18.1" ry="19.2"/></g>
<g fill="#c4c82c"><ellipse cx="1600.3" cy="1451.6" rx="14.1" ry="4"/></g>
<g fill="#d8de38"><ellipse cx="1646.7" cy="1460.7" rx="18.1" ry="13.1"/></g>
<g fill="#c4c82c"><ellipse cx="1646.7" cy="1457.6" rx="17.1" ry="4"/></g>
<g fill="#38ac28"><ellipse cx="1623.5" cy="1466.7" rx="5.6" ry="17.1"/></g>
<g fill="#56f038"><ellipse cx="1606.4" cy="1484.9" rx="20.2" ry="6"/></g>
<g fill="#22701a"><ellipse cx="1646.7" cy="1485.9" rx="18.1" ry="9.1"/></g>
<g fill="#2a861e"><ellipse cx="1608.4" cy="1494.9" rx="18.1" ry="5"/></g>
<g fill="#f0f040"><ellipse cx="1594.3" cy="1494.9" rx="5.6" ry="2.4"/></g>
<g fill="#56f038"><ellipse cx="1626.5" cy="1500" rx="38.3" ry="4"/><ellipse cx="1608.4" cy="1520.2" rx="20.2" ry="6.5"/><ellipse cx="1614.4" cy="1513.1" rx="5" ry="1"/><ellipse cx="1613.4" cy="1548.4" rx="22.2" ry="8.5"/></g>
<g fill="#4ee034"><ellipse cx="1622.5" cy="1561.5" rx="30.2" ry="8.1"/></g>
<g fill="#56f038"><ellipse cx="1607.4" cy="1568.6" rx="16.1" ry="6"/><ellipse cx="1598.3" cy="1579.6" rx="4" ry="2"/></g>
<polygon points="1634,1539 1667,1530 1667,1551 1634,1541" fill="#1a1a1a"/></g>
</g>
<line x1="1620.6" y1="221" x2="1620.6" y2="1760" stroke="#fff" stroke-width="1.4"/>
<line x1="1670.6" y1="221" x2="1670.6" y2="1760" stroke="#fff" stroke-width="1.4"/>
<text class="km" transform="translate(1599.4,222.6) rotate(90)">5 km</text>
<text class="km" transform="translate(1649.4,222.6) rotate(90)">10 km</text>
<text class="km" transform="translate(1699.4,222.6) rotate(90)">15 km</text>
<g shape-rendering="crispEdges">
<rect x="1721" y="1639.92" width="37" height="120.84" fill="#3e416f"/>
<rect x="1721" y="1567.71" width="37" height="72.70" fill="#3e4f7d"/>
<rect x="1721" y="1495.51" width="37" height="72.70" fill="#3d5a8c"/>
<rect x="1721" y="1423.31" width="37" height="72.70" fill="#3c659a"/>
<rect x="1721" y="1351.11" width="37" height="72.70" fill="#3a72a6"/>
<rect x="1721" y="1302.97" width="37" height="48.63" fill="#3679ae"/>
<rect x="1721" y="1254.84" width="37" height="48.63" fill="#308abe"/>
<rect x="1721" y="1206.70" width="37" height="48.63" fill="#2a98c8"/>
<rect x="1721" y="1182.63" width="37" height="24.57" fill="#26a4d0"/>
<rect x="1721" y="1158.57" width="37" height="24.57" fill="#2cb0d8"/>
<rect x="1721" y="1134.50" width="37" height="24.57" fill="#56f038"/>
<rect x="1721" y="1110.43" width="37" height="24.57" fill="#4ee034"/>
<rect x="1721" y="1086.36" width="37" height="24.57" fill="#46d030"/>
<rect x="1721" y="1062.30" width="37" height="24.57" fill="#3ebe2c"/>
<rect x="1721" y="1038.23" width="37" height="24.57" fill="#38ac28"/>
<rect x="1721" y="1014.16" width="37" height="24.57" fill="#309a22"/>
<rect x="1721" y="990.09" width="37" height="24.57" fill="#2a861e"/>
<rect x="1721" y="966.03" width="37" height="24.57" fill="#22701a"/>
<rect x="1721" y="941.96" width="37" height="24.57" fill="#f0f040"/>
<rect x="1721" y="917.89" width="37" height="24.57" fill="#e4e83c"/>
<rect x="1721" y="893.82" width="37" height="24.57" fill="#d8de38"/>
<rect x="1721" y="869.76" width="37" height="24.57" fill="#d0d432"/>
<rect x="1721" y="845.69" width="37" height="24.57" fill="#c4c82c"/>
<rect x="1721" y="821.62" width="37" height="24.57" fill="#d4ac24"/>
<rect x="1721" y="797.55" width="37" height="24.57" fill="#da961c"/>
<rect x="1721" y="773.49" width="37" height="24.57" fill="#de8014"/>
<rect x="1721" y="749.42" width="37" height="24.57" fill="#ea0c30"/>
<rect x="1721" y="725.35" width="37" height="24.57" fill="#c80020"/>
<rect x="1721" y="701.28" width="37" height="24.57" fill="#c20018"/>
<rect x="1721" y="677.22" width="37" height="24.57" fill="#b0000c"/>
<rect x="1721" y="653.15" width="37" height="24.57" fill="#9a0000"/>
<rect x="1721" y="629.08" width="37" height="24.57" fill="#c20060"/>
<rect x="1721" y="605.01" width="37" height="24.57" fill="#d8009a"/>
<rect x="1721" y="580.95" width="37" height="24.57" fill="#e600e6"/>
<rect x="1721" y="556.88" width="37" height="24.57" fill="#cc00cc"/>
<rect x="1721" y="532.81" width="37" height="24.57" fill="#b400b4"/>
<rect x="1721" y="508.74" width="37" height="24.57" fill="#9a009a"/>
<rect x="1721" y="484.68" width="37" height="24.57" fill="#ffffff"/>
<rect x="1721" y="460.61" width="37" height="24.57" fill="#e0f7ee"/>
<rect x="1721" y="436.54" width="37" height="24.57" fill="#c6f3e2"/>
<rect x="1721" y="412.47" width="37" height="24.57" fill="#b4efd8"/>
<rect x="1721" y="388.41" width="37" height="24.57" fill="#a8ecd0"/>
<rect x="1721" y="340.27" width="37" height="48.64" fill="#96e4c6"/>
<rect x="1721" y="219.93" width="37" height="120.84" fill="#8adfbd"/>
</g>
<rect x="19.9" y="63.9" width="1549.3999999999999" height="154.7" fill="none" stroke="#000" stroke-width="2.78"/>
<rect x="19.9" y="219.6" width="1549.3999999999999" height="1541.0" fill="none" stroke="#000" stroke-width="2.78"/>
<rect x="1569.3" y="219.6" width="151.70000000000005" height="1541.0" fill="none" stroke="#000" stroke-width="2.4"/>
<rect x="1721" y="219.6" width="37.09999999999991" height="1541.0" fill="none" stroke="#000" stroke-width="2.2"/>
<line x1="1759" y1="1688.1" x2="1768.8" y2="1688.1" stroke="#000" stroke-width="2.2"/>
<text class="tick" x="1778.5" y="1700.3">−15</text>
<line x1="1759" y1="1607.8" x2="1768.8" y2="1607.8" stroke="#000" stroke-width="2.2"/>
<text class="tick" x="1778.5" y="1620.0">−10</text>
<line x1="1759" y1="1527.6" x2="1768.8" y2="1527.6" stroke="#000" stroke-width="2.2"/>
<text class="tick" x="1778.5" y="1539.8">−5</text>
<line x1="1759" y1="1447.4" x2="1768.8" y2="1447.4" stroke="#000" stroke-width="2.2"/>
<text class="tick" x="1778.5" y="1459.6">0</text>
<line x1="1759" y1="1367.2" x2="1768.8" y2="1367.2" stroke="#000" stroke-width="2.2"/>
<text class="tick" x="1778.5" y="1379.4">5</text>
<line x1="1759" y1="1286.9" x2="1768.8" y2="1286.9" stroke="#000" stroke-width="2.2"/>
<text class="tick" x="1778.5" y="1299.1">10</text>
<line x1="1759" y1="1206.7" x2="1768.8" y2="1206.7" stroke="#000" stroke-width="2.2"/>
<text class="tick" x="1778.5" y="1218.9">15</text>
<line x1="1759" y1="1126.5" x2="1768.8" y2="1126.5" stroke="#000" stroke-width="2.2"/>
<text class="tick" x="1778.5" y="1138.7">20</text>
<line x1="1759" y1="1046.2" x2="1768.8" y2="1046.2" stroke="#000" stroke-width="2.2"/>
<text class="tick" x="1778.5" y="1058.5">25</text>
<line x1="1759" y1="966.0" x2="1768.8" y2="966.0" stroke="#000" stroke-width="2.2"/>
<text class="tick" x="1778.5" y="978.2">30</text>
<line x1="1759" y1="885.8" x2="1768.8" y2="885.8" stroke="#000" stroke-width="2.2"/>
<text class="tick" x="1778.5" y="898.0">35</text>
<line x1="1759" y1="805.6" x2="1768.8" y2="805.6" stroke="#000" stroke-width="2.2"/>
<text class="tick" x="1778.5" y="817.8">40</text>
<line x1="1759" y1="725.4" x2="1768.8" y2="725.4" stroke="#000" stroke-width="2.2"/>
<text class="tick" x="1778.5" y="737.6">45</text>
<line x1="1759" y1="645.1" x2="1768.8" y2="645.1" stroke="#000" stroke-width="2.2"/>
<text class="tick" x="1778.5" y="657.3">50</text>
<line x1="1759" y1="564.9" x2="1768.8" y2="564.9" stroke="#000" stroke-width="2.2"/>
<text class="tick" x="1778.5" y="577.1">55</text>
<line x1="1759" y1="484.7" x2="1768.8" y2="484.7" stroke="#000" stroke-width="2.2"/>
<text class="tick" x="1778.5" y="496.9">60</text>
<line x1="1759" y1="404.5" x2="1768.8" y2="404.5" stroke="#000" stroke-width="2.2"/>
<text class="tick" x="1778.5" y="416.7">65</text>
<line x1="1759" y1="324.2" x2="1768.8" y2="324.2" stroke="#000" stroke-width="2.2"/>
<text class="tick" x="1778.5" y="336.4">70</text>
<line x1="1759" y1="244.0" x2="1768.8" y2="244.0" stroke="#000" stroke-width="2.2"/>
<text class="tick" x="1778.5" y="256.2">75</text>
<path d="M140.01,1851.23A38.4,38.4 0 1 1 140.01,1816.37" fill="none" stroke="#ffb200" stroke-width="18.6"/>
<path d="M99.1,1819.2 C107.4,1814.0 121.3,1814.0 133.2,1816.8 S156.9,1821.9 166.5,1814.0 L166.5,1826.7 C156.9,1833.8 145.2,1830.9 133.2,1827.9 S107.4,1825.9 99.1,1833.0Z" fill="#0093d3"/>
<path d="M99.1,1839.0 C107.4,1833.8 121.3,1833.8 133.2,1837.0 S156.9,1842.5 166.5,1834.6 L166.5,1847.7 C156.9,1854.0 145.2,1851.5 133.2,1848.5 S107.4,1846.5 99.1,1853.3Z" fill="#0093d3"/>
<text x="178.4" y="1807.7" style="font-family:'Liberation Sans','DejaVu Sans',sans-serif;fill:#1e1e1e;stroke:#1e1e1e;stroke-width:0.45px" font-size="28.2" textLength="112.4" lengthAdjust="spacingAndGlyphs">Servicio</text>
<text x="179.6" y="1833.5" style="font-family:'Liberation Sans','DejaVu Sans',sans-serif;fill:#1e1e1e;stroke:#1e1e1e;stroke-width:0.45px" font-size="28.2" textLength="200.4" lengthAdjust="spacingAndGlyphs">Meteorológico</text>
<text x="179.6" y="1859.6" style="font-family:'Liberation Sans','DejaVu Sans',sans-serif;fill:#1e1e1e;stroke:#1e1e1e;stroke-width:0.45px" font-size="28.2" textLength="118.6" lengthAdjust="spacingAndGlyphs">Nacional</text>
<text x="180.2" y="1880.4" style="font-family:'Liberation Sans','DejaVu Sans',sans-serif;fill:#1e1e1e;stroke:#1e1e1e;stroke-width:0.45px;stroke-width:0.7px" font-size="18.6" textLength="92.8" lengthAdjust="spacingAndGlyphs">Argentina</text>
<g transform="translate(532.9,1840.2)" stroke="#27305a" fill="none" stroke-linecap="round">
<path d="M-8.2,-43.5L-20.4,-39.6M-8.5,-44.6L-18.5,-42.8M-8.6,-45.7L-21.5,-45.0M-8.6,-46.9L-18.7,-47.6M-8.4,-48.0L-21.0,-50.6M-8.1,-49.0L-17.7,-52.4M-7.7,-50.1L-19.2,-55.9M-7.1,-51.0L-15.6,-56.8M-6.4,-51.9L-16.1,-60.5M-5.6,-52.7L-12.3,-60.4M-4.7,-53.4L-11.9,-64.1M-3.8,-53.9L-8.3,-63.1M-2.7,-54.3L-6.9,-66.6M-1.7,-54.6L-3.6,-64.6M-0.6,-54.8L-1.4,-67.7M0.6,-54.8L1.2,-65.0M1.7,-54.6L4.2,-67.3M2.7,-54.3L6.0,-64.0M3.8,-53.9L9.4,-65.5M4.7,-53.4L10.4,-61.9M5.6,-52.7L14.1,-62.4M6.4,-51.9L14.1,-58.7M7.1,-51.0L17.8,-58.3M7.7,-50.1L16.8,-54.6M8.1,-49.0L20.3,-53.3M8.4,-48.0L18.4,-50.0M8.6,-46.9L21.4,-47.8M8.6,-45.7L18.8,-45.2M8.5,-44.6L21.1,-42.3M8.2,-43.5L17.9,-40.4" stroke-width="1.05" opacity="0.9"/>
<circle cx="0" cy="-46.2" r="7.2" stroke-width="1.1" fill="#e6e6e6"/>
<path d="M-4.2,-46.800000000000004h2.6M1.6,-46.800000000000004h2.6M-1.4,-43.2h2.8" stroke-width="1.1"/>
<ellipse cx="0" cy="3" rx="32.8" ry="42.8" stroke-width="6.6" stroke-dasharray="3 1.7" stroke-linecap="butt" opacity="0.62"/>
<ellipse cx="0" cy="3" rx="36" ry="46" stroke-width="0.7" stroke-dasharray="2 1.2" stroke-linecap="butt" opacity="0.8"/>
<ellipse cx="0" cy="0" rx="28" ry="39.8" stroke-width="1.5" fill="#e6e6e6"/>
<path d="M-17.2,-30H17.2M-20.6,-24.9H20.6M-23.1,-19.8H23.1M-24.8,-14.7H24.8M-26.0,-9.6H26.0M-26.6,-4.5H26.6M-26.8,0.6H26.8" stroke-width="0.75" opacity="0.8"/>
<path d="M-25.5,11.5C-12,6.5 12,6.5 25.5,11.5" stroke-width="0.8" opacity="0.8"/>
<path d="M-22.5,21.5L-6,13.5M22.5,21.5L6,13.5" stroke-width="0.9" opacity="0.85"/>
<path d="M-8,14.5C-5,9.5 5,9.5 8.5,14.5C6,19.5 -5,19.5 -8,14.5Z" stroke-width="0.9" fill="#e6e6e6"/>
<path d="M0,-13V32" stroke-width="1.6"/>
<path d="M-8.6,-14.5C-10.5,-24 -6,-28.5 -1,-27.5C6,-27 9.5,-20 9.8,-14.2C4,-12.2 -3,-12.4 -8.6,-14.5Z" stroke-width="1.1" fill="#e6e6e6"/>
<rect x="-4.6" y="41.5" width="9.2" height="5.4" fill="#27305a" stroke="none"/>
<path d="M-2,46L-9.5,54M2,46L9.5,54" stroke-width="2.6" stroke-linecap="butt"/>
<path d="M-11.5,53.2l4.6,3.2M11.5,53.2l-4.6,3.2" stroke-width="1.6"/>
</g>
<text x="583.4" y="1828" style="font-family:'Liberation Serif','DejaVu Serif',serif;fill:#232a52;font-weight:bold" font-size="29.3" textLength="131.8" lengthAdjust="spacingAndGlyphs">Ministerio</text>
<text x="584" y="1853.4" style="font-family:'Liberation Serif','DejaVu Serif',serif;fill:#232a52;font-weight:bold" font-size="29.3" textLength="131.5" lengthAdjust="spacingAndGlyphs">de Defensa</text>
<text x="584" y="1873.4" style="font-family:'Liberation Serif','DejaVu Serif',serif;fill:#343c64" font-size="16.8" textLength="149.4" lengthAdjust="spacingAndGlyphs">República Argentina</text>
<g transform="translate(894.3,1840.2)" stroke="#27305a" fill="none" stroke-linecap="round">
<path d="M-8.2,-43.5L-20.4,-39.6M-8.5,-44.6L-18.5,-42.8M-8.6,-45.7L-21.5,-45.0M-8.6,-46.9L-18.7,-47.6M-8.4,-48.0L-21.0,-50.6M-8.1,-49.0L-17.7,-52.4M-7.7,-50.1L-19.2,-55.9M-7.1,-51.0L-15.6,-56.8M-6.4,-51.9L-16.1,-60.5M-5.6,-52.7L-12.3,-60.4M-4.7,-53.4L-11.9,-64.1M-3.8,-53.9L-8.3,-63.1M-2.7,-54.3L-6.9,-66.6M-1.7,-54.6L-3.6,-64.6M-0.6,-54.8L-1.4,-67.7M0.6,-54.8L1.2,-65.0M1.7,-54.6L4.2,-67.3M2.7,-54.3L6.0,-64.0M3.8,-53.9L9.4,-65.5M4.7,-53.4L10.4,-61.9M5.6,-52.7L14.1,-62.4M6.4,-51.9L14.1,-58.7M7.1,-51.0L17.8,-58.3M7.7,-50.1L16.8,-54.6M8.1,-49.0L20.3,-53.3M8.4,-48.0L18.4,-50.0M8.6,-46.9L21.4,-47.8M8.6,-45.7L18.8,-45.2M8.5,-44.6L21.1,-42.3M8.2,-43.5L17.9,-40.4" stroke-width="1.05" opacity="0.9"/>
<circle cx="0" cy="-46.2" r="7.2" stroke-width="1.1" fill="#e6e6e6"/>
<path d="M-4.2,-46.800000000000004h2.6M1.6,-46.800000000000004h2.6M-1.4,-43.2h2.8" stroke-width="1.1"/>
<ellipse cx="0" cy="3" rx="32.8" ry="42.8" stroke-width="6.6" stroke-dasharray="3 1.7" stroke-linecap="butt" opacity="0.62"/>
<ellipse cx="0" cy="3" rx="36" ry="46" stroke-width="0.7" stroke-dasharray="2 1.2" stroke-linecap="butt" opacity="0.8"/>
<ellipse cx="0" cy="0" rx="28" ry="39.8" stroke-width="1.5" fill="#e6e6e6"/>
<path d="M-17.2,-30H17.2M-20.6,-24.9H20.6M-23.1,-19.8H23.1M-24.8,-14.7H24.8M-26.0,-9.6H26.0M-26.6,-4.5H26.6M-26.8,0.6H26.8" stroke-width="0.75" opacity="0.8"/>
<path d="M-25.5,11.5C-12,6.5 12,6.5 25.5,11.5" stroke-width="0.8" opacity="0.8"/>
<path d="M-22.5,21.5L-6,13.5M22.5,21.5L6,13.5" stroke-width="0.9" opacity="0.85"/>
<path d="M-8,14.5C-5,9.5 5,9.5 8.5,14.5C6,19.5 -5,19.5 -8,14.5Z" stroke-width="0.9" fill="#e6e6e6"/>
<path d="M0,-13V32" stroke-width="1.6"/>
<path d="M-8.6,-14.5C-10.5,-24 -6,-28.5 -1,-27.5C6,-27 9.5,-20 9.8,-14.2C4,-12.2 -3,-12.4 -8.6,-14.5Z" stroke-width="1.1" fill="#e6e6e6"/>
<rect x="-4.6" y="41.5" width="9.2" height="5.4" fill="#27305a" stroke="none"/>
<path d="M-2,46L-9.5,54M2,46L9.5,54" stroke-width="2.6" stroke-linecap="butt"/>
<path d="M-11.5,53.2l4.6,3.2M11.5,53.2l-4.6,3.2" stroke-width="1.6"/>
</g>
<text x="946.6" y="1827.2" style="font-family:'Liberation Serif','DejaVu Serif',serif;fill:#232a52;font-weight:bold" font-size="29.3" textLength="134.4" lengthAdjust="spacingAndGlyphs">Ministerio</text>
<text x="947.4" y="1852.7" style="font-family:'Liberation Serif','DejaVu Serif',serif;fill:#232a52;font-weight:bold" font-size="29.3" textLength="161.1" lengthAdjust="spacingAndGlyphs">de Economía</text>
<text x="946.3" y="1873.4" style="font-family:'Liberation Serif','DejaVu Serif',serif;fill:#343c64" font-size="17" textLength="153" lengthAdjust="spacingAndGlyphs">República Argentina</text>
</svg></body></html>
